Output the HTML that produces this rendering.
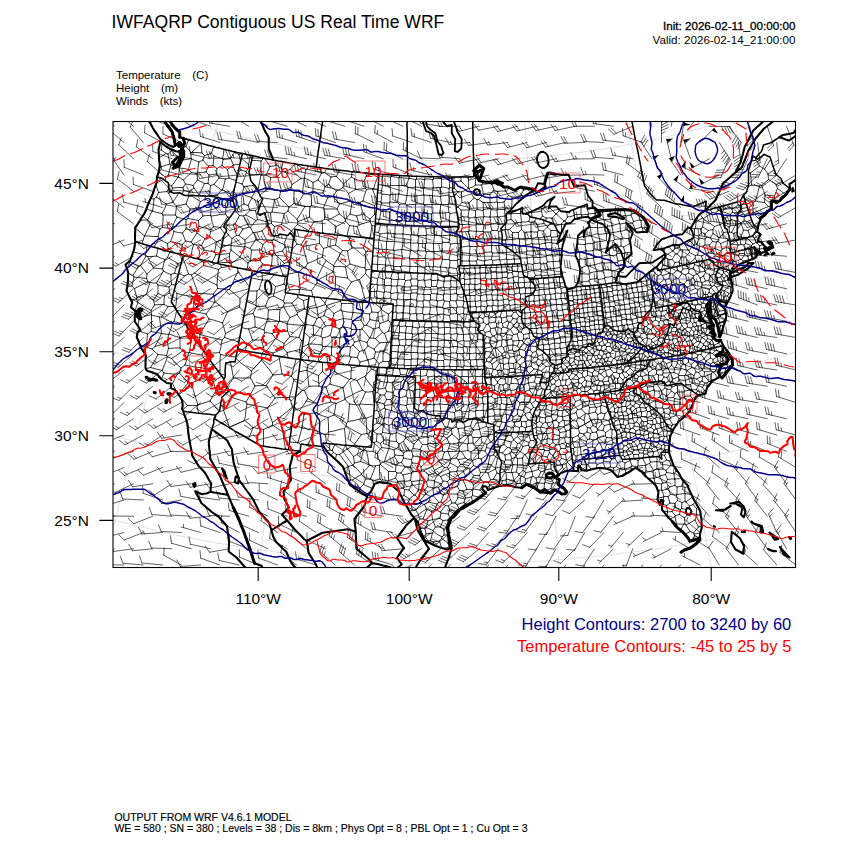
<!DOCTYPE html>
<html><head><meta charset="utf-8"><title>WRF</title>
<style>
html,body{margin:0;padding:0;background:#fff;}
body{width:850px;height:850px;position:relative;overflow:hidden;font-family:"Liberation Sans",sans-serif;color:#000;}
.t{position:absolute;white-space:pre;line-height:1;}
#title{left:111.6px;top:13.69px;font-size:17.5px;letter-spacing:0.04px;}
#f1,#f2,#f3{left:116px;font-size:11.5px;word-spacing:0.7px;}
#f1{top:70.07px}#f2{top:82.77px}#f3{top:95.77px}
#init,#valid{right:54.6px;font-size:11.65px;text-align:right;}
#init{top:20.14px;-webkit-text-stroke:0.3px #000;}
#valid{top:33.54px;}
#hc,#tc{right:58.7px;font-size:16.5px;text-align:right;}
#hc{top:615.73px;color:#00008b;}
#tc{top:637.93px;color:#ff0000;}
.lat{font-size:15.5px;right:761px;text-align:right;}
.lon{font-size:15.5px;transform:translateX(-50%);top:590.68px;}
#b1,#b2{left:114.4px;font-size:10.5px;-webkit-text-stroke:0.15px #000;}
#b1{top:812.1px}#b2{top:823.17px}
svg{position:absolute;left:0;top:0;}
</style></head><body>
<div class="t" id="title">IWFAQRP Contiguous US Real Time WRF</div>
<div class="t" id="f1">Temperature   (C)</div>
<div class="t" id="f2">Height   (m)</div>
<div class="t" id="f3">Winds   (kts)</div>
<div class="t" id="init">Init: 2026-02-11_00:00:00</div>
<div class="t" id="valid">Valid: 2026-02-14_21:00:00</div>
<div class="t lat" id="la45" style="top:175.68px">45°N</div>
<div class="t lat" id="la40" style="top:260.35px">40°N</div>
<div class="t lat" id="la35" style="top:344.08px">35°N</div>
<div class="t lat" id="la30" style="top:428.08px">30°N</div>
<div class="t lat" id="la25" style="top:512.68px">25°N</div>
<div class="t lon" id="lo110" style="left:258.2px">110°W</div>
<div class="t lon" id="lo100" style="left:409.2px">100°W</div>
<div class="t lon" id="lo90" style="left:558.8px">90°W</div>
<div class="t lon" id="lo80" style="left:711.2px">80°W</div>
<div class="t" id="hc">Height Contours: 2700 to 3240 by 60</div>
<div class="t" id="tc">Temperature Contours: -45 to 25 by 5</div>
<div class="t" id="b1">OUTPUT FROM WRF V4.6.1 MODEL</div>
<div class="t" id="b2">WE = 580 ; SN = 380 ; Levels = 38 ; Dis = 8km ; Phys Opt = 8 ; PBL Opt = 1 ; Cu Opt = 3</div>
<svg width="850" height="850" viewBox="0 0 850 850">
<defs><clipPath id="fc"><rect x="113" y="121.5" width="682.5" height="446"/></clipPath></defs>
<g clip-path="url(#fc)" fill="none" stroke-linejoin="round" stroke-linecap="round">
<path transform="scale(0.5)" stroke="#d4d4d4" stroke-width="1.4"  d="M-260 1046l58 25 59 24 59 22 60 22 60 19 60 19 61 17 61 16 62 15 62 13 62 11 63 11 62 9 63 8 63 6 63 5 64 3 63 2 63 1 63-1 64-2 63-3 63-5 63-6 63-8 63-9 62-10 62-12 62-13 62-15 61-16 61-17 61-18 60-20 59-21 60-23 58-24 58-25 58-26M-193 894l55 24 56 22 55 21 57 20 56 19 57 17 58 17 57 14 58 14 59 13 58 11 59 9 59 9 59 7 60 6 59 5 60 3 59 2 60 1 60-1 59-2 60-3 59-5 60-6 59-7 59-8 59-10 59-11 58-13 58-13 58-15 57-17 57-17 57-19 56-20 56-21 55-22 55-24 54-25M-126 745l51 22 52 21 53 20 52 19 54 17 53 17 54 15 54 14 55 13 55 12 55 10 55 9 56 8 55 7 56 6 56 4 56 3 56 2 56 0 56 0 56-2 56-3 56-4 56-6 56-7 55-8 55-9 55-10 55-12 55-13 54-14 54-15 54-16 53-18 53-19 52-20 52-21 52-22 51-23M-61 598l48 21 49 19 49 19 50 18 49 16 51 15 50 15 51 13 51 12 52 11 51 10 52 8 52 8 52 6 52 5 53 4 52 3 53 2 52 0 53 0 52-2 53-3 52-4 52-5 52-6 52-8 52-8 52-10 51-11 51-12 51-13 51-14 50-16 50-16 49-18 49-18 49-20 48-21 48-22M4 452l45 19 46 18 45 18 46 16 47 16 47 14 47 13 47 12 48 12 48 10 48 9 49 8 48 7 49 6 48 5 49 4 49 2 49 2 49 0 49 0 49-2 49-2 49-4 49-5 48-6 49-7 48-8 48-9 48-10 48-11 47-13 48-13 46-14 47-16 46-16 46-17 45-19 45-19 45-21M69 305l42 18 42 17 43 16 42 16 44 14 43 13 44 13 44 11 44 10 45 10 44 8 45 8 45 6 45 6 46 4 45 4 45 2 46 2 45 0 46 0 45-2 46-2 45-4 45-4 45-6 45-6 45-8 45-8 44-10 45-10 44-11 43-13 44-13 43-14 43-15 42-17 43-17 41-18 42-19M135 157l38 17 39 16 39 15 40 14 40 13 40 12 40 11 41 11 40 9 41 9 42 8 41 7 41 6 42 5 42 4 42 3 41 3 42 1 42 0 42 0 42-1 42-3 42-3 41-4 42-5 41-6 42-7 41-8 41-8 41-10 40-10 41-12 40-12 40-13 39-14 39-15 39-16 39-17 38-17M202 7l35 15 35 14 36 14 36 13 37 12 36 11 37 10 37 10 37 9 38 8 38 7 37 6 38 6 38 4 38 4 38 3 39 2 38 1 38 1 39-1 38-1 38-2 38-3 38-4 38-4 38-6 38-6 38-7 37-8 37-9 37-10 37-10 37-11 36-12 36-13 36-14 36-14 35-15 35-16M-138 1170l464-1221M171 1268l327-1265M488 1332l187-1293M811 1360l43-1305M1135 1353l-101-1302M1456 1310l-243-1283M1770 1233l-382-1249M2074 1121l-517-1199"/>
<path transform="scale(0.5)" stroke="#000" stroke-width="1.56"  d="M260 524l-6 13M264 572l-9 1M266 551l-9-4M260 522l0 2M278 532l-9-4-9-4M267 599l-6-1M264 572l5 5M268 554l-2 9-2 9M267 599l-3 4M266 551l2 3M278 532l-6 9-6 10M291 510l-8-2-8-2-8-2M273 598l-6 1M293 557l-8-1-9-1-8-1M269 577l2 9 3 9M296 563l-13 7-14 7M276 605l-3 8-3 8M270 631l8 6-2 14M271 457l9 7 9 8M273 598l3 7M274 595l-1 3M274 595l9-3 10-3M302 621l-9-5-8-5-9-6M281 531l-3 1M279 662l8 3 8 3M293 694l-7-2-6-3M295 440l-7 0-7 1M281 531l6 8 7 9M292 512l-5 9-6 10M303 629l-11 3-11 4M289 472l-5 15M291 696l-6 3M289 472l9 0 9 1 9 0M301 448l-6 12-6 12M291 708l0-12M291 510l1 2M294 491l-1 10-2 9M293 694l-2 2M291 736l2 1M292 512l3 1M293 694l11 4M295 668l-1 13-1 13M293 737l0 1M301 735l-8 2M293 589l7 5 7 6M300 565l-4 12-3 12M293 418l6 2 5 2M293 557l3 6M294 548l-1 9M307 536l-13 12M302 663l-7 5M301 448l-6-8M304 422l-4 9-5 9M295 513l6 12 6 11M313 512l-9 1-9 0M296 563l4 2M313 566l-7 0-6-1M320 458l-10-5-9-5M301 735l11 3 12 3M316 709l-7 13-8 13M308 398l-6-1M302 621l1 8M309 610l-7 11M323 667l-10-2-11-2M303 630l0 11 0 11-1 11M303 629l0 1M319 634l-8-2-8-2M304 422l1 0M304 698l6 6 6 5M310 693l-6 5M305 422l9 3 10 2M308 398l-1 12-2 12M307 536l9 1 9 1M307 600l2 10M316 587l-9 13M318 478l-5 8-5 8M313 394l-5 4M309 610l9-1 10 0M323 667l-6 13-7 13M335 685l-12 4-13 4M312 370l5 15M315 365l-3 4M313 394l7 5 6 5 7 4M317 385l-4 9M316 570l-3-4M327 542l-7 12-7 12M330 519l-9-3-8-4M316 497l-3 15M314 358l1 7M315 365l12-6M338 574l-11-2-11-2M316 570l0 9 0 8M316 473l2 5M320 458l-2 8-2 7M316 587l7 3 6 2M333 711l-8-1-9-1M334 383l-9 1-8 1M318 344l-1 0M323 300l-5-1M318 343l0 1M331 354l-7-5-6-5M335 487l-8-4-9-5M332 307l-14 9M318 340l3-6M323 634l-4 0M319 634l2 16 2 17M320 333l1 1M325 455l-5 3M321 334l9-3 10-3M323 300l9 7M324 287l-1 13M337 669l-7-1-7-1M323 634l11 6 11 5M336 613l-6 10-7 11M328 746l-5 12M324 427l2 3M333 408l-4 10-5 9M324 741l4 5M335 714l-5 13-6 14M325 455l9 1 9 1M326 430l0 12-1 13M325 538l2 4M330 519l-3 10-2 9M351 430l-8 0-9 0-8 0M342 549l-8-3-7-4M328 609l8 4M329 592l-1 8 0 9M328 746l9 1 9 1 9 0M339 586l-10 6M335 515l-5 4M331 354l0 7M337 350l-6 4M336 308l-4-1M336 497l-4 4M346 405l-6 1-7 2M333 711l2 3M337 697l-4 14M334 383l3 3M337 377l-3 6M335 515l11 6 10 6M339 505l-4 10M335 685l2 12M337 669l-2 16M343 717l-8-3M335 487l1 10M341 483l-6 4M336 308l2 10 2 10M343 302l-7 6M347 613l-11 0M336 497l7 4 6 4M356 354l-9-2-10-2M342 330l-3 10-2 10M338 668l-1 1M337 386l5 9 4 9M342 384l-5 2M360 696l-11 0-12 1M338 369l5 3M339 586l-1-12M343 569l-5 5M360 675l-11-3-11-4M345 645l-3 12-4 11M339 504l0 1M339 505l3 0M345 592l-6-6M340 328l2 2M341 383l2 1M341 483l8 2 8 2 8 2M348 463l-3 10-4 10M342 549l0 10 1 10M349 546l-7 3M350 332l-8-2M345 767l-3 1M343 457l5 6M354 434l-6 12-5 11M343 372l2 4M356 354l-6 9-7 9M343 569l8 1M343 717l9 10 10 9M365 702l-11 8-11 7M343 302l9 8 8 8M344 300l-1 2M345 376l-2 8M345 300l-1 0M366 375l-11 0-10 1M348 643l-3 2M352 781l-7-14M355 748l-5 9-5 10M346 405l7 7M346 404l0 1M358 386l-6 9-6 9M347 613l6 9M348 612l-1 1M348 643l11 3 12 3M353 622l-2 10-3 11M365 466l-8-1-9-2M349 546l7 3M356 527l-4 10-3 9M349 580l5 7M354 587l-1 14-2 15M351 430l3 4M353 412l-1 9-1 9M369 552l-8 9-9 9M353 412l10-2 9-2M354 622l-1 0M390 594l-12-2-12-2-12-3M372 439l-9-2-9-3M354 507l7-1M354 621l9 1 8 2 9 2M359 746l-4 2M362 525l-6 2M357 333l-1 0M357 354l-1 0M357 333l2 3M357 354l5 3 5 3M359 336l-1 9-1 9M377 765l-10 12-10 11M358 547l11 5M377 339l-9-2-9-1M359 746l9 10 9 9M362 736l-3 10M360 696l5 6M360 675l0 10 0 11M360 509l4 11M375 672l-7 1-8 2M361 506l5 4M365 489l-2 8-2 9M370 730l-8 6M362 796l7 8 6 7M364 320l9-1 9-2M367 380l-2 8M371 482l-6 7M377 706l-6-2-6-2M365 296l1 0M365 466l6 16M372 458l-7 8M366 296l-1 1M372 293l-6 3M375 811l-9 8M377 548l-5-15-6-16M370 512l-4 5M366 375l1 5M371 368l-5 7M367 360l4 8M383 345l-8 7-8 8M378 384l-6-2-5-2M369 552l8-4M370 730l10 2 10 2 10 1 10 2M377 706l-3 12-4 12M371 368l7 1 8 2M382 484l-11-2M372 293l5 6 5 6M377 280l-5 13M372 408l8 10M377 393l-5 15M393 462l-10-2-11-2M372 439l0 10 0 9M376 437l-4 2M374 654l1 9 0 9M394 811l-9 0-10 0M375 672l8 4M377 393l-1-2M376 437l10 2 11 2M380 418l-2 9-2 10M378 384l-1 6M384 392l-7 1M382 766l-5-1M377 339l6 6M383 318l-3 10-3 11M383 550l-6-2M379 705l-2 1M388 376l-10 8M404 710l-12-2-13-3M383 676l-2 15-2 14M380 418l8-1 9-2M380 626l0 11 0 12 0 11M385 622l-5 4M380 661l10 4 10 3M382 317l1 1M382 305l0 12M387 489l-3 12-2 13M383 305l-1 0M382 484l5 5M394 466l-6 9-6 9M382 766l5 15 4 14 5 15M414 754l-11 4-10 4-11 4M398 324l-8-3-7-3M383 550l4 12 5 13 4 12M389 546l-6 4M383 305l11 0 10 1M402 287l-9 9-10 9M394 347l-11-2M388 675l-5 1M384 392l9 6 8 5M385 391l-1 1M412 628l-9-2-9-2-9-2M390 594l-2 14-3 14M386 371l2 5M395 360l-9 11M387 489l8 1 8 1M388 376l5 7 5 7M389 546l9 5 9 5 9 5 9 5 9 4M407 531l-9 7-9 8M396 587l-6 7M393 462l1 4M398 453l-5 9M394 347l1 13M395 346l-1 1M410 477l-8-5-8-6M397 826l-3-15M396 810l-2 1M398 324l-2 11-1 11M412 344l-9 1-8 1M395 360l7 3 7 4M396 810l12-4 12-4M427 588l-11 0-10-1-10 0M408 500l-6 9-6 9M398 390l-1 1M397 519l10 6M397 415l5 8 4 9M401 403l-4 12M397 441l1 12M406 432l-9 9M406 320l-8 4M410 392l-6-1-6-1M409 367l-5 11-6 12M400 669l-1 9-1 9M422 459l-8-2-8-2-8-2M400 668l0 1M418 638l-6 10-6 10-6 10M444 680l-11-3-11-2-11-3-11-3M410 398l-9 5M404 306l-1-10-1-9M403 491l5 9M410 477l-7 14M404 306l5 5M404 710l9 15M407 702l-3 8M406 320l5 6 6 6M409 311l-3 9M421 431l-7 0-8 1M407 525l0 6M408 521l-1 4M437 539l-10-3-10-3-10-2M429 504l-11-2-10-2M423 306l-7 3-7 2M416 367l-7 0M410 737l4 17M413 725l-3 12M419 473l-9 4M410 398l7 4 7 4M411 393l-1 5M412 344l6 6M417 332l-5 12M439 705l-9 1-9 0-9 1M412 628l6 10M430 603l-9 13-9 12M413 725l7-3M427 764l-7-5-6-5M416 367l5 4M418 350l-1 8-1 9M426 331l-9 1M418 638l9 2 9 3 9 3M433 348l-8 1-7 1M421 371l-1 10-1 10M419 391l8 0 7 0M419 473l7 5 7 6M422 459l-3 14M420 722l1 0M421 722l-1 0M420 802l9 10 9 11M432 781l-6 10-6 11M421 431l1 1M424 406l-2 13-1 12M428 369l-7 2M422 432l2 11 3 10M451 428l-10 1-10 2-9 1M427 453l-5 6M423 306l5 6M427 294l-4 12M427 405l-3 1M432 509l-4 8-4 7M426 331l8 6M428 312l-1 10-1 9M427 453l7 1 6 1M427 588l3 15M435 577l-8 11M427 764l5 17M443 752l-8 6-8 6M428 294l-1 0M427 405l8 2 8 2 7 2M432 395l-5 10M445 317l-9-2-8-3M428 369l8 6 7 5M438 356l-10 13M429 504l3 5M433 484l-2 10-2 10M455 624l-8-7-9-7-8-7M439 510l-7-1M453 785l-10-2-11-2M433 348l5 8M434 337l-1 11M441 481l-8 3M434 570l1 7M437 539l-2 16-1 15M444 331l-10 6M434 391l4 5M443 380l-9 11M459 579l-12-1-12-1M460 525l-12 0-11-1M443 535l-6 4M451 358l-6-1-7-1M441 709l-2-4M444 680l-2 13-3 12M459 507l-10 1-9 1M441 709l-1 13 0 12 0 12M440 455l9 12M455 434l-7 11-8 10M471 714l-10-1-10-2-10-2M441 481l4 3M447 472l-6 9M443 535l-2-6M441 748l9 2M442 812l2-1M457 533l-7 1-7 1M445 380l-2 0M462 491l-9 0-9 0M449 675l-5 5M444 331l6 4 5 4M446 319l-2 12M444 811l5 15 5 14 5 15 15-7 15-7M464 795l-10 8-10 8M445 317l1 2M448 299l-1 9-2 9M445 380l8 4 8 4M451 358l-3 11-3 11M445 646l3 10 3 11M445 646l5-11 5-11M461 317l-7 1-8 1M457 470l-10 8M449 675l9 3 8 2 8 3M451 667l-2 8M450 411l2 4M454 400l-4 11M484 649l-11 6-11 6-11 6M451 428l4 6M452 415l-1 13M451 447l1 1M458 356l-7 2M452 415l8-1 8-2M452 448l2 3M459 437l-7 11M454 451l-2 7M452 464l5 6M452 772l3 1M456 783l-3 2M467 450l-6 0-7 1M455 339l3 17M465 331l-10 8M455 773l5 11 4 11M467 756l-6 8-6 9M459 435l-4-1M479 614l-12 5-12 5M457 470l7 7M458 356l7 3 7 2M462 397l-3 3M459 507l0 9 1 9M462 500l-3 7M459 579l7 6 7 6 7 6M476 543l-6 12-5 12-6 12M460 525l2 2M461 725l3 15 3 16M461 317l6 13M469 305l-8 12M461 388l1 9M468 379l-7 9M489 494l-9-1-9-1-9-1M462 491l0 9M464 477l-2 14M462 397l4 1M480 514l-9-7-9-7M462 527l2 6M480 514l-9 7-9 6M473 471l-9 6M492 804l-9-3-10-3-9-3M465 331l5 10 5 9M467 330l-2 1M472 395l-6 3M467 756l11 0 11 0 12 0M479 329l-6 0-6 1M467 450l3 11 3 10M470 448l-3 2M475 391l-7-7M468 304l1 0 0 1M473 424l-4-1M478 309l-9-4M470 448l8 5 8 5M479 431l-4 8-5 9M472 360l0 1M472 364l6 2 6 2M472 717l10 9 11 8 10 8M472 395l3 10 2 9M475 391l-3 4M473 424l6 7M477 414l-4 10M485 701l-12 13M473 471l5 0M474 683l3 2M478 680l-4 3M484 388l-9 3M475 536l0 1M475 537l1 6M477 537l-2 0M476 697l2 2M476 543l7 10 8 10 7 10M482 340l-5 4M488 408l-11 6M478 471l6 5 6 4M486 458l-8 13M478 309l3 14M484 307l-6 2M479 334l3 6M487 432l-8-1M479 614l9 9M480 597l0 9-1 8M480 674l7 7 6 8M489 494l-4 10-5 10M480 514l8 6 8 6M496 583l-8 7-8 7M482 340l10 3M497 329l-7-6-7-7M497 658l-7-1-6-2M484 368l4 6M493 345l-4 12-5 11M484 388l1 0M488 374l-4 14M485 388l9 4 9 3M485 388l2 10 1 10M498 454l-12 4M487 432l6 11 5 11M491 430l-4 2M488 623l0 2M489 622l-1 1M506 371l-9 1-9 2M488 408l8 3M488 632l9-3 9-2M490 493l-1 1M489 841l9 7 8 7M494 808l-2 11-1 11-2 11M490 480l0 13M506 465l-8 8-8 7M490 493l10 4M495 536l-4 2M491 430l7 3 7 4 7 4M500 421l-9 9M493 689l-2 12M492 343l1 2M497 336l-5 7M492 804l2 4M510 772l-6 11-6 11-6 10M499 350l-6-5M505 680l-12 9M512 611l-9-4-9-4M494 808l10 2 11 2 10 2 10 2M495 536l5 3 6 2M496 526l-1 10M496 411l4 10M504 396l-4 7-4 8M501 522l-5 4M497 329l0 7M501 311l-2 9-2 9M497 658l4 11 4 11M510 654l-13 4M506 855l-4 11-5 11M497 336l3-1M498 582l8 0 8 0M498 454l3 1M500 349l11 0 11 0M500 497l3 3M512 478l-6 10-6 9M511 421l-11 0M501 455l5 10M512 441l-6 7-5 7M501 756l9 16M503 742l-2 14M503 500l-1 11-1 11M520 521l-10 0-9 1M523 500l-10 0-10 0M503 556l10 2 11 2M523 720l-10 11-10 11M503 395l1 1M512 378l-4 9-5 8M504 321l9 0 9 1M504 396l6 4 6 4M505 680l9 0 9 0M506 627l3 6M513 613l-7 14M506 465l1 0M506 371l6 7M507 368l-1 3M527 859l-10-2-11-2M507 465l5 13M524 462l-8 2-9 1M535 639l-9-2-8-2-9-2M509 633l1 10 0 11M532 771l-11 0-11 1M510 654l9 3 9 3M511 421l2 9 2 9M517 416l-6 5M512 478l7 6 7 5M512 611l1 2M514 582l-1 15-1 14M514 379l-2-1M515 439l-3 2M531 612l-9 1-9 0M525 528l-6 7-5 8M519 578l-5 4M532 443l-8-2-9-2M522 350l-3 15-3 15M516 404l1 12M524 397l-8 7M517 416l1 0M517 428l8-1M519 578l9 9 10 9M524 560l-3 9-2 9M520 521l5 7M525 503l-3 9-2 9M532 380l-12 10M522 349l0 1M522 322l0 13 0 14M527 317l-5 5M527 351l-5-1M523 680l3 11 3 11M530 665l-4 7-3 8M523 500l2 3M526 489l-3 11M549 400l-8-2-9-1-9-2M523 404l6 10 5 10M529 702l-6 5M523 720l8 10 8 10 7 10M524 708l-1 12M525 560l-1 0M524 462l5 10 5 10M533 452l-9 10M524 546l1 14M525 560l6 0 7 1M545 510l-10-4-10-3M525 528l8 2 9 2M534 482l-8 7M527 351l2 14 3 15M532 350l-5 1M527 859l0 16 0 16M545 850l-9 5-9 4M528 660l2 5M535 639l-4 11-3 10M529 317l6 8 5 8M533 702l-4 0M544 667l-7-1-7-1M539 545l-9 1M534 424l-4 2M531 612l6 8M538 596l-4 8-3 8M540 376l-8 4M550 796l-9-13-9-12M546 750l-7 11-7 10M541 355l-9-5M540 333l-4 9-4 8M532 443l1 9M534 441l-2 2M537 454l-4-2M546 706l-6-2-7-2M551 677l-9 13-9 12M534 424l7 2M544 481l-10 1M536 637l-1 2M535 816l5 15 5 14M550 796l-7 10-8 10M536 637l11 3 11 3M537 620l-1 9 0 8M560 619l-12 0-11 1M543 447l-6 1M538 561l6 6 7 6M548 550l-10 11M547 592l-9 4M539 545l1 2M542 532l-3 13M540 376l7 2 7 2 7 3M541 355l-1 10 0 11M553 330l-6 2-7 1M555 353l-7 1-7 1M541 426l1 10 1 11M544 424l-3 2M543 531l-1 1M543 531l8 1 9 1M545 510l-1 10-1 11M543 447l6 6M544 481l3 13 2 13M547 479l-3 2M544 667l7 10M547 665l-3 2M569 427l-9-1-8-1-8-1M544 424l3-12 2-12M545 850l10 7 11 7M545 845l0 5M549 507l-4 3M585 814l-13 11-13 10-14 10M549 453l-2 9-1 9M546 706l1 5M567 697l-11 5-10 4M564 748l-9 1-9 1M547 479l10 5 11 5M549 472l-2 7M547 592l10 5 10 5M551 573l-2 9-2 10M558 643l-5 11-6 11M547 665l9-1 9-1 10-1M549 507l10 10 10 10M565 502l-8 2-8 3M559 395l-10 5M563 449l-7 2-7 2M553 330l-3-9M578 795l-9 0-9 0-10 1M568 568l-8 3-9 2M568 687l-8-5-9-5M563 337l-5-3-5-4M555 353l4 14 4 14M565 342l-10 11M558 714l2 11 2 11 2 12M559 642l-1 1M559 395l9 9 10 10M561 383l-2 12M559 642l8 3 7 2M560 619l-1 12 0 11M567 612l-7 7M560 533l6 17M569 527l-9 6M563 381l-2 2M563 337l2 5M566 324l-3 13M563 381l10-3 9-3M563 449l10 6 10 7M569 427l-3 11-3 11M564 748l10 2 9 3M565 502l6 10 6 10M570 494l-5 8M571 343l-6-1M566 550l-1 2M566 864l1 11 2 11 2 12M580 858l-14 6M575 550l-9 0M567 612l6 12 7 11M569 606l-2 6M567 602l2 4M572 586l-3 8-2 8M567 697l7 8M568 687l-1 10M568 489l2 5M574 471l-3 9-3 9M572 572l-4-4M570 553l-2 15M580 673l-12 14M576 422l-7 5M576 524l-7 3M584 606l-8 0-7 0M584 495l-7-1-7 0M571 343l7 13 6 13M580 339l-9 4M574 647l0 1M580 635l-6 12M574 585l5-5M607 651l-11-1-11-1-11-1M574 648l1 14M574 565l5 15M574 705l2 10M599 699l-12 3-13 3M575 662l5 11M576 524l3 4M577 522l-1 2M576 422l9 8 9 9M578 414l-2 8M580 519l-3 3M597 544l-10 2-10 2M588 407l-10 7M578 795l4 9 3 10M579 794l-1 1M579 580l10-1 10 0M579 794l11 0M588 759l-3 12-3 11-3 12M582 468l-3-1M582 859l-2-1M584 845l-4 13M580 884l8 1 8 0M602 357l-7-6-8-6-7-6M590 328l-10 11M583 462l-3 4M580 673l9 1 9 1M580 635l7-3 7-3M582 515l9 7 8 6 9 7M582 375l6 7M584 369l-2 6M595 449l-12 13M583 462l5 6M583 753l5 6M592 719l-3 11-3 11-3 12M584 606l6 10 5 9M596 595l-12 11M584 852l10 1 10 2M602 357l-9 6-9 6M584 499l10-11M585 814l2 3M589 480l-2 0M588 407l7 1M588 382l0 12 0 13M592 819l-4 4M595 759l-7 0M605 384l-8-1-9-1M594 488l-5-8M589 480l1-9 0-9M589 814l3 5M605 781l-13 12M612 339l-10-5-10-6M599 821l-7-2M594 439l2 4M610 413l-8 13-8 13M602 490l-8-2M594 629l7 10 8 10M595 625l-1 4M595 773l10 8M595 408l7 3 8 2M608 386l-6 11-7 11M595 449l8 4 7 4 7 4M596 443l-1 6M595 590l1 5M609 618l-14 7M607 601l-11-6M619 434l-12 5-11 4M596 885l5 4M604 856l-4 14-4 15M597 544l1 11 1 12 1 11M608 535l-11 9M598 675l5 6M607 651l-5 12-4 12M599 579l-1 10M614 740l-8 2-8 2M600 578l-1 1M599 699l4 2M599 699l1 8 1 9M603 681l-2 9-2 9M599 821l9 8M616 797l-8 12-9 12M623 581l-11-1-12-2M602 490l4 3M618 463l-8 14-8 13M609 356l-7 1M606 681l-3 0M603 720l7 5 6 5M604 855l0 1M604 855l2-13 2-13M604 702l6 6 7 6M626 860l-11-2-11-2M616 689l-11 5M605 781l4 0M605 384l3 2M609 356l-2 14-2 14M606 493l3 11 3 12 3 11M639 487l-11 2-11 2-11 2M607 601l1 9 1 8M617 598l-10 3M609 649l-2 2M611 534l-3 1M608 829l13-2 13-2M622 390l-7-2-7-2M609 618l5 2M609 649l1 0M609 665l11 10M609 781l7 16M618 773l-9 8M626 365l-8-5-9-4M612 339l-2 9-1 8M613 649l-4 12M620 413l-10 0M611 534l7 9 7 8 8 8M615 527l-4 7M611 649l1 0M612 644l0 5M614 338l-2 1M612 649l1 0M613 649l6 1 7 1M615 628l-1 1M614 740l0 1M616 730l-2 10M614 338l10 3 9 2 10 3M617 332l-3 6M637 751l-12-5-11-5M614 741l2 16 2 16M615 628l9 5 10 4M619 617l-4 11M615 527l10-4 10-5 10-4M616 689l6 9 7 8M617 688l-1 1M619 617l-3-5M635 809l-9-6-10-6M626 723l-10 7M626 860l-4 15-5 14M644 690l-9-1-9-1-9 0M620 675l-3 13M617 714l1 7M629 706l-12 8M617 461l1 1M628 443l-5 9-6 9M618 773l10-1 10 0M620 593l-2 2M628 443l-9-9M620 413l-1 11 0 10M633 615l-7 1-7 1M623 411l-3 2M627 670l-7 5M622 390l1 10 0 11M626 386l-4 4M623 411l8 2 8 2 8 1M623 581l3 12M634 566l-5 7-6 8M626 365l0 10 0 11M636 360l-10 5M646 386l-10 0-10 0M629 860l-3 0M626 651l1 10 0 9M628 650l-2 1M642 673l-7-2-8-1M628 594l2 10 3 11M628 650l8 4 9 3M634 637l-6 13M644 442l-8 1-8 0M629 706l10 2M629 860l11 5 11 5M636 828l-2 10-3 11-2 11M633 615l1 0M633 559l1 2M652 521l-7 12-6 13-6 13M634 615l1 10 2 10M651 609l-9 3-8 3M637 635l-3 2M634 825l2 3M636 811l-2 14M634 561l0 5M666 544l-11 6-10 5-11 6M634 566l11 5 10 5 11 5M635 809l1 2M645 774l-3 12-4 12-3 11M636 360l7 6 7 7M643 346l-7 14M636 828l10 4 10 3M662 804l-13 3-13 4M639 708l-3 15M637 751l0 10 1 11M645 743l-8 8M637 635l3 0M638 772l7 2M645 725l-7-1M639 466l0 11 0 10M641 706l-2 2M647 497l-8-10M640 635l6 8 5 9M648 631l-8 4M640 336l4 10M650 606l-10-11M641 706l6 4 7 3M646 693l-5 13M642 673l3 3M645 657l-3 16M644 346l-1 0M649 345l-5 1M644 442l1 12 0 12M649 438l-5 4M644 690l2 3M645 676l-1 14M651 652l-6 5M645 774l7 0M645 676l8-2 7-3M645 466l2 0M645 514l7 7M647 497l-1 8-1 9M645 725l0 9 0 9M646 725l-1 0M645 743l8 7 8 7M646 386l9 10M650 373l-4 13M663 694l-8-1-9 0M647 416l1 2M655 396l-4 10-4 10M671 490l-12 3-12 4M648 631l8 4 9 4M654 613l-3 9-3 9M674 418l-8 0-9 0-9 0M648 418l1 10 0 10M648 887l11 10M649 345l7 5 6 4M653 338l-4 7M649 438l7 2M657 369l-7 4M650 606l1 3M654 597l-4 9M651 609l2 2M651 870l2 16M651 870l6-6M651 652l7-1 6-1M667 531l-8-5-7-5M652 774l5 15 5 15M660 768l-8 6M653 611l1 2M681 603l-10 2-9 3-9 3M654 713l1 12M663 710l-9 3M660 900l-6 2M654 613l7 7 7 7M666 393l-11 3M666 581l-5 8-6 7M656 440l8 7 8 6M656 440l12-6 11-6M656 835l1 15 0 14M668 830l-12 5M657 369l8 7 8 6M662 354l-5 15M657 864l11-2 10-3 11-2M659 888l0 9M659 897l1 3M660 768l9 3 8 2 9 3M661 757l-1 11M660 900l4 1M660 671l4 4M665 652l-2 10-3 9M669 743l-8 14M673 353l-5 0-6 1M667 905l-5 5M662 804l10 3M663 694l0 16M664 694l-1 0M663 710l7 5 6 5M664 675l8 0 8 1M664 675l0 9 0 10M678 693l-7 1-7 0M664 901l3 4M670 889l-6 12M664 650l1 2M665 643l-1 7M665 639l0 4M668 627l-3 12M687 637l-11 3-11 3M670 729l-5-2M678 657l-6-2-7-3M666 544l5 9M668 533l-2 11M670 580l-4 1M666 393l7 8 6 7M673 382l-7 11M676 721l-10 5M667 531l1 2M685 501l-9 15-9 15M673 909l-6-4M691 534l-8-1-7 0-8 0M682 620l-7 3-7 4M668 830l13 8 12 9M672 807l-2 12-2 11M672 453l-1 8-2 8M699 759l-10-5-10-5-10-6M670 729l-1 14M671 728l-1 1M670 580l9 4 9 3M671 553l0 14-1 13M685 501l-7-6-7-5M675 471l-2 9-2 10M673 909l-2 9M695 556l-8-1-8-1-8-1M690 799l-9 4-9 4M691 442l-9 6-10 5M686 375l-6 4-7 3M679 909l-6 0M673 353l7 7 7 8M678 341l-5 12M679 428l-5-10M679 408l-5 10M676 721l1 1M676 720l0 1M682 712l-6 8M689 729l-12-7M677 722l0 6M678 657l2 9 1 8M686 654l-8 3M678 693l2 2M680 676l-1 9-1 8M679 909l9 12 9 12M694 898l-8 6-7 5M679 428l6 5 6 5M679 408l11-3 11-3M680 695l1 8 1 9M695 693l-8 1-7 1M680 600l1 3M681 674l-1 2M681 603l2 4M689 674l-8 0M682 712l9 0 8 0M682 620l2 2M683 607l-1 13M706 607l-11 0-12 0M706 625l-11-1-11-2M684 622l3 15M695 502l-10-1M685 600l3-13M686 654l8 1 8 2M687 637l0 8-1 9M686 776l2 10 2 11M699 759l-6 8-7 9M686 375l6 6 5 6M687 368l-1 7M703 354l-8 7-8 7M687 637l8 1 8 1M688 587l1 0M697 933l-9 5M689 857l1 11 1 11 1 11M692 852l-3 5M689 674l3 10 3 9M701 671l-12 3M689 587l10 4 9 3 9 4 9 4M703 564l-7 11-7 12M690 799l9 9M690 797l0 2M725 780l-12 5-11 6-12 6M691 891l3 7M691 442l8 9M691 438l0 4M700 428l-9 10M691 534l2 11 2 11M700 528l-9 6M692 852l10 6 11 6 10 5M693 847l-1 5M696 843l-3 4M695 898l-1 0M699 451l-3 11-2 10M695 556l8 8M695 898l12 15M705 892l-10 6M695 502l2 13 3 13M704 496l-9 6M695 693l6 1M696 958l4 3M699 808l-1 12-1 11-1 12M696 843l12-2 12-3 11-2M697 933l2 14 2 13M697 387l4 15M711 379l-7 4-7 4M702 714l-5 15M706 930l-9 3M697 473l4 12 3 11M700 961l-2 2M699 451l7 1 8 1M702 757l-3 2M699 712l3 2M701 694l-1 9-1 9M718 810l-10-1-9-1M730 536l-10-2-10-3-10-3M700 731l3 5M701 960l-1 1M700 428l7 2 6 2M704 405l-2 12-2 11M706 690l-5 4M701 671l8 13M703 659l-2 12M701 402l3 3M701 960l4 0M702 757l12 4M703 736l-1 10 0 11M702 714l12 1M702 657l1 2M705 642l-3 15M719 559l-8 2-8 3M721 732l-9 2-9 2M703 639l2 3M706 625l-3 14M703 354l6 4M704 344l-1 10M720 659l-8 0-9 0M704 496l8 0 8 0 7 0M720 405l-8 0-8 0M705 642l8-1 9-1M726 901l-11-5-10-4M705 960l8 8 7 8M723 949l-9 5-9 6M706 607l0 9 0 9M724 627l-9-1-9-1M706 930l9 9 8 9M709 926l-3 4M710 603l-4 4M706 690l7 7 6 6M709 684l-3 6M723 869l-8 11-8 11M707 913l2 13M726 901l-9 6-10 6M728 363l-10-2-9-3M709 358l1 10 1 11M720 681l-11 3M709 926l12-3M725 606l-7-1-8-2M711 379l10-1 10-1M713 432l3 9 2 9M713 432l7-2 7-2M714 453l4 11 4 10M718 450l-4 3M714 761l5 9 6 10M729 753l-8 4-7 4M714 715l6 9M719 703l-5 12M719 730l-2 1M740 443l-11 3-11 4M718 810l6 13 7 13M720 808l-2 2M719 981l-1 1M729 700l-10 3M719 730l2 1M720 724l-1 6M719 981l10 8M720 976l-1 5M719 559l4 13 3 13 4 13M731 547l-12 12M748 810l-9-1-10 0-9-1M731 784l-5 12-6 12M720 681l7 2 7 2M720 659l0 11 0 11M727 969l-7 7M720 405l3 12 4 11M726 402l-6 3M724 658l-4 1M735 720l-7 2-8 2M721 923l9 3 8 4M727 901l-3 11-3 11M722 640l6 11M724 627l-2 13M723 948l0 1M739 931l-8 9-8 8M723 949l8 9M734 867l-11 2M725 626l-1 1M724 658l8 9 7 9M728 651l-4 7M725 626l7 1 7 1M725 606l0 10 0 10M728 604l-3 2M725 780l6 4M726 402l7 3 8 3 8 3M733 379l-4 11-3 12M726 893l2 7M727 901l-1 0M726 602l0 1M730 598l-4 4M727 428l6 5 7 5M728 900l-1 1M727 496l5 7M733 476l-3 10-3 10M727 969l9 4 9 4M731 958l-4 11M728 363l3 14M733 351l-5 12M729 900l-1 0M733 650l-5 1M729 753l9 13 10 12M743 738l-7 8-7 7M729 700l3 10 3 10M736 692l-7 8M729 900l4 2M733 894l-4 6M730 598l8-4M730 536l2 4M732 503l-1 11 0 11-1 11M733 351l-3-5M741 958l-10 0M731 547l10 11M732 540l-1 7M731 836l1 1M743 981l-12 9M731 377l2 2M731 784l7 0 7-1M745 504l-6-1-7 0M743 538l-11 2M732 837l1 15 1 15M747 831l-8 3-7 3M750 348l-9 1-8 2M745 378l-6 0-6 1M733 650l7 4 7 4M740 639l-7 11M733 902l13 1M733 902l3 14 2 14M734 867l1 1M734 685l2 7M739 676l-5 9M735 720l1 0M735 868l6 6M745 860l-10 8M743 889l-7 4M736 720l3 13M748 716l-12 4M748 698l-12-6M738 930l1 1M739 628l1 11M744 624l-5 4M740 596l-1 9M739 605l3 10 2 9M739 931l12 1M739 595l1 1M742 583l-3 12M739 676l1 0M740 443l4 8M740 438l0 5M740 676l11 1M747 658l-3 9-4 9M744 451l-2 13-2 12M757 642l-9-1-8-2M749 429l-9 9M740 581l2 2M754 596l-7 0-7 0M740 734l3 4M742 569l-1 1M741 874l2 13M741 874l3-1M741 958l5 4M751 932l-5 13-5 13M742 564l0 5M754 569l-6 0-6 0M742 583l11 0M743 554l-1 0M743 554l6 2 6 1M744 542l-1 12M743 542l1 0M752 742l-9-4M750 452l-6-1M749 885l-5-1M756 625l-12-1M755 529l-11-1M745 542l-1 0M745 542l6 1 6 0M745 541l0 1M747 863l-2 1M745 378l4 11 5 11M747 378l-2 0M745 783l2 9 2 8M748 781l-3 2M746 512l9 0M746 854l1 9M754 846l-8 5M746 903l8 4M749 885l-1 9-2 9M746 962l1 11M760 958l-14 4M755 378l-8 0M756 352l-5 13-4 13M757 497l-10-1M747 836l6 1M758 655l-11 3M747 863l7 5M764 849l-8 7-9 7M748 698l3 6M759 686l-11 12M748 781l2 0M748 778l0 3M750 770l-2 8M748 480l10 0M748 716l10 11M751 704l-3 12M754 821l-6 1M749 606l7 6 7 5M751 429l-2 0M749 411l0 9 0 9M753 883l-4 2M753 408l-4 3M749 464l8 1M749 803l5 1M752 742l-1 14-1 14M750 770l1 0M760 449l-9 1M755 785l-4 1M766 703l-8 1-7 0M751 677l8 9M765 665l-7 6-7 6M756 777l-5-3M759 930l-8 2M752 437l6 2M754 741l-2 1M755 759l-3 1M753 883l8 4M754 868l-1 15M753 837l1 9M760 833l-7 4M753 419l7 0M753 583l1 13M754 582l-1 1M754 597l-1 9M754 596l0 1M754 821l3 2M754 804l0 9 0 8M754 907l3 10 4 10M763 895l-9 12M767 596l-7 1-6 0M762 868l-8 0M762 404l-8-1M754 569l1 1M755 557l-1 12M756 749l-2 0M755 804l-1 0M754 582l7 1 7 2M755 570l-1 12M754 846l10 3M755 512l1 2M758 498l-3 14M755 529l0 13M757 555l-2 2M755 804l7 2 6 2M761 790l-6 14M771 530l-8-1-8 0M756 514l-1 15M769 570l-7 0-7 0M755 785l6 5M757 778l-2 7M755 348l1 4M755 759l5 3M757 751l-2 8M756 386l6 0M756 625l0 9 1 8M763 619l-7 6M757 353l-1-1M756 751l1 0M770 514l-7 0-7 0M756 749l0 1M758 748l-2 1M756 777l1 1M760 762l-4 15M771 776l-7 1-7 1M764 370l-7-1M757 497l1 1M758 480l-1 9 0 8M757 543l2 2M757 542l0 1M757 555l6 2 6 2M759 545l-2 10M757 823l3 10M769 816l-12 7M757 642l3 5M758 439l-1 8M757 465l3 3M761 450l-4 15M758 727l-1 7M759 438l-1 1M771 749l-7-1-6 0M758 748l0-13M758 655l7 10M760 647l-2 8M760 468l-2 12M773 483l-7-1-8-2M773 499l-8 0-7-1M758 352l7 1M766 723l-8 4M770 544l-11 1M759 686l7-1 8 0M759 930l0 14 1 14M761 929l-2 1M759 438l10 1 10 2M762 423l-3 15M760 468l7-1 8-1M760 833l8 5M776 641l-8 3-8 3M760 958l7 6M774 765l-7-1-7-2M760 419l2 4M763 406l-3 13M760 448l0 1M761 450l-1-1M761 887l2 8M768 880l-7 7M761 929l8 7 8 7M761 927l0 2M769 790l-8 0M774 452l-7-1-6-1M769 923l-8 4M762 868l6 12M765 865l-3 3M764 388l-2-2M762 386l3-15M762 404l1 2M764 388l-2 16M779 424l-8-1-9 0M763 619l7 5 7 4M763 617l0 2M766 611l-3 6M763 895l7 1 8 1M763 406l8 0 8 0M780 390l-8-1-8-1M764 370l1 1M765 353l-1 8 0 9M767 848l-3 1M765 352l0 1M765 665l4 2M765 352l8 1 8 1M766 349l-1 3M765 371l8 0 7 1M779 867l-7-1-7-1M767 848l-1 8-1 9M766 607l0 4M766 703l0 10 0 10M767 703l-1 0M780 608l-7 2-7 1M766 965l1-1M777 723l-11 0M768 847l-1 1M767 964l8 0M767 596l1 1M768 585l-1 11M780 710l-6-4-7-3M774 685l-3 9-4 9M769 583l-1 2M768 597l0 10M781 596l-6 1-7 0M768 838l0 9M769 836l-1 2M768 847l10 4M768 808l1 3M773 799l-5 9M768 880l10 0M769 570l1 1M769 559l0 11M769 811l0 5M784 809l-7 1-8 1M769 583l12 2M770 571l-1 12M769 667l3 8 3 9M777 662l-8 5M769 790l4 9M773 783l-4 7M771 818l-1 9-1 9M777 835l-8 1M778 897l-5 13-4 13M769 923l2 0M772 556l-3 3M769 816l2 2M771 530l-1 13M782 571l-6 0-6 0M770 543l0 1M770 544l7 0 7 0M770 544l2 12M770 514l2 2M773 499l-3 15M772 516l-1 14M771 923l11 3 10 4M789 913l-9 5-9 5M771 749l0 2M772 748l-1 1M771 776l2 7M774 765l-3 11M787 532l-8-1-8-1M771 818l11 3M788 516l-8 0-8 0M772 748l7 1 6 1M773 736l-1 12M781 557l-9-1M772 736l1 0M776 736l-3 0M773 783l13 2M773 483l0 16M774 483l-1 0M773 499l7 1 7 0M781 799l-8 0M774 452l1 14M776 450l-2 2M775 684l-1 1M774 483l8 0 7 0M776 466l-1 8-1 9M775 764l-1 1M775 684l7 1M775 466l1 0M775 752l0 12M775 964l2 3M777 961l-2 3M775 764l10 2M790 467l-7 0-7-1M776 449l0 1M776 450l7 0 8 0M776 641l6 4M777 628l-1 13M777 835l11 4M782 821l-5 14M777 943l0 9 0 9M791 956l-7 3-7 2M784 623l-7 5M777 723l2 12M780 720l-3 3M791 943l-7 0-7 0M777 662l6 1M782 645l-2 8-3 9M779 441l-1 7M778 851l1 16M778 851l6-3M778 880l1 2M781 868l-3 12M778 897l10 3M779 882l-1 15M779 424l0 8 0 9M781 421l-2 3M779 406l2 15M780 404l-1 2M794 441l-8 0-7 0M793 883l-14-1M779 867l2 1M780 372l1 8 1 9M781 371l-1 1M795 405l-7 0-8-1M780 390l0 14M781 730l-1 0M782 389l-2 1M781 371l0-8 0-9M798 371l-9 0-8 0M783 598l-2 10M781 585l1 2M783 572l-2 13M783 717l-2 0M781 354l2-1M781 730l1 6M783 728l-2 2M781 799l4 7M788 791l-7 8M792 866l-11 2M781 421l7 1 7 1M781 557l2 1M785 545l-4 12M781 596l2 2M782 587l-1 9M781 704l2 0M797 388l-8 1-7 0M784 645l-2 0M782 571l1 1M783 558l-1 13M784 691l-2 0M782 587l7-1 6-1M783 821l-1 0M783 558l6 1 7 0M793 600l-10-2M783 704l0 13M783 703l0 1M783 572l11 0M783 679l1 1M783 728l12 2M783 717l0 11M792 971l-9-2M783 350l0 3M783 353l7 1 8 1M794 825l-11-4M784 809l-1 12M783 717l12-1M786 665l-3 0M796 704l-6-1-7 0M784 691l-1 12M784 680l0 11M785 678l-1 2M785 545l-1-1M784 651l2 1M797 691l-6 0-7 0M785 806l-1 3M784 623l1 1M785 620l-1 3M784 848l10 9M788 839l-4 9M796 546l-11-1M791 639l-6 0M785 750l1 1M787 737l-2 13M785 766l5 12M788 764l-3 2M786 665l-1 13M797 678l-12 0M785 806l13 1M792 624l-6 1M787 664l-1 1M786 751l0 1M799 751l-13 0M786 785l2 6M790 778l-4 7M787 640l-1 12M788 533l-2 11M786 611l6 1M786 652l1 12M798 651l-12 1M787 532l1 1M788 516l-1 16M787 664l11 2M787 500l1 1M789 483l-1 9-1 8M788 791l10 4M788 501l0 14M803 499l-7 1-8 1M795 834l-7 5M788 900l2 10M796 895l-8 5M788 515l0 1M792 753l-4 11M802 764l-7 0-7 0M801 533l-6 0-7 0M788 515l8 1 8 1M790 468l-1 15M797 926l-8-13M790 910l-1 3M806 485l-8-1-9-1M790 467l0 1M791 450l-1 9 0 8M790 778l10 1M806 468l-8 0-8 0M790 910l8 1 8 0M791 639l0 1M792 638l-1 1M805 452l-7-1-7-1M791 943l3 3M792 930l-1 13M791 956l5 7M794 946l-3 10M792 624l2 2M792 612l0 12M792 866l0 9 1 8M793 865l-1 1M794 611l-2 1M796 978l-4-7M796 963l-4 8M792 638l7 1 7 2M794 626l-2 12M797 926l-5 4M793 883l5 5M793 600l1 11M795 598l-2 2M793 865l9 4 8 4M794 857l-1 8M794 572l1 13M795 571l-1 1M806 625l-6 1-6 0M794 441l1 8M794 611l6 0 7 1M794 825l1 2M800 809l-6 16M796 856l-2 1M794 441l9 0 8 1M796 424l-1 8-1 9M802 946l-8 0M795 585l1 1M795 730l0 6M795 423l1 1M795 423l4-14M795 716l1 2M796 704l-1 12M795 598l6 1 6 1M796 586l-1 12M795 730l7 0 6 0M796 718l-1 12M795 827l0 7M816 822l-11 3-10 2M796 978l-1 2M795 405l4 4M797 388l-1 9-1 8M808 573l-6-1-7-1M796 559l-1 12M799 738l-4-1M795 834l2 2M813 426l-9-1-8-1M796 895l11 11M798 888l-2 7M797 558l-1 1M808 586l-12 0M796 545l0 1M796 546l0 1M796 547l1 11M806 545l-10 2M797 836l0 10-1 10M811 852l-8 2-7 2M807 977l-11 1M796 704l7 1 6 1M797 691l-1 13M808 718l-12 0M796 963l13-1M797 558l6 1 6 0M797 678l1 2M798 666l-1 12M799 690l-2 1M798 388l-1 0M809 841l-12-5M803 925l-6 1M799 653l-1-2M799 641l-1 10M798 355l0 16M799 354l-1 1M814 391l-8-1-8-2M798 371l0 8 0 9M799 665l-1 1M812 371l-7 0-7 0M798 680l1 10M811 678l-6 1-7 1M798 795l1 1M800 779l-1 8-1 8M798 807l2 2M799 796l-1 11M807 883l-9 5M799 354l9 2 10 1M799 351l0 3M799 690l10 2M799 738l2 11M799 737l0 1M799 753l0-2M801 749l-2 2M799 409l6-1 6-1M799 665l12 1M799 653l0 12M811 652l-12 1M812 792l-13 4M801 778l-1 1M800 809l12 2M801 749l11 1M801 778l7 1 6 2M802 764l-1 14M801 533l3 12M803 532l-2 1M802 946l4 4M810 934l-8 12M807 759l-5 5M803 532l8 0 9 1M804 517l-1 15M803 925l7 9M807 916l-4 9M808 991l-5 2M803 499l1 9 1 8M804 499l-1 0M804 499l8 1 9 2M806 485l-2 14M805 516l-1 1M819 516l-7 0-7 0M805 452l2 2M806 451l-1 1M806 753l1 6M821 485l-8 1-7-1M806 468l0 9 0 8M806 911l1 5M807 906l-1 5M806 950l3 12M806 950l8-2 9-2M807 454l-1 14M806 625l0 1M807 612l-1 13M822 470l-8-1-8-1M806 641l0-1M806 626l7 0 6 1M806 626l0 14M806 640l12 1M807 600l0 12M820 612l-7 0-6 0M807 759l7 4M807 883l10 17M811 876l-4 7M807 977l2 2M809 963l-2 14M807 600l0-1M823 919l-8-1-8-2M822 452l-8 1-7 1M807 599l7 0 7 0M808 586l-1 13M817 900l-10 6M809 574l-1 12M808 991l11 7M809 979l-1 12M808 718l1 1M809 706l-1 12M821 588l-6-1-7-1M808 573l1 1M811 561l-3 12M808 730l1 1M809 719l-1 11M809 731l0 6M809 962l0 1M809 979l9 1M809 574l6 0 6 0M822 719l-13 0M809 692l1 13M811 690l-2 2M810 705l-1 1M809 559l2 2M809 559l1-14M822 731l-13 0M809 841l1 1M816 822l-3 10-4 9M821 961l-12 2M810 705l12 0M810 842l1 10M824 839l-7 1-7 2M810 873l1 2M815 859l-5 14M820 935l-10-1M811 1008l6-4M821 560l-10 1M811 678l1 1M811 666l0 12M811 852l4 5M811 875l0 1M834 871l-12 2-11 2M811 876l8 6 9 6M811 407l3 3M814 391l-3 16M811 442l0 8M811 652l2 1M812 642l-1 10M811 666l12 1M813 653l-2 13M812 442l-1 0M811 690l12 2M812 679l-1 11M812 442l8 1 8 0M813 426l-1 16M812 750l1 1M816 738l-4 12M812 792l3 4M814 781l-2 11M824 679l-12 0M812 811l4 11M814 809l-2 2M812 371l4 4M818 357l-6 14M825 653l-6 0-6 0M813 751l0 2M813 751l6 1 7 2M814 425l-1 1M821 546l-8 0M814 425l7 1 7 0M814 410l0 15M814 391l8 1 8 0M816 375l-1 8-1 8M831 409l-9 0-8 1M816 779l-2 2M814 763l2 4M822 754l-8 9M815 796l-1 13M814 809l13-1M815 859l9 5 10 6M815 857l0 2M829 853l-7 2-7 2M826 796l-11 0M831 374l-8 1-7 0M816 822l11 3M816 779l10 3M816 767l0 12M830 765l-7 1-7 1M817 900l6 1M817 1004l5 4M819 998l-2 6M818 352l0 4M818 356l0 1M831 359l-6-1-7-2M819 640l-1 1M818 980l10 10M824 968l-6 12M828 990l-9 8M820 533l-1 12M819 516l0 1M821 502l-2 14M836 517l-8 0-9 0M819 517l1 8 0 8M819 627l1 1M820 613l-1 14M819 640l7 1 6 1M820 628l-1 12M820 935l5 8M824 926l-4 9M825 1020l-5 3M835 533l-8 0-7 0M820 612l0 1M821 599l-1 13M832 627l-12 1M832 614l-12-1M822 501l-1 1M821 588l0 11M823 586l-2 2M821 485l0 1M822 470l-1 15M821 546l2 12M821 560l2 12M823 558l-2 2M821 574l2 12M823 572l-2 2M821 451l1 1M836 486l-7 0-8 0M821 486l1 15M821 599l12 1M821 961l2 2M823 946l-2 15M822 452l1 1M822 501l6 1 7 0M823 692l-1 13M822 719l0 12M823 718l-1 1M822 731l0 7M835 705l-7 0-6 0M822 705l1 13M822 1008l3 12M843 1006l-11 1-10 1M823 469l-1 1M822 731l11 0M823 586l11 0M823 453l0 8 0 8M838 452l-8 1-7 0M823 469l6 1 6 0M834 558l-11 0M824 679l-1 13M823 718l12 0M823 901l3 11M826 897l-3 4M823 919l1 7M826 912l-3 7M825 943l-2 3M823 692l6 0 7 1M835 572l-12 0M823 963l1 5M839 961l-8 1-8 1M823 667l2 1M825 654l-2 13M825 668l-1 11M824 679l6 1 7 1M824 968l13 12M824 839l5 14M829 833l-5 6M830 762l-6-8M824 926l14 1M840 944l-8-1-7 0M825 653l0 1M826 642l-1 11M836 668l-11 0M825 1020l6 0M825 654l11 2M826 796l1 12M828 794l-2 2M828 751l-2 3M826 782l2 12M830 780l-4 2M826 912l7 1 7 1M837 1031l-11 2M826 897l7 1 7 1M828 888l-2 9M827 738l1 13M827 825l3 2M828 808l-1 8 0 9M827 808l1 0M829 808l-1 0M837 879l-9 9M828 794l1 0M828 426l2 15M831 423l-3 3M828 443l0 8M830 441l-2 2M828 751l13 1M828 990l2 0M829 833l11 12M830 827l-1 6M829 853l4 2M830 392l2 16M830 807l8 3M835 826l-5 1M831 374l0 9-1 9M847 390l-8 1-9 1M839 795l-9 0M830 441l7 1 7 0M830 779l9 0M830 990l10 11M837 980l-7 10M841 764l-10 1M831 1020l6 9M843 1007l-12 13M831 359l0 15M833 358l-2 1M847 376l-8-1-8-1M831 409l0 14M832 408l-1 1M846 426l-7-1-8-2M832 642l2-2M832 627l1 1M832 614l0 13M832 408l8 0 7 0M833 613l-1 1M833 613l6 1 7 1M834 602l-1 11M833 358l8 0 8 1M833 353l0 5M833 600l1 2M835 588l-2 12M833 628l1 12M845 627l-12 1M833 731l1 7M835 730l-2 1M833 855l1 15M838 852l-5 3M834 870l0 1M834 871l4 4M834 586l1 2M836 574l-2 12M834 640l12 1M834 558l2 3M836 546l-2 12M846 602l-12 0M835 826l10 14M841 822l-6 4M835 533l0 13M835 502l2 15M836 501l-1 1M836 517l-1 16M835 572l1 2M836 561l-1 11M835 718l0 12M836 718l-1 0M835 730l13 1M835 705l1 1M836 693l-1 12M835 470l2 1M838 453l-1 8-2 9M835 533l8 1 7 0M847 589l-6-1-6 0M851 502l-8 0-7-1M837 487l-1 14M836 718l6 0 7 1M836 706l0 12M837 517l-1 0M836 656l0 12M839 654l-3 2M840 1038l-4 6M836 574l7 0 6 1M837 681l-1 12M849 706l-6 0-7 0M836 486l1 1M837 471l-1 15M849 694l-13-1M848 560l-12 1M836 668l1 0M837 517l6 0 7 0M837 668l1 12M850 666l-7 1-6 1M838 810l-1 12M837 1031l3 7M837 1029l0 2M838 680l-1 1M853 1018l-8 5-8 6M837 471l7 0 8 0M851 487l-7 0-7 0M837 643l2 11M839 961l-1 9-1 10M837 879l8 10M838 875l-1 4M849 980l-12 0M838 453l0-1M843 873l-5 2M838 927l4 7M841 915l-3 12M841 807l-3 3M850 454l-6 0-6-1M838 680l11 0M838 852l11 5M840 845l-2 7M839 654l9 0M839 1053l3 4M839 795l1 0M840 779l-1 16M839 779l1 0M842 766l-3 13M840 960l-1 1M845 840l-5 5M854 782l-7-1-7-2M840 914l1 1M842 901l-2 13M840 944l0 8 0 8M843 942l-3 2M853 964l-13-4M840 795l1 12M853 793l-13 2M846 1038l-6 0M840 899l2 2M845 889l-5 10M840 1001l3 5M840 1001l12-13M841 752l0 1M841 739l0 13M842 1057l-1 2M841 753l0 11M853 751l-12 2M841 764l1 2M852 827l-11-5M841 915l12 1M841 547l8 0M841 807l11 2M842 901l7 2 7 1M850 1056l-8 1M842 766l7 0 6 1M842 934l1 8M856 921l-14 13M843 942l5 0M843 1006l0 1M843 1007l6 2M843 873l12 1M849 857l-6 16M844 442l1 1M846 426l-2 16M855 837l-10 3M845 443l1 9M863 441l-9 1-9 1M850 1072l-5-1M845 627l3 2M846 615l-1 12M854 889l-9 0M846 641l0 1M847 614l-1 1M847 426l-1 0M846 602l1 12M848 600l-2 2M846 641l7 0 7 1M848 629l-2 12M846 1038l10 4M854 1019l-4 9-4 10M847 376l0 14M848 375l-1 1M847 426l8 1 8 1M849 409l-1 8-1 9M847 614l7 0 7 1M852 821l-5 1M847 408l2 1M848 390l0 9-1 9M847 390l1 0M847 589l1 0M849 575l-2 14M848 732l-1 6M848 589l0 11M861 589l-7 0-6 0M848 731l0 1M849 719l-1 12M848 942l9 8M865 932l-9 5-8 5M848 375l9 1 9 0M849 359l-1 16M859 628l-11 1M865 391l-9 0-8-1M848 560l1 1M849 548l-1 12M848 600l11 2M848 654l1 1M851 643l-3 11M860 732l-12 0M849 548l0-1M863 655l-7 0-7 0M849 655l1 11M849 694l0 12M864 409l-8 0-7 0M849 719l0-1M849 980l3 8M855 973l-6 7M849 718l13 2M850 706l-1 12M850 358l-1 1M861 547l-12 1M849 680l1 1M851 667l-2 13M849 694l7 0 6-1M850 681l-1 13M849 706l1 0M849 1009l4 9M857 1004l-8 5M849 561l2 13M862 559l-7 1-6 1M851 574l-2 1M854 856l-5 1M850 666l1 1M862 706l-12 0M862 682l-12-1M850 1056l2 12M852 1055l-2 1M850 1072l6 10M852 1068l-2 4M850 517l1 0M853 503l-3 14M850 534l0 12M850 358l0-5M865 359l-7-1-8 0M850 454l2 3M851 453l-1 1M852 533l-2 1M867 518l-8 0-8-1M851 517l1 16M851 487l0 15M853 486l-2 1M851 574l10 1M851 502l2 1M851 667l12 0M852 533l7 0 7 1M853 828l-1-1M852 471l1 15M853 470l-1 1M852 1055l7 3 7 3M856 1042l-4 13M852 809l0 12M853 809l-1 0M852 821l2 2M852 1068l13-2M852 457l1 13M869 455l-8 1-9 1M852 988l9 5M867 487l-7-1-7 0M853 964l2 9M856 960l-3 4M853 470l8 0 8 1M867 503l-7 0-7 0M853 793l2 2M854 782l-1 11M868 810l-8-1-7 0M855 795l-2 14M853 828l2 9M854 828l-1 0M853 916l3 4M856 904l-3 12M853 751l3 3M855 739l-2 12M853 1018l1 1M854 889l5 13M856 887l-2 2M856 780l-2 2M854 823l0 4M854 823l13-1M854 1019l9 4M856 1082l-2 1M854 856l1 9 0 9M857 854l-3 2M855 973l11 3M855 795l10 1M855 767l1 13M856 766l-1 1M855 837l2 2M855 874l1 1M867 782l-11-2M856 887l8 0 8 0M856 875l0 12M861 1081l-5 1M856 754l0 12M869 752l-13 2M856 920l0 1M871 912l-7 4-8 4M856 921l9 11M865 1039l-9 3M856 766l13 0M859 902l-3 2M856 960l13 1M857 950l-1 10M867 872l-11 3M857 1004l8 2 9 2M861 993l-4 11M871 946l-14 4M857 839l0 15M871 836l-14 3M857 854l12 5M859 902l11 0M859 602l2 13M859 602l2-2M859 628l1 1M861 615l-2 13M860 642l0 1M860 732l1 2M862 720l-2 12M860 629l0 13M874 642l-7 0-7 0M860 629l7 0 7 1M861 575l2 12M861 575l2-2M861 734l0 5M873 614l-6 0-6 1M863 549l-2-2M861 589l0 11M863 587l-2 2M861 600l6 0 6 1M874 734l-13 0M866 991l-5 2M867 1084l-6-3M865 1066l-4 15M862 559l1 2M863 549l-1 10M862 720l12 1M863 707l-1 13M862 682l0 11M863 681l-1 1M862 706l1 1M862 693l0 13M875 694l-6-1-7 0M874 588l-11-1M863 643l1 11M863 667l0 14M875 548l-6 1-6 0M874 707l-11 0M863 1023l2 16M870 1019l-7 4M864 443l-1 9M863 428l0 13M865 426l-2 2M863 441l1 2M863 561l0 12M876 560l-6 1-7 0M863 655l0 12M864 654l-1 1M863 667l6 0 7 0M875 681l-12 0M863 573l10 0M864 654l12 0M864 409l9 0 8 0M864 409l0 8 1 9M865 392l-1 8 0 9M864 443l9 0 9 1M865 391l0 1M866 376l-1 15M865 932l4 9M865 1039l6 15M865 1039l7-1 8-1M867 1063l-2 3M880 426l-8 0-7 0M878 922l-13 10M865 359l1 8 1 9M867 358l-2 1M865 392l8 0 8 1M865 796l3 13M869 792l-4 4M866 991l12 14M867 989l-1 2M866 534l0 13M867 376l-1 0M866 534l1-1M866 976l1 13M868 976l-2 0M866 1061l1 2M871 1054l-5 7M867 1084l-1 5M867 354l0 4M867 358l7-1 8 0M867 1063l8 6 9 5M867 376l7-1 7 0M868 810l-1 12M879 1082l-12 2M867 487l0 16M867 518l0 15M868 517l-1 1M867 533l7 1 7 0M882 987l-7 1-8 1M867 503l1 0M867 872l5 15M869 869l-2 3M867 487l9 0 8 0M869 471l-2 16M867 782l2 10M870 779l-3 3M882 823l-7-1-8 0M867 822l1 8M868 503l0 14M883 502l-7 1-8 0M868 739l0 1M868 809l0 1M869 963l-1 13M877 975l-9 1M868 517l8 1 9 0M868 740l1 12M868 740l8-1M868 809l12-1M869 752l0 1M869 859l0 10M871 857l-2 2M869 961l0 2M875 950l-6 11M869 471l0-16M870 454l-1 1M869 766l0 1M869 766l0-13M885 873l-8-2-8-2M883 471l-7 0-7 0M869 963l14 5M869 453l1 1M869 753l7 0 6 0M869 767l1 12M882 766l-13 1M869 792l12 2M869 941l2 5M885 932l-8 4-8 5M884 454l-7 0-7 0M870 779l6 0 7 1M870 1019l11 5M874 1008l-4 11M870 902l1 10M871 902l-1 0M871 836l4 4M872 832l-1 4M872 887l-1 15M885 902l-7 0-7 0M871 946l4 4M871 857l9 1 9 0M875 840l-2 9-2 8M871 912l7 9M881 1054l-10 0M872 887l7-2M873 573l3 3M873 573l3-13M873 601l2 1M874 588l-1 13M873 614l2 15M874 614l-1 0M874 630l0 12M875 629l-1 1M874 734l0 5M875 733l-1 1M874 614l11 1M875 602l-1 12M875 588l-1 0M874 707l2 2M875 694l-1 13M874 721l1 12M878 1005l-4 3M874 721l7 0 6 0M876 709l-2 12M874 642l1 1M875 548l1 12M887 600l-6 1-6 1M887 628l-6 1-6 0M888 733l-7 0-6 0M877 950l-2 0M875 588l12 2M876 576l-1 12M878 841l-3-1M875 681l1 1M876 668l-1 13M875 643l11-1M876 693l-1 1M876 667l0 1M877 656l-1 11M876 654l1 2M876 644l0 10M888 669l-12-1M876 693l11 2M876 682l0 11M887 574l-11 2M889 681l-7 0-6 1M887 708l-11 1M876 560l12 3M877 656l12-1M877 950l4 3M889 935l-12 15M877 975l5 12M882 971l-5 4M878 1005l4-1M878 921l0 1M884 918l-6 3M878 922l7 10M884 843l-6-2M881 837l-3 4M879 1082l4 13M883 1077l-4 5M879 885l6 4M885 873l-6 12M880 1037l6 4M882 1026l-2 11M882 795l-2 13M881 409l0 9-1 8M880 426l1 9 2 8M880 426l9 0 9-1M880 808l8 1 8 0M880 808l2 15M882 823l-1 11M881 953l5 9M899 946l-9 3-9 4M881 375l0 9 1 8M883 374l-2 1M881 393l2 16M882 392l-1 1M881 1024l1 2M891 1011l-10 13M881 534l1 9 0 8M881 794l1 1M883 780l-2 14M881 1054l7 6M886 1041l-5 13M883 409l-2 0M882 444l-1 8M881 534l9 1 8 1M885 519l-4 15M883 443l-1 1M896 795l-7 0-7 0M883 779l-1-13M882 1004l9 7M887 990l-5 14M882 1026l7 1 8 1M882 354l0 3M882 357l1 1M882 392l8-1 8-1M882 766l7 0 7 0M882 753l0 13M882 823l13-1M887 837l-5 0M882 971l7 5 7 5M883 968l-1 3M884 752l-2 1M882 987l5 3M896 409l-6 0-7 0M898 442l-7 0-8 1M886 962l-3 6M883 374l8 1 7 2M883 358l0 16M883 779l0 1M883 740l1 12M886 740l-3 0M883 1077l9 6 8 7M884 1074l-1 3M898 357l-8 1-7 0M885 455l-1 8-1 8M883 471l9 0 8-1M883 471l2 14M896 780l-13-1M883 502l1 8 1 8M884 502l-1 0M897 549l-7 2-7 1M884 453l0 1M884 454l1 1M884 918l8 1 9 1M889 904l-5 14M884 752l11 1M888 1070l-4 4M884 487l0 15M885 485l-1 2M884 502l8 0 7 0M891 856l-7-13M892 837l-8 6M900 455l-8 0-7 0M885 518l0 1M898 519l-6 0-7 0M885 889l0 13M898 886l-13 3M885 902l4 2M887 872l-2 1M898 485l-6 0-7 0M885 615l3 2M889 602l-4 13M885 932l4 3M886 642l1 1M888 629l-2 13M896 1040l-10 1M886 962l9 1M887 590l0 10M888 588l-1 2M887 708l2 11M887 707l0 1M895 987l-8 3M887 721l1 12M889 719l-2 2M887 574l2 1M888 563l-1 11M887 600l2 2M887 628l1 1M888 617l-1 11M887 695l0 12M888 694l-1 1M887 707l7 0 7 0M887 872l7 5M889 858l-2 14M888 562l0 1M888 733l0 6M888 669l1 12M889 668l-1 1M888 733l11-1M888 1060l0 10M896 1054l-8 6M888 617l12-2M888 562l6 0 7 0M889 554l-1 8M899 631l-11-2M888 644l1 11M888 694l12 1M889 681l-1 13M888 1070l10 0M888 588l7 0 6 1M889 575l-1 13M899 1094l-11 3M900 576l-11-1M889 655l0 13M889 655l11 0M889 719l12 1M899 603l-10-1M891 856l-2 2M895 903l-6 1M900 667l-11 1M901 681l-12 0M895 935l-6 0M891 1011l6 1M895 855l-4 1M894 877l4 9M904 868l-10 9M895 822l0 1M897 811l-2 11M895 823l0 14M895 935l5 9M900 926l-5 9M895 987l2 1M896 981l-1 6M895 855l8 3M900 838l-3 9-2 8M895 753l1 13M895 753l1 0M909 825l-7-1-7-1M895 903l1 0M900 888l-5 15M895 963l4 13M899 959l-4 4M896 809l1 2M896 795l0 14M897 767l-1 13M910 780l-7 0-7 0M896 780l1 14M896 903l6 15M919 902l-12 1-11 0M896 753l0-13M896 753l13-1M899 976l-3 5M896 766l1 1M897 794l-1 1M896 409l2 16M897 408l-1 1M896 1040l2 6M899 1036l-3 4M897 794l12 1M897 1028l2 8M899 1020l-2 8M909 765l-12 2M897 811l11-1M915 988l-9 0-9 0M897 988l3 9 4 9M897 408l7 1 8 1M900 393l-3 15M900 552l-3-3M898 536l-1 13M897 1012l2 8M904 1006l-7 6M898 354l0 3M904 358l-6-1M898 357l1 10 0 9M898 390l2 3M898 377l0 13M898 425l2 2M898 485l3 3M900 470l-2 15M898 536l1-1M898 886l2 2M899 376l-1 1M898 442l1 1M900 427l-2 15M898 519l2 2M901 504l-3 15M899 535l7 1 7 1M900 521l-1 14M899 732l1 1M901 720l-2 12M899 443l0 10M899 603l1 12M901 601l-2 2M899 959l0-13M900 944l-1 2M899 1036l3 0M899 502l2 2M901 488l-2 14M899 631l2 10M901 628l-2 3M899 1094l2 3M900 1090l-1 4M899 376l6-1M916 444l-8 0-9-1M918 963l-9-2-10-2M899 976l8-1 8-2M899 1020l14 3M900 455l0 15M900 667l2 2M901 656l-1 11M913 733l-7 0-6 0M900 733l0 6M908 393l-8 0M913 616l-6-1-7 0M900 615l1 13M901 641l-1 2M913 425l-6 1-7 1M900 455l0-2M915 454l-8 0-7 1M915 521l-8 0-7 0M900 926l8 4 8 5M901 920l-1 6M900 944l13-1M900 576l1 13M902 574l-2 2M900 695l2 11M901 694l-1 1M916 886l-8 1-8 1M900 470l7 1 7 1M900 644l0 11M900 655l1 1M902 1088l-2 2M901 504l7 0 6 0M901 589l0 12M901 707l0 12M902 706l-1 1M901 719l0 1M901 562l1 12M902 561l-1 1M913 587l-6 1-6 1M901 601l11 1M902 918l-1 2M915 487l-7 0-7 1M901 681l0 13M901 628l12-1M915 641l-7 0-7 0M913 656l-12 0M901 681l12 0M902 669l-1 12M901 694l7-1 7 0M901 719l12 2M914 667l-12 2M915 551l-7 0-6 1M902 574l11 1M913 706l-11 0M902 553l0 8M902 561l11 1M913 916l-11 2M909 838l-7 0M903 858l1 10M912 854l-9 4M904 868l7 6 7 6M910 1006l-6 0M908 363l-3-1M909 377l-3 0M908 363l1 0M908 354l0 9M908 810l4 12M911 807l-3 3M910 390l-2 0M909 363l0 14M922 362l-7 1-6 0M909 752l0 13M910 751l-1 1M909 795l2 12M909 838l0 3M910 836l-1 2M909 377l7 7M910 780l-1 15M924 793l-7 1-8 1M914 844l-5-3M909 765l3 3M909 825l1 11M912 822l-3 3M910 390l-1 4M910 1006l4 3M916 995l-6 11M910 740l0 11M913 740l-3 0M916 384l-6 6M910 751l12 3M910 836l13 1M910 780l13 2M912 768l-2 12M911 807l12 0M922 766l-10 2M922 821l-10 1M912 854l4 3M914 844l-2 10M923 463l-11 1M912 410l3 4M912 602l3 12M914 600l-2 2M913 733l0 6M915 414l-2 2M913 575l0 12M914 574l-1 1M913 656l1 11M914 655l-1 1M913 681l2 2M915 668l-2 13M913 587l2 2M913 537l3 12M916 533l-3 4M913 616l0 11M915 614l-2 2M913 627l2 2M913 916l3 3M919 902l-6 14M913 943l4 9 3 9M914 942l-1 1M913 562l1 12M915 560l-2 2M913 706l2 1M915 694l-2 12M913 721l1 12M914 720l-1 1M914 733l-1 0M914 667l1 1M914 600l7 1 6 1M915 589l-1 11M917 841l-3 3M914 472l1 15M916 470l-2 2M914 644l0 11M914 655l11 1M914 720l6 0 7 0M915 707l-1 13M914 733l12 1M914 942l12 0M916 935l-2 7M914 504l2 15M917 502l-3 2M914 574l10 0M914 1009l5 10M928 1005l-14 4M915 453l0 1M915 454l0 1M915 487l1 0M926 614l-11 0M915 629l0 12M915 641l0 2M915 521l1 12M916 519l-1 2M915 551l1 9M916 549l-1 2M927 588l-6 1-6 0M915 641l6 1 6 1 1-15M927 669l-6 0-6-1M915 683l0 10M915 683l12-2M915 693l0 1M926 707l-11 0M915 973l4 8M918 963l-3 10M915 988l1 7M919 981l-4 7M927 627l-6 1-6 1M926 695l-11-1M916 414l-1 0M915 455l1 4M917 455l-2 0M916 384l7 0M916 487l1 15M920 487l-4 0M916 444l0 9M916 857l2 10 2 11M929 856l-13 1M916 414l6 6M924 405l-8 9M916 436l6-1M920 549l-4 0M921 929l-5 6M930 998l-14-3M917 444l-1 0M916 519l5 0M916 533l1 0M916 919l5 10M931 916l-7 2-8 1M916 886l2 8 1 8M918 884l-2 2M917 502l4 0M921 842l-4-1M918 884l8 2 9 2M918 880l0 4M920 961l-2 2M924 449l-6 0M928 537l-10-1M920 878l-2 2M919 981l7 1M928 557l-9 1M923 903l-4-1M920 878l11-8M926 960l-6 1M921 929l4 0M921 480l2 0M921 493l2 0M924 505l-3 0M924 522l-3 0M921 547l6-1M922 435l2 14M924 433l-2 2M922 420l8 0 8 0M922 420l2 13M922 766l2 1M922 754l0 12M922 362l7 7 8 8M922 354l0 8M922 569l7 0M924 753l-2 1M922 821l2 3M925 809l-3 12M923 384l0 11 1 10M937 377l-7 4-7 3M923 493l0 1M923 480l0 13M923 782l1 11M923 903l8 13M936 901l-13 2M924 767l-1 15M923 782l7-1 7-2M923 807l2 2M925 794l-2 13M923 494l1 11M939 492l-8 1-8 1M923 463l1 1M925 449l-2 14M926 478l-3 2M923 837l0 6M924 836l-1 1M938 406l-7 0-7-1M936 434l-6 0-6-1M925 506l-1 8 0 8M924 522l0 9M924 753l6 0 7 0M924 740l0 13M938 522l-7 0-7 0M924 464l2 14M937 463l-6 0-7 1M936 767l-12 0M924 793l1 1M924 449l1 0M924 505l1 1M924 824l0 12M938 823l-7 0-7 1M924 836l13 1M937 794l-12 0M925 809l12 1M937 448l-6 1-6 0M925 929l7 7M936 919l-11 10M925 506l7 0 7 1M925 656l2 13M925 656l2-2M926 614l2 2M928 603l-2 11M926 960l4 9 4 10M929 959l-3 1M926 942l5 10M932 936l-6 6M926 478l6 0 6 1M928 580l-2 0M926 695l2 11M928 693l-2 2M926 707l1 13M928 706l-2 1M926 734l1 5M928 732l-2 2M926 982l5 14M934 979l-8 3M927 582l0 6M927 644l0 10M927 681l1 1M927 669l0 12M927 720l1 1M927 588l2 0M927 588l0 14M927 845l3 9M927 654l12 1M927 546l2 2M928 537l-1 9M927 602l1 1M928 628l-1-1M928 616l-1 11M938 668l-11 1M928 706l10 1M928 557l1 2M929 548l-1 9M940 682l-12 0M928 682l0 11M928 537l11 0M928 532l0 5M928 616l8 0M928 721l0 11M939 719l-11 2M939 580l-11 0M928 580l1 6M929 569l-1 11M940 694l-12-1M933 603l-5 0M941 630l-6-1-7-1M928 732l13 1M928 1005l2 2M930 998l-2 7M929 568l0 1M929 959l12 3M931 952l-2 7M939 547l-10 1M930 1007l-1 5M929 559l0 9M940 558l-11 1M929 856l2 14M930 854l-1 2M929 568l9 1M931 996l-1 2M936 1009l-6-2M941 852l-11 2M939 591l-8 0M931 870l5 1M940 943l-9 9M931 916l5 3M931 996l12-2M932 936l8 2M934 979l11 0M934 643l6-1M940 603l-6 0M935 888l1 13M937 887l-2 1M936 767l1 12M937 766l-1 1M936 871l1 16M942 870l-6 1M942 918l-6 1M936 613l5 1M936 740l1 13M936 901l6 3M936 434l2 2M938 420l-2 14M937 377l1 0M937 354l0 11 0 12M937 779l2 3M937 794l1 15M937 793l0 1M937 448l1 1M938 436l-1 12M937 753l0 1M937 810l2 11M938 809l-1 1M937 766l7 1 7 1M937 754l0 12M937 837l2 1M938 823l-1 14M937 463l3 14M938 462l-1 1M950 752l-13 2M937 793l7 2 7 1M939 782l-2 11M937 887l9-1M938 809l12-2M938 420l1-1M938 479l1 13M940 477l-2 2M939 821l-1 2M938 406l1 13M948 396l-10 10M951 434l-6 1-7 1M952 450l-7 0-7-1M938 449l0 13M938 623l2 0M938 462l7 0 8 1M938 569l1 11M938 569l2-1M938 668l1 0M939 655l-1 13M938 707l1 0M940 694l-2 13M938 377l5 10 5 9M951 370l-6 4-7 3M938 522l1 0M940 508l-2 14M939 419l6 1 6 1M939 492l1 1M939 507l1 1M940 493l-1 14M939 522l1 9M953 522l-7 0-7 0M939 547l1 11M940 546l-1 1M944 628l-5-3M939 707l0 12M952 706l-7 1-6 0M940 654l-1 1M939 537l1 9M940 536l-1 1M939 580l0 11M939 591l1 0M939 668l3 12M952 667l-6 1-7 0M951 823l-12-2M939 838l0 1M939 838l13-3M950 579l-11 1M939 719l2 1M951 780l-12 2M951 477l-11 0M953 507l-7 1-6 0M940 591l0 12M950 591l-10 0M940 644l0 10M940 682l0 12M942 680l-2 2M940 493l7 0 7 0M940 536l0-5M950 547l-10-1M940 623l1 1M941 614l-1 9M940 558l0 10M950 557l-10 1M941 614l-1-11M940 654l11 1M940 938l0 5M947 931l-7 7M940 568l10 1M940 603l10-1M940 694l12 0M940 943l8 8M949 536l-9 0M940 642l1 1M941 641l-1 1M941 962l6 8M948 951l-7 11M951 613l-10 1M941 630l0 11M948 641l-7 0M941 720l0 13M941 720l11-1M941 733l1 0M952 623l-11 1M941 852l6 8M945 839l-4 13M942 733l-1 6M954 732l-12 1M942 680l10 1M942 918l3 3M942 904l0 14M942 870l4 5M947 860l-5 10M953 896l-11 8M943 994l2 10M945 991l-2 3M944 838l1 1M944 628l0 6M946 626l-2 2M944 634l3 2M955 839l-10 0M945 921l2 10M957 916l-12 5M945 979l0 12M946 978l-1 1M945 991l14 4M946 886l2 3M946 875l0 11M946 625l0 1M946 626l6 0 6-1M946 875l7 0 7 0M946 978l14 2M947 970l-1 8M947 931l10 4M947 636l10 0M947 636l0 3M962 960l-8 5-7 5M959 859l-12 1M948 396l6 3M948 348l2 0M959 951l-11 0M948 889l5 7M960 875l-12 14M949 536l1 0M950 531l-1 5M950 602l0-11M952 589l-2 2M950 807l2 2M951 796l-1 11M950 557l11 1M950 557l0 12M950 547l0 10M950 569l0 1M950 536l1 11M950 536l10 0M950 579l1 1M950 570l0 9M950 602l1 1M950 752l1 1M951 740l-1 12M950 349l1 10 0 11M951 547l-1 0M950 570l11-3M951 370l6 0 6 0M951 477l3 2M953 463l-2 14M960 546l-9 1M952 794l-1 2M951 823l1 12M952 821l-1 2M951 739l0 1M951 580l1 9M961 579l-10 1M951 603l0 10M961 601l-10 2M951 740l3-1M951 768l0 12M952 767l-1 1M951 421l0 13M954 419l-3 2M951 434l1 1M951 613l2 1M965 753l-7 0-7 0M951 753l1 14M951 655l1 12M952 655l-1 0M951 780l1 0M952 589l9 3M952 645l0 10M952 655l6-1M965 781l-7 0-6-1M952 780l0 14M952 435l1 13M967 434l-7 0-8 1M952 694l0 12M952 450l1 12M953 448l-1 2M952 706l1 1M952 767l7 0 6-1M952 809l0 12M952 809l7-1 7-1M966 821l-7 0-7 0M952 623l1 1M953 614l-1 9M952 681l0 13M955 679l-3 2M952 667l2 1M952 694l7 0 7 0M952 719l1 0M953 707l-1 12M952 794l13 2M952 835l1 1M961 613l-8 1M953 719l1 13M966 719l-7 0-6 0M953 462l0 1M966 707l-7 0-6 0M953 896l0 1M954 531l-1-9M955 519l-2 3M953 462l7 1 6 0M953 448l6 0 6 0M953 507l1 1M954 493l-1 14M953 836l0 1M965 836l-12 0M953 897l4 3M964 885l-11 12M954 479l1 13M966 476l-6 1-6 2M954 668l1 11M961 666l-7 2M954 399l0 10 0 10M957 399l-3 0M954 419l6 1 6 1M954 508l1 11M968 507l-7 0-7 1M954 732l1 1M955 492l-1 1M955 733l-1 6M955 492l5 1 6 0M955 679l10 1M967 732l-12 1M955 839l2 10 2 9M956 838l-1 1M955 519l7 2 7 1M956 659l1-1M956 838l1 0M957 636l-1 12M958 634l-1 2M957 648l10-3M957 658l0-2M957 916l5 2M957 900l0 8 0 8M957 658l4 3M970 902l-13-2M957 399l9 6M967 389l-10 10M957 935l4 10M965 928l-8 7M958 625l0 9M968 626l-9-2-1 1M966 637l-8-3M963 873l-4-14M959 858l0 1M959 951l3 9M961 945l-2 6M959 858l7-3 7-2M960 535l0-4M961 661l-1 4M960 536l0 10M960 535l0 1M960 546l1 12M962 874l-2 1M960 980l4 5M968 964l-8 16M971 535l-11 0M971 546l-11 0M961 558l0 9M961 592l0 9M962 591l-1 1M966 661l-5 0M961 558l10-2M961 567l1 1M962 568l-1 11M972 580l-11-1M961 579l1 12M961 601l1 1M961 613l2 11M962 612l-1 1M961 945l10-1M962 918l3 10M975 909l-13 9M972 569l-10-1M972 589l-10 2M968 964l-6-4M962 602l0 10M973 602l-11 0M962 612l11 2M962 874l2 11M963 873l-1 1M963 370l2 9 2 10M965 368l-2 2M975 872l-12 1M964 885l10 4M964 363l1 5M964 985l2 4M968 982l-4 3M965 739l0 14M965 796l1 11M966 794l-1 2M979 367l-7 1-7 0M965 781l1 13M966 779l-1 2M965 753l0 13M965 766l1 1M965 928l12 0M965 753l4 0M965 448l3 2M967 434l-2 14M965 680l1 1M965 680l1-10M965 836l2 7M967 834l-2 2M966 421l2 12M967 419l-1 2M966 681l0 13M967 680l-1 1M966 476l3 2M967 464l-1 12M968 694l-2 0M966 694l0 12M966 707l0 12M966 706l0 1M966 719l2 2M975 793l-9 1M966 637l1 8M970 633l-4 4M966 661l4 4M973 649l-7 12M966 767l0 12M971 767l-5 0M966 807l1 1M980 405l-7 0-7 0M966 405l1 14M966 463l1 1M968 450l-2 13M966 493l4 12M968 492l-2 1M966 706l2 0M966 779l7 1M966 821l1 0M967 808l-1 13M980 389l-7 0-6 0M975 835l-8-1M967 821l0 13M981 464l-7 0-7 0M967 821l8 1M967 732l0 6M968 731l-1 1M975 808l-8 0M967 419l7-1 6-1M968 433l-1 1M967 645l6 4M968 731l1 0M968 721l0 10M968 433l6 1 6 0M968 450l6 0 7-1M969 478l-1 14M983 491l-7 0-8 1M968 626l2 7M969 625l-1 1M970 670l-2 1M973 623l-5 1M969 690l-1 1M968 507l2 14M970 505l-2 2M968 700l1 0M977 965l-9-1M972 703l-3 9M969 714l4 4M982 478l-6 0-7 0M969 522l0 8M969 624l0 1M969 625l7-1M973 722l-4 5M969 730l5 6M970 521l-1 1M969 690l1 7M971 686l-2 4M969 700l3 3M970 697l-1 3M969 744l1 0M970 750l1 4M971 748l-1 2M970 902l5 7M973 895l-3 7M970 505l6-1 7 0M983 519l-6 1-7 1M970 665l0 5M970 665l10-3M970 744l1 4M974 736l-4 8M970 633l7 1M970 670l3 3M984 693l-7 2-7 2M974 756l-4 3M971 686l-3-3 5-10M979 686l-8 0M971 762l4 7M971 546l1 1M971 535l0 11M971 944l5 2M977 928l-6 16M972 535l-1 0M971 556l2 2M972 547l-1 9M983 748l-12 0M981 536l-9-1M972 531l0 4M972 703l10 1M972 569l1 1M973 558l-1 11M972 547l10-1M972 846l1 7M972 580l0 9M973 578l-1 2M972 589l1 1M973 673l9 2M973 718l0 4M978 714l-5 4M973 570l0 8M983 568l-10 2M973 722l8 3M975 769l-2 4M974 623l-1 0M973 614l0 9M973 853l3 2M973 895l8 2 7 1M974 889l-1 6M982 558l-9 0M973 602l2 10M974 601l-1 1M976 648l-3 1M973 578l11 1M973 590l1 11M983 589l-10 1M973 614l2-2M974 601l11-1M974 755l0 1M983 756l-9 0M974 736l12 2M989 780l-7 1-8 0M981 884l-7 5M978 973l-4 3M975 909l5 3M975 612l9 0M975 769l7 0M975 872l6 12M977 870l-2 2M976 792l0 2M976 794l0 1M976 805l11 4M976 812l2 7M976 821l2-2M976 833l0-1M976 834l0-1M976 946l5 14M991 938l-8 4-7 4M976 648l6 9M978 646l-2 2M976 833l12-1M976 794l7-1M976 855l1 15M987 853l-11 2M977 870l11-2M977 928l14 8M980 912l-2 8-1 8M977 965l2 5M981 960l-4 5M977 634l1 2M980 624l-3 10M978 636l0 10M991 644l-7 1-6 1M978 819l8-1M992 635l-7 0-7 1M978 714l8 3M982 706l-4 8M978 973l2 5M979 970l-1 3M990 975l-11-5M979 365l0 2M984 369l-5-2M979 686l5 7M981 681l-2 5M980 389l0 16M988 380l-8 9M980 434l2 14M982 419l-2 15M995 433l-8 1-7 0M987 910l-7 2M980 417l2 2M980 405l0 12M980 662l5 10M982 657l-2 5M980 405l7 0 7-1M989 626l-8-2M981 449l3 12M982 448l-1 1M981 536l2 9M982 535l-1 1M986 623l-5 0M981 725l3 3M986 717l-5 8M981 884l2 0M981 464l2 14M984 461l-3 3M981 681l13 3M982 675l-1 6M981 960l6-2M994 420l-6 0-6-1M982 769l7 3M983 756l-1 13M982 448l7-1 7-2M982 535l11 0M983 530l-1 5M982 558l1 10M983 557l-1 1M982 657l8-1M985 672l-3 3M982 478l2 13M983 478l-1 0M982 704l0 2M988 696l-6 8M982 546l1 11M983 545l-1 1M982 706l10 9M998 476l-8 1-7 1M983 504l2 2M983 491l0 13M983 519l2 2M985 506l-2 13M983 748l1 3M987 739l-4 9M983 756l3-2 9 10M983 884l5 4M988 876l-5 8M984 751l-1 3M983 557l11 0M984 568l-1 0M984 491l-1 0M983 545l9-1M983 589l1 1M985 580l-2 9M983 793l7 5M989 780l-6 13M984 369l4 11M987 366l-3 3M998 491l-7 0-7 0M984 568l0 11M993 568l-9 0M984 693l4 3M984 579l1 1M984 751l7 3M984 461l11 0M984 612l2 11M986 611l-2 1M984 590l11 0M984 590l1 10M984 728l2 10M994 721l-10 7M985 506l6 0 7 0M995 579l-10 1M985 600l1 1M988 672l-3 0M991 842l-6 6M985 521l1 9M999 519l-7 1-7 1M986 611l10 1M986 601l0 10M994 600l-8 1M992 715l-6 2M986 738l1 1M986 818l1 1M987 809l-1 9M987 958l11 6M994 946l-7 12M987 739l3 0M987 819l3 11M1000 818l-13 1M987 910l8 6M990 904l-3 6M990 806l-3 3M990 696l-2 0M988 672l7 10M994 668l-6 4M988 850l11 4M988 861l4 2M988 888l0 10M988 888l0-1M988 623l8-1M988 832l3 10M990 830l-2 2M988 898l2 6M988 380l7 3M988 870l3 3M989 772l0 8M995 766l-6 6M991 873l-2 2M989 626l2 1M989 623l0 3M999 785l-10-5M989 888l7 2M998 893l-9 1M990 806l10 3M990 798l0 8M990 830l10 0M993 903l-3 1M1000 794l-10 4M990 656l4 12M993 654l-3 2M990 739l5 2M999 726l-9 13M990 696l2 9 2 10M991 696l-1 0M991 842l12 1M991 627l1 7M998 623l-7 4M991 644l2 3M992 635l-1 9M991 696l2 0M994 684l-3 12M995 916l-2 10-2 10M991 936l0 2M991 936l10-2M991 938l3 8M991 873l1 0M992 544l1 2M993 535l-1 9M992 863l0 2M992 873l4 5M992 873l5-7M992 634l0 1M992 715l2 0M999 860l-7 3M992 634l8 0M994 535l-1-5M993 647l0 7M1003 645l-10 2M993 654l10 3M993 696l11 12M1003 692l-10 4M994 535l-1 0M993 546l1 11M1004 545l-11 1M993 568l1 0M994 557l-1 11M994 404l1 1M995 383l-1 11 0 10M994 568l1 11M1005 567l-11 1M1001 668l-7 0M995 682l-1 2M994 715l0 6M1000 948l-6-2M1003 534l-9 1M994 557l10-1M994 420l1 13M995 419l-1 1M994 600l2 1M995 590l-1 10M1004 711l-10 4M994 721l5 5M998 906l-3 0M995 405l0 14M1008 404l-7 1-6 0M995 461l2 2M998 448l-3 13M995 579l10-1M995 579l1 11M1004 680l-9 2M1011 382l-8 0-8 1M995 433l1 1M996 590l-1 0M995 741l2 12M1005 741l-10 0M995 766l4 3M995 764l0 2M995 916l4 1M995 419l7 0 7 0M1001 757l-6 7M1005 591l-9-1M996 612l0 10M996 434l0 11M1010 432l-7 1-7 1M996 445l2 3M996 601l0 11M1006 600l-10 1M1008 620l-6 1-6 1M996 612l11-1M997 753l-1 1M1010 880l-14-2M996 878l0 12M996 890l2 3M997 463l1 13M1002 462l-5 1M997 753l9-1M997 866l8 3 7 2M998 476l0 15M998 906l0 8M999 905l-1 1M998 476l6 0M1003 967l-5 5M998 491l0 15M1006 491l-8 0M998 506l1 13M998 893l1 1M998 964l0 2M999 964l-1 0M998 448l6 0 6 0M1013 505l-8 0-7 1M999 785l1 9M1001 783l-2 2M999 854l0 6M1004 844l-5 10M999 894l0 11M1008 889l-9 5M1006 727l-7-1M1006 770l-7-1M999 769l2 14M999 905l6 1M999 519l1 1M999 860l2 0M1000 520l1 9M1013 518l-6 1-7 1M1000 634l3 2M1004 622l-4 12M1000 794l2 1M1000 819l0-1M1000 809l0 9M1000 830l2 1M1000 819l0 11M1000 754l1 3M1003 807l-3 2M1012 819l-12 0M1009 943l-9 3M1000 959l5 2M1001 860l2 5M1013 858l-12 2M1010 758l-9-1M1001 783l7-2M1001 668l4 11M1002 667l-1 1M1009 923l-7-3M1002 935l7 7M1002 457l4 3M1002 831l1 12M1012 828l-10 3M1002 795l1 12M1012 795l-10 0M1003 657l-1 10M1002 667l10-1M1003 636l0 9M1003 636l10-2M1003 807l9 2M1003 843l1 1M1003 463l3-3M1003 692l4 3M1004 680l-1 12M1009 925l-6 3M1003 534l1 11M1003 645l2 2M1006 654l-3 3M1003 530l0 4M1003 534l11 0M1003 967l6 3M1005 961l-2 6M1004 545l1 10M1004 711l2 3M1004 708l0 3M1014 543l-10 2M1004 556l1 11M1005 555l-1 1M1011 480l-7 0M1005 679l-1 1M1009 704l-5 4M1004 844l8 1M1005 591l2 8M1007 588l-2 3M1012 680l-7-1M1012 960l-7 1M1005 578l2 10M1005 741l3 7M1007 738l-2 3M1005 567l1 0M1006 567l-1 11M1005 578l6 0 7 0M1005 555l9 0M1005 647l1 7M1015 642l-10 5M1005 906l5 4M1015 895l-10 11M1006 727l1 2M1006 714l0 13M1006 752l0 1M1008 748l-2 4M1006 460l4 0M1006 600l2 10M1007 599l-1 1M1006 770l2 11M1012 767l-6 3M1016 567l-10 0M1014 656l-8-2M1018 717l-12-3M1007 588l10 0M1016 598l-9 1M1007 738l11 1M1007 729l0 9M1007 695l2 9M1015 691l-8 4M1007 611l1 9M1008 610l-1 1M1017 726l-10 3M1008 404l2 14M1017 391l-9 13M1018 609l-10 1M1008 781l2 0M1008 620l1 1M1016 749l-8-1M1008 889l7 6M1010 881l-2 8M1009 704l6 0M1009 923l0 2M1011 920l-2 3M1009 925l3 9M1009 374l2 8M1009 419l1 13M1010 418l-1 1M1013 492l-4 0M1009 622l0-1M1009 621l11 0M1009 942l0 1M1012 934l-3 8M1009 943l3 2M1012 432l-2 0M1010 432l0 16M1010 758l2 9M1012 755l-2 3M1010 781l2 14M1020 779l-10 2M1010 880l0 1M1012 872l-2 8M1010 881l13 3M1023 416l-6 1-7 1M1010 910l1 10M1020 907l-10 3M1010 460l2 9 1 9M1011 459l-1 1M1011 382l1 1M1011 448l0 11M1011 459l8 0M1011 480l2 12M1013 478l-2 2M1011 920l11 0M1012 622l2 10M1012 680l0 1M1014 669l-2 11M1012 795l2 1M1012 865l0 6M1012 934l7-2 7-2M1012 960l1 10M1013 958l-1 2M1012 383l5 8M1012 383l7-8M1012 767l7 3M1012 819l0 1M1012 809l0 10M1012 828l1 1M1012 820l0 8M1012 845l2 7M1013 845l-1 0M1012 494l1 11M1012 871l0 1M1022 870l-10 2M1012 666l2 3M1017 658l-5 8M1012 681l3 10M1023 678l-11 3M1012 755l0-2M1012 945l1 13M1022 945l-10 0M1023 755l-11 0M1012 809l1 0M1012 820l11 0M1022 428l-9 0M1013 809l11 0M1014 796l-1 13M1013 829l0 16M1013 845l12-4M1025 479l-6 0-6-1M1013 492l1 1M1013 505l0 13M1013 634l2 8M1014 632l-1 2M1013 858l3 7M1014 852l-1 6M1013 505l7-1 7 0M1024 831l-11-2M1022 439l-9 2M1013 518l1 1M1013 958l8 2 7 1M1014 493l0 2M1014 852l6 2 7 1M1025 491l-5 1-6 1M1014 543l2 3M1014 534l0 9M1014 632l9 0M1014 669l11 2M1014 519l0 9M1028 518l-7 1-7 0M1015 533l-1 1M1014 555l2 2M1016 546l-2 9M1017 658l-3-2M1018 644l-4 12M1019 795l-5 1M1015 642l3 2M1015 533l0-4M1026 690l-11 1M1015 691l3 10M1015 895l5 1M1015 704l5 10M1018 701l-3 3M1024 534l-9-1M1016 567l2 11M1016 566l0 1M1016 598l2 3M1018 589l-2 9M1024 545l-8 1M1016 557l0 9M1026 555l-10 2M1016 749l2 4M1019 745l-3 4M1016 566l11 0M1017 391l7 3M1021 659l-4-1M1017 726l10 1M1017 726l2 11M1018 717l-1 9M1017 588l1 1M1018 578l-1 10M1020 714l-2 3M1018 609l2 2M1018 601l0 8M1018 644l3 0M1018 739l1 6M1019 737l-1 2M1025 700l-7 1M1027 577l-9 1M1018 589l10 1M1029 599l-11 2M1019 745l12 0M1019 795l5 14M1023 792l-4 3M1019 971l9-8M1019 459l6 6M1031 446l-6 7-6 6M1028 737l-9 0M1019 770l1 9M1022 767l-3 3M1028 713l-8 1M1020 621l1 0M1020 611l0 10M1030 609l-10 2M1020 896l3 3M1023 884l-3 12M1020 779l2 2M1020 907l4 10M1023 903l-3 4M1021 644l6 6M1026 637l-5 7M1021 659l6 10M1027 653l-6 6M1022 428l0 11M1022 427l0 1M1022 870l5 9M1024 865l-2 5M1022 781l1 11M1032 779l-10 2M1022 425l0 2M1022 427l9 0 10 0M1022 920l4 9M1024 917l-2 3M1022 439l9 7M1022 767l7 0 8 1M1023 755l-1 12M1022 945l2 0M1026 930l-4 15M1027 880l-4 4M1023 903l10 8M1023 899l0 4M1023 416l1 1M1024 394l0 11-1 11M1023 621l4 4M1023 632l3 5M1027 625l-4 7M1023 792l9 3M1023 678l3 4M1025 671l-2 7M1024 755l-1 0M1023 820l1 11M1027 817l-4 3M1032 897l-9 2M1024 534l1 9M1025 533l-1 1M1032 915l-8 2M1024 945l2 8 2 8M1033 944l-9 1M1024 831l2 3M1024 755l9 2M1024 753l0 2M1035 394l-5 0-6 0M1024 545l3 9M1025 543l-1 2M1024 809l3 8M1034 801l-10 8M1025 479l1 11M1025 465l0 14M1025 479l6-1 6-1M1028 703l-3-3M1026 690l-1 10M1025 528l0 5M1025 841l3 3M1026 834l-1 7M1037 465l-6 0-6 0M1025 533l10-1M1027 669l-2 2M1025 491l1 12M1026 490l-1 1M1035 543l-10 0M1027 855l-1 9M1026 929l0 1M1034 638l-8-1M1026 682l0 8M1038 681l-12 1M1035 829l-9 5M1039 492l-6-1-7-1M1026 690l9 2M1026 929l9 1M1026 555l2 10M1027 554l-1 1M1027 577l3 11M1027 566l0 11M1038 576l-11 1M1027 669l7-1M1027 817l8 2M1036 553l-9 1M1027 650l0 3M1034 644l-7 6M1028 565l-1 1M1027 625l5-1M1027 653l7 3M1030 852l-3 3M1027 727l1 10M1033 724l-6 3M1027 879l0 1M1035 873l-8 6M1027 880l8 7M1028 505l0 13M1028 703l0 10M1038 700l-10 3M1028 713l5 11M1039 710l-11 3M1028 961l0 2M1028 590l2 9M1030 588l-2 2M1028 961l10-11M1028 565l8 0M1028 737l2 3M1028 844l2 8M1041 841l-13 3M1029 518l-1 0M1028 963l5 4M1029 505l10-1M1029 518l0 10M1040 518l-11 0M1029 599l1 10M1030 599l-1 0M1036 866l-7-1M1040 598l-10 1M1030 852l9 3M1030 588l9-2M1041 610l-11-1M1030 609l0 11M1030 740l1 5M1040 733l-10 7M1031 446l5-1 6 0M1031 745l1 1M1032 746l-1 6M1033 967l-2 7M1042 745l-10 1M1032 624l6 9M1034 621l-2 3M1032 897l8 6M1035 887l-3 10M1032 915l3 2M1033 911l-1 4M1032 779l6 10M1036 773l-4 6M1032 795l2 6M1038 789l-6 6M1040 903l-7 8M1040 967l-7 0M1033 724l7 6M1044 714l-11 10M1033 757l2 3M1036 752l-3 5M1033 944l5 4M1035 930l-2 14M1034 656l4 8M1038 651l-4 5M1034 668l4 13M1038 664l-4 4M1034 644l4 3M1034 638l0 6M1038 633l-4 5M1034 801l6 4M1035 917l0 13M1045 916l-10 1M1035 829l7 5M1035 819l0 10M1039 886l-4 1M1035 532l0-4M1035 760l2 8M1035 760l11-5M1035 873l8 9M1037 868l-2 5M1035 930l11 0M1035 394l2 9M1042 390l-7 4M1035 532l1 0M1035 543l2 1M1036 532l-1 11M1035 692l4 5M1039 681l-4 11M1036 819l-1 0M1043 532l-7 0M1036 553l2 2M1037 544l-1 9M1036 819l10 2M1040 805l-4 14M1036 864l0 2M1036 866l1 2M1036 565l0 1M1038 555l-2 10M1036 566l2 10M1049 565l-6 0-7 1M1036 620l5-1M1046 787l-10-14M1038 769l-2 4M1037 768l1 1M1037 544l8-1M1037 477l0-12M1037 465l6-6M1039 478l-2-1M1037 868l8-1M1038 647l0 4M1045 646l-7 1M1038 664l4 0M1038 576l1 1M1041 633l-3 0M1038 651l8 6M1038 700l1 10M1040 698l-2 2M1038 769l6 0M1046 787l-8 2M1039 855l-1 9M1038 948l0 2M1046 941l-8 7M1048 555l-10 0M1038 681l1 0M1038 950l4 2M1043 852l-4 3M1044 714l-5-4M1039 577l0 9M1049 574l-10 3M1039 586l2 2M1045 681l-6 0M1039 478l0 14M1050 477l-11 1M1039 492l0 12M1052 490l-6 1-7 1M1039 504l7 0 7 0M1039 504l2 12M1039 697l1 1M1048 687l-9 10M1039 886l7 7M1043 882l-4 4M1040 418l1 1M1040 698l9 3M1040 967l3 1M1042 952l-2 15M1040 730l0 3M1040 730l10-7M1040 375l7 5M1041 516l-1 1M1040 733l1 0M1048 805l-8 0M1040 598l2 11M1041 598l-1 0M1040 903l1 0M1041 427l1 8 1 9M1041 424l0 3M1041 633l2 3M1044 631l-3 2M1041 733l12 4M1041 733l1 12M1041 419l0 5M1042 417l-1 2M1041 588l0 10M1050 587l-9 1M1041 598l10 0M1041 610l0 9M1042 609l-1 1M1041 619l1 2M1054 516l-7 0-6 0M1041 424l3 0M1041 841l2 2M1042 834l-1 7M1041 903l8 6M1046 893l-5 10M1042 664l5 5M1046 657l-4 7M1048 954l-6-2M1045 746l-3-1M1050 829l-8 5M1051 609l-9 0M1042 445l1 14M1043 444l-1 1M1042 390l5 5M1047 380l-5 10M1042 621l1 5M1045 620l-3 1M1043 852l8 4M1043 843l0 9M1046 880l-3 2M1043 444l8 0 7-1M1052 843l-9 0M1043 529l10 1M1043 459l7 6M1043 637l7 0M1043 968l2 6M1043 968l7-3M1049 626l-5 0M1048 715l-4-1M1044 769l2 1M1046 755l-2 14M1045 746l1 5M1053 741l-8 5M1045 867l2 3M1045 864l0 3M1045 916l1 14M1049 909l-4 7M1045 646l3 10M1046 646l-1 0M1045 681l3 6M1047 678l-2 3M1053 540l-7 2M1046 752l0 2M1046 930l1 1M1046 754l0 1M1046 770l4 13M1057 766l-11 4M1046 880l12 5M1047 870l-1 10M1057 890l-11 3M1048 656l-2 1M1047 787l-1 0M1046 821l5 6M1050 812l-4 9M1056 758l-10-4M1046 941l6 4M1047 931l-1 10M1047 669l0 9M1058 667l-11 2M1050 647l-3 0M1056 930l-9 1M1056 869l-9 1M1047 380l0-5M1055 379l-8 1M1047 678l12-1M1047 787l3 5M1050 783l-3 4M1048 555l1 10M1048 656l7-1M1048 805l1 1M1050 792l-2 13M1048 552l0 3M1048 555l5-1M1048 715l3 7M1051 711l-3 4M1048 687l6 3M1048 954l3 4M1052 945l-4 9M1049 618l0 8M1049 806l1 6M1060 804l-11 2M1049 565l0 9M1060 564l-11 1M1049 626l1 0M1049 701l2 2M1054 690l-5 11M1049 909l1 0M1049 574l2 2M1050 909l8 12M1056 905l-6 4M1050 829l6 11M1051 827l-1 2M1050 465l0 12M1050 626l0 11M1061 625l-11 1M1050 647l1 1M1050 637l0 10M1050 783l9-3M1061 793l-11-1M1050 965l4 2M1051 958l-1 7M1062 464l-6 0-6 1M1063 477l-6 0-7 0M1050 477l2 13M1050 637l10-1M1050 812l12 7M1050 587l1 7M1051 587l-1 0M1050 723l4 12M1051 722l-1 1M1060 824l-9 3M1051 587l10 0M1051 576l0 11M1051 648l0 4M1062 646l-11 2M1051 722l11 0M1051 856l0 7M1053 854l-2 2M1060 575l-9 1M1051 603l7-1M1051 711l11 1M1051 703l0 8M1058 615l-7 0M1060 700l-9 3M1051 608l0 1M1051 609l1 1M1063 954l-12 4M1052 490l2 12M1064 487l-6 2-6 1M1052 945l12-2M1052 843l1 11M1056 840l-4 3M1053 610l-1 0M1052 610l1 3M1053 737l0 4M1054 735l-1 2M1053 741l6 6M1053 854l10-2M1053 530l0 10M1055 527l-2 3M1053 504l1 12M1054 502l-1 2M1053 540l3 3M1059 689l-5 1M1054 967l6 1M1054 967l0 2M1054 516l1 11M1054 516l6-1 6-1M1054 735l8-3M1059 747l-5 4M1054 502l12 0M1056 543l-1 12M1055 379l7 5M1057 377l-2 2M1055 527l11 2M1055 555l7 0 7-1M1057 756l-2-5M1056 758l1 8M1057 756l-1 2M1056 840l6 1M1056 905l4 3M1057 902l-1 3M1056 930l5 5M1056 928l0 2M1067 541l-11 2M1056 869l2 2M1056 863l0 6M1057 657l5 0M1065 750l-8 6M1057 890l2 4M1058 885l-1 5M1063 903l-6-1M1059 894l-2 8M1057 766l3 11M1069 764l-12 2M1058 615l3 10M1059 613l-1 2M1058 658l1 8M1061 881l-3 4M1058 592l0 10M1058 871l3 10M1066 867l-8 4M1058 602l1 1M1058 443l4 2M1060 433l-2 10M1058 667l1 10M1059 666l-1 1M1059 677l3 4M1059 689l2 3M1062 681l-3 8M1059 894l6 1M1059 603l0 10M1059 603l9-1M1059 780l7 10M1060 777l-1 3M1059 666l5 0M1070 614l-11-1M1059 747l3 3M1068 738l-9 9M1059 915l7 4M1060 559l6 0M1060 560l0 4M1060 575l1 1M1061 564l-1 11M1060 968l3 2M1063 954l-3 14M1060 824l5 8M1062 819l-2 5M1060 564l1 0M1071 776l-11 1M1060 636l2 10M1061 636l-1 0M1065 705l-5-5M1061 692l-1 8M1060 804l3 3M1061 793l-1 11M1061 881l6 0M1061 909l4-6M1061 564l3 0M1061 625l0 11M1061 636l10 0M1061 625l8-1M1061 576l1 10M1061 576l9-1M1061 587l1 3M1062 586l-1 1M1061 935l3 8M1061 935l13-8M1072 693l-11-1M1066 790l-5 3M1062 424l1 1M1062 463l6 1 7 0M1062 463l0 1M1062 445l0 9 0 9M1062 464l1 13M1062 657l0 4M1062 681l7-2M1062 722l2 3M1063 714l-1 8M1068 444l-6 1M1066 586l-4 0M1062 841l1 11M1064 839l-2 2M1062 646l0 11M1070 646l-8 0M1062 657l11 0M1062 712l1 2M1065 705l-3 7M1062 732l6 6M1064 725l-2 7M1067 815l-5 4M1063 970l0 3M1067 590l-4 0M1063 852l1 1M1066 953l-3 1M1073 966l-10 4M1063 425l1 9M1083 422l-10 2-10 1M1063 477l1 0M1075 715l-12-1M1063 807l4 8M1071 801l-8 6M1064 477l0 10M1075 474l-6 2-5 1M1064 943l2 10M1077 939l-13 4M1064 725l8-1M1064 844l8 4M1064 902l1 1M1064 487l1 1M1065 903l8 2M1078 488l-7 0-6 0M1065 488l1 14M1072 855l-7 3M1073 666l-8 1M1072 703l-7 2M1065 832l0 1M1066 832l-1 0M1071 832l-6 2M1065 895l2 1M1069 893l-4 2M1067 924l-2 3M1066 502l1 0M1066 514l1 1M1067 502l-1 12M1066 558l0 1M1066 790l5 0M1066 953l6 3M1066 559l1 8M1076 558l-10 1M1066 919l1 5M1074 909l-8 10M1066 529l2 11M1068 527l-2 2M1067 502l5 0 6-1M1067 815l5 1M1067 881l5 6M1070 878l-3 3M1069 591l-2-1M1068 584l-1 6M1074 871l-7 0M1067 515l1 12M1067 515l7 0 6 0M1067 541l4 10M1068 540l-1 1M1067 924l3 1M1080 526l-6 1-6 0M1068 602l0 1M1069 591l-1 11M1068 444l6 5M1073 437l-5 7M1068 603l3 10M1079 601l-11 2M1068 738l8 1M1081 538l-6 1-7 1M1076 739l-8 11M1069 554l0 3M1071 551l-2 3M1078 591l-9 0M1069 825l2 7M1069 624l2 1M1070 614l-1 10M1069 679l5 10M1072 675l-3 4M1073 768l-4-4M1071 754l-2 10M1069 750l2 4M1070 570l6 0M1070 581l8-1M1080 819l-10 2M1070 925l5 1M1082 913l-12 12M1071 613l-1 1M1070 646l3 11M1073 644l-3 2M1082 550l-11 1M1079 612l-8 1M1071 625l2 9M1081 623l-10 2M1071 776l3 5M1073 768l-2 8M1071 832l2 1M1071 636l2 8M1073 634l-2 2M1071 754l12 2M1071 790l0 11M1072 790l-1 0M1071 879l1 1M1071 801l7 5M1071 890l3 1M1072 855l2 16M1074 854l-2 1M1072 674l0 1M1072 724l5 8M1076 718l-4 6M1072 675l6 1M1072 703l4 9M1074 699l-2 4M1072 880l0 1M1072 693l2 6M1074 689l-2 4M1072 790l8 2M1074 781l-2 9M1072 848l2 6M1073 846l-1 2M1072 956l2 9M1077 954l-5 2M1075 876l-3 4M1073 634l9 0M1080 767l-7 1M1073 644l10 0M1073 905l1 4M1076 899l-3 6M1073 657l1 0M1073 833l0 13M1077 832l-4 1M1073 846l6-3M1073 966l3 14M1074 965l-1 1M1073 666l1 1M1074 657l-1 9M1074 667l0 7M1083 777l-9 4M1081 855l-7-1M1074 449l3 12M1088 447l-7 1-7 1M1082 655l-8 2M1074 891l2 8M1082 886l-8 5M1074 965l7 1 8 1M1085 668l-11-1M1083 866l-9 5M1074 871l1 5M1074 909l8 4M1076 688l-2 1M1074 699l7 1M1075 464l0 10M1077 461l-2 3M1075 813l3 1M1075 715l1 3M1076 712l-1 3M1075 474l2 2M1076 739l-1 10M1075 876l7 6M1076 980l-1 0M1076 718l9 4M1076 694l0 1M1076 739l7 3M1077 732l-1 7M1076 712l9-3M1076 570l3 9M1078 568l-2 2M1076 899l12 0M1076 927l2 0M1076 558l2 10M1087 557l-10 0-1 1M1086 689l-10 2M1076 980l1 1M1076 980l12 0M1077 461l10 1M1077 832l3 2M1081 820l-4 12M1084 726l-7 6M1077 939l5 4M1078 927l-1 12M1077 476l1 12M1089 474l-6 1-6 1M1078 806l-1 2M1083 919l-6 7M1077 954l14 2M1082 943l-5 11M1078 591l1 9M1080 927l-2 0M1078 488l1 1M1087 567l-9 1M1078 580l0 11M1089 589l-11 2M1078 501l2 14M1079 500l-1 1M1079 805l-1 1M1078 679l6-1M1079 579l-1 1M1078 814l2 5M1080 810l-2 4M1079 489l0 11M1090 486l-5 1-6 2M1079 601l1 10M1079 600l0 1M1079 612l3 10M1080 611l-1 1M1079 500l11 1M1079 579l9 0M1079 600l11 0M1079 843l7 4M1080 834l-1 9M1090 609l-10 2M1080 805l0 5M1080 810l13 2M1085 432l-5 6M1080 515l0 11M1080 792l3 6M1081 791l-1 1M1080 515l12-2M1080 526l2 2M1080 767l3 10M1083 765l-3 2M1080 819l1 1M1080 834l11 2M1081 415l3 3M1081 538l2 2M1082 528l-1 10M1081 855l2 11M1082 854l-1 1M1081 623l2 10M1082 622l-1 1M1086 778l-5 13M1081 791l8-2M1089 801l-8 1M1089 820l-8 0M1082 550l1 2M1083 540l-1 10M1082 655l1 1M1083 645l-1 10M1082 854l12 3M1086 847l-4 7M1083 913l-1 0M1093 527l-11 1M1088 942l-6 1M1082 886l5 4M1082 882l0 4M1090 621l-8 1M1082 634l1 10M1083 633l-1 1M1084 880l-2 2M1083 540l11 0M1083 633l10-1M1083 644l0 1M1083 913l0 6M1085 912l-2 1M1083 422l2 10M1084 418l-1 4M1083 700l4 0M1083 742l2 3M1092 733l-9 9M1083 552l0 4M1083 645l11-1M1083 656l3 11M1083 656l6 0 7-1M1083 552l7-1 6-1M1083 777l3 1M1083 866l3 1M1083 919l9 6M1084 678l1 1M1085 668l-1 10M1085 753l-1 1M1090 414l-6 4M1086 867l-2 13M1084 880l10-2M1084 726l8 7M1085 722l-1 4M1086 667l-1 1M1085 912l9 2M1089 901l-4 11M1092 436l-7-4M1085 679l1 10M1096 678l-11 1M1085 709l2 11M1088 706l-3 3M1087 720l-2 2M1085 745l0 8M1098 744l-13 1M1085 753l9 4M1086 765l6 3M1091 779l-5-1M1094 667l-8 0M1086 689l1 1M1093 867l-7 0M1091 844l-5 3M1087 440l1 7M1087 700l0 4M1087 699l0 1M1087 704l1 2M1087 556l0 1M1087 690l0 9M1097 688l-10 2M1087 462l2 12M1095 454l-8 8M1087 557l0 10M1096 556l-9 1M1087 567l1 1M1092 720l-5 0M1087 890l1 9M1094 887l-7 3M1087 699l12 0M1087 794l1 3M1088 568l0 11M1088 706l2 1M1088 447l7 6M1088 579l1 10M1088 579l10-1M1088 899l1 2M1088 568l9 0M1088 926l2 14M1089 967l-1 12M1088 942l4 8M1090 940l-2 2M1089 801l4 10M1091 799l-2 2M1090 965l-1 2M1089 474l2 12M1101 472l-6 1-6 1M1091 792l-2 0M1098 901l-9 0M1089 408l1 6M1089 589l2 1M1089 820l3 14M1092 818l-3 2M1102 938l-12 2M1090 501l3 10M1093 497l-3 4M1090 797l1 2M1090 621l3 3M1092 612l-2 9M1090 600l0 9M1090 609l2 3M1090 414l7-1M1090 486l3 11M1091 486l-1 0M1090 600l10 0M1091 590l-1 10M1090 965l14 3M1091 956l-1 9M1100 588l-9 2M1099 796l-8 3M1091 836l0 8M1092 834l-1 2M1103 485l-6 0-6 1M1092 954l-1 2M1091 792l4 4M1101 784l-10 8M1091 844l3 2M1092 513l3 11M1093 511l-1 2M1092 779l8 0M1092 720l10 11M1097 713l-5 7M1100 732l-8 1M1092 818l11 4M1093 812l-1 6M1102 832l-10 2M1098 922l-6 3M1092 436l0 6M1105 436l-6 0-7 0M1092 768l1 7M1096 764l-4 4M1092 612l9 0M1093 624l0 8M1103 621l-10 3M1093 811l0 1M1093 497l10 1M1093 867l1 1M1094 857l-1 10M1102 977l-9 4M1093 632l2 2M1093 811l10-3M1093 511l11-2M1094 757l-1 7M1093 527l3 11M1095 524l-2 3M1094 644l2 11M1099 754l-5 3M1094 914l4 8M1099 906l-5 8M1095 634l-1 10M1094 644l12-1M1097 854l-3 3M1094 868l2 9M1105 865l-11 3M1099 709l-5 1M1094 846l3 8M1105 843l-11 3M1094 887l5 3M1094 878l0 9M1094 540l2 10M1096 538l-2 2M1094 667l2 10M1095 666l-1 1M1096 877l-2 1M1105 632l-10 2M1095 453l0 1M1100 448l-5 5M1095 454l7 7M1106 523l-11 1M1095 666l12 0M1096 655l-1 11M1096 538l11-1M1096 550l1 1M1106 655l-10 0M1096 678l1 10M1096 677l0 1M1096 877l9 2M1096 925l4 1M1096 556l2 10M1097 555l-1 1M1107 676l-11 1M1097 555l0-4M1097 551l6-1 6-1M1097 771l4 2M1097 568l2 9M1098 566l-1 2M1097 854l10 3M1097 413l1 1M1098 413l-1 0M1097 688l1 1M1099 746l-1-2M1100 732l-2 12M1098 901l1 5M1100 899l-2 2M1098 922l3 0M1098 689l2 9M1109 686l-11 3M1100 763l-2-1M1105 791l-7 5M1098 578l2 10M1099 577l-1 1M1098 566l10-1M1099 699l0 10M1100 698l-1 1M1099 746l0 8M1105 745l-6 1M1099 890l1 9M1106 885l-7 5M1099 577l10-1M1099 709l1 1M1101 721l-2 0M1099 754l1 0M1099 796l4 12M1106 911l-7-5M1099 415l7 7 6 6M1100 445l0 3M1100 448l5-1M1100 698l10 0M1100 710l1 10M1111 708l-11 2M1100 779l2 3M1100 779l1-6M1100 899l8-1M1101 589l-1-1M1102 731l-2 1M1100 600l2 11M1102 598l-2 2M1100 763l4 6M1106 757l-6 6M1100 926l2 3M1100 926l1-1M1101 773l3-4M1101 589l1 9M1110 587l-9 2M1101 721l0 4M1101 922l1 2M1108 916l-7 6M1101 472l2 3M1102 461l-1 11M1101 612l2 9M1102 611l-1 1M1101 720l0 1M1105 754l-4-2M1101 720l11 0M1101 784l4 7M1102 782l-1 2M1102 956l5 10M1102 977l3 3M1104 968l-2 9M1105 941l-3 5M1102 598l10 1M1102 731l6 7M1104 729l-2 2M1108 782l-6 0M1102 832l4 9M1104 829l-2 3M1102 938l3 3M1102 929l0 9M1114 461l-6 0-6 0M1102 611l11-2M1108 928l-6 1M1103 398l0 3M1103 498l1 2M1104 486l-1 12M1103 621l1 1M1103 808l2 1M1103 485l1 1M1103 475l0 10M1103 475l6-1 6-1M1105 809l-2 13M1103 822l1 7M1114 819l-11 3M1104 509l1 1M1104 500l0 9M1104 622l1 10M1114 619l-10 3M1104 829l11 1M1114 487l-10-1M1104 769l5-1M1107 966l-3 2M1104 500l7-1 7-2M1107 729l-3 0M1105 727l-1 2M1105 510l7 0 7 0M1105 510l2 13M1105 791l4 3M1105 941l7 2M1108 555l-3 0M1105 754l1 3M1112 749l-7 5M1112 807l-7 2M1105 879l0 1M1108 869l-3 10M1105 843l3 13M1106 841l-1 2M1105 865l3 4M1107 857l-2 8M1105 632l1 11M1105 632l9 0M1105 980l1 2M1108 980l-3 0M1105 436l2 11M1112 428l-7 8M1105 796l8 1M1105 880l1 5M1118 878l-13 2M1106 643l0 1M1106 885l6 5M1106 911l2 5M1112 901l-6 10M1106 757l6 5M1106 655l2 11M1107 653l-1 2M1106 644l1 9M1117 642l-11 2M1107 523l-1 0M1106 523l2 14M1112 841l-6 0M1107 523l6 0 6-1M1107 966l5 0M1107 676l2 2M1107 666l0 10M1107 537l3 12M1108 537l-1 0M1107 653l10 1M1113 952l-6 1M1108 666l-1 0M1108 856l-1 1M1121 535l-7 1-6 1M1108 666l9-1M1108 869l10 2M1108 898l4 3M1112 890l-4 8M1108 555l0 10M1108 782l5 2M1113 773l-5 9M1108 856l7-1M1108 916l1 0M1108 565l1 1M1108 933l3 0M1109 794l0 1M1114 791l-5 3M1109 566l0 10M1109 566l10-1M1109 678l0 8M1120 675l-11 3M1109 768l4 5M1112 762l-3 6M1109 916l4 3M1120 908l-11 8M1109 736l1 0M1109 576l1 0M1109 686l11 1M1109 686l1 12M1111 731l-2 0M1117 977l-8 2M1110 549l-1 0M1109 549l1 5M1123 448l-7 2-6 1M1110 549l11-1M1114 737l-4-1M1110 736l0 11M1110 576l1 10M1120 575l-10 1M1110 698l1 10M1120 696l-10 2M1110 747l5-8M1112 599l-2-12M1111 586l-1 1M1119 554l-8 0M1111 933l2 7M1112 932l-1 1M1111 586l11 1M1112 720l-1-12M1111 708l11 0M1118 759l-6 3M1112 890l6-1M1118 903l-6-2M1112 940l1 0M1112 747l0 2M1112 428l1 0M1112 720l0 10M1122 719l-10 1M1112 749l5 4M1112 807l2 2M1113 797l-1 10M1112 841l6 5M1116 832l-4 9M1112 599l1 10M1122 597l-10 2M1113 919l-1 13M1112 932l10-3M1112 966l4 2M1114 957l-2 9M1113 428l7 7 8 7M1119 420l-6 8M1113 609l1 10M1123 609l-10 0M1113 919l6 3M1113 940l3 3M1114 797l-1 0M1113 773l4 0M1113 784l1 6M1119 781l-6 3M1113 795l1 2M1114 461l1 11M1114 460l0 1M1114 791l2 3M1114 790l0 1M1124 795l-10 2M1114 790l13-1M1114 809l10 0M1114 809l0 10M1116 821l-2-2M1114 619l2 2M1114 737l1 1M1116 729l-2 8M1114 632l1 0M1116 621l-2 11M1115 830l1 2M1116 821l-1 9M1115 473l2 6M1115 472l0 1M1115 738l0 1M1123 733l-8 5M1116 487l-1 0M1115 632l2 10M1127 630l-12 2M1115 472l5-1M1115 739l6 4M1115 855l5 10M1117 853l-2 2M1116 968l3 7M1116 967l0 1M1116 621l9-1M1126 821l-10 0M1116 948l1 2M1116 487l2 10M1117 485l-1 2M1116 832l8 1M1116 943l2 6M1125 935l-9 8M1117 977l-1 5M1117 794l-1 0M1117 950l-1 0M1117 642l1 1M1117 654l2 9M1117 773l2 8M1122 771l-5 2M1123 465l-6-1M1118 643l-1 11M1117 654l11-2M1117 753l1 6M1123 746l-6 7M1117 853l11 1M1118 846l-1 7M1119 975l-2 2M1117 665l3 9M1119 663l-2 2M1127 642l-9 1M1118 497l1 13M1126 840l-8 6M1124 497l-6 0M1118 878l0 11M1120 875l-2 3M1118 759l3 2M1118 871l2 4M1120 865l-2 6M1118 889l1 0M1118 903l2 5M1122 897l-4 6M1119 510l1 1M1120 511l-1 11M1122 522l-3 0M1119 522l2 11M1119 781l6 3M1119 975l9 3M1119 554l0 11M1119 565l1 1M1119 663l9-1M1119 554l6 0M1128 482l-9 1M1119 889l3 8M1131 885l-12 4M1119 922l3 7M1123 917l-4 5M1120 511l3-1M1120 575l2 2M1120 566l0 9M1120 675l2 10M1120 674l0 1M1120 687l0 9M1122 685l-2 2M1120 875l9 1M1120 696l1 1M1120 908l1 1M1129 565l-9 1M1130 673l-10 1M1132 863l-12 2M1121 746l0-3M1121 548l1 5M1121 697l2 10M1133 695l-12 2M1121 743l6-3M1131 909l-10 0M1121 909l2 8M1121 537l0 11M1124 547l-3 1M1121 761l1 10M1125 760l-4 1M1123 746l-1 0M1122 897l9 0M1122 577l1 9M1132 574l-10 3M1122 587l0 10M1122 771l3 1M1123 586l-1 1M1122 685l9 0M1122 708l0 11M1123 707l-1 1M1122 719l1 0M1122 597l3 11M1134 597l-12 0M1122 929l3 1M1123 586l9 0M1124 719l-1 0M1123 719l0 4M1123 917l10 3M1123 448l0 16M1128 442l-5 6M1123 707l10 0M1123 726l1 0M1125 746l-2 0M1123 609l2 11M1125 608l-2 1M1123 733l4 7M1124 726l-1 7M1124 726l1 0M1131 719l-7 7M1124 795l2 3M1124 794l0 1M1124 809l4 4M1126 798l-2 11M1124 833l1 1M1126 821l-2 12M1125 608l9-1M1125 620l10-2M1125 620l2 10M1125 726l9 8M1139 726l-7 0-7 0M1125 784l2 4M1127 777l-2 7M1125 834l1 6M1138 830l-13 4M1125 935l5 8M1125 930l0 5M1132 760l-7 0M1127 745l-2 15M1125 772l2 5M1131 770l-6 2M1132 927l-7 3M1126 840l2 1M1128 819l-2 2M1127 789l-1 4M1135 797l-9 1M1127 630l1 11M1138 629l-11 1M1127 788l0 1M1127 642l1 10M1128 641l-1 1M1136 777l-9 0M1127 740l4 5M1134 735l-7 5M1127 788l8-2M1128 641l10 0M1128 819l3 1M1128 813l0 6M1131 812l-3 1M1139 842l-11-1M1128 841l2 10M1128 662l2 2M1129 652l-1 10M1130 442l-2 0M1128 474l1 5M1128 652l1 0M1128 854l4 8M1130 851l-2 3M1138 652l-9 0M1129 876l2 9M1132 874l-3 2M1130 715l1 2M1130 442l4 4M1135 434l-5 8M1130 673l1 1M1130 664l0 9M1130 987l2-3M1140 662l-10 2M1130 851l11-2-2-7M1130 745l8 9M1132 470l-1 0M1131 820l8 9M1140 818l-9 2M1131 812l9 3M1138 804l-7 8M1131 897l5 7M1132 894l-1 3M1131 674l0 11M1131 719l7 5M1131 717l0 2M1131 674l11 0M1131 685l2 10M1140 683l-9 2M1133 715l-2 2M1131 770l4 2M1132 760l-1 10M1131 885l2 2M1131 909l2 11M1136 904l-5 5M1131 573l1 1M1131 982l1 2M1132 863l0 11M1132 862l0 1M1133 984l-1 0M1132 586l2 10M1134 584l-2 2M1139 757l-7 3M1141 894l-9 0M1133 887l-1 7M1140 860l-8 2M1132 874l8 1M1132 927l3 14M1135 925l-3 2M1133 575l1 9M1133 715l0-1M1133 695l2 0M1133 707l0-12M1133 887l8-1M1133 424l2 10M1137 713l-4 2M1133 744l2 0M1133 920l2 3M1133 707l1 0M1134 584l1 0M1134 707l0 3M1134 597l1 9M1134 596l0 1M1134 607l1 11M1135 606l-1 1M1134 735l3 4M1134 734l0 1M1134 793l1 4M1134 596l2 0M1140 730l-6 4M1134 579l2 4M1135 706l2 1M1135 744l1 0M1137 741l-2 3M1135 797l3 7M1135 606l2 0M1136 702l-1 0M1135 772l1 5M1144 765l-9 7M1135 786l3 6M1136 785l-1 1M1140 794l-5 3M1135 925l10 10M1135 923l0 2M1135 618l1 1M1135 434l7-1 6-2M1137 592l-2-8M1136 583l-1 1M1144 918l-9 5M1145 582l-9 1M1136 904l5 0M1137 592l-1 0M1136 619l2 10M1138 618l-2 1M1138 692l-2 1M1136 777l1 1M1136 785l8 1M1137 778l-1 7M1137 601l1 0M1137 713l3 3M1137 707l0 6M1142 704l-5 3M1145 775l-8 3M1137 592l1 9M1145 591l-8 1M1137 690l1 2M1137 740l2 0M1138 641l0-12M1138 601l0 9M1146 601l-8 0M1138 629l1 0M1138 692l1 8M1146 691l-8 1M1138 724l1 2M1138 724l2-8M1140 805l-2-1M1138 830l2 9-1 3M1139 829l-1 1M1138 641l2 9M1141 641l-3 0M1138 610l2 1M1138 652l2 10M1140 650l-2 2M1138 754l1 3M1144 746l-6 8M1140 828l-1 1M1139 726l1 2M1139 739l0 1M1139 740l4 2M1139 757l2 2M1139 619l1 1M1140 611l-1 8M1140 650l2 0M1140 611l6-1M1140 730l2 1M1140 728l0 2M1148 620l-8 0M1140 620l0 8 1 2M1140 662l2 12M1143 662l-3 0M1142 700l-2 0M1148 723l-8 5M1140 860l1 1M1141 855l-1 5M1140 875l1 1M1141 873l-1 2M1142 793l-2 1M1140 716l9 0M1141 630l0 7M1141 637l1 2M1141 904l2 1M1142 899l-1 5M1141 805l6 5M1147 810l-6 3M1141 886l0 1M1146 683l-5 0M1148 810l-7 13M1152 825l-11 4M1141 834l4 7M1149 629l-8 1M1141 858l3-2M1141 873l4 3M1142 639l-1 6M1141 759l3 6M1145 758l-4 1M1141 792l1 1M1144 884l-3 1M1142 647l0 1M1142 674l0 6M1142 674l1-1M1142 793l1-1M1142 639l7-1M1142 700l0 4M1142 699l0 1M1142 731l4 7M1152 729l-10 2M1142 648l2 8M1151 646l-9 2M1142 704l7 3M1142 897l5 0M1143 742l-1-4M1144 656l-1 0M1143 674l2 0M1143 742l1 1M1145 664l-2 1M1144 656l1 8M1144 746l8 4M1144 743l0 3M1144 765l2 3M1144 856l13 1M1145 841l-4 5 3 10M1153 654l-9 2M1144 576l1 6M1144 786l2 3M1148 781l-4 5M1148 909l-4 2M1151 738l-7 5M1144 884l5 11M1145 883l-1 1M1145 664l0 10M1145 758l12 1M1152 750l-7 8M1146 789l-1 3M1145 883l13 2M1145 876l0 7M1145 664l8 0M1145 674l1 9M1145 775l3 6M1146 770l-1 5M1145 582l0 9M1145 591l1 1M1145 674l9 0M1145 792l6 11M1156 871l-11 5M1145 582l8 0M1145 841l8 1M1145 935l1 6M1146 934l-1 1M1146 601l2 8M1147 599l-1 2M1146 941l0 1M1146 592l1 7M1154 591l-8 1M1147 692l-1-1M1146 683l0 8M1146 768l0 2M1157 764l-11 4M1146 925l2 1M1146 941l0 1M1146 610l3 8M1148 609l-2 1M1155 683l-9 0M1146 770l9 4M1151 791l-5-2M1147 599l8 1M1155 733l-8 5M1147 810l1 0M1147 897l1 12M1149 895l-2 2M1149 933l-2 1M1147 419l2 10M1147 692l1 5M1156 691l-9 1M1155 608l-7 1M1148 723l4 6M1149 718l-1 5M1151 803l-3 7M1148 926l1 7M1152 919l-4 7M1148 810l7 9M1148 431l2 7M1149 429l-1 2M1148 781l5 0M1148 909l4 3M1148 620l2 7M1149 618l-1 2M1149 629l1 7M1150 627l-1 2M1149 716l0 2M1150 713l-1 3M1160 894l-11 1M1149 707l1 6M1152 705l-3 2M1149 429l7 0 6 0M1149 718l9 4M1156 617l-7 1M1149 638l2 8M1150 636l-1 2M1149 933l6 3M1150 627l8 0M1150 713l8 0M1150 636l9 0M1152 646l-1 0M1154 740l-3-2M1161 799l-10 4M1158 505l-6 1M1152 699l0 6M1158 704l-6 1M1152 729l3 3M1152 825l4 11M1155 819l-3 6M1152 912l0 7M1162 909l-10 3M1152 646l1 8M1160 644l-8 2M1153 750l-1 0M1152 919l11 5M1153 664l1 10M1153 655l0 9M1153 664l8 0M1153 654l0 1M1153 582l1 9M1154 574l-1 8M1153 582l9-1M1153 655l7 0M1153 842l5 12M1156 836l-3 6M1153 750l5 7M1156 744l-3 6M1153 781l3 9M1157 777l-4 4M1154 674l2 7M1163 671l-9 3M1156 488l-2 2M1154 491l4 14M1154 740l2 4M1160 737l-6 3M1154 591l1 0M1155 591l1 8M1163 589l-8 2M1163 818l-8 1M1155 600l0 8M1156 599l-1 1M1155 683l1 8M1156 681l-1 2M1155 519l4 0M1155 481l1 7M1155 608l2 1M1155 732l0 1M1156 730l-1 2M1155 733l3 4M1155 774l2 3M1158 766l-3 8M1155 936l1 6M1156 935l-1 1M1156 681l8 0M1156 691l1 1M1167 473l-5 1-6 2M1156 599l8 0M1156 744l8 3M1156 488l7 1 7 0M1157 692l-1 8M1156 836l3 0M1156 871l4 7M1159 866l-3 5M1156 617l3 1M1157 609l-1 8M1158 722l-2 8M1156 730l9-1M1156 790l0 1M1164 783l-8 7M1157 564l6 0M1165 607l-8 2M1165 691l-8 1M1157 777l2 0M1157 759l0 5M1157 759l1-2M1157 764l1 2M1157 857l2 9M1158 854l-1 3M1158 704l3 6M1160 701l-2 3M1161 721l-3 1M1158 757l8-3M1158 885l2 9M1160 878l-2 7M1158 505l1 0M1158 627l2 8M1159 627l-1 0M1158 713l3 8M1158 713l3-3M1163 767l-5-1M1169 849l-11 5M1159 505l1 13M1172 501l-7 2-6 2M1159 618l0 9M1166 617l-7 1M1159 627l9-1M1159 636l1 8M1160 635l-1 1M1159 777l5 6M1165 772l-6 5M1159 836l9 5M1171 827l-12 9M1159 866l8 2M1159 519l0 13 5 3M1160 518l-1 1M1160 699l0 2M1173 883l-13-5M1160 518l6 0 6 1M1160 548l4 0M1168 635l-8 0M1160 791l2 3M1160 894l1 0M1160 644l0 1M1160 701l5 1M1160 655l2 7M1162 653l-2 2M1160 645l2 8M1160 645l10-2M1163 929l-3 4M1162 414l-1 0M1166 721l-5 0M1161 799l4 5M1162 794l-1 5M1161 573l2 7M1161 664l2 7M1162 662l-1 2M1161 710l4 1M1161 934l11 7M1161 894l1 15M1161 894l11-3M1175 789l-7 2-6 3M1162 429l1 1M1162 414l0 15M1162 662l9-1M1174 413l-6 0-6 1M1162 581l1 8M1163 580l-1 1M1162 653l8 0M1162 909l4 10M1176 907l-14 2M1163 924l0 5M1166 919l-3 5M1163 671l2 1M1163 818l8 9M1165 815l-2 3M1163 430l0 5M1163 767l2 5M1170 760l-7 7M1163 929l10 1M1163 580l8-1M1163 430l7-1 6 0M1163 564l1 0M1163 564l2 8M1163 589l1 1M1164 548l0 16M1164 564l7-1 7-1M1164 547l0 1M1164 681l2 9M1165 680l-1 1M1164 590l0 9M1164 737l3 5M1164 547l7 1 7 0M1164 535l0 12M1172 589l-8 1M1164 747l2 7M1167 742l-3 5M1174 531l-10 4M1164 599l1 8M1164 599l9-1M1164 783l6 0M1165 607l1 9M1165 672l0 8M1172 670l-7 2M1165 680l9 0M1165 804l0 11M1179 802l-7 1-7 1M1165 607l10 0M1165 729l0 7M1169 726l-4 3M1165 815l12-4M1165 702l0 9M1165 691l1 3M1166 690l-1 1M1167 701l-2 1M1165 711l1 10M1165 711l2-1M1165 772l4 2M1166 617l2 9M1166 616l0 1M1166 721l3 2M1174 688l-8 2M1166 754l3 1M1166 919l2 0M1175 615l-9 1M1175 741l-8 1M1167 868l8 11M1174 864l-7 4M1167 701l5 6M1171 696l-4 5M1167 710l7 7M1172 707l-5 3M1168 635l1 1M1168 626l0 9M1168 626l7-1M1168 841l2 7M1171 827l-3 14M1169 472l-1 0M1169 726l5 8M1169 723l0 3M1169 755l1 5M1175 751l-6 4M1169 471l0 1M1169 694l2 2M1174 720l-5 3M1169 472l1 1M1169 774l1 9M1172 772l-3 2M1169 636l1 7M1177 633l-8 3M1169 849l6 6M1170 848l-1 1M1170 783l0 6M1171 644l-1 9M1170 489l2 12M1171 488l-1 1M1170 653l1 8M1170 653l9 0M1170 760l3 2M1182 841l-12 7M1170 473l1 15M1183 472l-6 0-7 1M1170 643l1 1M1170 783l4 0M1171 572l0 7M1173 696l-2 0M1171 579l1 0M1171 644l8 0M1171 661l2 1M1171 488l7-1 8 0M1177 828l-6-1M1172 501l0 1M1172 589l1 9M1172 588l0 1M1172 670l2 2M1173 662l-1 8M1172 772l9 1M1173 762l-1 10M1172 891l4 4M1173 883l-1 8M1172 579l0 9M1180 579l-8 0M1172 588l8 1M1173 707l-1 0M1172 519l2 12M1174 517l-2 2M1172 502l2 15M1172 502l7 0 7-1M1173 707l3 4M1177 701l-4 6M1175 879l-2 4M1180 661l-7 1M1183 763l-10-1M1173 598l2 9M1182 596l-9 2M1173 696l4 5M1176 693l-3 3M1176 929l-3 0M1174 864l7 3M1175 855l-1 9M1174 672l1 7M1183 671l-9 1M1174 717l0 3M1174 717l2-6M1174 720l1 1M1174 734l0 2M1174 517l7 0 6-1M1174 680l0 8M1175 679l-1 1M1174 688l2 2 0-1M1181 730l-7 4M1174 531l2 1M1174 783l6 5M1182 777l-8 6M1175 679l8 1M1175 741l0 1M1176 736l-1 5M1180 856l-5-1M1175 607l1 8M1175 607l8-2M1185 746l-10-4M1175 742l0 9M1175 615l1 10M1176 615l-1 0M1175 721l6 9M1182 719l-7 2M1175 751l9 2M1175 418l2 10M1175 625l2 8M1176 625l-1 0M1176 736l-1 0M1175 879l4-1M1180 455l-4 1M1176 615l8 0M1185 623l-9 2M1176 789l3 13M1176 907l1 1M1176 895l0 12M1180 693l-4 0M1176 690l0 3M1185 894l-9 1M1176 929l6 10M1178 926l-2 3M1176 429l1 5M1177 428l-1 1M1176 532l4 14M1176 532l7-1 6-2M1176 711l10-1M1177 736l-1 0M1177 428l7-1 7 0M1177 701l2 1M1177 811l2 4M1179 802l-2 9M1177 828l5 12M1178 827l-1 1M1177 633l2 1M1177 908l1 9M1190 906l-13 2M1178 548l2 11M1180 546l-2 2M1178 562l4 9M1180 559l-2 3M1179 815l-1 12M1178 827l13-3M1178 918l0 8M1191 926l-13 0M1179 443l0 8M1179 644l1 7M1179 643l0 1M1179 572l1 6M1179 634l0 9M1186 633l-7 1M1179 643l9-1M1179 702l7 8M1185 696l-6 6M1179 878l7 2M1181 867l-2 11M1193 440l-7 1-7 1M1179 653l2 7M1180 651l-1 2M1186 802l-7 0M1191 814l-12 1M1180 453l0 2M1194 543l-7 1-7 2M1180 579l1 9M1180 578l0 1M1194 557l-7 1-7 1M1180 578l8 0M1180 661l3 9M1181 660l-1 1M1180 693l5 3M1183 690l-3 3M1180 856l5 9M1186 851l-6 5M1180 455l2 8 1 8M1195 455l-8 0-7 0M1180 589l2 7M1181 588l-1 1M1189 650l-9 1M1190 659l-9 1M1181 588l8-2M1181 773l1 4M1184 766l-3 7M1181 730l5-6M1181 730l5 4M1184 688l-3 0M1185 865l-4 2M1182 841l4 10M1182 840l0 1M1182 777l6 5M1182 596l1 0M1196 838l-7 1-7 1M1182 719l4 5M1186 710l-4 9M1183 472l4 13M1183 471l0 1M1183 596l0 9M1190 595l-7 1M1183 671l1 7M1183 670l0 1M1183 680l1 8M1184 678l-1 2M1183 763l1 2M1184 753l-1 10M1183 471l6-2 7-2M1191 668l-8 2M1183 605l1 0M1184 688l0 2M1184 753l1-1M1184 688l2-1M1184 605l0 10M1184 605l8 0M1184 615l1 8M1184 678l7 0M1184 765l0 1M1193 761l-9 4M1184 766l10 5M1184 615l9-1M1185 865l8-1M1185 894l5 2M1186 880l-1 14M1185 752l2 0M1185 746l0 6M1185 623l1 1M1185 696l4 8M1190 692l-5 4M1189 740l-4 6M1186 487l1 13M1187 485l-1 2M1186 624l0 9M1194 623l-8 1M1186 633l1 0M1186 710l1 1M1189 704l-3 6M1186 802l5 12M1188 801l-2 1M1186 851l6 3M1186 501l2 14M1187 500l-1 1M1186 724l5 0M1186 880l8-2M1187 485l6-1 7-1M1187 633l2 7M1195 631l-8 2M1195 752l-8 0M1187 752l6 9M1187 735l2 5M1188 782l-1 5M1187 516l2 13M1188 515l-1 1M1187 571l1 7M1187 687l1 0M1202 499l-8 1-7 0M1194 711l-7 0M1187 711l5 8M1188 642l1 7M1189 640l-1 2M1191 790l-3 11M1188 801l6 0 7-1M1188 515l8 0 7-1M1188 578l1 8M1197 576l-9 2M1188 687l2 5M1189 686l-1 1M1188 788l3 2M1194 726l-6 8M1194 780l-6 2M1189 640l7 0M1189 650l1 9M1189 649l0 1M1189 683l0 3M1189 686l6-3M1189 529l0 1M1195 700l-6 4M1189 740l8 4M1189 586l1 0M1189 530l5 13M1205 525l-8 2-8 3M1189 649l8 0M1190 586l0 9M1199 585l-9 1M1190 659l1 0M1190 896l3 7M1198 885l-8 11M1190 692l2 1M1190 595l1 0M1190 906l1 10M1193 903l-3 3M1190 917l2 2M1191 659l0 9M1198 658l-7 1M1199 789l-8 1M1191 418l1 7M1191 427l2 13M1192 425l-1 2M1191 595l1 10M1191 595l8-1M1191 668l5 0M1191 668l1 7M1191 724l3 2M1192 719l-1 5M1191 824l4 5M1193 815l-2 9M1191 926l3 3M1192 919l-1 7M1191 814l2 1M1192 719l5-2M1192 919l7-1 7-2M1192 605l1 0M1192 854l3 4M1192 854l4-15M1192 425l7 0 6-1M1192 693l3 7M1199 690l-7 3M1193 605l1 8M1201 603l-8 2M1193 761l4-1M1193 440l2 2M1193 614l1 9M1194 613l-1 1M1193 675l3 2M1201 812l-8 3M1193 864l3 11M1196 860l-3 4M1194 929l-1 7M1193 903l9 1M1194 543l0 14M1194 543l6-1 6-1M1194 613l9 0M1206 925l-12 4M1194 711l3 6M1198 709l-4 2M1194 726l3 5M1199 724l-5 2M1194 771l0 9M1195 770l-1 1M1194 780l6 2M1194 557l3 2M1194 623l1 8M1194 878l4 7M1196 875l-2 3M1194 623l9-2M1195 442l0 13M1207 439l-6 1-6 2M1195 455l0 1M1195 683l3 3M1196 677l-1 6M1195 700l4 1M1195 631l1 0M1195 829l1 9M1202 826l-7 3M1195 858l1 2M1204 847l-9 11M1195 456l1 11M1195 456l7-1 7-1M1197 731l-2 3M1195 752l2 8M1198 747l-3 5M1195 770l7 2M1200 762l-5 8M1196 570l1 5M1196 631l0 9M1205 631l-9 0M1196 838l0 1M1196 860l10 1M1196 875l7-1 8-2M1196 467l1 2M1197 559l-1 11M1201 676l-5 1M1196 640l1 1M1196 839l6 1M1197 717l4 1M1209 557l-6 1-6 1M1197 576l2 9M1197 575l0 1M1197 666l3 2M1197 731l3 2M1197 744l1 3M1200 739l-3 5M1197 760l3 2M1199 575l-2 0M1197 641l0 8M1205 639l-8 2M1197 469l3 14M1197 469l8-1 7-1M1197 649l1 0M1198 658l1 1M1198 649l0 9M1198 649l8 0M1198 885l2 1M1198 686l1 4M1198 686l7-5M1198 709l6 4M1199 701l-1 8M1198 747l3 1M1199 594l1 1M1199 585l0 9M1201 666l-2-7M1199 659l8-2M1199 724l7 4M1201 718l-2 6M1200 782l-1 4M1199 585l2 0M1202 700l-3 1M1199 690l5 2M1199 733l1 6M1199 789l2 11M1201 786l-2 3M1200 668l1 8M1203 666l-3 2M1200 739l9-1M1200 595l1 8M1202 594l-2 1M1203 575l-3 1M1205 762l-5 0M1200 782l7 1M1202 772l-2 10M1200 483l2 16M1213 481l-6 1-7 1M1200 886l6 15M1210 884l-10 2M1201 676l4 1M1204 716l-3 2M1201 603l2 10M1201 603l2 0M1201 733l5-5M1201 800l2 11M1206 585l-5 1M1201 748l8 7M1211 741l-10 7M1201 800l9-2M1201 812l1 14M1203 811l-2 1M1202 499l2 13M1202 840l2 7M1207 838l-5 2M1202 499l7-2 7-2M1202 826l8 1M1208 769l-6 3M1202 700l4 2M1204 692l-2 8M1202 904l3 10M1206 901l-4 3M1203 569l0 6M1203 597l4 0M1213 814l-10-3M1203 613l1 7M1204 612l-1 1M1203 621l2 9M1204 620l-1 1M1203 514l2 11M1204 512l-1 2M1204 576l-1-1M1207 664l-4 2M1209 690l-5 2M1204 847l5 4M1204 713l0 3M1208 708l-4 5M1204 576l2 9M1214 574l-10 2M1204 606l5 1M1204 620l1 0M1204 716l4 2M1204 512l8-1 7-1M1205 762l1 2M1209 755l-4 7M1205 631l1 7M1205 630l0 1M1205 639l2 9M1206 638l-1 1M1209 615l-4 1M1205 677l0 1M1212 669l-7 8M1205 421l0 3M1205 424l2 15M1207 630l-2 0M1205 681l4 9M1205 678l0 3M1205 424l8-1 7-1M1205 525l1 1M1215 681l-10-3M1206 638l2 0M1206 861l5 4M1209 851l-3 10M1206 541l4 14M1207 540l-1 1M1206 702l2 6M1212 699l-6 3M1206 901l3-1M1206 585l2 10M1214 584l-8 1M1206 660l1 4M1211 937l-5-12M1207 922l-1 3M1206 649l1 8M1207 648l-1 1M1206 764l2 5M1206 764l11-2M1206 526l1 14M1206 526l8 0 7-1M1211 624l-5 1M1206 728l4 4M1210 723l-4 5M1206 916l1 6M1207 915l-1 1M1222 540l-8 0-7 0M1207 597l2 9M1207 597l1-2M1207 664l5 4M1207 783l1 2M1207 783l1-3M1209 648l-2 0M1207 838l11 4M1210 827l-3 11M1207 922l13 2M1208 439l-1 0M1208 635l3 0M1208 595l9-1M1208 708l4 0M1209 655l-1 1M1208 718l2 5M1213 715l-5 3M1208 732l1 6M1208 439l2 14M1221 438l-6 1-7 0M1208 769l10 1M1208 769l1 10M1208 780l13 1M1209 779l-1 1M1209 607l1 7M1209 606l0 1M1209 690l1 0M1214 752l-5 3M1218 775l-9 4M1209 454l3 13M1209 454l1-1M1209 557l3 11M1210 555l-1 2M1218 604l-9 2M1213 646l-4 0M1209 655l8 4M1210 652l-1 3M1209 738l2 3M1209 615l2 9M1210 614l-1 1M1209 900l7 2M1213 889l-4 11M1209 851l11-3M1210 614l9 0M1212 790l-2 5M1216 822l-6 5M1210 453l7-1 7 0M1210 723l2 0M1210 690l3 3M1215 684l-5 6M1210 884l3 5M1213 875l-3 9M1210 797l9 1M1224 553l-7 1-7 1M1210 785l2 5M1211 624l1 1M1211 865l0 7M1222 858l-11 7M1211 635l1 1M1212 625l-1 10M1211 872l2 3M1211 741l3 11M1211 741l10-3M1221 934l-10 3M1212 636l1 10M1222 634l-10 2M1212 668l0 1M1216 662l-4 6M1212 669l2 2M1212 625l9-1M1212 467l1 1M1212 699l6 6M1213 693l-1 6M1212 708l1 7M1218 705l-6 3M1212 723l4 8M1215 722l-3 1M1212 790l4 0M1213 568l1 6M1213 468l0 13M1226 465l-6 1-7 2M1213 646l1 0M1213 481l2 2M1213 693l7 0M1213 715l4 0M1213 814l3 8M1214 813l-1 1M1223 876l-10-1M1213 889l11 0M1219 798l-5 10M1214 646l1 5M1223 643l-9 3M1214 809l1 1M1214 574l1 9M1224 572l-10 2M1218 754l-4-2M1214 811l0 2M1214 812l0 1M1214 584l3 10M1215 583l-1 1M1214 671l4 7M1222 669l-8 2M1215 722l8 2M1217 715l-2 7M1217 820l-2-10M1215 810l9-3M1215 483l1 12M1227 481l-6 1-6 1M1215 681l0 3M1218 678l-3 3M1215 684l7 3M1215 583l9 0M1216 495l2 3M1223 726l-7 5M1216 902l5 10M1224 896l-8 6M1216 790l3 8M1222 786l-6 4M1217 822l-1 0M1216 822l4 9M1216 662l5 2M1217 659l-1 3M1217 594l9-1M1217 594l1 10M1221 656l-4 3M1217 731l4 6M1217 762l3 6M1218 754l-1 8M1222 713l-5 2M1217 913l6 6M1217 820l3 3M1227 811l-10 9M1218 604l1 1M1218 678l1 0M1220 753l-2 1M1218 770l0 5M1220 768l-2 2M1218 842l2 6M1221 835l-3 7M1218 775l4 4M1218 498l1 12M1218 498l7-2 6-1M1220 706l-2-1M1219 510l1 1M1220 823l-1 1M1219 678l6 6M1224 674l-5 4M1219 614l2 10M1220 613l-1 1M1219 605l1 8M1228 603l-9 2M1219 798l3 0M1220 823l1 1M1220 422l1 6M1220 421l0 1M1220 706l2 7M1225 700l-5 6M1228 767l-8 1M1220 848l0 1M1220 924l1 10M1223 919l-3 5M1220 420l0 1M1225 420l-5 1M1220 511l1 14M1220 511l6 0 7-1M1220 613l9 0M1220 753l6 8M1224 749l-4 4M1220 849l2 9M1225 847l-5 2M1220 654l1 2M1220 693l3 3M1222 687l-2 6M1221 654l5-1M1221 656l1 0M1221 781l0 2M1221 824l0 9M1229 824l-8 0M1227 936l-6-2M1221 525l1 1M1221 624l1 10M1231 622l-10 2M1221 664l1 5M1226 661l-5 3M1221 737l0 1M1221 737l5-7M1221 738l6 7M1221 438l3 13M1223 435l-2 3M1222 779l-1 2M1221 784l1 2M1222 526l0 14M1235 525l-7 0-6 1M1222 540l2 2M1225 684l-3 3M1222 634l10-1M1222 634l1 9M1230 777l-8 2M1222 798l2 9M1223 797l-1 1M1222 858l2 1M1222 656l4 5M1223 656l-1 0M1222 669l3 2M1222 835l0 1M1222 433l1 2M1222 786l1 1M1222 835l4 0M1222 713l5 4M1223 724l0 2M1227 717l-4 7M1223 726l2 4M1223 435l11 0M1230 917l-7 2M1223 566l1 5M1224 643l-1 0M1223 696l2 4M1231 689l-8 7M1230 788l-7-1M1223 787l0 10M1223 797l11 0M1223 876l1 1M1224 859l0 9-1 8M1224 572l1 9M1224 571l0 1M1224 859l7 1M1224 889l0 7M1226 885l-2 4M1224 452l2 13M1224 451l0 1M1224 583l3 8M1225 581l-1 2M1226 653l-2-10M1233 642l-9 1M1239 447l-7 2-8 2M1224 553l2 2M1224 542l0 11M1224 571l10 0M1224 807l3 2M1227 898l-3-2M1224 542l8-2 7-3M1224 674l5 9M1225 671l-1 3M1224 749l6 7M1227 745l-3 4M1224 877l2 8M1233 873l-9 4M1225 700l1 1M1225 844l3 2M1225 684l4-1M1226 555l-1 11M1225 581l9-1M1229 669l-4 2M1226 593l2 9M1227 591l-1 2M1226 653l0 1M1226 835l5 7M1229 832l-3 3M1226 885l8 2M1226 465l3 14M1241 462l-8 2-7 1M1233 555l-7 0M1226 701l6 2M1233 693l-7 8M1226 761l2 6M1226 761l4-5M1226 654l0 5M1234 652l-8 2M1226 661l2-1M1226 661l3 8M1227 936l-1 8M1227 591l8-1M1227 730l7 5M1227 811l2 7M1227 809l0 2M1233 933l-6 3M1227 717l2 0M1233 745l-6 0M1231 808l-4 1M1228 851l-1 1M1236 898l-9 0M1227 898l1 13M1227 481l4 14M1229 479l-2 2M1228 767l3 1M1228 602l0 1M1237 600l-9 2M1228 603l3 8M1228 846l1 5M1231 842l-3 4M1228 851l7 8M1229 851l-1 0M1229 717l5 4M1230 715l-1 2M1241 849l-12 2M1229 824l2 1M1229 818l0 6M1229 479l7-1 6 0M1229 613l2 9M1231 611l-2 2M1229 669l4 1M1229 683l2 0M1236 814l-7 4M1237 837l-8-5M1231 825l-2 7M1230 777l0 5M1231 776l-1 1M1232 703l-2 12M1230 715l11-4M1234 727l-4 2M1230 788l3 2M1231 782l-1 6M1230 756l6 1M1230 917l5 8M1232 912l-2 5M1238 610l-7 1M1231 683l1 2M1234 674l-3 9M1231 768l0 8M1235 766l-4 2M1231 622l2 11M1231 495l2 1M1239 779l-8-3M1231 825l3 0M1231 842l6-3M1239 621l-8 1M1231 689l2 4M1232 685l-1 4M1231 808l5 6M1234 804l-3 4M1235 860l-4 1M1232 685l3 0M1232 633l1 9M1233 633l-1 0M1238 702l-6 1M1233 510l3 12M1234 507l-1 3M1242 631l-9 2M1233 693l6 5M1233 745l6 3M1234 736l-1 9M1233 496l1 11M1242 492l-9 4M1233 790l1 7M1233 790l8-6M1235 860l-2 4M1233 566l1 5M1233 642l1 10M1233 670l1 4M1235 669l-2 1M1233 642l10-1M1233 870l9-3M1233 871l3 6M1235 878l-2 0M1233 933l7 5M1235 925l-2 8M1234 571l0 9M1234 571l8-1M1234 735l0 1M1236 729l-2 6M1234 825l4 7M1235 824l-1 1M1234 797l1 1M1234 580l2 2M1234 721l0 6M1235 721l-1 0M1234 736l8-2M1234 804l9 4M1235 798l-1 6M1234 652l2 1M1234 674l7 3M1234 507l7 0 8 0M1234 662l1 7M1234 727l2 1M1239 797l-4 1M1235 859l0 1M1235 669l7-2M1235 766l7 1M1236 757l-1 9M1235 859l3 1M1235 886l2 2M1235 878l0 8M1245 923l-10 2M1236 953l-1 0M1235 420l1 8M1235 525l4 12M1236 522l-1 3M1235 685l1 1M1241 677l-6 8M1241 711l-6 10M1235 721l6-1M1235 590l11 0M1235 590l2 10M1236 582l-1 8M1235 824l9 0M1238 815l-3 9M1236 877l-1 1M1236 653l1 8M1244 650l-8 3M1239 753l-3 4M1244 876l-8 1M1236 435l3 12M1236 728l5 0M1236 728l0 1M1236 814l2 1M1240 938l-4 15M1236 582l8-3M1236 686l6 6M1236 686l11-5M1236 522l7-1 6-1M1237 661l-1 1M1237 888l-1 7 2 3M1237 888l7-2M1237 837l0 2M1238 832l-1 5M1237 839l1 1M1238 898l-1 2M1237 600l1 0M1237 661l9 1M1238 702l1 2M1239 698l-1 4M1238 832l8-2M1238 860l4 6M1241 855l-3 5M1238 610l2 1M1238 600l0 10M1243 814l-5 1M1245 898l-7 0M1238 600l9 0M1238 840l3 9M1247 838l-9 2M1239 753l7 7M1239 748l0 5M1239 906l8-3M1244 745l-5 3M1239 447l1 1M1239 537l1 5M1246 537l-7 0M1239 621l3 9M1240 620l-1 1M1242 695l-3 3M1239 779l0 2M1240 778l-1 1M1239 797l3 1M1244 785l-5 12M1241 711l-2-7M1239 704l11-1M1239 781l2 3M1240 448l1 14M1252 446l-6 1-6 1M1240 611l0 9M1249 609l-9 2M1240 620l10-1M1249 938l-9 0M1242 767l-2 11M1240 778l2 0M1241 462l0 1M1241 720l2 8M1245 718l-4 2M1241 784l3 1M1246 911l-5 1M1241 855l8 3M1241 849l0 6M1241 463l4 13M1254 459l-6 2-7 2M1243 677l-2 0M1242 711l-1 0M1246 849l-5 0M1242 631l2 8M1242 630l0 1M1242 734l4 9M1243 728l-1 6M1246 766l-4 1M1242 663l0 4M1242 692l0 3M1250 685l-8 7M1242 695l8 3M1249 798l-7 0M1242 798l1 10M1242 867l2 8M1242 866l0 1M1242 478l0 14M1245 476l-3 2M1251 628l-9 2M1242 667l3 1M1242 711l2 2M1250 703l-8 8M1248 864l-6 2M1242 492l5 2M1242 570l3 9M1243 569l-1 1M1243 641l1 9M1244 639l-1 2M1243 677l4 4M1245 668l-2 9M1243 568l0 1M1243 808l7-8M1243 808l1 5M1243 569l3-1M1243 728l7 6M1243 814l1 10M1244 813l-1 1M1252 945l-9 6M1244 876l1 7M1244 875l0 1M1244 432l7-1M1244 650l2 1M1247 785l-3 0M1244 886l4 6M1245 883l-1 3M1244 579l3 10M1245 579l-1 0M1244 713l1 5M1255 708l-11 5M1244 824l1 1M1252 874l-8 1M1244 639l9 0M1244 745l6 10M1246 744l-2 1M1244 774l3 0M1244 813l7 0M1245 579l8-1M1250 668l-5 0M1245 476l6 1 6 0M1245 718l4 2M1245 898l2 3M1248 892l-3 6M1245 923l5 3M1245 919l0 4M1245 825l1 5M1252 822l-7 3M1254 882l-9 1M1246 651l1 9M1254 649l-8 2M1246 662l0 1M1247 660l-1 2M1248 726l-2 2M1246 743l0 1M1250 734l-4 9M1246 744l6 0M1246 760l0 6M1250 755l-4 5M1246 830l1 2M1246 911l3 2M1247 903l-1 8M1246 590l1 8M1247 589l-1 1M1246 766l2 0M1246 849l5 2M1248 839l-2 10M1247 600l2 9M1247 598l0 2M1247 838l1 1M1247 832l0 6M1247 901l0 2M1247 660l6 0M1247 774l1 5M1253 772l-6 2M1259 785l-12 0M1247 785l3 8M1250 779l-3 6M1256 831l-9 1M1247 494l3 11M1259 487l-6 4-6 3M1247 901l6 1M1247 589l8-2M1247 681l3 4M1252 672l-5 9M1258 598l-11 0M1248 419l3 12M1248 766l0 2M1249 766l-1 0M1248 892l5-1M1248 864l5 2M1249 858l-1 6M1248 726l2 1M1249 720l-1 6M1256 841l-8-2M1249 507l0 13M1250 505l-1 2M1250 720l-1 0M1249 609l1 10M1259 608l-10 1M1249 798l1 2M1250 793l-1 5M1251 856l-2 2M1249 913l1 5M1256 910l-7 3M1249 938l1 0M1250 926l-1 12M1250 685l3 1M1260 921l-10 5M1250 938l2 7M1250 938l12-4M1250 619l1 9M1258 732l-8 2M1250 668l2 2M1252 661l-2 7M1250 698l1 2M1250 698l4-9M1251 703l-1 0M1250 619l10-1M1250 755l3 0M1250 800l3 3M1250 505l11 0M1250 720l7 1M1255 709l-5 11M1250 793l7-1M1251 431l1 1M1251 628l1 1M1251 851l0 5M1257 847l-6 4M1251 856l9 3M1251 726l0 1M1251 813l2 1M1253 803l-2 10M1251 700l0 3M1258 697l-7 3M1251 703l4 5M1252 432l0 14M1262 430l-10 2M1252 446l2 1M1252 744l6 6M1260 736l-8 8M1252 822l4 7M1254 817l-2 5M1252 945l1 1M1252 629l1 10M1261 628l-9 1M1252 670l0 2M1258 668l-6 2M1252 874l4 3M1253 866l-1 8M1252 672l4 4M1253 639l0 1M1253 686l1 3M1255 684l-2 2M1261 725l-8 1M1253 814l1 3M1261 808l-8 6M1259 864l-6 2M1260 802l-7 1M1253 568l0 10M1253 755l2 4M1258 750l-5 5M1253 578l1 0M1253 640l1 9M1253 640l9-2M1259 774l-6-2M1254 760l-1 12M1253 891l4 6M1256 888l-3 3M1253 902l3 8M1256 899l-3 3M1254 882l2 6M1256 877l-2 5M1254 448l0 11M1254 689l3 2M1254 649l1 1M1254 817l6 1M1254 459l4 3M1254 578l1 9M1264 577l-10 1M1256 676l-1 8M1255 684l7-1M1255 727l3 5M1260 758l-5 2M1265 446l-10 1M1255 587l2 2M1255 650l2 8M1265 648l-10 2M1255 708l0 1M1257 658l-2 0M1256 709l-1 0M1256 831l2 7M1256 829l0 2M1256 877l5-1M1263 887l-7 1M1256 910l1 0M1256 841l1 5M1258 838l-2 3M1264 676l-8 0M1256 709l6 5M1258 707l-2 2M1256 778l5 5M1264 826l-8 3M1256 899l9 6M1257 897l-1 2M1257 477l2 10M1258 476l-1 1M1261 691l-4 0M1257 691l1 6M1265 893l-8 4M1257 658l10 0M1257 721l0 2M1257 721l4-4M1257 846l11 1M1257 846l0 1M1257 847l4 11M1257 589l1 8M1265 585l-8 4M1257 792l5 9M1259 789l-2 3M1257 910l3 8M1265 907l-8 3M1258 462l0 14M1262 461l-4 1M1258 476l4-1M1258 598l1 9M1258 597l0 1M1258 697l5 2M1258 750l5 0M1263 699l-5 8M1258 707l11-2M1258 732l1 0M1258 668l6 8M1262 663l-4 5M1265 837l-7 1M1258 597l9-1M1259 608l2 8M1259 607l0 1M1259 732l1 4M1262 730l-3 2M1259 774l1 3M1267 767l-8 7M1269 793l-10-4M1259 785l0 4M1259 487l1 1M1259 607l10-1M1261 783l-2 2M1259 864l1 1M1260 859l-1 5M1260 736l7 7M1260 818l4 6M1265 812l-5 6M1264 932l-4-11M1260 918l0 3M1260 618l2 9M1261 616l-1 2M1261 858l-1 1M1260 802l1 6M1262 801l-2 1M1261 488l-1 0M1260 488l2 8M1270 867l-10-2M1260 865l1 11M1260 758l8 8M1262 755l-2 3M1260 918l10 0M1261 783l5-1M1261 808l4 4M1261 505l1 4M1263 503l-2 2M1261 616l10-1M1261 717l1 3M1262 716l-1 1M1261 876l5 8M1261 691l5 2M1262 683l-1 8M1266 856l-5 2M1271 871l-10 5M1261 628l1 10M1262 627l-1 1M1266 680l-4 3M1262 567l2 9M1262 662l0 1M1262 714l0 2M1262 714l8-7M1262 720l1 5M1262 801l5-1M1262 638l2 1M1262 716l2 1M1262 430l5 13M1264 427l-2 3M1262 627l9-1M1262 663l3 1M1263 725l-1 5M1262 730l9-1M1262 934l1 6M1264 932l-2 2M1267 697l-4 2M1263 750l0 4M1263 755l12 3M1266 748l-3 2M1263 421l1 6M1263 887l2 6M1266 884l-3 3M1264 639l1 9M1274 636l-10 3M1264 824l0 2M1271 817l-7 7M1264 826l1 1M1264 577l1 8M1264 576l0 1M1264 676l1 0M1264 427l11 0M1270 717l-6 1M1264 576l10-1M1275 933l-11-1M1265 676l1 4M1267 673l-2 3M1265 812l2 0M1265 837l4 9M1265 836l0 1M1272 827l-7 0M1265 827l0 9M1265 893l3 8M1265 893l9-1M1265 446l5 12M1267 443l-2 3M1265 648l3 8M1276 645l-11 3M1265 907l2 2M1265 905l0 2M1265 585l2 1M1265 836l11-1M1268 901l-3 4M1266 884l2-1M1266 680l0 1M1266 665l1 8M1266 693l1 4M1269 686l-3 7M1266 748l3 2M1267 743l-1 5M1266 782l1 2M1267 781l-1 1M1266 856l6 6M1268 852l-2 4M1266 681l3 5M1272 679l-6 2M1266 777l1 4M1267 658l0 7M1268 656l-1 2M1267 781l2 0M1267 800l3 3M1269 793l-2 7M1267 917l1 0M1267 673l1 0M1267 909l10 0M1267 909l1 8M1267 586l2 9M1276 584l-9 2M1267 812l4 5M1271 806l-4 6M1280 440l-6 1-7 2M1267 697l3 2M1270 741l-3 2M1267 767l5 8M1268 766l-1 1M1267 596l2 9M1269 595l-2 1M1268 656l7 0M1274 762l-6 4M1268 786l2 6M1268 847l0 5M1269 846l-1 1M1276 899l-8 2M1270 459l-2 0M1280 854l-12-2M1268 917l1 0M1276 663l-8 6M1268 669l3 4M1268 883l6 9M1275 879l-7 4M1269 595l8 0M1269 606l2 9M1269 605l0 1M1269 686l4 1M1270 792l-1 1M1269 605l8-1M1269 846l4-2M1269 705l1 2M1270 699l-1 6M1269 712l1 3M1270 459l0 2M1270 458l0 1M1270 707l2 2M1270 792l5-1M1270 803l1 3M1278 800l-8 3M1270 917l0 1M1270 918l6 3M1271 673l-1 2M1271 699l-1 0M1270 717l2 5M1270 715l0 2M1270 715l8-1M1283 454l-6 2-7 2M1270 741l6 1M1272 730l-2 11M1270 867l1 3M1272 862l-2 5M1271 626l3 10M1272 625l-1 1M1271 699l6 4M1274 697l-3 2M1272 722l-1 2M1271 729l1 1M1271 724l0 5M1271 806l9 4M1277 753l-6-6M1271 817l1 0M1271 673l3 2M1271 871l4 8M1271 870l0 1M1271 615l1 10M1279 613l-8 2M1281 868l-10 2M1272 817l2 8M1279 814l-7 3M1272 625l10-1M1280 720l-8 2M1272 565l1 1M1280 730l-8 0M1272 862l7-3M1277 707l-5 2M1272 827l4 8M1274 825l-2 2M1273 775l0 13M1273 566l1 8M1282 563l-9 3M1273 844l6 5M1277 835l-4 9M1273 687l1 10M1277 686l-4 1M1274 575l2 9M1274 574l0 1M1274 574l10-1M1274 636l2 9M1283 634l-9 2M1280 694l-6 3M1274 825l8-2M1274 892l2 7M1274 675l1 7M1279 674l-5 1M1280 887l-6 5M1274 762l7 5M1275 758l-1 4M1275 933l0 5M1276 932l-1 1M1275 658l1 0M1277 753l-2 5M1275 879l1 0M1275 791l3 7M1276 790l-1 1M1276 879l3 3M1283 870l-7 9M1276 584l1 1M1276 645l1 1M1276 899l0 1M1276 921l0 11M1283 916l-7 5M1276 835l1 0M1276 932l8-1 7 0M1276 658l0 5M1277 657l-1 1M1276 705l1 2M1276 663l7 4M1276 742l1 1M1276 742l6-6M1276 790l1 0M1276 900l3 6M1285 896l-9 4M1277 585l0 9M1285 583l-8 2M1277 595l0 9M1277 594l0 1M1277 657l10 1M1282 647l-5 2 0 8M1280 774l-3 0M1281 835l-4 0M1277 646l0 2M1279 646l-2 0M1281 752l-4 1M1279 708l-2-1M1277 909l1 7M1279 906l-2 3M1277 429l3 11M1277 594l10 0M1277 604l2 1M1278 800l5 7M1278 798l0 2M1278 790l7-5M1278 798l5-2M1278 687l1-1M1278 714l2 6M1278 714l1-6M1279 906l7 0M1279 605l0 8M1289 603l-10 2M1279 613l2 2M1279 686l14 7M1285 681l-6 5M1286 707l-7 1M1279 849l1 5M1279 849l5-7M1279 859l1 1M1280 855l-1 4M1279 882l1 5M1289 878l-10 4M1286 679l-7-5M1283 667l-4 7M1279 814l1 1M1280 810l-1 4M1280 774l3 2M1280 772l0 2M1283 807l-3 3M1291 816l-11-1M1280 815l2 8M1280 887l2 1M1280 694l3 3M1281 689l-1 5M1282 721l-2-1M1280 854l0 1M1280 440l2 1M1280 860l9 3M1280 860l1 8M1280 730l2 6M1281 729l-1 1M1281 855l-1 0M1281 855l13 6M1286 852l-5 3M1281 835l3 7M1283 833l-2 2M1281 729l9 2M1282 723l-1 6M1281 559l1 4M1281 615l1 9M1281 615l8-2M1281 767l2 3M1286 759l-5 8M1281 868l2 2M1281 752l3 1M1282 742l-1 10M1286 644l-4 1M1282 736l5 2M1282 741l0 1M1282 888l3 8M1282 888l10-2M1282 563l11-1M1282 563l2 10M1282 624l1 10M1282 624l9-1M1282 645l0 2M1282 441l1 13M1289 439l-7 2M1282 698l1 0M1282 823l1 1M1282 647l1 0M1282 721l1 0M1286 707l-4 14M1282 742l3 0M1283 634l1 0M1283 698l6 6M1283 698l0-1M1283 721l0 1M1283 776l2 9M1292 771l-9 5M1283 807l2-1M1287 871l-4-1M1283 454l2 2M1288 666l-5 1M1283 721l2 0M1283 833l10 0M1283 824l0 9M1283 647l6 6M1285 645l-2 2M1293 821l-10 3M1284 634l3 8M1290 632l-6 2M1284 753l2 6M1293 750l-9 3M1284 573l1 10M1284 573l9-2M1284 842l3 1M1285 785l6 3M1292 930l-7-14M1285 583l2 11M1295 583l-10 0M1285 681l8 10M1286 679l-1 2M1285 742l8 8M1289 739l-4 3M1285 806l3 2M1287 802l-2 4M1285 896l4 1M1285 456l1 8M1296 454l-5 1-6 1M1285 721l2 0M1290 712l-5 9M1290 945l-5 0M1286 759l9 4M1287 706l-1 1M1291 788l-5 12M1287 843l-1 9M1293 852l-7 0M1288 908l-2 8M1292 640l-6 4M1294 675l-8 4M1286 906l2 2M1289 897l-3 9M1289 863l-2 8M1287 594l2 8M1287 658l1 8M1289 653l-2 5M1287 706l3 6M1289 704l-2 2M1287 871l2 7M1287 871l10-3M1296 591l-9 3M1287 843l7 0M1287 738l0 1M1290 731l-3 7M1288 808l3 8M1288 808l5 0M1288 691l2 10M1288 908l7 0M1288 666l2 1M1289 603l1 9M1289 602l0 1M1290 703l-1 1M1289 878l2 1M1289 602l10-1M1289 896l0 1M1289 653l4 0M1300 794l-11 10M1289 613l2 10M1290 612l-1 1M1289 634l4 2M1289 552l4 9M1294 861l-5 2M1289 896l6 2M1292 886l-3 10M1290 667l3 3M1296 657l-6 10M1296 715l-6-3M1296 728l-6 3M1290 612l10 0M1290 703l6 1M1290 701l0 2M1290 701l3-4M1293 954l-3-9M1292 942l-2 3M1291 721l2 1M1291 788l3 0M1291 879l2 6M1297 876l-6 3M1291 551l8-1M1291 623l1 1M1291 816l1 0M1291 931l1 11M1292 930l-1 1M1292 624l0 4M1299 622l-7 2M1292 640l5 8M1293 636l-1 4M1293 693l-1 1M1292 771l3 3M1292 766l0 5M1299 927l-7 3M1292 806l5 1M1292 816l1 5M1298 811l-6 5M1293 885l-1 1M1292 942l14 2M1293 562l1 8M1293 561l0 1M1296 634l-3 2M1293 653l3 4M1297 648l-4 5M1293 722l3 6M1293 722l0-1M1293 821l2 2M1294 692l-1 1M1293 852l2 5M1295 846l-2 6M1293 885l8 3M1301 559l-8 2M1293 737l4 8M1293 833l1 2M1295 823l-2 10M1293 571l3 9M1294 570l-1 1M1293 670l1 0M1301 659l-8 11M1293 750l4 0M1293 691l1 1M1295 676l-2 15M1294 670l0 5M1294 670l11-3M1294 675l1 1M1294 692l3 0M1295 763l-1 3M1294 570l9-1M1294 627l4 1M1294 843l1 3M1295 841l-1 2M1294 788l6 6M1296 784l-2 4M1299 732l-5 2M1294 835l1 6M1303 832l-9 3M1294 861l4 5M1295 857l-1 4M1295 846l9 4M1295 583l1 8M1296 580l-1 3M1296 715l-1 5M1297 761l-2 2M1295 823l4 0M1303 679l-8-3M1295 898l1 7M1299 896l-4 2M1295 908l3 5M1296 905l-1 3M1295 841l10 0M1295 774l1 10M1307 773l-12 1M1295 857l7-2M1296 657l5 2M1299 713l-3 2M1296 704l3 9M1297 704l-1 0M1296 905l10-2M1296 634l3 1M1298 628l-2 6M1296 784l12-4M1308 956l-12 1M1304 579l-8 1M1296 591l3 9M1306 589l-10 2M1296 728l1 0M1303 648l-6 0M1297 704l10 3M1302 699l-5 5M1297 868l0 8M1298 866l-1 2M1298 913l-1 2M1297 692l3 2M1304 684l-7 8M1297 750l1 1M1297 745l0 5M1297 761l4 2M1298 751l-1 10M1301 876l-4 0M1297 745l8-6M1297 807l2 0M1301 794l-4 13M1301 622l-3 6M1298 810l0 1M1298 811l5 9M1298 866l8 0M1306 912l-8 1M1298 915l3 9M1306 752l-8-1M1299 601l2 9M1299 600l0 1M1301 733l-2-1M1301 720l-2 12M1299 635l6 9M1307 634l-8 1M1299 807l2 5M1311 801l-12 6M1299 823l4 6M1303 820l-4 3M1300 544l-1 3M1299 713l4 1M1299 927l8 14M1301 924l-2 3M1299 600l6-1M1299 896l4 2M1301 888l-2 8M1300 612l2 6M1301 610l-1 2M1300 694l2 2M1311 689l-11 5M1301 720l-1 0M1300 794l1 0M1300 544l7-2M1300 620l1 2M1300 698l2 1M1301 557l2 1M1301 659l1 0M1301 876l1 11M1306 874l-5 2M1301 610l3-1M1301 763l0 2M1301 763l11 0M1301 794l7 1M1302 887l-1 1M1314 923l-13 1M1301 733l4 6M1305 731l-4 2M1301 622l10 2M1301 622l6 12M1302 659l3 8M1306 654l-4 5M1304 698l-2 1M1302 720l2 0M1302 887l1 0M1302 855l6 5M1304 850l-2 5M1303 558l7 7M1310 546l-7 12M1303 566l6 0M1303 898l3 5M1303 898l8-5M1303 714l4 4M1303 714l4-7M1303 832l5 5M1303 829l0 3M1303 820l4-1M1310 826l-7 3M1303 679l1 5M1311 673l-8 6M1303 887l8 6M1308 883l-5 4M1303 574l1 5M1303 648l3 5M1305 644l-2 4M1304 614l6-2M1304 698l0-3M1304 579l0 1M1305 698l-1 0M1306 849l-2 1M1304 573l6 13M1308 567l-4 6M1304 580l1 0M1304 580l1 1M1304 684l3 1M1307 720l-3 0M1304 720l1 11M1305 841l1 8M1308 837l-3 4M1305 644l6-4M1305 667l5 2M1305 698l3 8M1307 697l-2 1M1306 602l-1 1M1312 734l-7-3M1305 739l6-1M1305 599l1 3M1306 903l1 1M1306 594l0 1M1306 849l4 0M1306 866l1 1M1308 860l-2 6M1306 912l1 1M1307 904l-1 8M1309 769l-3-4M1306 944l2 12M1307 941l-1 3M1306 594l1 1M1307 593l-1 1M1306 654l7 10M1306 653l0 1M1306 874l2 2M1307 867l-1 7M1306 602l3 1M1318 651l-12 2M1306 752l6 11M1313 748l-7 4M1309 587l-2 1M1307 707l1-1M1308 780l-1-7M1309 769l-2 4M1315 901l-8 3M1307 913l5 0M1307 914l0-1M1307 720l1 1M1308 719l-1 1M1307 867l9 1M1307 634l4 0M1307 685l4 4M1317 678l-10 7M1307 542l3 4M1309 536l-2 6M1307 817l0 2M1307 819l3 2M1307 941l7-3M1308 706l6 1M1308 795l3 3M1309 782l-1 13M1312 858l-4 2M1308 817l4-2M1308 837l3 0M1318 876l-10 0M1308 876l0 7M1308 956l0 1M1308 780l1 2M1308 883l8 2M1308 957l2 9M1319 953l-11 4M1308 567l6 15M1309 566l-1 1M1308 721l7 7M1312 718l-4 3M1310 966l-2 2M1314 768l-5 1M1310 565l-1 1M1309 587l12 11M1310 586l-1 1M1309 603l5 1M1323 782l-7 0-7 0M1310 536l6 4M1310 565l2-1M1314 582l-4 4M1310 826l3 6M1310 821l0 5M1310 966l13 2M1310 669l1 4M1313 664l-3 5M1310 849l2 9M1314 846l-4 3M1310 612l3 11M1312 690l-2 6M1311 820l-1 1M1316 551l-6-5M1315 708l-5 10M1311 624l1 8M1313 623l-2 1M1311 634l0 6M1312 632l-1 2M1311 673l6 4M1311 689l1 1M1311 893l1 1M1311 798l0 3M1319 794l-8 4M1314 610l-3 3M1311 640l7 4M1311 801l8 3 7 3M1311 801l1 14M1311 837l3 9M1312 835l-1 2M1311 738l2 3M1312 734l-1 4M1315 728l-3 6M1312 815l2 1M1312 564l7 3M1316 551l-4 13M1314 689l-2 1M1312 763l1 0M1312 894l3 6M1317 887l-5 7M1312 632l10 0M1312 835l8 1M1313 832l-1 3M1312 858l2 0M1313 695l2 7M1317 761l-4 2M1318 827l-5 5M1313 623l5-2M1313 664l6-2M1313 748l4 2M1313 741l0 7M1323 739l-10 2M1314 689l4 2M1317 680l-3 9M1314 707l1 1M1315 702l-1 5M1314 858l2 10M1322 855l-8 3M1314 913l0 10M1319 580l-5 2M1314 923l11 2M1314 923l0 15M1314 604l0 6M1314 604l7-6M1314 938l3 1M1319 614l-5-4M1314 768l9 14M1316 766l-2 2M1314 816l1 7M1325 816l-11 0M1314 846l6 2M1318 701l-3 1M1315 708l7 3M1315 900l0 1M1315 900l7-2M1315 901l4 10M1315 728l6-1M1316 538l5 2M1316 996l11-2M1323 980l-7 1M1328 767l-12-1M1317 763l-1 3M1316 868l1 0M1316 885l1 2M1316 885l3-5M1322 549l-6 2M1317 677l0 1M1319 676l-2 1M1317 678l0 2M1324 688l-7-8M1317 541l6 4M1317 750l0 11M1325 750l-8 0M1323 891l-6-4M1317 761l6 1M1317 868l2 6M1325 861l-8 7M1317 939l3 13M1326 938l-9 1M1318 615l0 6M1318 621l4 2M1318 651l4 4M1318 644l0 7M1318 876l1 4M1319 874l-1 2M1321 641l-3 3M1319 911l-1 1M1318 692l4 0M1318 701l4 0M1322 692l-4 9M1319 567l4 6M1328 559l-9 8M1319 880l7 2M1322 909l-3 2M1319 580l8 13M1323 573l-4 7M1319 794l10 9M1324 787l-5 7M1319 662l0 14M1326 676l-7 0M1319 874l9-2M1319 913l4 4M1323 660l-4 2M1319 953l7 13M1320 952l-1 1M1319 1009l1 0M1320 836l1 1M1321 829l0 1-1 6M1320 952l11-3M1320 848l2 7M1322 845l-2 3M1321 598l5-1M1326 609l-5 5M1321 837l1 8M1326 836l-5 1M1321 727l1 1M1326 722l-5 5M1321 641l5 1M1322 632l-1 9M1322 711l1 5M1322 710l0 1M1322 728l12 9M1322 728l1 11M1328 824l-6 5M1322 655l1 5M1329 649l-7 6M1322 701l0 9M1326 698l-4 3M1322 710l6-3M1322 898l5 3M1323 891l-1 7M1325 524l-3 0M1322 549l3 2M1323 545l-1 4M1322 845l7-1M1325 692l-3 0M1326 531l-4 8M1322 623l1 9M1325 622l-3 1M1323 632l-1 0M1322 855l1 1M1325 539l-2 6M1328 754l-5 8M1323 782l1 5M1323 856l2 5M1332 852l-9 4M1328 889l-5 2M1323 909l6 2M1323 980l1 1M1323 968l0 12M1323 660l3 2M1337 649l-7 6-7 5M1323 782l7-6M1326 966l-3 2M1323 632l5 0M1326 719l-3-3M1323 739l3 2M1323 573l5 1M1333 792l-9-5M1327 677l-3 11M1324 981l4 12M1337 977l-13 4M1325 524l1 7M1326 520l-1 4M1325 613l0 9M1325 622l8-1M1325 861l1 1M1325 692l2 2M1327 687l-2 5M1325 750l3 4M1326 746l-1 4M1325 816l2 2M1326 807l-1 9M1325 925l1 13M1333 920l-8 5M1327 1009l-2 0M1325 551l3 8M1325 551l7-2 7-3M1326 722l7 5M1326 719l0 3M1326 741l0 5M1334 737l-8 4M1334 862l-8 0M1326 862l2 10M1326 882l2 2M1329 873l-3 9M1327 901l-1 3M1326 642l3 7M1334 639l-8 3M1326 676l1 1M1330 669l-4 7M1326 520l6-4M1326 597l1 1M1327 593l-1 4M1326 609l2 3M1327 598l-1 11M1327 718l-1 1M1326 746l7 0 7-1M1326 966l6-1M1337 533l-11-2M1326 662l4 7M1337 655l-11 7M1330 705l-4-7M1327 694l-1 4M1329 803l-3 4M1332 941l-6-3M1327 677l2 2M1327 694l7 0M1333 581l-6 12M1327 818l1 6M1327 818l10-2M1327 901l2-1M1335 600l-8-2M1328 716l-1 2M1334 717l-7 1M1327 994l0 8M1328 993l-1 1M1327 539l12 7M1327 1003l0 6M1327 1009l6 2M1328 574l5 7M1333 569l-5 5M1328 824l0 1M1328 993l8 0M1335 1023l-7 0M1328 632l6 7M1335 626l-7 6M1328 754l6 1M1328 889l2 2M1328 884l0 5M1328 559l3 1M1328 764l0 3M1330 840l-2 1M1330 496l-2 8M1328 707l4 7M1330 705l-2 2M1328 767l1 1M1336 880l-8 4M1338 829l-10-4M1328 825l2 15M1328 872l1 1M1329 678l0 1M1329 679l10 0M1329 900l1 0M1330 891l-1 9M1329 911l4 9M1333 905l-4 6M1329 649l8 0M1329 685l7 2M1329 768l1 8M1331 768l-2 0M1329 803l5-2M1329 873l4 0M1330 776l4 2M1337 705l-7 0M1330 840l9-2M1330 900l1 4M1330 900l7-1M1338 891l-8 0M1330 669l3 0M1337 762l-7 5M1331 560l2 9M1338 557l-7 3M1331 509l1 2M1331 949l4 10M1333 945l-2 4M1332 965l7 9M1335 959l-3 6M1335 670l-3 2M1332 852l1 1M1332 848l0 4M1332 941l1 4M1342 930l-10 11M1332 511l0 5M1332 511l7-5 6-4M1332 516l6 3M1332 848l12 3M1333 920l6 2M1333 569l10-1M1333 945l8 1 7 2M1333 1011l2 12M1340 1006l-7 5M1333 873l3 7M1335 863l-2 10M1333 873l8-3M1333 727l2 9M1333 727l11-4M1333 581l6 0M1333 621l2 5M1336 613l-3 8M1333 669l2 1M1333 792l1 0M1334 778l-1 14M1333 853l3 0M1333 853l1 9M1334 717l10 5M1336 714l-2 3M1334 737l1-1M1334 862l1 1M1335 1024l-1 7M1334 755l3 7M1341 746l-7 9M1334 792l1 4M1343 782l-9 10M1334 801l7 9M1335 796l-1 5M1341 779l-7-1M1334 639l2 1M1334 694l4 7M1337 691l-3 3M1337 602l-2 9M1335 670l1 0M1335 863l6-1M1335 959l7-1 7 0M1335 736l1 1M1335 1023l0 1M1335 600l2 2M1340 596l-5 4M1335 626l1 0M1335 796l12-1M1344 1023l-9 1M1336 626l3 11M1337 705l-1 9M1336 611l0 2M1336 613l1 1M1339 666l-3-3M1336 737l4 8M1336 737l7-6M1336 670l3 9M1339 666l-3 4M1336 880l1 1M1336 687l1 4M1340 680l-4 7M1336 993l4 13M1341 989l-5 4M1336 626l3 1M1339 625l-3 1M1336 640l1 8M1339 637l-3 3M1337 649l0 6M1337 655l1 1M1337 648l0 1M1337 602l10 7 7-6M1337 705l7 4M1338 701l-1 4M1337 762l5 2M1337 816l4 5M1341 810l-4 6M1337 533l2 1M1338 519l-1 14M1337 614l3-3 9 4M1337 648l2 0M1338 691l-1 0M1337 881l1 5M1339 880l-2 1M1337 977l4 12M1339 974l-2 3M1337 899l1 1M1338 893l-1 6M1338 494l7 8M1338 617l6 3M1338 829l3 6M1341 821l-3 8M1344 519l-6 0M1339 534l-1 2M1343 563l-5-6M1340 547l-2 10M1345 697l-7 4M1338 691l7 6M1347 687l-9 4M1339 922l3 8M1342 919l-3 3M1350 971l-11 3M1339 534l7 0M1339 838l6 11M1341 835l-2 3M1345 636l-6 1M1341 665l-2 1M1339 679l1 1M1339 546l1 1M1339 581l1 15M1339 581l4-2M1339 652l5 4M1347 593l-7 3M1340 627l7 3M1340 536l1 1M1340 547l5 1M1341 537l-1 10M1340 680l5 0M1340 745l1 1M1342 764l-2 6M1340 1006l9 1M1350 1033l-10 5M1344 709l-3 4M1341 821l10 1M1341 835l11-4M1344 851l-3 6M1341 989l12 1M1341 537l1-1M1341 665l5 6M1342 664l-1 1M1344 714l-3-1M1341 862l2 5M1342 860l-1 2M1348 809l-7 1M1341 746l5 12M1348 745l-7 1M1341 770l3 4M1341 779l2 3M1344 774l-3 5M1342 858l0 2M1342 764l1-1M1346 860l-4 0M1342 918l0 1M1342 930l6 3M1344 656l-2 8M1342 664l10-1M1343 563l0 5M1353 556l-5 4-5 3M1343 568l2 3M1343 649l7-2M1343 782l7 5M1343 731l6 5M1344 723l-1 8M1343 763l9 5M1346 758l-3 5M1343 579l9 7M1345 571l-2 8M1346 622l-2 0M1352 771l-8 3M1344 1023l7 8M1350 1014l-6 9M1344 519l6 6M1351 508l-7 11M1348 655l-4 1M1345 849l-1 2M1346 709l-2 0M1344 722l10 1M1344 722l0 1M1344 714l0 8M1344 620l0 1M1345 620l-1 0M1345 713l-1 1M1345 680l2 7M1346 678l-1 2M1345 502l1 0M1345 621l1 1M1345 571l11-2M1345 849l9-1 4-11M1345 697l2 0M1345 548l8 8M1355 540l-10 8M1345 636l6 8M1347 634l-2 2M1346 502l5 6M1349 498l-3 4M1350 525l-4 9M1346 622l3 0M1346 671l0 7M1350 669l-4 2M1357 754l-11 4M1346 712l0-3M1348 701l-2 8M1346 678l8-1M1346 709l6 2M1347 697l1 4M1349 693l-2 4M1347 630l0 4M1349 622l-2 8M1347 634l10-1M1347 593l7 10M1352 586l-5 7M1347 651l1 4M1347 687l2 2M1347 795l2 2M1350 787l-3 8M1348 655l4 0M1348 809l3 13M1349 797l-1 12M1360 808l-12 1M1357 749l-9-4M1349 736l-1 9M1348 701l7 1M1348 948l1 10M1352 943l-4 5M1349 490l0 8M1349 498l10-4M1349 797l11 2M1349 1007l1 7M1355 1001l-6 6M1349 689l1 2M1356 683l-7 6M1349 693l8 8M1350 691l-1 2M1349 958l1 0M1349 615l2 2M1350 622l-1 0M1351 735l-2 1M1349 934l3 9M1349 1048l3 1M1350 669l4 1M1352 663l-2 6M1350 958l0 13M1350 958l13-1M1350 1014l11 5M1350 691l9 1M1350 1033l3 15M1351 1031l-1 2M1358 524l-8 1M1354 650l-4-3M1354 785l-4 2M1350 971l4 3M1350 622l7 5M1351 620l-1 2M1351 508l3 0M1351 534l3 1M1351 735l11 2M1355 726l-4 9M1351 769l1 2M1351 822l2 2M1351 617l0 3M1351 617l3-3M1351 620l7 0 6-1M1359 1029l-8 2M1352 1049l-1 2M1352 771l3 1M1352 943l3 0M1354 661l-2 2M1352 1049l1-1M1355 585l-3 1M1352 655l2 4M1354 650l-2 5M1352 831l6 6M1353 824l-1 7M1352 640l8 3M1358 761l-6 7M1356 714l-3-3M1359 821l-6 3M1353 1048l7 0 8 0M1353 990l2 11M1354 989l-1 1M1353 611l1 3M1353 556l4 1M1354 535l1 5M1356 533l-2 2M1354 603l3 0M1354 614l8-4M1354 785l7 13M1355 784l-1 1M1354 974l0 15M1354 989l8-1 7-1M1354 661l2 3M1354 659l0 2M1354 677l2 6M1357 675l-3 2M1354 723l1 3M1356 721l-2 2M1364 972l-10 2M1354 608l1 2M1361 645l-7 5M1354 670l3 5M1356 664l-2 6M1354 508l8 7M1361 499l-7 9M1354 659l4-1M1355 702l-1 9M1355 1001l9 4M1355 585l6 7M1356 584l-1 1M1357 701l-2 1M1362 733l-7-7M1355 784l13 0M1355 772l0 12M1355 540l7 4M1365 769l-10 3M1356 721l8 0M1356 714l0 7M1363 667l-7-3M1356 569l0 15M1360 565l-4 4M1361 581l-5 3M1370 713l-9-3-5 4M1356 683l3 9M1364 682l-8 1M1357 557l3 8M1364 547l-7 10M1357 603l2 2M1361 592l-4 11M1360 700l-3 1M1357 749l1 2M1362 737l-5 12M1357 627l0 6M1357 627l5-2M1357 675l2-1M1357 633l1 1M1357 754l1 5M1358 751l-1 3M1358 761l11 10M1358 759l0 2M1358 634l0 2M1359 634l-1 0M1361 641l-3-4M1358 658l7 3M1364 651l-6 7M1358 751l11 0M1371 762l-13-3M1358 837l1 0M1358 524l1 2M1362 515l-4 9M1359 674l5 8M1364 670l-5 4M1359 821l7 1M1360 808l-1 13M1359 1029l10 7M1361 1019l-2 10M1359 526l0 6M1359 837l3 2M1367 831l-8 6M1359 692l1 0M1359 494l2 5M1360 490l-1 4M1359 526l10 3M1359 605l3 0M1359 605l1 1M1361 707l-1 3M1360 799l0 9M1361 798l-1 1M1360 643l1 2M1361 641l-1 2M1360 692l0 8M1364 691l-4 1M1360 700l1 0M1360 565l8 3M1360 808l11 2M1361 645l0 1M1361 700l6 1M1361 700l0 7M1361 1019l2-2M1368 1048l-7 12M1361 581l11 4M1370 571l-9 10M1361 629l2 9M1369 794l-8 4M1361 592l5 0M1363 638l-2 3M1361 707l8-1M1365 500l-4-1M1361 646l11 0M1361 646l3 5M1362 609l0 1M1364 514l-2 1M1362 605l1 1M1372 600l-10 5M1362 610l4 5M1362 733l0 4M1367 728l-5 5M1362 544l2 3M1366 538l-4 6M1362 737l10 3M1363 625l2 1M1363 667l1 3M1365 661l-2 6M1363 638l7-2M1363 1017l9 2M1364 1005l-1 12M1364 547l7 3M1369 658l-5-7M1364 691l6 3M1366 683l-2 8M1364 721l3 7M1371 715l-7 6M1364 972l6 3M1366 961l-2 11M1364 682l2 1M1370 1003l-6 2M1365 500l-1 14M1364 514l7 0M1364 670l6 9M1370 669l-6 1M1365 531l1 7M1368 617l-3 2M1376 500l-11 0M1370 626l-5 0M1365 626l5 10M1365 769l4 13M1365 661l4-3M1376 537l-10 1M1366 592l6 8M1372 585l-6 7M1366 615l0 1M1372 606l-6 9M1370 681l-4 2M1366 605l0 2M1366 822l1 9M1373 817l-7 5M1367 487l4 3M1367 728l4 1M1367 831l3 1M1367 701l2 5M1367 701l3-2M1368 784l1 9M1369 782l-1 2M1368 568l2 3M1374 561l-6 7M1370 1048l-2 0M1369 706l1 2M1369 751l2 10M1371 750l-2 1M1369 1036l1 12M1375 1029l-6 7M1369 794l5 11M1369 793l0 1M1369 529l0 1M1377 525l-8 4M1369 771l0 1M1369 793l12-1M1369 658l1 0M1381 780l-12 2M1372 769l-3 2M1369 987l1 0M1370 975l-1 12M1370 571l4 3M1376 973l-6 2M1370 987l12 2M1370 987l0 16M1370 1003l2 1M1370 699l9 5M1370 694l0 5M1370 1048l2 2M1370 626l3 2M1373 618l-3 8M1370 658l3 4M1375 654l-5 4M1370 617l9-6M1370 636l2 0M1370 681l3 2M1370 679l0 2M1380 1063l-10 6M1370 669l6 4M1373 662l-3 7M1376 673l-6 6M1376 692l-6 2M1370 713l1 2M1372 708l-2 5M1371 750l2 1M1374 741l-3 9M1371 810l2 7M1374 805l-3 5M1371 762l1 7M1371 761l0 1M1371 550l3 11M1377 546l-6 4M1371 715l6 5M1371 729l1 11M1377 724l-6 5M1382 756l-11 5M1371 490l5 10M1371 490l8-7M1371 514l6 11M1379 505l-8 9M1372 646l2 2M1372 636l0 10M1372 769l9 0M1372 636l2-1M1372 585l4-2M1372 600l5 2M1372 740l2 1M1372 1004l7 8M1385 994l-13 10M1372 1050l8 13M1390 1040l-9 5-9 5M1373 662l6 3M1373 683l3 9M1381 681l-8 2M1373 817l2 1M1373 751l9 5M1373 751l9-3M1373 628l1 7M1377 624l-4 4M1373 604l1 2M1374 561l6-1M1374 574l2 9M1384 570l-10 4M1374 741l8 7M1384 735l-10 6M1374 635l7 2M1374 805l10-2M1374 529l2 8M1374 648l1 6M1381 643l-7 5M1375 654l7 2M1375 818l2 7M1382 817l-7 1M1376 537l2 2M1378 672l-2 1M1376 500l2 1M1376 692l4 1M1376 583l1 0M1377 525l3 1M1377 583l4 6M1391 577l-7 3-7 3M1377 720l0 4M1377 720l7-4M1377 724l5 5M1377 546l10 6M1378 539l-1 7M1377 624l5 8M1379 621l-2 3M1378 481l1 2M1379 1012l-1 4M1378 501l1 4M1388 490l-5 5-5 6M1378 672l3 9M1380 670l-2 2M1379 705l-1 1M1387 536l-9 3M1379 621l5 2M1379 665l1 5M1383 659l-4 6M1379 1012l7-3M1379 505l12 6M1379 704l0 1M1380 693l-1 11M1379 483l2 0M1379 611l1 0M1379 705l2 0M1380 560l4 10M1386 556l-6 4M1380 611l2 4M1384 608l-4 3M1386 690l-6 3M1380 670l7 1M1380 1063l7 3M1380 526l1 1M1390 517l-10 9M1382 632l-1 5M1381 780l1 1M1381 681l2 1M1381 705l0 1M1383 704l-2 1M1381 706l3 2M1381 792l4 5M1381 792l1-11M1381 589l1 12M1381 589l6-2 7-1M1381 637l0 6M1387 637l-6 0M1381 643l4 4M1381 483l7 7M1384 478l-3 5M1381 602l1-1M1381 769l2 10M1385 766l-4 3M1382 601l6-2 6-2M1383 779l-1 1M1383 456l-1 1M1382 729l2 6M1389 723l-7 6M1382 756l4 1M1382 1026l11 3M1382 455l1 1M1385 627l-3 5M1382 748l6 3M1382 656l1 3M1386 653l-4 3M1383 456l6 2M1383 659l5 4M1383 682l3 7M1388 676l-5 6M1384 602l-1 0M1383 704l2 1M1389 699l-6 5M1383 779l2 1M1384 735l5 2M1384 716l3 1M1384 708l0 8M1387 570l-3 0M1384 608l7 4M1384 602l0 6M1385 797l-1 6M1384 803l2 5M1387 803l-3 0M1385 601l-1 1M1384 623l1 4M1388 620l-4 3M1387 706l-3 2M1385 647l1 6M1389 645l-4 2M1385 780l0 2M1393 779l-8 1M1385 993l0 1M1385 994l2 3M1394 791l-9 6M1389 1071l-4 10M1385 766l11 6M1386 757l-1 9M1385 618l5 0M1385 627l5 2M1386 690l3 3M1386 689l0 1M1386 653l3 1M1394 683l-8 6M1386 556l5 7M1387 552l-1 4M1386 1009l7 8M1390 1003l-4 6M1387 756l-1 1M1387 536l6 12M1389 529l-2 7M1387 671l1 5M1387 670l0 1M1387 717l2 6M1394 715l-7 2M1387 1066l1 2M1397 1054l-10 12M1389 470l-2 1M1387 552l6-4M1387 570l4 7M1391 563l-4 7M1387 706l0-1M1387 756l6 2M1388 751l-1 5M1387 475l6 14M1387 637l2 8M1392 636l-5 1M1388 663l-1 7M1387 670l8-1M1389 706l-2 0M1392 660l-4 3M1388 676l3 2M1388 1068l1 3M1388 1068l12-2M1388 490l5-1M1392 744l-4 7M1388 526l1 3M1389 699l4 4M1389 693l0 6M1389 737l3 7M1395 730l-6 7M1389 1071l10 5M1389 444l3 0M1389 693l5 1M1389 723l7 3M1389 458l0 12M1391 457l-2 1M1390 618l-1 3M1389 645l3 0M1389 706l7 4M1390 704l-1 2M1389 470l8 2M1389 529l8 3M1389 654l3 6M1393 652l-4 2M1390 1040l7 14M1394 1030l-4 10M1390 517l3 4M1391 511l-1 6M1390 629l2 7M1390 629l2-2M1391 617l-1 1M1395 510l-4 1M1391 563l11 1M1391 457l11 1M1392 444l-1 13M1391 612l0 5M1396 608l-5 4M1391 678l3 5M1395 674l-4 4M1391 577l5 2M1391 622l1 5M1391 617l8 4M1392 636l4 1M1405 436l-7 4-6 4M1392 744l5 1M1392 627l6 0M1394 600l-2 0M1392 645l1 7M1397 640l-5 5M1392 660l4 2M1395 782l-3 5M1393 521l7 2M1393 521l0 3M1393 758l7 6M1403 753l-10 5M1393 788l1 3M1393 779l2 3M1396 772l-3 7M1393 489l1 0M1393 548l2 0M1393 652l3 0M1393 1017l0 12M1396 1014l-3 3M1393 1029l1 1M1394 600l2 8M1396 599l-2 1M1394 694l1 8M1394 586l3 8M1396 579l-2 7M1394 715l3 9M1396 710l-2 5M1394 597l0 2M1397 594l-3 3M1394 791l2 1 1-1M1394 683l4 0M1394 694l8 3M1401 684l-7 10M1394 703l1-1M1394 489l5 4M1398 476l-4 13M1394 1030l7 0M1395 782l11 4M1395 510l8 2M1399 493l-4 17M1395 702l7-4M1395 548l5 8M1400 544l-5 4M1395 669l2 2M1396 662l-1 7M1395 674l3 9M1397 671l-2 3M1395 730l10 9M1396 728l-1 2M1396 652l0 10M1397 771l-1 1M1403 575l-7 4M1396 637l1 3M1398 633l-2 4M1402 651l-6 1M1396 662l7-2M1396 710l6-1M1396 726l0 2M1397 724l-1 2M1396 608l6 1M1396 728l13 2M1397 771l8 4M1400 764l-3 7M1397 532l3 12M1400 530l-3 2M1401 671l-4 0M1397 745l6 8M1404 740l-7 5M1403 1052l-6 2M1397 472l1 4M1403 465l-6 7M1397 640l1 0M1408 718l-11 6M1397 594l6 1M1398 627l0 6M1400 624l-2 3M1398 633l3-1M1398 683l2 1M1398 476l12 2M1399 621l-1 2M1399 642l4 8M1399 493l8-1M1403 615l-4 6M1399 621l4 3M1399 598l5 9M1400 428l5 8M1400 544l10-1M1400 684l1 0M1403 675l-3 9M1404 762l-4 2M1400 530l9 9M1406 524l-6 6M1400 556l2 8M1400 556l7-4M1401 671l2 4M1405 664l-4 7M1401 684l6 4M1401 634l5 3M1402 564l2 2M1402 609l1 6M1404 607l-2 2M1406 637l-4 5M1402 458l1 7M1405 454l-3 4M1402 651l2 5M1403 650l-1 1M1402 697l0 1M1407 690l-5 7M1402 698l7 2M1403 701l-1-3M1402 709l6 8M1404 703l-2 6M1403 650l8-4M1403 660l2 4M1404 656l-1 4M1403 595l1 2M1408 589l-5 6M1403 575l5 14M1403 615l5 1M1403 753l2 1M1403 575l8 2 8 2M1404 570l-1 5M1403 465l7 3M1403 512l3 9M1413 507l-10 5M1403 624l7 7M1409 621l-6 3M1403 675l1 0M1404 566l0 4M1411 562l-7 4M1404 570l9 0 9 1M1404 607l2-1M1404 762l6 4M1405 754l-1 8M1406 523l-2-1M1404 701l0 2M1404 656l9 1M1404 675l9 6M1413 670l-9 5M1404 703l8 1 8 1M1404 740l5 4M1405 739l-1 1M1405 436l2 1M1411 667l-6-3M1409 733l-4 6M1405 775l4 6M1405 775l5-9M1417 461l-12-7M1408 439l-3 15M1408 753l-3 1M1405 789l1-3M1406 636l0 1M1406 786l3-5M1411 531l-5-7M1406 523l0 1M1407 522l-1 1M1406 636l3 7M1410 633l-4 3M1406 606l8 3M1409 598l-3 8M1407 492l3 8 3 7M1410 490l-3 2M1407 688l0 2M1412 682l-5 6M1407 437l1 2M1424 425l-8 6-9 6M1407 552l4 10M1411 545l-4 7M1407 596l2 2M1407 690l4 2M1408 717l0 1M1420 705l-6 6-6 6M1415 589l-7 0M1408 718l4 4M1408 616l1 5M1414 614l-6 2M1408 753l2 0M1409 744l-1 9M1408 439l11 7 10 7M1409 730l0 3M1412 722l-3 8M1409 733l11 5M1409 781l3 0M1412 598l-3 0M1422 742l-13 2M1409 621l4 3M1409 539l1 3M1411 531l-2 8M1410 478l0 12M1413 474l-3 4M1410 543l1 2M1410 542l0 1M1410 753l8 10M1423 747l-7 3-6 3M1410 490l9 0M1410 542l8-6M1410 631l0 2M1413 624l-3 7M1410 766l4 0M1410 468l3 6M1417 461l-7 7M1410 633l4 1M1411 644l0 2M1411 646l2 2M1418 530l-7 1M1411 545l10 6M1417 561l-6 1M1411 692l4 1M1411 692l0 7M1411 667l2 3M1414 658l-3 9M1421 716l-9 6M1412 722l9 6M1412 682l7 3M1413 681l-1 1M1412 598l6 5M1415 595l-3 3M1412 781l1 0M1413 780l-1 1M1413 657l1 1M1413 648l0 9M1415 677l-2 4M1413 507l1 0M1413 474l8 1M1415 623l-2 1M1413 648l7 0M1413 670l1 0M1414 507l5 12M1414 507l9-4M1414 766l0 9M1418 763l-4 3M1414 658l5 0M1414 634l6 11M1418 633l-4 1M1415 670l-1 0M1414 670l1 7M1415 589l2 5M1418 585l-3 4M1415 670l8 3M1420 665l-5 5M1415 677l9 3M1415 693l4 4M1419 688l-4 5M1418 603l-2 4M1416 519l7 5M1417 561l5 10M1421 552l-4 9M1426 459l-9 2M1418 763l2 0M1418 536l11 3M1418 530l0 6M1418 698l2 3M1423 524l-5 6M1418 585l8 4M1419 579l-1 6M1418 603l1 0M1419 490l5 9M1425 483l-6 7M1422 575l-3 4M1419 685l0 3M1424 680l-5 5M1419 658l1 1M1420 656l-1 2M1419 697l9-4M1419 419l2 1M1431 512l-6 3-6 4M1419 688l9 2M1420 645l0 1M1420 701l0 4M1420 648l3 3M1420 646l0 2M1420 659l6 1M1420 659l0 6M1425 696l-5 5M1420 705l0 1M1423 644l-3 1M1420 665l1 1M1420 738l2 4M1421 732l-1 6M1420 763l2 2M1422 760l-2 3M1420 612l7 1M1425 707l-5-1M1420 706l1 10M1421 475l4 8M1426 467l-5 8M1428 618l-7 3M1421 728l0 4M1426 725l-5 3M1421 732l11-1M1421 420l3 5M1421 419l0 1M1421 716l5 3M1421 552l11 13M1421 551l0 1M1421 593l1 6M1427 548l-6 3M1422 629l0 2M1423 651l-1 1M1422 742l3 2M1422 575l10 12M1424 573l-2 2M1422 631l4 1M1422 571l2 2M1422 603l6 6M1422 760l6 0M1423 747l-1 13M1423 503l8 9M1424 499l-1 4M1427 651l-4 0M1423 602l4-3M1423 673l3 5M1426 668l-3 5M1423 524l2 0M1425 744l-2 3M1428 571l-4 2M1424 425l8 1M1430 497l-6 2M1424 680l4 10M1426 678l-2 2M1427 744l-2 0M1425 483l8 1M1425 524l4 14M1426 524l-1 0M1425 707l8 7M1433 700l-8 7M1426 459l0 8M1429 453l-3 6M1426 523l0 1M1426 632l1 2M1431 624l-5 8M1426 678l3-1M1426 524l1-1M1426 719l0 6M1433 714l-7 5M1426 467l12 8M1426 725l3 1M1427 548l4 2M1429 539l-2 9M1427 613l1 5M1428 609l-1 4M1427 634l1 2M1427 634l9-3M1427 744l9 12M1431 742l-4 2M1428 589l3 2M1430 608l-2 1M1428 690l0 1M1428 618l2 1M1438 523l-10 3M1433 574l-5-3M1432 565l-4 6M1428 693l1 1M1428 691l0 2M1428 602l3-1M1437 686l-9 5M1428 695l1-1M1429 538l0 1M1429 726l3 5M1429 726l7-4M1429 694l0 1M1440 449l-11 4M1437 536l-8 2M1430 497l12 5M1433 484l-3 13M1430 670l0 1M1430 619l1 2M1432 617l-2 2M1431 591l1 3M1433 590l-2 1M1431 601l4 9M1433 598l-2 3M1431 512l8 2M1431 624l5 7M1431 621l0 3M1437 636l-6 3M1431 742l13 4M1434 735l-3 7M1431 621l3 0M1431 695l2 5M1432 731l2 4M1434 545l-2 5M1432 565l3-2M1432 426l4 11 4 12M1432 426l4-5M1432 553l3 3M1432 595l1 3M1434 612l-2 2M1436 483l-3 1M1433 574l5 10M1444 570l-11 4M1434 598l-1 0M1433 700l8 4M1433 714l2 0M1434 592l2 1M1440 731l-6 4M1434 543l0 1M1434 544l0 1M1434 544l5-5M1434 545l10 5M1434 681l3 4M1438 524l-4 8M1434 612l5 10M1435 610l-1 2M1438 646l-4 1M1435 556l0 6M1441 554l-6 2M1435 714l1 8M1437 712l-2 2M1435 562l10 2M1435 610l5 0M1439 622l-3 4M1436 722l4 3M1436 421l6 1M1437 414l-1 7M1436 483l5 4M1438 475l-2 8M1436 593l0 5M1441 589l-5 4M1436 631l4 2M1436 655l2 1M1437 712l8 5M1441 704l-4 8M1437 537l2 2M1437 685l1 0M1439 681l-2 4M1440 646l-3-10M1440 633l-3 3M1437 686l5 5M1438 685l-1 1M1442 683l-4 2M1438 523l0 1M1439 514l-1 9M1446 469l-8 6M1441 526l-3-2M1438 656l0 4M1438 656l3-5M1441 662l-3-2M1438 647l3 4M1439 584l3 1M1439 535l0 4M1439 539l7 2M1450 621l-11 1M1440 670l-1 1M1442 511l-3 3M1444 601l-4-1M1441 671l-1-1M1441 662l-1 8M1444 746l-4 7M1440 633l1 0M1440 449l3 8 4 8M1447 446l-7 3M1440 610l10 11M1440 610l1-1M1440 725l0 6M1446 721l-6 4M1440 731l12 5M1441 554l5 9M1443 552l-2 2M1441 633l9 6M1442 630l-1 3M1442 691l-1 1M1441 487l3 11M1441 487l7-3 8-3M1441 526l5 9M1460 525l-9 1-10 0M1441 651l6 0M1444 703l-3 1M1441 589l7 5M1442 585l-1 4M1444 662l-3 0M1442 691l1 0M1445 581l-3 4M1442 502l0 9M1444 498l-2 4M1442 511l2 1M1443 691l0 1M1446 689l-3 2M1443 692l1 11M1443 552l5 4M1444 550l-1 2M1443 576l2 5M1444 512l8 5 8 5M1461 505l-9 3-8 4M1447 545l-3 5M1444 662l0 1M1444 661l0 1M1445 423l-1 1M1444 601l0 2M1447 599l-3 2M1444 703l7 2M1444 746l6-1M1444 498l9-3M1445 717l1 4M1452 710l-7 7M1445 564l0 6M1446 563l-1 1M1445 581l3 1M1445 423l8 3 8 3M1448 418l-3 5M1446 535l-1 1M1458 573l-13-3M1446 541l1 3M1447 538l-1 3M1446 563l2-1M1446 721l7 3M1446 469l10 11M1447 465l-1 4M1456 532l-10 3M1449 646l-3-2M1447 436l3 0M1447 465l8-1M1453 602l-6-3M1448 594l-1 5M1450 639l-3 4M1447 412l1 6M1447 545l6 7M1447 544l0 1M1453 543l-6 1M1451 592l-3 2M1451 622l-3 6M1448 582l3 10M1449 581l-1 1M1460 415l-6 1-6 2M1448 556l0 6M1453 552l-5 4M1448 562l2 0M1449 581l9 6M1458 573l-9 8M1449 449l9 5M1449 449l4-7M1450 436l3 6M1460 430l-5 3-5 3M1450 745l0 3M1450 744l0 1M1450 562l8 11M1457 560l-7 2M1450 744l3 1M1452 736l-2 8M1450 639l1 1M1451 638l-1 1M1451 628l1 2M1451 592l4 0M1453 607l-2 1M1451 705l1 5M1454 703l-3 2M1455 733l-3 3M1452 710l4 5M1453 602l0 5M1453 543l6 5M1455 540l-2 3M1453 552l2 0M1458 599l-5 3M1453 442l8-1M1453 724l2 9M1457 718l-4 6M1453 495l8 3M1456 481l-3 14M1455 733l7 0M1455 592l4 6M1458 587l-3 5M1455 552l2 5M1459 548l-4 4M1456 480l4 5M1456 480l0 1M1457 540l-1-8M1461 526l-5 6M1459 478l-3 2M1456 715l1 3M1461 713l-5 2M1456 409l4 6M1459 464l-3 2M1457 718l7 2M1457 559l0 1M1457 560l3 1M1458 573l1 0M1461 585l-3 2M1458 454l1 10M1460 452l-2 2M1459 464l4 1M1459 548l1 0M1459 573l2 1M1461 566l-2 7M1461 441l-1 11M1460 452l11-2M1460 561l1 5M1462 559l-2 2M1460 522l0 3M1460 522l3-5M1460 415l4 2M1460 430l2 9M1461 429l-1 1M1460 525l1 1M1465 424l-4 5M1461 526l4 3M1465 574l-4 0M1461 574l0 11M1461 585l2 2M1461 486l1 3M1462 489l-1 5M1473 501l-12-4M1461 441l1-2M1461 546l1 0M1461 566l3 0M1469 477l-7 6M1462 733l0 1M1465 729l-3 4M1464 488l-2 1M1462 439l10 3M1463 465l4 2M1471 450l-8 15M1464 417l0 1M1464 407l0 10M1464 537l3 1M1464 519l4 3M1464 418l1 6M1477 410l-6 4-7 4M1464 488l12 2M1473 482l-9 6M1465 424l4 2M1468 523l-3 3M1467 545l-1 0M1467 545l1 6M1467 544l0 1M1474 544l-7 0M1467 467l2 10M1467 467l7-3M1467 505l2 4M1468 522l0 1M1469 509l-1 13M1468 523l3 0M1468 551l0 1M1469 551l-1 0M1469 477l4 3M1477 512l-8-3M1469 426l6 12M1476 425l-7 1M1472 450l-1 0M1471 523l5 8M1471 523l10-4M1472 442l0 8M1475 440l-3 2M1472 450l2 2M1472 480l1 2M1473 482l3 8M1473 501l1 2M1476 490l-3 11M1474 404l3 6M1474 544l5 3M1477 540l-3 4M1482 447l-7 12M1482 422l-7 9M1475 433l6-3 6-2M1475 440l7 6M1475 448l7-2M1476 473l6 1M1476 503l3 4M1476 490l6-1M1477 410l3 1M1477 512l4 7M1479 507l-2 5M1479 507l10 0M1480 411l1 9M1481 410l-1 1M1480 479l2 10M1481 519l2 0M1481 403l1-3M1481 421l1 1M1481 420l0 1M1482 409l1 1M1482 474l0 1M1482 474l5-14M1482 489l6 1M1487 428l-5-6M1482 446l0 1M1488 442l-6 4M1482 447l5 13M1482 475l9 0M1482 475l1 2M1483 410l0 6M1487 408l-4 2M1483 417l6-1 6-1M1483 519l3 3M1489 509l-6 10M1485 395l3-2M1488 535l-2 1M1486 522l1 3M1497 520l-11 2M1487 428l2 2M1493 409l-6-1M1490 401l-3 7M1487 460l9 1M1488 390l0 2M1488 541l0-6M1488 490l1 8M1491 487l-3 3M1488 442l7 1M1489 430l-1 12M1489 507l0 2M1490 499l-1 8M1489 396l1 2M1489 498l0 1M1503 492l-7 3-7 3M1489 509l7 3M1498 426l-9 4M1490 399l0-1M1490 398l8 3 7 4M1491 476l2 0M1491 487l12 4M1493 476l-2 11M1491 533l7-1M1493 475l0 1M1494 476l-1 0M1494 476l12 12M1496 475l-2 1M1495 443l2 2M1503 439l-8 4M1496 461l4 12M1506 455l-10 6M1496 512l1 8M1503 509l-7 3M1503 370l-6 3M1497 445l9 10M1504 444l-7 1M1498 520l-1 0M1497 497l2 1M1498 346l3 0M1498 532l1 2M1502 526l-4 6M1502 428l-3-1M1499 498l1 1M1499 498l1-1M1500 430l2-2M1501 346l1 12 1 12M1519 332l-9 7-9 7M1501 499l3 0M1506 426l-4 2M1505 507l-3-1M1503 491l0 1M1503 491l3-3M1503 495l0-3M1503 370l8 1 8 1M1504 321l8 0M1505 507l-1 5M1509 516l-5-4M1504 499l2 7M1506 497l-2 2M1509 476l-5-3M1505 405l1 11 0 10M1511 402l-6 3M1506 506l-1 1M1506 495l0 2M1537 413l-10 4-11 5-10 4M1506 426l7 7 7 7M1506 455l3 1M1506 497l2 1M1506 488l6-3M1506 506l3 0M1518 444l-5 3-5 3M1508 498l4 5M1508 498l3-1M1509 456l2 2M1510 453l-1 3M1509 476l3 9M1519 469l-10 7M1509 506l1 10M1511 506l-2 0M1510 516l4-6-3-4M1511 316l1 5M1529 405l-9-1-9-2M1519 372l-4 15-4 15M1519 497l-8-1M1511 458l0 7M1515 457l-4 1M1512 504l-1 2M1512 321l3 3M1512 485l2 1M1514 464l5 5M1514 486l5 6M1518 483l-4 3M1515 324l4 8M1515 324l7-7 6-8M1517 503l2-2M1519 492l0 5M1519 492l7-3M1519 469l2 0M1519 332l10 6M1519 372l4-1M1519 498l0-1M1519 501l5 4M1519 498l0 3M1535 496l-8 1-8 1M1523 371l4 10 3 9M1537 359l-7 6-7 6M1529 338l7 10M1541 319l-6 10-6 9M1529 405l8 8M1530 390l-1 15M1530 390l10 1 9 1M1535 496l-2 5M1536 496l2 2M1536 348l1 11M1548 340l-6 4-6 4M1537 413l5 2M1537 359l8 5 7 5M1544 491l-1 0M1549 392l1 9M1555 377l-6 15M1552 369l3 8M1552 369l7-3 6-2M1555 377l8 6 8 6"/>
<path transform="scale(0.25)" stroke="#000" stroke-width="6"  d="M733 553l10 3 10 3 11 3 10 3 10 3 10 3 11 2 10 3 10 3 10 3 11 2 10 3 10 3 11 2 10 3 10 2 10 3 11 2 10 3 10 2 11 3 10 2 11 2 10 2 10 3 10 2 10 2 11 2 10 2 10 3 11 2 10 2 10 2 11 2 10 2 10 2 10 2 10 1 10 2 10 2 10 2 10 2 10 1 10 2 11 2 10 1 10 2 10 1 10 2 10 1 10 2 10 1 11 2 10 1 11 2 10 1 11 2 10 1 11 1 10 2 10 1 11 1 10 1 11 1 10 2 11 1 11 1 10 1 11 1 10 1 11 1 10 1 11 1 10 1 11 1 10 0 11 1 10 1 10 1 11 0 10 1 11 1 10 0 10 1 11 1 10 0 11 1 10 0 10 1 11 0 10 0 10 1 11 0 10 0 10 1 11 0 10 0 11 0 10 1 10 0 11 0 10 0 10 0 11 0 10 0 9 0 10 0 10 0 10 0 10 0 10 0 9-1 10 0M1895 707l0-12 0-12 7 1 7 2 3 12 2 13 3 12 9 2 10 2 9 2 9 0 8 1 9 1 10-1 9-1 8 6 9 7 8 6 8 0 9 0 9 4 9 5 9 4 7-4 8-5 8-4 9 2 9 1 10 2 9 2 10 2 10 3M628 708l8 2 8 2 8 3 5 5 6 5 6 3 5 4 0 16 3 17 9 4 9 4 12-1 12-1 10 6 10 5 10 0 9 0 10-1 9 1 9 1 9 1 11 0 10 0 11 1 7-1 7-1 10 3 10 2 10 3 10 2 11 2 10 3 10 2 10 2 10 3M970 614l-4 15-3 15-4 15-3 15-3 14-4 15-3 15-3 15-4 15-3 14-3 15 0 8-1 10 0 10M932 805l4 10 3 13 2 12-10 14-10 14-12 14-6 8-6 9-1 10 9 8 1 7-5 8-4 8-4 14-3 14-3 15-3 14-4 14-3 15-3 14-3 14M541 966l11 4 11 3 12 4 11 3 11 3 11 4 12 3 11 3 11 3 12 4 11 3 12 3 11 3 11 3 12 3 11 3 11 3 12 3 11 3 12 3 11 3 12 2 11 3 11 3 12 3 11 2 12 3 11 3 12 2 11 3 12 2 12 3 11 2 12 3 11 2 12 3 12 2 11 2 12 3 12 2 11 2 12 2 12 2 11 3 12 2 12 2 11 2 12 2 12 2 11 2 12 2 12 1 11 2M733 1021l-4 16-4 15-4 16-4 15-4 16-4 15-4 15-4 16-4 15-4 16-4 15-4 16 9 14 9 14 9 15 9 14 9 14 10 14 9 15 9 14 10 14 9 14 10 14 9 14 10 14 10 14 10 14 9 15 10 14 10 14 11 14 10 13 10 14 10 14M896 1517l5-10 0-11-1-11 1-11 1-11 1-11 10-2 9-3 9 0 9 1 3-13 2-13 3-12 2-13M1010 1083l-3 16-3 16-3 15-3 16-3 16-3 15-3 16-3 16-3 15-3 16-3 16-3 16-3 15-3 16-3 16-3 15-3 16-3 16-3 16-3 15 13 3 12 2 13 2 12 3 13 2 12 2 13 2 13 2 12 2 13 2 12 2 13 2 13 2 12 2 13 2 13 2 12 2 13 2 13 1 12 2M1150 1107l-2 16-3 16-2 16-2 16 11 1 12 2 12 2 12 2 12 1 12 2 12 2 12 1M1175 951l-3 15-2 16-2 16-3 15-2 16-3 16-2 15-3 16-2 16-3 15M1175 951l2-11 1-12 2-11 11 2 12 2 11 1 11 2 11 2 12 1 11 2 11 1 11 2 12 1 11 2 11 1 11 1 12 2 11 1 11 1 12 1 11 2 11 1 12 1 11 1 11 1 12 1 11 1 11 1 12 1 11 1 11 1M1236 1184l12 2 12 2 12 1 12 2 12 1 12 1 12 2 12 1 12 1 12 2 12 1 12 1 12 1 12 2 12 1 12 1 12 1 12 1 12 1 12 1 12 1 12 1 12 0 12 1 12 1 13 1 12 1 12 0M1236 1184l-2 16-2 16-2 16-2 16-2 16-3 16-2 15-2 16-2 16-2 16-2 16-2 16-2 15-2 16-3 16-2 16M1202 1438l13 2 12 1 12 2 12 1 13 2 12 1 12 2 13 1 12 1 12 2 12 1 13 1 12 2 12 1 13 1 12 1 12 1 13 1 12 1 12 1 13 1 12 1 12 1 13 1 12 1 12 1 12 0 13 1 12 1 13 0 12 1 13 1 12 0 13 1 13 0 12 1 13 0 13 1 12 0 13 0 12 1 13 0 13 0 12 0 13 1 13 0 12 0 13 0 13 0 12 0 13 0 13 0 12 0 13 0 12-1 13 0 13 0 12 0 13-1M1202 1438l-2 16-2 15-2 16-2 16-2 15-2 16-2 16-2 15-3 16-2 16-2 15-2 16-2 16-2 15-2 16-2 16-2 15-2 16-2 16-3 16-2 15-2 16-2 16M1010 623l-2 13-3 13-3 13-3 13-3 13 3 12 2 12 3 12 7 9 8 8 6 9 6 10 5 13 6 13 9 10-5 11-4 11-3 9-3 9-3 9-3 9 5 4 5 3 10-5 9-5 2 10 3 10 4 12 5 13-3 6 8 10 4 13 4 12 6 7 11-1 11-1 5-6 10 2 11 2 11 2 8-10 7 4 9 15M1516 696l-1 16-1 15-1 15-1 15-2 15-1 16-1 15-1 15-1 15-2 15-1 15-1 16-1 15-1 15-1 15-2 15-1 15-1 16-1 16-2 16-1 16-1 16-1 16-2 16-1 16-1 16-1 16-2 16-1 16-1 16-1 16-1 16-2 16M1501 894l11 1 11 0 11 1 12 1 11 1 11 0 11 1 11 1 11 0 12 1 11 0 11 1 11 0 11 1 11 0 12 1 11 0 11 0 11 1 11 0 11 0 12 0 11 1 11 0 11 0 11 0 12 0 11 0 11 0 11 0M1486 1082l11 1 12 1 11 1 11 0 12 1 11 1 11 0 12 1 11 1 11 0 11 1 12 0 11 1 11 0 12 1 11 0 11 1 12 0 11 0 11 1 11 0 12 0 11 0M1746 1094l9 5 10 4 9 5 12-3 12-2 9 3 9 4 8 5 7 6 9 7M1573 1216l-1 16-1 16-1 16-1 16M1569 1280l-1 16-1 16 0 16-1 16-1 16-1 16-1 16-1 16-1 16 0 16-1 16-1 16M1569 1280l12 1 13 0 12 1 12 1 12 0 12 1 13 0 12 0 12 1 12 0 13 1 12 0 12 0 12 0 12 1 13 0 12 0 12 0 12 0 13 0 12 0 12 0 12 0 13 0 12 0 12-1 12 0M1510 1469l-1 16-1 16 13 0 12 1 13 1 13 1 13 0 13 1 13 1 13 0 12 1 13 0 13 1 13 0 0 16-1 15-1 16 0 15-1 16 0 15-1 16 0 16M1508 1501l-2 0-1 15-1 16-2 16-1 16-1 16-1 16-1 16-1 16-1 16-1 16-2 16-1 16-1 16-1 16-1 17-1 16-1 16-2 16-12-1-13-1-13-1-13-1-13-1-13-1-13-1-13-1-13-1-13-2-13-1-13-1-13-1-12-2-13-1 0 6 3 9M1658 1633l8 6 7 6 10-2 9-1 8 8 13 7 9 2 9 2 14 2 13-1 8 17 8-4 8-3 12 3 12 3 2 10 14-8 8 0 8 1 13 9 11-5 10-6 10-2 9-2 9-1 10-1 9 7 10 6 11 3 11 3M1951 1692l13 4 11 1 0 12 1 11 0 12 0 13 1 13 0 13 1 14 0 13 8 5 3 10 3 9 7 13 8 13-3 13-2 13-2 13 0 16 0 16-3 13-3 13M1976 1732l13-1 13 0 13-1 12 0 13 0 13-1 13 0 13-1 13-1 13 0 13-1 13-1M1939 1509l2 14 3 14 2 14 2 14 3 14 0 15 0 14 0 14 0 14 0 14 0 14 0 14 0 14M1938 1477l0 16 1 16M1939 1509l13 0 12 0 13-1 13 0 13-1 12 0 13-1 13 0 13-1 13-1 12 0 13-1 13-1 13-1 12-1 13 0 13-1 13-1-2 13-4 10-4 9 12 0 12-1 11-1M1807 708l2 16 3 17-1 11-1 11 5 15 4 14 4 13 1 14 1 13 1 13 3 13 2 14 3 13 1 10 1 11M1836 906l-2 9-10 13 7 11 10 8 0 15 1 14 0 15 0 14 0 14 0 15 0 14 0 15M1842 1063l-7 0 1 9 1 10 5 13-4 16 1 8 1 9M1840 1128l4 9 3 9 6 16 6 16 5 14 4 15 2 11 2 11 2 10 2 10M1876 1249l6 9 5 9 6 10 6 9M1899 1286l10 8 11 8-10 16 10 13 8 5 7 6 0 15 1 15 0 15 0 15 1 15 0 15 0 15 1 15 0 15M1842 1063l12 0 11 0 12-1 11 0 12 0 12 0 11 0 12-1 11 0 12 0 11-1 12 0 12-1 11 0 12-1 11 0 12-1 12-1 11 0 12-1 11-1M1876 1249l12 0 11 0 12 0 11-1 12 0 11-1 12 0 12-1 11 0 12-1 11 0 12-1 11-1 12 0 11-1 12-1 11 0 7 6 9 7M2033 850l-8 5 0 12 1 11 0 12-7 8-8 8-8 8 3 14 3 15 0 12-1 11 0 12 12 8 12 7 9 6 10 6 12 11 12 10 8 12 2 16M2085 1054l3 13 2 13 2 11 2 11 8 4 9 4 6 6M2117 1116l11 12 11 13 1 9 1 10-8 10-8 10-11 4-12 4 0 13-1 13 8 9-10 10-11 10 0 11M2088 1254l-1 13-1 12 4 9 4 10 11 9 10 8 11 9 4 11 5 11 10 3 11 2M2156 1351l0 13-3 13-3 13 12 9 12 8 11 11 11 10 1 10 1 9 9 6 10 5 1 5M2218 1463l-1 10-1 11-10 11M2206 1495l-6 13-3 10-3 10M2194 1528l1 9-8 14-8 13-1 10 0 10-10 10M2168 1594l-6 10-6 10-8 14-8 13-5 13-4 13-2 13-2 13 2 16 2 16M2131 1725l2 13 3 13 6 9 6 9-6 10-6 11-8 13-7 13-2 12-2 11-4 17M2113 1856l14-1 13-1 13-1 13-1 13-1 13-1 13-1 13-1-1 10-1 10 5 9 5 10 8 13M2117 1116l11-1 11-1 11 0 11-1 11-1 12-1 11-1 11 0 11-1 11-1 11-1 11-1M2168 1594l12-1 12-1 13-1 12-1 12-1 12-1 12-1 13-1 12-1 12-1 12-2 13-1 12-1 12-1 13-1 12-2 12-1 13-1 12-2 12-1 11-2 12-1 11-2 11-1 11-2 11-2 13-2 12-2 13-1 13-3 12-2M2278 1585l3 6 0 15 0 14 0 15 0 15 0 14 0 15 0 15 1 15 0 15 0 15 0 15 0 15 0 15 2 15 2 14 2 14 2 14 2 14 2 14 2 15M2413 1571l5 15 4 14 4 15 5 14 4 15 5 15 4 14 5 15 4 14 7 15 7 14 0 15-1 14 3 13 2 13 3 11 2 12 3 12M2479 1821l-13 1-13 2-13 2-13 1-13 2-13 1-13 2-13 1-13 2-13 1-13 1 5 11 5 11 0 12-1 12M2479 1821l5 8 5 9 13-1 14-1 13-1 13-1 14-1 13-1 13-2 14-1 13-1 14-1 13-2 11 12-1-13-2-14 6-2 13 1 13 0M2692 1720l-8-4-8-4-10-15-10-14-4-9-4-10-14-13-15-14-9-7-9-6-11-7-10-6-11-14-10-14-11-6-15-6 5-10 5-10M2543 1551l8-3 9-4 10-6 10-5 12-2 11-1 11-1 12-2 11-1 11-2 2 7 7-4 4 8 5 8 11-2 12-2 11-2 12-2 11-2 14 10 14 10 15 9 14 10 14 9M2480 1561l6-10 6-9 7-11 8-11 10-6 9-6 10-5 9-13 7-3 7-3 9-4 10-3 9-4 5-14 4-10 4-10M2600 1439l13-2 12-2 12-2 13-1 12-2 12-2 13-2 12-3 13-2 12-2 12-2 12-2 12-3 13-3 12-2 12-3 12-2 12-3 12-3 12-3 12-2 12-3 12-3 12-3M2600 1439l-13 2-12 2-13 2-13 2-12 2-13 2-13 2-12 2M2499 1455l-12 1-12 2-12 1-12 1-12 2-11 1-12 2-12 1-12 1-12 1-12 2-11 1-12 1-12 1-12 0-12 1-11 1-12 1-12 1 1 11-11 2-12 1-11 1-12 1-11 1-12 1M2218 1463l9-3 9-3 9-2 3-11 2-11 9-3 9-3 1-12 0-10M2269 1405l1-9 1-10 7-12 6-12 1-15 2-14-2-14-1-15-2-15-1-15-2-15-1-15-2-15-1-14-2-15-2-15-1-15-2-15M2269 1405l10-5 11-6 13 3 13 4 7-7 7-6 7 0 8 1 11-16 14 8 5-9 5-9 7-16 7-15 12 0 7-14 6-14M2419 1304l-2-15-2-15-2-15-2-15-2-15-1-15-2-15-2-15-2-15-2-15-2-15M2302 1147l10-1 11 0 11-1 10-1 11-1 11-1 11-1 10-1 11-1 11-1 10-2 11-1 10-2 11-1 11-2M2419 1304l8-1 8-1 9 9 8 8 13 4 14 3 10 0 10-1 6-5 7-5 9 8 7 4 8 4M2536 1331l6-5 7-6 2-16 8-14 12 1 4-11 3-11 3-9 8-8 9-9 8-8 1-12 2-12 1-10 1-11 1-16M2612 1174l-2-14-3-14-3-14-2-14-3-15-2-14M2612 1174l3 14 2 15 3 14 3 15 10-2 10-2 10-2 10-2 10-2 12-2 12-3 12-2 12-2 11-3 12-2 12-3 12-2 12-3 12-3 11-2 12-3 12-3 12-2 11-3M2673 1222l2 11 2 11 2 11 8-10 8-11 7-7 7-7 9-1 8-1 10-7 9 1 8 2 5 8 5 8M2763 1230l-3 12-9-3-10-4-9-4-6 15-6 15-5 15-8-4-5 15-5 16-9-4-9-4 0 10-6 15-5 15-5 12-6 11 2 11-8 6-9 5-9 5-8 5-9 5-8-6-7 6-7 6-8-9-8-9-3-1M2536 1331l2 16 6 9 7 9 6 10 9 3 9 4M2575 1382l-8 10-8 10-7 8-8 8-11 12-11 12-12 6-11 7M2763 1230l14 11 13 4 12 4 2 12-4 11-4 11 8 1 8 2 11 2 11 3 7 1 8 2M2869 1296l11-5 11-4 11-5M2850 1184l4 13 4 13 4 12 4 13 4 13 3 13 11-2 11-3 10-2M2850 1184l6-9 11-1M2867 1174l6-5 6-4 7-11 6-12-8-4-9-5-10-14-1-10-1-10 7-17 7-13M2877 1069l-10-5-10-6-3-12-9-4-8-5-12 3-11 3-11 2-12 3-11 2-11 3-12 3-11 2-11 3-12 2-11 2-12 3-11 2-11 2-12 3-11 2-12 2-11 3-2-9-1-8M2877 1069l11 4 11 3 10 3 11 3M2931 1079l-5-5 10-10-4-5-4-15-3-16-3-16M2922 1012l0-15-1-16 0-15-3-12-3-13-4-12-3-13-8-3-3-14-3-14-3-14-3-15-4-14-4-15M2820 843l10-3 10-2 10-3 10-3 10-2 10-3 10-3 10-3 10-2 10-3 10-3 11-3 10-3 10-3M2921 966l9-2 9-2 10-2 9-3 10-2 11-3 11-2 10-3 11-3 8-12 10-5M2958 957l-5-7-4-8 0-14 0-13 1-15 0-15 0-15-1-15 8-9 8-9-2-16-1-8-1-9M2922 1012l11-2 10-3 11-3 12-3 11-2 12-3 11-3 10-3 9-3 2 8 13 13 7 8M3000 993l3 14 3 15 4 15M3031 914l-9-8-8-7-5-13-5-13-4-12-5-14-4-13-4-13-5-13-4-14-4-13M2961 804l6-11 7-12 5-5 5-5 5-14 5-15 0-12 0-12 0-12 0-13 0-12 5-14 4-15 5-14 4-14 11 7 8 6 9-7 8-6 8-7 12 6 12 5 5 14 4 14 5 14 5 14 4 13 11 9 10 8 4 9 3 9 9 7 10 8 10 9M2242 938l-12-15-7-14-7-13-11-4-11-4-11-4-7-3-7-3-9-2-10-2-9-2-9-2-10-2-7-7-7-6M1295 1787l-13-2-13-1-13-2-13-1-13-2-13-1-13-2-2 14-2 15-11-2-12-1-11-2-12-1-12-2-12-1-13-2-12-2-12-2-12-1-13-2-12-2-12-2-13-7-13-7-12-7-13-7-13-8-12-7-13-7-13-7-12-8-13-7-12-8-12-7-13-7-12-8-12-7 7-14-13-1-13-2-13-1-13-1-13-2-13-1-13-2-13-2-13-1-13-2M863 1660l8-8 7-7 3-16 2-16 3-13 2-12 13-11 13-11-6-10-5-11-8-18 1-10M847 1717l4-12 4-12 0-10 1-9 6-6 1-8M2920 1082l2 13 5-8 4-8M1264 668l3-16 2-16 2-16 2-16 3-16 2-16 2-16 3-17 2-16 2-16 3-16 2-17 3-16 2-16 2-16 3-17M1631 704l-1-17 0-16 0-16 0-17 0-16-1-16 0-17 0-16 0-16 0-17 0-16-1-17 0-16 0-17 0-16 0-17M1895 683l0-16-1-16 0-16 0-15-1-16 0-16 0-16-1-15 0-16 0-16-1-16 0-16 0-16-1-16 0-16M2820 843l2-13 1-12 2-13-9 4-9 4-9 3-10 4-9 4-9 3-12-2-12-3-13-2-12-3-9-1-9 0-12-4-11-4-11-3-11-4-11 0-10-1-11 0-11-11-11-11-9-11-8-11-8-11-4-16-3-16-3-15-3-16-3-16-3-16-3-15-3-16-3-16-4-16-3-16-3-15-3-16-3-16-3-16-3-16-3-16-3-16-3-16M3023 631l7-8 7-8 8-8 5-13 4-14 10-3 10-3 9-3 8-5 8-5 8-5 5-4 5-3"/>
<path transform="scale(0.25)" stroke="#000" stroke-width="7.4"  d="M2186 1909l8 2 9 1 13-8-6-10-14-2-11 7 1 10M2743 2046l4-14 11 1 8 12-6 13-11 0-6-12M2033 850l9-9 8-9 8-9 8-9 11-9 10-9 11-9 10-9 10-6 11-6 10-6 7-14 6-13 9 1 8 1 9 2 3-14 5-15 5-15 9-1 11 2 11 2 11 1 11 2 10 0 10 0 10 0 7 15 8 15 7 15 11-1 11 0 11-1 11-1 4 14 4 14 4 13 9 12 10 12-1 13 0 13-10 1-10 2-1-9-1-9-8 3-8 3-8 3-10 4-11 5-11 4-10 4-6 6-12-2-11-1-11-2-8-9-8-9-8 0-8 0-8 0-8 8 4-14 4-14 8-9 8-10-10 6-9 5-10 6-8 9-8 9-9 5-8 5-10 4-9 5-10 5-9 4-10 5-9 0-10-1 0-11 1-11-9 3-9 4-8 3-9 3-9 3-8 3-5-1M2155 765l9-7 10-7 9-7-1 7-8 6-9 5-8 6-2-3M2365 879l-13-12-9 1-9 1-9 1-9 2-10 3-9 2-7 7-7 8-10 1-10 1-7 15-7 14-7 15-4 12-5 13-5 12 8-7 9-8 8-7 9-15 8-16-6 17-6 17-3 12-4 11-2 12-2 11 0 12 0 11-2 15-1 15-2 15 3 12 3 12 2 12 4 12 4 12 3 13 7 12 7 2 9-3 9-3 9-4 6-11 6-12 3-14 2-15 2-14-3-14-3-14-6-16-7-15 1-16 3-15 3-15 1-16 2-17 7-7 8-8 7-7 1 14 0 14 3-15 3-14 9-7 9-8-8-15 7-5 7-6M2366 878l13 8 10 3 11 4 11 3 10 11 11 10 4 11 4 11-2 14-3 14-4 15-4 14-4 14 10-10 10-10 10-7 9-7 10 14 11 14 4 12 4 12 5 13 0 11 1 11-7 9-7 9-10 12-3 10-4 10-4 17M2366 875l10-4 10-4 11-4 4-3-6-9-6-9-13-11-6 1M2498 1040l10-8 10-8 9-8-2-14-1-14-2-14-2-14 6-15 5-15-8-12-8-13-9-13 14 13 14 12 13 13 10-1 10-1 10 0 10-1 3-11 4-10-6-11-6-11-6-11-10-8-11-7-10-8-11-8-9-1-9-1-10-1-9-1-9 1-9 0-9 0-9 0-11 1-11 0-12 1-11 0-9 1-9 0-9 0M2432 859l11-3 10-2 10-2 12 6 11 7 12 6-4 6-11-3-11-4-11-3-9-1-9 0-10-1-1-6M2498 1040l1 11 0 12-9 14-8 6-7 6 0 16 10 1 9 1 10 0 10-11 10-11 9-8 8-8 8-8 8-8 11-1 10 0 11-1 10 0 11-1 10-7 11-7 11-7 10-7 9-5M2462 1130l12 3 13 2 12 2 12-2 12-2 12-2 12-2 10-7 10-8 10-8 10-9 10-8 9-7 8-7 8-5 7-5 7-9 8-8 7-9 8-8 3-13-7-11-7-11M2648 996l10-3 9-4 10-3 9-4 10-3 10 1 10 1 9-4 9-5 10-5 9-5 10-4 6-4 6-4-3-13-3-12-7-12-10-3-8 9-7 9-7 9-10 1-9 1-9 2-9 1-11 3-11 4-11 4-12 3-9 10-10 10-7 12-8 12 12-1 11-2 11-1M2194 637l-3-14-8-10-10-6-10 1-8 7-6 12-1 15 4 13 7 11 10 6 10-1 9-7 6-12 0-15M1895 683l7-8 8-7 8-7 8 6 9 7-6 16-6 17-6 16-11-16-6-12-5-12M1768 476l6 14 7 7 7 8 10-3 9-2 0 11 0 11 0 11 7 12 7 12-1 16 0 15-1 16 6 2 5 2 8-7 7-7 1-12 0-13 1-12-8-14-9-15-4-14-5-14-5-12-6-12M1690 476l2 10 2 10 6 16 4 12 10 4 10 4 6 6 6 6 3 12 4 12 3 12 3 13 3 12 3 13 6 1 5 1 8-7-5-14-4-14-7-10-8-9-4-16-5-17-9-7-10-7-7-7-7-8-3-14-4-14M1085 1144l-4-11-5-8-6-3-5 3-4 7-1 11 1 13 4 10 5 8 6 3 6-3 3-7 1-11-1-12M2003 734l-1-2-4-3-6-3-7-2-6 0-4 1-2 1 1 3 4 3 6 2 7 2 6 1 4-1 2-2M1920 768l-1-5-4-4-5-2-6 0-5 3-3 4-2 5 2 5 4 4 5 2 6 0 5-2 3-5 1-5M2880 827l5 16 5 15 3 13 2 12 2 13 2 13-3-13-2-12-3-13-3-12-4-16-4-16"/>
<path transform="scale(0.25)" stroke="#000" stroke-width="8.4"  d="M588 259l1 14 0 14 1 14-2 14-1 13-2 13-1 14 6 9 5 9 6 9 6 7 6 7 7 7 6 8 7 7 8 8 7 7 7 8 6 9 6 8 6 9 4 10 4 10 7 10 8 11 7 7 8 7 8 7 0 10 0 10 7 2 7 2M544 369l1 16 2 17 1 17 8 7 8 7 8 8 6 8 5 9 6 9 6 11 5 11 5 11 7 13 7 12 8 10 7 11 7 10 8 6 8 6 9 6 8 6 10 4 10 4 7-7-2-11-1-10-5-17-5-17-7-9-6-8-7-9-6-9-6-15-5-16-7-11-7-12-7-11-9-7-9-6-9-6-8-7-9-8-8-8-8-8-8-8-9 0-9 1M733 553l3 10 3 9-5 10-5 11 5 11 1 11 0 10-5 10-5 10-4 9-4 9-10 4-10 4-5 2 8-9 9-10 6-10 6-10 2-13-5-15-8 0-7-1-7-3-7-3-8-4-7-3-7-4-9-7-9-7-8-7-3 16-4 15 1 13 1 12 0 13 2 14 1 14-2 9-1 10-4 12-4 13M726 578l-8-9-9 8 8 9 9-8M724 618l-2-17 5-9 1 17-4 9M628 708l-1 11-1 12-5 14-5 14-4 14-5 12-6 12-5 12-6 14-5 14-6 14-6 10-7 10-6 11-6 9-6 10-7 9 0 15-1 14 0 14 1 13M541 966l-2 16-3 17-5 14-5 14-5 14-9 9-10 9 6 16 5 17-1 13 0 13-1 13-2 16-3 16 8 16 7 16 8 15-3 9-2 10 10 9 10 10 7-5 7-8 10 3-12 13 4 12 3 12-5 0-6-7-5-6 2-12-6 1-4 15 0 10 0 10 7 10 8 11 7 12-11 10-1 10-2 10 7 15 6 16 7 16 8 12 8 12 0 13-1 14 0 13 0 13 6 10 10 3 10 3 9 4 10 3 10 11 9 10 11 8 10 7 8 1 8 1 1 10 0 9 8 3 7 3 9 10 10 15 10 16 2 12 1 11-3 12 5 10M608 1516l5-1 12 3 4 4-5 1-12-3-4-4M593 1517l3-3 8 2 1 4-3 3-7-2-2-4M583 1508l2-1 4 1 1 2-2 2-4-1-1-3M670 1574l3-2 10 2 2 4-4 2-9-2-2-4M662 1604l4-7 4 1 0 8-4 7-4-1 0-8M615 1569l2-1 5 1 1 2-2 2-5-1-1-3M733 1645l5 16 6 16 5 16 2 15 1 14 2 15 2 14 3 14 2 14 3 14 3 15 2 15 9 14 8 14 9 14 12 12 12 13 9 15 8 15 9 14-2 17-1 16-16 7-9 1-9 2-14-6-13-6 8 16 9 16 8 16 11 9 10 9 10 8 10 9 13 9 14 9 11 13 12 13 11 13 2 15 2 16 2 15 2 15 0 14-1 13 0 13 11 9 11 8 11 9 12 14 12 14 13 14 13 14 12 14 6 12 5 12 5 13M778 1948l-6-11 9-5 1 10-4 6M847 1717l-3 13-3 12-3 13-3 12 1 17 2 17 2 17 1 17 10 18 10 18 11 19 10 18 7 18 8 18 8 18 7 18 7 17 7 16 7 17 7 14 7 15 7 16 7 16 6 16 7 16 5 15 6 16 5 15 6 16 5 15 6 18 5 17 6 18 14 5 14 5 6 13 5 13 5 13-12 13-12 12-12 12M847 1717l10 7 10 7 10 7 10 7 11 8 11 9 9 18 10 18 1 14 2 13 2 14 2 13 5 17 6 18 6 17 5 18 12 15 11 16 11 15 12 16 11 16 7 15 8 16 7 15 10 12 10 11 11 11 10 12 4 14 4 13 4 14 4 14 6 11 6 10 13 13 13 13 14 13 6 14 6 14 7 14 12 15 13 14 13 15 13 15 9 12 9 12 10 12 13 17 13 17 13 17M943 1906l13 6-2 11-2 11-13-6 2-11 2-11M888 1873l10 12 4 14 5 14-9-12-5-14-5-14M1764 2437l1-17 2-16 1-17 1-16 2-17 1-17 0-16 1-17 1-16 6-17 6-16 6-16 5-15 5-16 5-15M1807 2193l-2-14-3-14-3-14-3-14-2-16-1-17 6-16 6-16 11-13 12-13 14-10 14-10 12-5 11-6 11-6 12-7 11-8 11-8 10-8 9-8-14-13 3-13 14 3 6 13 11-4 10-4 10-3 11-4M1799 2189l-3-15-2-16-2-16-2-15-3-16 5-16 4-17M1994 1945l12-2 12-2 12-2 11 4 12 3 11 3 12 1 11 1 9-7 10-7 10 5 11 5 11 4 12 9 12 9 13 2 13 1 14 1 8-7 8-7 8 4 9 4 12 9 14-1 6-7-13-16-11-7-10-7 2-10 2-10-9-4-9-4 8-5 7-5M2234 1900l12-9 11-4 11-4 14 0 14 1M2296 1884l8 0 9 1 0-11 0-12 6 0 3 9 4 10 10 1 9 1M2345 1883l9-2 10-3 9-2 14-3 14-2 14 2 15 3 9 3 8 4 12 13 11 12 11-3 10-2 11-7 11-6 11-7 9-6 9-6 12 8 13 8 7 8 7 9 12 10 12 11 10 9 9 9 5 13 5 12-2 15-2 15 5 11 4 11 3-10 3-11 9 5-6 18 0 17 9 10 8 11 9 11 9 8 8 9 8 10 8 10 10 9 11 8 13 14 13 15 5 11 11-3 12-3 8-4 9-3 1-10 1-10 3-11 3-11-1-16 0-17-3-16-2-16-8-15-8-15-7-12-6-12-7-14-6-13-6-13 0-7-12-13-11-12-7-12-6-12-8-12-8-12-8-11-5-16-6-15-3-10-3-10M2800 2159l-8 8-7 8-11 8-11 8-11 4-12 4-8 5-8 5M2676 1809l0-16 0-16 3-17 2-16 6-12 5-12M2692 1720l10-16 7-9 6-10 11-8 11-9 11-12 12-12 4-11 5-11 5-12 4-12 8-9 8-8M2794 1581l10-2 9-2 9-2 3-12 3-12 11-14 10-13 11-6 10-6 11-5 7 5 11-13 10-13 11-13 10-13-1-12 0-12-8-11-7-12-7-11-7-10-7-10M2880 1505l-3-8-3-8 5-12 6-11-9-3-9-3 12-1 13-2 12-2 9-15-5-10-5-11-12 1-11 1-8 1-8 0 9-6 10-5 9-6 1-10 1-10M2893 1382l-5-10-5-11-8 1-9 0-14-13 9-9-3-9-4-9 0-10 1-10-6-8-4-9-4-9-5-10-5-11-1-9-1-10-3-14 7-9 7-9 3-7 3 2-3 14-3 14 1 10 1 9 1 10 1 10 9 6 9 6 3 9 4 9 3 14 3 14 2 11 1 11 2 3 6-14 4-16 4-16 4-10 4-11 2-10 1-10 0-8-3-10-3-10-14-11-5-9-5-9-5-8-6-8 3-15M2867 1174l0 9 0 8 9 8 10 7 8 2 8 1 1 14 6-12 7-12 6-12 4-12 5-13-2-15-1-14-2-8-2-9-12 1 8-8 0-7 0-10 0-10M2922 1109l11-4 11-3 10-4 10-7 10-6 9-6 10-6 7-7 7-7 7-7-10 0-10 0-6 8-7 7-9 4-9 4-9 3-8 4-8 4-8 4-7 5-1 14M2931 1079l10-7 9-8 6-5 7-5 8-2 8-3 9-3 11-6 11-3M3010 1037l7-4 8-4 3-10-3-9-3-9 11 3 8 12M3041 1016l9-6 11-4-2-12 6 8 9-4 8-5 9-4-3-8-2-9-7-4-7 0 10 8 4 6-6 4-6 5-10-1-10-10-9-12-13-3 3-14 8-13-14-11M3058 1021l8-3 8-2-6-5-10 10M3087 1018l11-4-5-3-6 7M3029 927l2-13M3031 914l3-17 5-11 5-12 7-7 8-7 8-9 9-8 9-8 2-16 2-16 10 0 10 0 9 1 8-7 7-7 7-7 7-9 7-9 6-9M3160 756l-1-10-1-10 9-5 8-6 8-5 9-6 7-7 7-8 8-7 7-8 7-7 5-7 5-7 7-6 7-6M3169 766l2-14 4 12-6 2M2762 913l7-11 7-12 6-11 7-10 7-10 8-6 8-5 8-5 9-9 9-9 8-9 9-8 8-9 7-16 8-17 7-16 7-16 8-7 9-8 8-7 8-7 8-8 9-7 6-13 7-14 7-13 4-16 5-15 4-16 4-16 7-13 7-13 6-13 7-13 7-13 8-7 8-8 9-7 8-8 8-7M2942 690l8-7 9-7 9-7 6-17 7-16 6-16 6-17 8-12 7-13 7-12 8-13 8-9 8-10 8-9 8-10 9-7 9-7 9-7 9-7 8-7 9-7M3195 524l-5 9-6 9-9 7-10 7-9 6-13-4-13-5-13-4 7-5 8-4 11-2 11-2 10-2 11-3 7-11 6-12 6-11M3252 651l-10-8-10-9-9-10-8-11-9-10-10-7-9-7-1-16-1-15-1-16M1093 640l-6-15-6-15-6-16 0-14 0-15 0-15-6-11-7-11-6-12-5-13-6-12-5-13-6-13-6-12-6-11-6-11-5-12-6-11-9-9-8-9-8-8-9-9M1295 1787l8 11 8 12 10 9 10 9 10 9 11 10 10 10 10 10 5 13 4 12 5 12 4 12 5 12 5 12 10 7 11 7 11 8 11 8 12 7 12 7 15-14 6-12 5-11 6-12 10-3 10-4 14 3 14 2 14 2 11 11 12 10 12 10 7 15 7 14 7 14 9 16 9 15 9 16 14 17 14 16 4 14 4 13 4 13 7 16 8 17 11 6 11 5 12 6 11 5 14 5 14 4 15 5 10-3 10-2M842 1967l14 3 14 2 14 3 14 2 14 3M1200 1805l-15 9-15 9-3 14-4 15-4 15 1 13 1 13 1 13 2 14-8 12-7 12-7 12-8 12 2 13 1 14 9 17 9 18-13 15-14 14 10 11 11 12M1088 2120l15-10 15-9 15-10 16-9 10 12 10 12 10 12 13 13 12 12 12 13 11 8 3 15 2 16 2 16 10 16 11 17 10 16 6 16 7 16 6 16 3 16 3 16 2 16M1227 2164l16-9 16-8 15-8 16-8 15-2 15-2 15-2 14-2 14-2 14-2 14-2 11 3 10 3 11 3M1470 1982l-5 15-4 15-5 15-10 12-9 12-10 13-9 12 1 17 2 16 2 17 0 13 1 14 1 14 0 14 1 14 13 11 12 10 13 11 13 11 11 14 15 3 15 3 14 4 15 3 12 4 12 4 12 3M1488 2252l-16 15-16 16-11 12-11 13-11 12-12 8-13 7-13 7-13 8M1655 2073l-15 14-15 14-9 13-9 12-10 13-9 13 9 13 9 14 10 13-10 13-9 13-9 13 9 13 10 14-12 9-12 9 5 14 5 13 6 14-5 15-4 15-5 16M1660 2079l4 14 3 15 4 14 9 15 9 16 10 15 8 14 9 13-10 13-10 13-10 13-9 13-8 13-8 13-7 15-6 15-7 15-2 16-3 15-2 15M2864 2041l13-1 13-1 13-1 10-7 10-7-10 6-11 7-10 7-14-2-14-1M2921 2014l12-2 11-3 12-2 9 9 10 10 3 9 4 9-3 13-4 12-11-11 3-14 3-14-14-8-14-9-10 1-11 0M2927 2127l17 13 16 13 8 16 8 15-1 15-2 16-15-9-16-8-9-15-9-15 1-14 1-13 1-14M2967 2128l14-5-2 6-12-1M3006 2086l8 8 17 5 16 5 3 12 3 13-12 0 2-11 2-10-17-8-17-8-5-6M3078 2130l13 9 13 9 8 8-12 3-11-14-11-15M3072 2196l10 4 10 5 13 0-13-2-13-2-7-5M3120 2188l8 10 9 10 10 11 11 11-11-6-11-6-8-15-8-15M2856 2104l4 3M3156 2148l8 5-2 4-6-9"/>
<path transform="scale(0.25)" stroke="#000" stroke-width="12"  d="M733 553l3 10 3 9-5 10-5 11 5 11 1 11 0 10-5 10-5 10-4 9-4 9-10 4-10 4-5 2 8-9 9-10 6-10 6-10 2-13-5-15M726 578l-8-9-9 8 8 9 9-8 1 11 0 10-2 9-1 10M696 657l-6-8 13-13 9-8M701 581l-2-11-1-10-5-17-5-17-7-9-6-8-7-9-6-9-6-15-5-16-7-11-7-12-7-11-9-7-9-6-9-6-8-7M601 382l6 7 6 7 7 7 6 8 7 7 8 8 7 7 7 8 6 9 6 8 6 9 4 10 4 10 7 10 8 11 7 7 8 7 8 7 0 10 0 10M3041 872l9-6 9-6 5-7 5-7 8-5 8-6 0-12 0-12 4-8 9 4 8 4 6-4 6-3 5-7 5-7 6-4 6-3 5-7 5-7 5-7 5-6M2883 1361l-8 1-9 0-14-13 9-9-9-4-9-5 11-9-11-7-10-8 11-2 11-3-6-8-4-9-4-9-5-10-5-11-1-9-1-10-3-14 7-9 7-9 3-7-2 15-1 15 1 10 1 9 1 10 1 10 9 6 9 6 3 9 4 9 3 14 3 14 2 11 1 11M2817 1285l-9-8-9 5 2-10 3-11M2880 1505l-3-8-3-8 5-12 6-11-9-3-9-3 12-1 13-2 12-2 9-15-5-10-5-11-12 1-11 1-8 1-8 0 9-6 10-5 9-6M2888 1512l11-13 10-13 11-13 10-13-1-12 0-12-8-11-7-12-7-11M2087 1951l9-7 10-7 10 5 11 5 11 4 12 9 12 9 8-5 8-6 12 8 12 7 8-7 8-7 8 4 9 4 12 9 14-1 6-7-13-16-11-7-10-7 2-10 2-10-9-4-9-4 8-5 7-5M2186 1909l8 2 9 1 13-8-6-10-14-2-11 7 1 10M1793 2104l6-16 6-16 11-13 12-13 14-10 14-10 12-5 11-6 11-6 12-7 11-8 11-8 10-8 9-8M1813 2069l13-15 13-15 12-6 11-7 11-7 12-6 11-7 11-7M1895 683l7-8 8-7 8-7 8 6 9 7-6 16-6 17-6 16-11-16-6-12-5-12 9 2 10 2 8-6M1917 723l9 2 10 2 9 2 9 0 8 1 9 1 10-1 9-1 8 6 9 7 8 6 8 0 9 0 9 4 9 5 9 4 7-4 8-5 8-4 9 2 9 1 10 2 9 2 10 2 10 3M1971 731l8-4 9-5 11 6 11 5-10 2-9 2M2178 737l3-14 5-15 5-15 9-1 11 3 11 2M2587 927l3-11 4-10-6-11-6-11-6-11-10-8-11-7-10-8-11-8-9-1-9-1-10-1-9-1-9 1-9 0-9 0-9 0-11 1-11 0-12 1-11 0-9 1-9 0-9 0M2366 875l10-4 10-4 11-4 4-3-6-9-6-9-13-11M2691 2088l8 10 8 10 10 9 11 8 13 14 13 15 5 11 11-3 12-3 8-4 9-3M2800 2159l-8 8-7 8-11 8-11 8-11 4-12 4-8 5-8 5M3059 994l6 8 9-4 8-5 9-4-3-8-2-9-7-4-7 0 10 8 4 6M3028 1019l-3-9-3-9 11 3 8 12M544 1248l7-5 7-8 10 3-12 13 4 12 3 12-5 0-6-7-5-6M933 2030l7 14 7 15 7 16 7 16 6 16 7 16 5 15 6 16 5 15 6 16 5 15 6 18 5 17 6 18"/>
<path transform="scale(0.25)" stroke="#000" stroke-width="2.48"  d="M458 505l-56-59m0 0l11-28M534 505l-62-52m0 0l8-29M611 505l-61-53m0 0l8-29M688 505l-77-26m0 0l-3-30M765 505l-65-49m0 0l6-29M842 505l-77-28m0 0l-2-30M918 505l-80-13m0 0l-8-29m19 31l-4-15M995 505l-70-42m0 0l4-30M1072 505l-70-42m0 0l3-30M1149 505l-78-23m0 0l-5-30m15 33l-2-15M1226 505l-74-35m0 0l0-30m10 35l0-15M1302 505l-75-30m0 0l-2-30m12 34l-1-30M1379 505l-78-24m0 0l-3-30m14 33l-4-30M1456 505l-77-25m0 0l-4-30m14 33l-3-30M1533 505l-73-37m0 0l1-30m9 35l1-29M1610 505l-74-36m0 0l1-30m9 35l1-15M1686 505l-73-36m0 0l1-30m9 35l1-15M1763 505l-80-12m0 0l-9-29m20 31l-5-14M1840 505l-82 1m0 0l-12-27m24 27l-7-14M1917 505l-80 20m0 0l-18-24m29 21l-9-12M1994 505l-80 16m0 0l-18-24M2070 505l-79 21m0 0l-19-24m30 21l-19-23M2147 505l-79 19m0 0l-19-23m30 21l-19-24M2224 505l-80 17m0 0l-18-24m29 22l-18-24M2301 505l-80 17m0 0l-18-25m29 22l-9-12M2378 505l-82 0m0 0l-13-27m24 27l-12-27M2454 505l-80-11m0 0l-9-28m20 30l-9-29M2531 505l-75 32m0 0l-22-21m32 16l-22-20M2608 505l-25-77m0 0l22-21m-18 31l11-10M2685 505l13-80m0 0l29-8m-31 19l29-8m-31 19l29-8m-31 19l29-8M2762 505l48-65M2838 505l82 1m0 0l12 27m-23-27l12 27m-23-27l12 27m-24-27l7 14M2915 505l50 65m0 0l-14 27m7-36l-14 27m7-36l-14 27m7-35l-14 26M2992 505l28 77m0 0l-21 21m17-31l-21 21m17-32l-21 21m17-31l-10 10M3069 505l26 78m0 0l-22 20m18-31l-22 21M3146 505l30 76m0 0l-20 22m16-32l-21 22M496 570l-62-53m0 0l8-29M573 570l-52-62m0 0l12-27M650 570l-72-39m0 0l2-30M726 570l-74-34m0 0l0-30M803 570l-79-21m0 0l-5-30M880 570l-78-24m0 0l-4-29m15 33l-2-15M957 570l-81-12m0 0l-8-29m19 30l-8-29M1034 570l-80-17m0 0l-7-29m18 32l-7-29M1110 570l-81-4m0 0l-11-28m22 29l-11-28M1187 570l-78-22m0 0l-5-30m16 33l-5-30m15 33l-2-15M1264 570l-78-25m0 0l-3-29m14 33l-4-30m15 33l-4-29M1341 570l-77-26m0 0l-3-30m13 33l-3-30m14 34l-2-15M1418 570l-81-14m0 0l-7-30m18 32l-7-30M1494 570l-73-36m0 0l1-30m9 35l1-30M1571 570l-72-39m0 0l2-29m8 35l1-15M1648 570l-77-26m0 0l-3-30M1725 570l-77-26m0 0l-4-30m14 34l-2-15M1802 570l-80-17m0 0l-7-29m18 32l-4-15M1878 570l-81 8m0 0l-15-26m26 25l-7-13M1955 570l-81 12m0 0l-16-25m27 23l-8-12M2032 570l-81 10m0 0l-16-26m27 25l-8-13M2109 570l-79 20m0 0l-19-24m29 21l-9-12M2186 570l-79 21m0 0l-19-23m29 20l-9-12M2262 570l-79 18m0 0l-19-24m30 22l-19-24M2339 570l-81 3m0 0l-14-27m25 27l-14-27M2416 570l-81-4m0 0l-12-28m23 29l-12-28M2493 570l-81-9m0 0l-10-28m21 29l-10-28M2570 570l-77-27m0 0l-3-30m13 34l-1-15M2646 570l0-81m0 0l27-13m-27 24l27-13m-27 24l27-13m-27 24l27-12m-27 24l14-7M2723 570l13-80M2800 570l57-58M2877 570l44 69m0 0l-17 26m11-35l-17 25m11-35l-17 26m11-35l-17 25m11-35l-9 13M2954 570l10 81m0 0l-26 16m24-27l-25 16m24-27l-25 16m24-27l-26 16M3030 570l11 81m0 0l-26 16m24-27l-25 16m24-27l-26 16M3107 570l8 82m0 0l-26 15m25-27l-13 8M3184 570l26 78m0 0l-22 20M458 635l-69-44m0 0l5-30M534 635l-59-56m0 0l10-28M611 635l-66-48m0 0l6-29M688 635l-76-29m0 0l-2-30M765 635l-81-14m0 0l-7-29m18 31l-3-14M842 635l-80-19m0 0l-5-30m16 32l-3-14M918 635l-81-3m0 0l-12-28m23 29l-11-28M995 635l-81-5m0 0l-11-28m22 29l-11-28m22 29l-5-14M1072 635l-81-4m0 0l-12-28m23 29l-11-28m22 28l-6-14M1149 635l-81-8m0 0l-10-28m21 29l-10-28m21 29l-5-14M1226 635l-80-19m0 0l-5-30m16 32l-5-29m16 32l-6-29m17 32l-3-15M1302 635l-79-19m0 0l-6-29m17 32l-6-29m17 32l-3-15M1379 635l-80-14m0 0l-8-29m19 31l-8-29m19 31l-8-29M1456 635l-80-18m0 0l-6-29m17 32l-6-30m17 32l-6-29M1533 635l-77-28m0 0l-2-30m13 34l-3-30M1610 635l-74-36m0 0l1-30m9 35l1-30M1686 635l-73-36m0 0l1-30m9 35l1-15M1763 635l-81-3m0 0l-12-28M1840 635l-81-6m0 0l-11-28m22 29l-6-14M1917 635l-80 18m0 0l-18-24m29 21l-9-12M1994 635l-80 18m0 0l-18-24m29 22l-18-24M2070 635l-78 24m0 0l-20-22m31 19l-20-22M2147 635l-79 21m0 0l-19-23m30 20l-9-11M2224 635l-80 17m0 0l-18-23m29 21l-18-24M2301 635l-81 12m0 0l-16-26m27 24l-8-13M2378 635l-82 1m0 0l-13-27m24 27l-6-13M2454 635l-81-6m0 0l-10-28m21 29l-10-28M2531 635l-80-14m0 0l-8-29m19 31l-4-15M2608 635l-45-68m0 0l15-25m-9 35l16-26m-10 35l16-26M2685 635l-19-79m4 17l12-10M2762 635l-28-76m6 16l21-21M2838 635l-72 38M2915 635l-32 76m0 0l-30 1m35-12l-30 1m34-11l-30 1m34-11l-30 1M2992 635l-34 75m0 0l-30 0m35-10l-30 0m35-11l-30 1m34-11l-30 1M3069 635l-36 74m0 0l-30-1m35-9l-30-1m35-9l-15-1M3146 635l-44 69m0 0l-30-4m36-5l-15-2M496 700l-47-67m7 10l7-13M573 700l-76-31m0 0l-1-30M650 700l-61-54m0 0l9-29M726 700l-79-20m0 0l-5-29M803 700l-81-8m0 0l-10-29m21 30l-5-14M880 700l-81 14m0 0l-16-25m28 23l-17-25M957 700l-82 7m0 0l-14-26m26 25l-8-13M1034 700l-82 6m0 0l-14-26m25 26l-14-27m26 26l-8-13M1110 700l-81-2m0 0l-12-27m23 28l-12-28m23 28l-12-28M1187 700l-79-17m0 0l-7-30m18 32l-7-29m17 31l-6-29M1264 700l-80-16m0 0l-7-29m18 31l-7-29m18 32l-4-15M1341 700l-80-17m0 0l-7-29m18 32l-7-29m18 31l-7-29M1418 700l-81-13m0 0l-8-29m19 30l-8-29m19 31l-4-14M1494 700l-79-17m0 0l-7-29m18 31l-7-29m18 32l-7-30M1571 700l-78-24m0 0l-4-30m15 33l-4-29m15 33l-2-15M1648 700l-75-32m0 0l-1-30m11 35l0-15M1725 700l-79-19m0 0l-6-29m16 32l-3-15M1802 700l-82 8m0 0l-15-26m26 25l-7-13M1878 700l-80 15m0 0l-17-24m28 22l-9-12M1955 700l-79 20m0 0l-19-24m30 21l-10-12M2032 700l-78 26m0 0l-20-22m31 18l-10-11M2109 700l-79 23m0 0l-19-22m30 19l-20-22M2186 700l-80 20m0 0l-18-23m29 20l-9-11M2262 700l-80 13m0 0l-17-25m28 23l-9-13M2339 700l-81 1m0 0l-13-27m24 27l-7-13M2416 700l-82-2m0 0l-11-28m23 28l-6-14M2493 700l-79-20m0 0l-6-30m17 33l-6-30M2570 700l-65-49m0 0l6-30m3 37l6-30M2646 700l-35-73M2723 700l-46-67m10 14l8-13M2800 700l-74-34m15 8l0-30M2877 700l-73 38M2954 700l-56 60m0 0l-29-9m36 1l-28-10m36 2l-28-10m36 1l-29-9M3030 700l-56 59m0 0l-28-9m36 1l-29-9m36 1l-28-10m36 2l-14-5M3107 700l-64 51m0 0l-27-14m36 7l-27-14m36 7l-14-7M3184 700l-70 43m0 0l-25-16m35 10l-25-16m35 10l-25-16M458 765l-78-25m0 0l-3-30M534 765l-64-49m0 0l6-30M611 765l-77-27m0 0l-2-30M688 765l-57-58m0 0l11-28M765 765l-82-4m0 0l-11-28M842 765l-82 6m0 0l-14-26m25 25l-7-13M918 765l-79 20m0 0l-19-24m30 21l-19-23M995 765l-79 20m0 0l-19-24m30 21l-19-23m30 20l-10-11M1072 765l-81 5m0 0l-15-26m26 26l-15-27m26 26l-7-13M1149 765l-81-8m0 0l-10-28m21 29l-10-28M1226 765l-82-4m0 0l-11-28m22 28l-11-28m22 29l-5-14M1302 765l-79-18m0 0l-7-29m18 32l-7-29M1379 765l-79-18m0 0l-7-29m18 32l-7-30m17 32l-3-14M1456 765l-79-21m0 0l-5-29m16 32l-5-29m16 32l-3-15M1533 765l-80-19m0 0l-6-29m17 32l-6-29m17 32l-6-30M1610 765l-78-24m0 0l-4-30m14 33l-3-30m14 34l-2-15M1686 765l-78-24m0 0l-4-29m15 33l-4-30m15 33l-2-15M1763 765l-80-13m0 0l-8-29m19 31l-8-29M1840 765l-81 10m0 0l-16-25m27 24l-16-26M1917 765l-78 26m0 0l-20-21m31 18l-10-11M1994 765l-81 14m0 0l-17-24m28 23l-8-13M2070 765l-79 20m0 0l-19-23m30 21l-9-12M2147 765l-78 25m0 0l-20-22m31 19l-20-22m31 18l-10-11M2224 765l-79 21m0 0l-19-23m30 20l-19-23m30 20l-10-11M2301 765l-81 9m0 0l-16-25m27 24l-8-13M2378 765l-80-16m0 0l-8-29m19 32l-4-15M2454 765l-76-28m0 0l-2-30m13 33l-2-14M2531 765l-72-38m0 0l2-30m8 35l2-30M2608 765l-56-59m0 0l12-28m-4 36l11-28m-3 36l11-28m-4 36l12-28M2685 765l-56-60M2762 765l-67-47M2838 765l-80-11M2915 765l-75 32m0 0l-22-21m32 16l-22-20m32 16l-22-20m33 16l-22-21m32 16l-11-10M2992 765l-72 39m0 0l-24-18m34 12l-24-18m34 13l-24-18m34 13l-24-18M3069 765l-68 46m0 0l-26-16m35 9l-25-15m35 9l-26-15m35 9l-13-8M3146 765l-70 43m0 0l-25-17m34 11l-24-17m34 11l-25-16M496 830l-64-50m0 0l7-29M573 830l-79-22m0 0l-4-30M650 830l-78-24m10 3l-2-15M726 830l-80-14m0 0l-8-28M803 830l-78 23m0 0l-20-23m30 20l-9-12M880 830l-79 20m0 0l-19-23m30 21l-19-24M957 830l-79 22m0 0l-19-23m30 20l-10-12M1034 830l-80 17m0 0l-18-23m29 21l-18-24m29 22l-9-12M1110 830l-81-5m0 0l-11-28m22 29l-11-28M1187 830l-81-7m0 0l-10-28m21 29l-10-28M1264 830l-81-10m0 0l-9-28m20 30l-9-29m20 30l-4-14M1341 830l-80-19m0 0l-6-29m17 32l-6-29M1418 830l-79-23m0 0l-4-30m15 33l-4-30M1494 830l-80-13m0 0l-8-29m19 31l-8-29m19 31l-4-15M1571 830l-79-19m0 0l-6-30m17 32l-6-29M1648 830l-76-31m0 0l-1-30m12 35l-2-30M1725 830l-77-27m0 0l-3-30m14 33l-3-30m13 34l-2-30M1802 830l-79-22m0 0l-5-29m16 32l-5-29m16 32l-3-14M1878 830l-79-18m0 0l-6-30m17 32l-6-29m17 32l-3-15M1955 830l-81 4m0 0l-14-27m25 26l-14-27m25 27l-7-14M2032 830l-81 5m0 0l-15-27m26 26l-14-26m25 26l-7-14M2109 830l-80 19m0 0l-18-23m29 21l-18-24m29 21l-18-24M2186 830l-80 20m0 0l-18-24m29 21l-19-23m30 21l-19-24M2262 830l-79 19m0 0l-19-24m30 21l-19-23M2339 830l-81-11m0 0l-8-29m20 30l-9-29M2416 830l-75-32m0 0l-1-30m11 35l-1-30m12 34l-1-15M2493 830l-77-27m0 0l-3-29m13 33l-3-30m14 34l-2-15M2570 830l-68-46m0 0l5-29m5 36l4-30m5 36l5-30M2646 830l-59-56m0 0l10-28m-2 36l10-29m-1 37l9-29m-1 36l4-14M2723 830l-62-52m0 0l8-29m0 36l8-29m1 36l8-29m1 36l7-29m1 37l4-15M2800 830l-77-26M2877 830l-82-6m0 0l-10-28m22 29l-11-28m22 29l-11-28m22 29l-11-28m22 29l-5-14M2954 830l-81 11m0 0l-16-25m27 24l-16-25m27 23l-16-25m27 24l-16-25m27 23l-8-12M3030 830l-78 23m0 0l-20-23m31 20l-20-23m30 20l-19-23M3107 830l-74 33m0 0l-23-19m33 15l-23-20m33 15l-11-10M3184 830l-71 41m0 0l-24-18m34 12l-25-17M458 895l-80-16m11 2l-4-15M534 895l-65-49m0 0l6-29M611 895l-65-49m0 0l6-29M688 895l-80 16m0 0l-18-24M765 895l-80 15m0 0l-18-24m29 22l-9-12M842 895l-75 35m0 0l-22-20m33 15l-12-10M918 895l-75 32m0 0l-22-20m32 16l-22-21m33 16l-11-10M995 895l-77 28m0 0l-21-22m32 18l-21-21M1072 895l-82 4m0 0l-13-27m25 27l-14-27M1149 895l-81-13m0 0l-7-29m18 30l-7-29M1226 895l-82-7m0 0l-10-28m21 29l-10-28M1302 895l-81-9m0 0l-9-28m20 30l-9-29M1379 895l-77-26m0 0l-4-29m14 33l-1-15M1456 895l-78-22m0 0l-5-30m15 33l-4-30M1533 895l-80-17m0 0l-7-29m18 32l-7-30M1610 895l-76-30m0 0l-2-30m12 34l-1-30M1686 895l-76-28m0 0l-3-29m13 33l-2-30M1763 895l-74-33m0 0l-1-30m11 35l-1-30m11 34l0-30M1840 895l-77-25m0 0l-4-30m14 33l-3-30m14 34l-4-30M1917 895l-80-15m0 0l-7-29m18 31l-7-29m18 31l-4-15M1994 895l-82 4m0 0l-14-27m25 26l-13-27m24 27l-13-27M2070 895l-81 2m0 0l-13-27m24 27l-13-27m24 27l-13-27m24 26l-6-13M2147 895l-81 10m0 0l-16-25m27 24l-16-26M2224 895l-80 14m0 0l-17-25m28 23l-17-25M2301 895l-82 5m0 0l-14-27m25 26l-14-26M2378 895l-79-21m0 0l-5-30m16 33l-5-30M2454 895l-75-31m0 0l-1-30m11 34l-1-30m12 35l-1-15M2531 895l-70-40m0 0l2-30m7 35l3-30m7 36l3-30M2608 895l-62-52m0 0l8-29m0 36l8-29m1 36l8-29M2685 895l-67-47m0 0l6-30m4 36l5-29m4 36l5-30m4 36l5-29M2762 895l-74-35m0 0l1-30m9 35l1-30m9 35l1-30m9 34l1-30m9 35l1-15M2838 895l-79-19m0 0l-6-29m17 32l-6-30m17 32l-6-29m17 32l-3-15M2915 895l-81-11m0 0l-8-29m19 31l-8-29m20 30l-9-28m20 30l-5-15M2992 895l-82 1m0 0l-12-28m24 27l-13-27m24 27l-13-27m24 27l-6-13M3069 895l-81 15m0 0l-17-25m29 23l-18-25m29 23l-9-12M3146 895l-79 22m0 0l-20-22m31 19l-20-22m31 19l-10-11M496 960l-76 31m11-4l-11-11M573 960l-78 24m0 0l-20-23M650 960l-75 34m0 0l-22-19M726 960l-67 47m0 0l-26-16m35 9l-25-15M803 960l-71 40m0 0l-24-17m34 12l-25-18m35 12l-13-8M880 960l-73 37m0 0l-23-18m33 13l-23-18M957 960l-75 33m0 0l-23-20m33 15l-22-20m32 16l-11-10M1034 960l-80 20m0 0l-18-24m29 21l-19-23M1110 960l-81-2m0 0l-12-28m23 28l-12-27m23 28l-6-14M1187 960l-81-10m0 0l-9-28m20 30l-9-29m20 30l-4-14M1264 960l-80-15m0 0l-7-30m18 32l-7-29M1341 960l-79-20m0 0l-6-29m17 32l-3-15M1418 960l-76-30m0 0l-2-30m12 34l0-15M1494 960l-77-26m0 0l-3-30m14 34l-2-15M1571 960l-78-23m0 0l-5-29M1648 960l-81-12m0 0l-8-29m19 31l-4-15M1725 960l-79-22m0 0l-4-30m15 33l-2-15M1802 960l-77-28m0 0l-3-30m13 34l-2-30m13 34l-1-15M1878 960l-79-20m0 0l-5-29m16 32l-6-29m17 32l-6-30M1955 960l-81-3m0 0l-12-28m23 28l-12-27m23 28l-6-14M2032 960l-81-5m0 0l-11-28m22 29l-11-28m22 28l-11-28m22 29l-5-14M2109 960l-81-12m0 0l-8-29m19 31l-8-29m19 30l-4-14M2186 960l-82-6m0 0l-10-28m21 29l-10-29m22 30l-6-15M2262 960l-81 0m0 0l-13-28m24 28l-12-28M2339 960l-80-12m0 0l-9-29m20 30l-9-28m20 30l-4-14M2416 960l-78-24m0 0l-4-30m15 33l-4-29m15 33l-2-15M2493 960l-73-36m0 0l0-30m10 35l0-30m10 35l0-15M2570 960l-69-43m0 0l4-30m5 36l4-30m6 36l3-30m6 36l2-15M2646 960l-68-44m0 0l4-30m6 36l4-30m5 36l4-30m5 36l5-30M2723 960l-67-46m0 0l5-30m4 36l6-29m4 36l5-30m4 36l5-30M2800 960l-71-40m0 0l2-30m8 36l2-30m7 35l3-30m7 36l1-15M2877 960l-80-18m0 0l-6-30m17 32l-6-29m17 32l-3-15M2954 960l-81-10m0 0l-10-28m21 30l-10-29m21 30l-9-28M3030 960l-81-1m0 0l-12-27m23 27l-12-27m23 28l-12-28m23 28l-6-14M3107 960l-81 9m0 0l-15-25m26 24l-15-26m26 25l-7-13M3184 960l-80 14m0 0l-17-25m28 23l-17-25M458 1025l-60 56m0 0l-28-11M534 1025l-71 40m0 0l-24-18m34 12l-12-9M611 1025l-66 49m0 0l-26-15m35 8l-26-15M688 1025l-70 42m0 0l-25-17m34 11l-24-16M765 1025l-65 49m0 0l-27-14m36 8l-27-14m36 7l-14-7M842 1025l-70 43m0 0l-25-17m34 11l-25-17M918 1025l-72 38m0 0l-24-18m34 13l-24-19M995 1025l-77 28m0 0l-21-21m32 17l-11-10M1072 1025l-79 19m0 0l-19-24m29 21l-18-23M1149 1025l-82-7m0 0l-10-28m22 29l-6-14M1226 1025l-80-19m0 0l-5-29m16 32l-6-30M1302 1025l-76-29m0 0l-2-30m13 34l-1-15M1379 1025l-69-43m0 0l4-30m6 36l3-30M1456 1025l-62-52m0 0l8-29m0 36l4-15M1533 1025l-59-57m0 0l10-28M1610 1025l-80-19m0 0l-5-30M1686 1025l-70-41m0 0l3-30M1763 1025l-73-36m0 0l1-30m9 35l1-15M1840 1025l-79-19m0 0l-6-30m17 32l-3-14M1917 1025l-81-7m0 0l-10-29m21 30l-10-29M1994 1025l-82 0m0 0l-12-28m23 28l-6-14M2070 1025l-80-15m0 0l-7-29m18 31l-7-29m18 31l-3-14M2147 1025l-80-15m0 0l-7-29m18 31l-7-29m18 31l-7-29M2224 1025l-81-8m0 0l-10-29m21 30l-10-29m21 30l-5-14M2301 1025l-81-9m0 0l-10-28m21 30l-10-29m21 30l-5-14M2378 1025l-79-22m0 0l-5-29m16 32l-5-29M2454 1025l-75-31m0 0l-1-30m11 34l-1-30m12 35l-2-30M2531 1025l-77-25m0 0l-4-30m14 33l-3-29m14 33l-4-30M2608 1025l-69-43m0 0l4-30m6 36l3-30m6 36l2-15M2685 1025l-70-42m0 0l3-30m7 36l3-30m6 36l3-30m7 35l1-14M2762 1025l-70-42m0 0l3-30m7 36l3-30m6 36l2-15M2838 1025l-71-39m0 0l2-30m8 35l2-30m8 36l2-30m7 35l3-30M2915 1025l-80-13m0 0l-8-29m19 31l-8-29m19 31l-8-29m19 31l-8-29M2992 1025l-81-11m0 0l-8-29m19 30l-8-28m19 30l-8-29m19 31l-8-29M3069 1025l-81-10m0 0l-9-29m20 30l-9-28m20 30l-9-29M3146 1025l-82-7m0 0l-10-28m21 29l-10-28m22 29l-6-14M496 1090l-62 53m0 0l-28-13m36 6l-13-6M573 1090l-61 55m0 0l-27-12m35 4l-27-11m36 4l-14-6M650 1090l-66 49m0 0l-26-14m35 7l-26-14M726 1090l-63 52m0 0l-27-14m36 7l-27-14m35 7l-13-7M803 1090l-66 48m0 0l-26-14m35 8l-26-15M880 1090l-70 43m0 0l-25-17m35 11l-25-16M957 1090l-74 36m0 0l-23-19m33 14l-23-19M1034 1090l-70 42m0 0l-25-16m34 11l-12-9M1110 1090l-79 18m0 0l-19-24M1187 1090l-75-31m0 0l-1-30m11 34l0-15M1264 1090l-76-29m0 0l-2-30m12 34l-1-15M1341 1090l-72-39m0 0l2-30m8 35l1-15M1418 1090l-65-50m0 0l7-29m2 36l4-15M1494 1090l-36-72m0 0l18-24m-13 34l9-12M1571 1090l-24-77m3 10l11-10M1648 1090l-81-12m11 2l-4-14M1725 1090l-70-42m9 6l2-15M1802 1090l-81-11m0 0l-9-29M1878 1090l-81 5m0 0l-14-26M1955 1090l-81 11m0 0l-16-25m27 23l-8-12M2032 1090l-81-6m0 0l-11-28m22 29l-5-14M2109 1090l-81-10m0 0l-9-28m20 30l-9-29m20 30l-5-14M2186 1090l-81-14m0 0l-7-29m18 31l-7-29m18 31l-4-14M2262 1090l-80-12m0 0l-9-29m20 31l-8-29m19 30l-4-14M2339 1090l-78-22m0 0l-5-30m16 33l-5-30m15 33l-4-30M2416 1090l-75-32m0 0l-1-30m11 34l0-30m11 35l-1-15M2493 1090l-81-14m0 0l-7-29m18 31l-7-29m18 31l-3-14M2570 1090l-66-48m0 0l6-30m3 36l6-29m3 36l3-15M2646 1090l-64-49m0 0l6-30m3 36l6-29m3 36l6-29M2723 1090l-74-34m0 0l0-30m10 35l0-30m11 34l0-30m10 35l0-15M2800 1090l-74-33m0 0l-1-30m11 34l-1-30m11 35l0-30m10 35l0-30M2877 1090l-78-25m0 0l-3-30m14 33l-4-29m15 33l-4-30m14 33l-3-29m14 33l-2-15M2954 1090l-80-20m0 0l-5-29m16 32l-5-29m16 32l-5-30m16 33l-3-15M3030 1090l-80-15m0 0l-7-30m18 32l-7-29m18 31l-3-15M3107 1090l-79-18m0 0l-7-29m18 32l-7-30m18 32l-7-29m17 32l-3-15M3184 1090l-80-15m0 0l-7-29m18 31l-7-29m18 31l-7-29M458 1155l-66 49m0 0l-26-14m35 7l-26-14m35 8l-13-8M534 1155l-60 56m0 0l-27-12m36 4l-28-11m36 3l-14-5M611 1155l-63 52m0 0l-27-13m35 6l-26-14m35 7l-27-14m36 7l-14-7M688 1155l-64 51m0 0l-27-14m36 7l-27-14m36 7l-27-13M765 1155l-67 48m0 0l-26-15m36 8l-27-14M842 1155l-70 44m0 0l-25-17m35 11l-25-17M918 1155l-59 56m0 0l-28-11M995 1155l-79 22m0 0l-19-23M1072 1155l-60 55m0 0l-28-11M1149 1155l-77 27m0 0l-21-21M1226 1155l-79-21m0 0l-5-30M1302 1155l-75-31m0 0l-1-30M1379 1155l-73-36m0 0l1-30m9 35l1-15M1456 1155l-48-66m0 0l15-26m-8 35l14-26m-8 35l8-13M1533 1155l-4-81m0 0l27-14m-26 25l13-7M1610 1155m-6 0a6 6 0 1 0 12 0a6 6 0 1 0 -12 0M1686 1155l-81 9m11-1l-7-13M1763 1155l-81 5m11-1l-7-13M1840 1155l-81 8m11-1l-8-13M1917 1155l-74 36m0 0l-23-19M1994 1155l-80 19m0 0l-18-24m29 21l-9-12M2070 1155l-81 8m0 0l-15-26m26 25l-7-13M2147 1155l-81-5m0 0l-11-28m22 29l-5-14M2224 1155l-81-6m0 0l-11-28m22 29l-11-28M2301 1155l-81-13m0 0l-8-29m19 31l-7-29m18 30l-3-14M2378 1155l-78-25m0 0l-4-30m15 34l-4-30m14 33l-3-30M2454 1155l-75-30m0 0l-2-30m12 34l-2-30M2531 1155l-72-37m0 0l1-30m9 35l1-30m9 35l0-15M2608 1155l-70-42m0 0l4-30m6 36l3-30m7 35l3-29M2685 1155l-76-29m0 0l-2-30m12 34l-2-30m13 34l-2-30M2762 1155l-77-27m0 0l-3-30m13 34l-3-30m14 34l-3-30M2838 1155l-79-19m0 0l-6-29m17 32l-6-29m17 32l-6-30m17 32l-6-29M2915 1155l-75-30m0 0l-2-30m12 34l-2-30m12 34l-1-30m12 34l-2-30m12 35l-1-15M2992 1155l-78-23m0 0l-5-30m16 33l-5-29m15 32l-4-29m15 33l-4-30M3069 1155l-80-17m0 0l-7-29m18 31l-7-29m18 32l-7-29m18 31l-3-14M3146 1155l-80-18m0 0l-6-30m17 32l-6-29m17 32l-6-30m17 32l-6-29M496 1220l-58 57m0 0l-28-10m36 3l-28-11M573 1220l-59 57m0 0l-28-11m36 3l-28-11m36 3l-28-10m36 3l-14-6M650 1220l-70 43m0 0l-25-17m34 11l-25-17m35 11l-25-16M726 1220l-66 48m0 0l-26-15m35 8l-26-14M803 1220l-65 50m0 0l-26-14m35 7l-13-7M880 1220l-78 24m0 0l-20-22m31 19l-10-11M957 1220l-72 39m10-5l-12-9M1034 1220l-64 51m9-7l-14-6M1110 1220l-79 20m11-3l-9-12M1187 1220l-80 13m11-2l-9-12M1264 1220l-79 23m11-4l-10-11M1341 1220l-72 40m0 0l-24-18M1418 1220l-66-48m0 0l6-29M1494 1220l-27-77m0 0l22-21m-18 32l21-21m-17 32l21-21M1571 1220l-73-35m0 0l0-30M1648 1220m-6 0a6 6 0 1 0 12 0a6 6 0 1 0 -12 0M1725 1220l79 20m-11-3l3 15M1802 1220l55 61m-8-9l-6 14M1878 1220l-23 79m3-11l-15 2M1955 1220l-51 64m0 0l-29-7M2032 1220l-66 48m0 0l-26-15M2109 1220l-79 21m0 0l-19-23M2186 1220l-82 1m0 0l-13-27m24 27l-13-27M2262 1220l-81-5m0 0l-11-28m22 29l-11-28m22 29l-5-14M2339 1220l-78-22m0 0l-5-29m15 32l-4-29M2416 1220l-77-26m0 0l-3-30m13 33l-3-29M2493 1220l-77-28m0 0l-2-30m13 34l-2-30m12 34l-2-30M2570 1220l-75-33m0 0l0-30m10 35l0-30m11 34l-1-30M2646 1220l-77-25m0 0l-4-29m14 33l-3-30m14 33l-4-29M2723 1220l-79-20m0 0l-6-29m17 32l-6-29m17 32l-6-30m17 33l-3-15M2800 1220l-81-10m0 0l-9-29m20 30l-9-29m20 31l-4-15M2877 1220l-75-32m0 0l-1-30m11 34l-1-30m11 35l0-30m11 34l-1-15M2954 1220l-78-25m0 0l-4-29m15 33l-4-30m14 33l-3-30m14 34l-2-15M3030 1220l-76-29m0 0l-2-30m13 34l-2-30m12 34l-2-30m13 34l-3-30m13 34l-1-15M3107 1220l-80-16m0 0l-7-29m18 32l-7-30m18 32l-7-29m18 31l-3-15M3184 1220l-80-13m0 0l-9-29m20 31l-9-29m20 31l-8-29m19 31l-8-29M458 1285l-62 54m0 0l-28-13m36 5l-27-12M534 1285l-57 59m0 0l-28-11m36 3l-28-11m36 3l-14-5M611 1285l-64 50m0 0l-27-13m36 7l-27-14m35 7l-13-7M688 1285l-76 29m0 0l-22-21m32 17l-21-21M765 1285l-71 42m0 0l-24-17m34 11l-12-9M842 1285l-77 28m0 0l-21-21m31 17l-10-10M918 1285l-62 53m0 0l-27-12M995 1285l-77 26m10-3l-10-11M1072 1285l-65 50m9-7l-13-7M1149 1285l-82 2m11-1l-6-13M1226 1285l-62 54m9-7l-14-6M1302 1285l-51 64m7-9l-14-4M1379 1285l-38 72m5-10l-15 0M1456 1285l-21-78m0 0l23-20M1533 1285l-15-80m0 0l24-17m-22 28l24-17M1610 1285l9-81m0 0l29-9M1686 1285l76-30m-10 4l11 10M1763 1285l80 16m0 0l8 29M1840 1285l57 59m0 0l-11 28M1917 1285l-7 82m0 0l-28 10M1994 1285l-6 82m0 0l-28 11M2070 1285l-55 61m0 0l-28-9m36 0l-14-4M2147 1285l-73 37m0 0l-23-19m33 14l-12-10M2224 1285l-80 18m0 0l-18-24m29 22l-9-12M2301 1285l-81-13m0 0l-8-29m19 31l-8-29M2378 1285l-79-23m0 0l-4-29m15 33l-4-30M2454 1285l-76-28m0 0l-3-30m13 34l-2-30M2531 1285l-76-29m0 0l-2-30m12 34l-2-30m13 34l-2-30M2608 1285l-77-26m0 0l-3-30m13 34l-3-30m14 33l-3-30M2685 1285l-79-23m0 0l-4-29m15 33l-4-30m15 33l-2-15M2762 1285l-81-15m0 0l-7-29m18 31l-7-29m18 31l-7-29m18 31l-3-14M2838 1285l-79-19m0 0l-6-30m17 32l-6-29m17 32l-6-29M2915 1285l-76-29m0 0l-2-30m12 34l-2-30m13 34l-2-30m12 34l-1-15M2992 1285l-79-19m0 0l-6-30m17 32l-6-29m17 32l-6-29m16 32l-2-15M3069 1285l-80-18m0 0l-6-30m17 32l-6-29m17 32l-6-30m17 32l-6-29M3146 1285l-80-15m0 0l-8-29m19 31l-8-29m19 31l-8-29m18 31l-3-14M496 1350l-62 54m0 0l-27-13m36 5l-28-12M573 1350l-57 59m0 0l-28-10m36 2l-28-10M650 1350l-70 43m0 0l-25-17m34 11l-12-8M726 1350l-73 36m0 0l-23-19m33 14l-12-10M803 1350l-81 3m0 0l-14-27M880 1350l-68 46m0 0l-25-15M957 1350l-77 28m0 0l-21-21M1034 1350l-66 49m0 0l-26-14M1110 1350l-68 45m0 0l-25-16M1187 1350l-67 46m0 0l-26-15m35 9l-13-8M1264 1350l-53 63m0 0l-28-8M1341 1350l-58 58m0 0l-28-10M1418 1350l-69 44m9-6l-12-8M1494 1350l14-80m0 0l29-8M1571 1350l32-75m0 0l30 0m-34 11l15-1M1648 1350l72-38m0 0l24 18m-34-13l12 9M1725 1350l80 13m0 0l9 29m-20-31l5 15M1802 1350l69 44m0 0l-4 30M1878 1350l49 66m0 0l-15 27m8-36l-7 13M1955 1350l23 79m0 0l-23 20m20-31l-12 10M2032 1350l-10 81m0 0l-29 9m30-20l-14 5M2109 1350l-48 66m0 0l-30-5m36-4l-14-3M2186 1350l-75 33m0 0l-23-19m33 15l-11-10M2262 1350l-80 12m0 0l-17-25m28 24l-9-13M2339 1350l-79-18m0 0l-7-29m18 32l-7-30M2416 1350l-80-17m0 0l-6-29m17 32l-7-30M2493 1350l-78-25m0 0l-3-30m14 33l-3-30M2570 1350l-79-23m0 0l-4-29m15 33l-4-30m15 33l-2-15M2646 1350l-77-25m0 0l-4-29m14 33l-3-30M2723 1350l-80-14m0 0l-8-29m19 31l-8-29m19 31l-4-15M2800 1350l-81-10m0 0l-9-28m20 30l-9-29m20 30l-9-28m20 30l-4-15M2877 1350l-80-18m0 0l-6-29m17 32l-6-29m17 31l-6-29M2954 1350l-79-22m0 0l-4-30m15 33l-5-30m16 33l-5-30m16 33l-5-30M3030 1350l-79-18m0 0l-6-29m17 32l-7-30m18 32l-7-29m18 32l-4-15M3107 1350l-80-12m0 0l-9-29m20 31l-9-29m20 30l-9-29m20 31l-4-14M3184 1350l-80-14m0 0l-8-29m19 31l-8-29m19 31l-8-29M458 1415l-65 50m0 0l-27-13m36 7l-27-14M534 1415l-61 54m0 0l-28-12m36 5l-27-13M611 1415l-65 49m0 0l-27-14m36 8l-27-14M688 1415l-71 41m0 0l-24-17m34 11l-12-8M765 1415l-68 46m0 0l-26-16m35 10l-13-8M842 1415l-73 37m0 0l-24-19M918 1415l-65 49m0 0l-26-14M995 1415l-63 52m0 0l-27-13M1072 1415l-57 59m0 0l-28-10M1149 1415l-70 43m0 0l-25-17M1226 1415l-58 58m0 0l-28-10M1302 1415l-54 61m0 0l-29-9m36 1l-14-5M1379 1415l-49 66m0 0l-29-6m36-3l-15-3M1456 1415l-28-76m4 10l11-10M1533 1415l36-73m0 0l30 1m-35 9l30 1M1610 1415l54-61m0 0l28 9m-36 0l29 8M1686 1415l80-19m0 0l18 24m-29-21l19 23M1763 1415l78 26m0 0l4 29m-15-33l4 30M1840 1415l58 58m0 0l-10 28m2-36l-10 28M1917 1415l32 75m0 0l-20 23m15-33l-20 22M1994 1415l14 81m0 0l-25 17m23-28l-25 17m23-28l-13 8M2070 1415l-11 81m0 0l-29 9m30-20l-14 4M2147 1415l-46 68m0 0l-29-5m36-4l-15-3M2224 1415l-64 51m0 0l-27-14M2301 1415l-81 10m0 0l-16-25m27 24l-8-13M2378 1415l-81-9m0 0l-10-29m21 30l-10-28M2454 1415l-79-20m0 0l-5-30m16 33l-5-30M2531 1415l-78-23m0 0l-4-29m15 32l-5-29m15 33l-2-15M2608 1415l-75-33m0 0l0-30m11 35l-1-30m11 34l0-15M2685 1415l-81-10m0 0l-9-28m20 29l-9-28M2762 1415l-81-13m0 0l-8-29m19 31l-8-29m19 31l-8-29m19 30l-4-14M2838 1415l-78-23m0 0l-4-29m15 33l-5-30M2915 1415l-79-19m0 0l-6-29m17 32l-6-29m17 32l-6-30M2992 1415l-78-23m0 0l-5-30m16 33l-5-29m15 32l-4-29m15 33l-2-15M3069 1415l-80-16m0 0l-7-29m18 31l-7-29m18 32l-4-15M3146 1415l-80-17m0 0l-7-29m18 32l-7-29m18 31l-7-29m18 31l-7-29M496 1480l-64 51m0 0l-27-14m35 7l-26-14M573 1480l-63 52m0 0l-27-13m35 6l-13-7M650 1480l-64 52m0 0l-27-13m36 6l-13-7M726 1480l-68 45m0 0l-25-15m35 9l-13-8M803 1480l-65 50m0 0l-26-14m35 7l-13-7M880 1480l-66 48m0 0l-26-14m35 8l-13-7M957 1480l-53 62m0 0l-29-8M1034 1480l-68 45m0 0l-26-15M1110 1480l-57 59m0 0l-28-10M1187 1480l-58 57m0 0l-28-11M1264 1480l-61 55m0 0l-27-12m36 4l-14-6M1341 1480l-63 53m0 0l-27-13M1418 1480l-80 19m11-2l-9-12M1494 1480l26-77m0 0l30-4M1571 1480l36-73m0 0l30 1m-35 9l30 1m-35 9l15 1M1648 1480l63-51m0 0l27 13m-35-6l27 13m-36-6l13 7M1725 1480l79 18m0 0l7 29m-17-31l6 29m-17-32l6 29M1802 1480l65 50m0 0l-7 29m-2-36l-7 29m-2-36l-7 30M1878 1480l37 73m0 0l-18 24m13-34l-18 24m13-34l-18 24M1955 1480l15 81m0 0l-25 17m23-28l-25 17m23-28l-25 17M2032 1480l0 82m0 0l-28 13m28-24l-28 12M2109 1480l-15 81m0 0l-29 7m31-18l-29 7M2186 1480l-33 75m0 0l-30 1m34-11l-30 0M2262 1480l-67 46m0 0l-26-15m35 9l-13-8M2339 1480l-81 11m0 0l-16-26m27 24l-8-12M2416 1480l-81-10m0 0l-9-29m20 30l-9-29M2493 1480l-80-17m0 0l-7-29m18 32l-7-30m18 32l-3-15M2570 1480l-78-23m0 0l-5-30m15 33l-4-30m15 33l-4-30M2646 1480l-79-19m0 0l-6-29m17 32l-6-30m17 32l-6-29M2723 1480l-81-8m0 0l-10-28m21 29l-10-28m21 30l-10-29M2800 1480l-77-26m0 0l-3-30m13 33l-3-29M2877 1480l-81-7m0 0l-11-28m22 29l-11-28m22 29l-5-14M2954 1480l-73-37m0 0l1-30m9 35l1-30m9 35l1-30M3030 1480l-79-18m0 0l-6-30m17 32l-6-29m17 32l-3-15M3107 1480l-80-12m0 0l-9-29m20 31l-9-29m20 30l-9-28M3184 1480l-79-19m0 0l-6-29m17 32l-6-30m16 32l-2-14M458 1545l-64 51m0 0l-27-13m35 6l-26-13M534 1545l-58 57m0 0l-28-11m36 3l-14-5M611 1545l-64 51m0 0l-27-14m36 7l-14-7M688 1545l-64 51m0 0l-27-13M765 1545l-69 45m0 0l-25-16M842 1545l-68 46m0 0l-26-16m35 10l-13-8M918 1545l-69 43m0 0l-25-16M995 1545l-69 44m0 0l-25-16M1072 1545l-71 40m0 0l-25-18M1149 1545l-68 46m0 0l-26-16M1226 1545l-59 57m0 0l-28-11M1302 1545l-49 65m0 0l-30-6M1379 1545l-72 38m0 0l-24-18M1456 1545l16-80m0 0l30-7M1533 1545l19-79m0 0l29-6m-32 17l30-6m-32 17l14-3M1610 1545l35-73m0 0l30 0m-35 10l30 0m-35 10l30 0M1686 1545l70-43m0 0l25 17m-35-11l25 16m-34-10l25 16M1763 1545l57 59m0 0l-11 28m3-36l-11 28m3-36l-11 28M1840 1545l15 81m0 0l-24 17m22-28l-24 17m22-28l-24 17M1917 1545l-6 82m0 0l-28 10m29-21l-28 10m29-22l-29 11M1994 1545l-7 82m0 0l-28 10m29-21l-28 10m29-22l-28 11M2070 1545l-17 80m0 0l-29 7m31-18l-29 7m32-18l-15 4M2147 1545l-36 73m0 0l-30-1m35-9l-30-1M2224 1545l-48 67m0 0l-29-6m36-4l-15-2M2301 1545l-74 35m0 0l-23-20m33 15l-12-10M2378 1545l-81 11m0 0l-16-26m27 24l-16-25M2454 1545l-81-4m0 0l-11-28m22 28l-11-27M2531 1545l-80-15m0 0l-7-30m18 32l-7-29m18 31l-3-15M2608 1545l-78-25m0 0l-3-30m14 34l-4-30M2685 1545l-81-10m0 0l-9-28m20 30l-9-29m20 30l-9-29M2762 1545l-81-15m0 0l-7-29m18 31l-7-29M2838 1545l-79-17m0 0l-7-29m18 32l-7-30m18 32l-4-15M2915 1545l-79-19m0 0l-6-29m17 32l-6-29M2992 1545l-80-14m0 0l-8-29m19 31l-8-29m19 31l-8-29M3069 1545l-81-13m0 0l-8-29m19 31l-8-29m19 31l-8-29M3146 1545l-80-17m0 0l-6-30m17 32l-7-29M496 1610l-58 58m0 0l-28-11m36 3l-14-6M573 1610l-64 52m0 0l-27-13m36 6l-13-7M650 1610l-70 42m0 0l-25-17m34 12l-12-9M726 1610l-71 39m0 0l-25-18m34 13l-12-9M803 1610l-62 53m0 0l-28-13M880 1610l-71 40m0 0l-25-18M957 1610l-74 36m0 0l-23-19M1034 1610l-74 36m0 0l-23-20M1110 1610l-72 38m0 0l-24-18M1187 1610l-50 65m0 0l-29-7M1264 1610l-77 27m0 0l-21-21M1341 1610l-67 47m0 0l-26-15M1418 1610l-18-79m0 0l24-18M1494 1610l0-81m0 0l28-13m-28 24l28-13M1571 1610l-2-81m0 0l27-14m-27 25l27-13m-26 24l26-13M1648 1610l-16-80m0 0l24-17m-22 28l24-17m-22 28l24-17M1725 1610l-60 56m0 0l-28-12m36 4l-28-11m36 3l-14-5M1802 1610l-35 74m0 0l-30 0m35-10l-30 0m34-10l-30 0m35-10l-30 0M1878 1610l-28 77m0 0l-30 2m34-13l-30 3m34-13l-30 2m34-13l-15 2M1955 1610l-23 79m0 0l-30 4m33-15l-29 4m32-15l-14 2M2032 1610l-30 76m0 0l-30 2m34-12l-30 2m34-13l-30 2M2109 1610l-30 76m0 0l-30 2m34-12l-30 2m34-13l-15 1M2186 1610l-41 71m0 0l-30-2m36-7l-30-3m35-7l-15-1M2262 1610l-59 56m0 0l-28-11m36 4l-28-12M2339 1610l-72 38m0 0l-24-19m34 13l-12-9M2416 1610l-81 13m0 0l-16-25m27 23l-16-25M2493 1610l-82-1m0 0l-12-27m23 27l-12-27M2570 1610l-81-9m0 0l-10-29m21 30l-10-28m21 29l-5-14M2646 1610l-79-18m0 0l-7-29m18 32l-7-29m18 31l-7-29M2723 1610l-80-16m0 0l-7-29m18 32l-7-29m18 31l-3-15M2800 1610l-79-21m0 0l-5-30m16 33l-5-30M2877 1610l-78-24m0 0l-4-29m15 33l-5-30m15 33l-4-30M2954 1610l-80-19m0 0l-6-29m17 32l-6-30m17 32l-3-14M3030 1610l-80-13m0 0l-8-28m19 30l-8-29m19 31l-4-14M3107 1610l-80-14m0 0l-8-29m19 31l-8-29M3184 1610l-78-24m0 0l-4-30m15 33l-4-29M458 1675l-68 46m0 0l-26-15m35 9l-13-8M534 1675l-68 44m0 0l-26-16m35 10l-13-8M611 1675l-69 44m0 0l-25-16m35 10l-13-8M688 1675l-72 39m0 0l-24-18m34 13l-12-9M765 1675l-75 33m0 0l-22-19M842 1675l-70 44m0 0l-25-17M918 1675l-72 39m0 0l-24-18M995 1675l-75 32m0 0l-22-21M1072 1675l-70 42m0 0l-25-17M1149 1675l-74 36m0 0l-23-19M1226 1675l-74 36m0 0l-23-19M1302 1675l-69 44m0 0l-25-16M1379 1675l-74-34m10 5l0-15M1456 1675l-39-71m0 0l17-24m-12 34l9-12M1533 1675l-31-75m0 0l21-22m-16 32l20-22m-16 32l10-10M1610 1675l-47-67m0 0l16-26m-9 35l15-25m-9 35l15-26m-9 35l8-13M1686 1675l-81-6m0 0l-10-28m21 29l-10-28m21 29l-10-28M1763 1675l-54 61m0 0l-29-9m36 1l-29-9m37 0l-29-8M1840 1675l-52 64m0 0l-29-8m36-1l-29-8m37-1l-30-7m37-1l-29-8M1917 1675l-44 69m0 0l-30-4m36-5l-30-4m36-6l-30-4m36-5l-15-2M1994 1675l-39 72m0 0l-30-2m35-8l-30-2m35-8l-30-2m36-7l-15-1M2070 1675l-42 70m0 0l-30-3m36-6l-30-4m36-6l-30-3M2147 1675l-38 73m0 0l-30-2m35-8l-30-2m35-8l-29-2M2224 1675l-52 63m0 0l-29-7m36-1l-29-8M2301 1675l-67 47m0 0l-26-15m35 9l-13-8M2378 1675l-72 40m0 0l-24-18m34 13l-12-9M2454 1675l-79 21m0 0l-19-24m30 21l-9-12M2531 1675l-81-2m0 0l-12-28m23 28l-6-13M2608 1675l-80-17m0 0l-6-29m17 32l-3-15M2685 1675l-80-18m0 0l-6-30m17 32l-6-29m17 32l-3-15M2762 1675l-79-22m0 0l-4-30m15 33l-5-30m16 33l-3-15M2838 1675l-76-27m0 0l-3-30m13 33l-3-29m14 33l-2-15M2915 1675l-78-22m0 0l-5-30m16 33l-5-30m15 33l-2-15M2992 1675l-80-17m0 0l-6-29m17 32l-7-30m18 32l-3-15M3069 1675l-80-18m0 0l-6-29m17 32l-6-30M3146 1675l-80-19m0 0l-6-29m17 32l-6-29m17 32l-3-15M496 1740l-76 30m0 0l-22-21m32 17l-10-11M573 1740l-72 39m0 0l-24-18m34 13l-12-9M650 1740l-68 47m0 0l-25-15m35 8l-13-7M726 1740l-80 13m0 0l-17-25m28 23l-9-12M803 1740l-71 40m0 0l-24-18M880 1740l-78 24m0 0l-20-22M957 1740l-81 15m0 0l-17-25M1034 1740l-82 9m0 0l-15-25M1110 1740l-79 20m0 0l-19-24M1187 1740l-79 20m0 0l-19-24M1264 1740l-75 32m0 0l-22-20M1341 1740l-81-7m11 1l-5-14M1418 1740l-57-58m0 0l11-28m-3 36l5-14M1494 1740l-55-60m0 0l11-27m-3 36l11-28m-4 36l6-14M1571 1740l-59-55m0 0l9-29m-1 36l9-28m-1 36l9-29m-1 37l5-15M1648 1740l-77-28m0 0l-2-30m13 34l-3-30m13 34l-2-30M1725 1740l-78 26m0 0l-20-22m31 19l-21-22m32 18l-21-22M1802 1740l-64 51m0 0l-27-13m36 6l-27-13m35 6l-27-13m36 6l-13-6M1878 1740l-53 62m0 0l-28-8m36 0l-29-8m36-1l-29-8m36 0l-14-4M1955 1740l-37 73m0 0l-30-1m35-9l-30-1m35-9l-30-1m35-9l-30-1M2032 1740l-42 70m0 0l-30-3m36-6l-30-3m36-7l-30-3m35-6l-15-2M2109 1740l-41 71m0 0l-30-3m36-7l-30-2m35-7l-30-3M2186 1740l-41 71m0 0l-30-2m35-8l-29-2m35-7l-15-2M2262 1740l-58 58m0 0l-28-11m36 3l-14-5M2339 1740l-67 47m0 0l-26-15m36 9l-13-8M2416 1740l-72 38m0 0l-24-18M2493 1740l-75 34m0 0l-22-20m33 15l-12-10M2570 1740l-80-16m0 0l-7-29m18 31l-4-14M2646 1740l-78-23m0 0l-4-30m15 33l-2-15M2723 1740l-77-26m0 0l-3-30m14 34l-4-30M2800 1740l-77-27m0 0l-3-30m14 34l-3-30M2877 1740l-76-29m0 0l-3-30m13 34l-1-15M2954 1740l-77-28m0 0l-3-30m14 34l-3-30M3030 1740l-78-22m0 0l-5-30m16 33l-5-30M3107 1740l-78-23m0 0l-4-29m15 32l-5-29M3184 1740l-79-21m0 0l-5-29m16 32l-5-29m16 32l-3-15M458 1805l-76 30m0 0l-22-20M534 1805l-77 27m0 0l-21-22M611 1805l-75 32m0 0l-22-20m32 16l-11-10M688 1805l-79 22m0 0l-19-23M765 1805l-82 1m0 0l-13-27M842 1805l-65 50m0 0l-27-14M918 1805l-79 17m0 0l-18-24M995 1805l-80 17m0 0l-18-25M1072 1805l-81 12m0 0l-16-26M1149 1805l-77 28m0 0l-21-22M1226 1805l-81 12m11-1l-8-13M1302 1805l-78-23m11 3l-2-15M1379 1805l-68-44m0 0l4-29M1456 1805l-64-50m0 0l7-29m2 36l7-29M1533 1805l-61-54m0 0l9-29m0 36l9-29m-1 37l4-15M1610 1805l-76-31m0 0l-1-30m12 34l-2-30m12 35l-1-15M1686 1805l-81-2m0 0l-12-28m23 28l-12-27m23 28l-12-28m23 28l-6-14M1763 1805l-74 34m0 0l-23-19m33 14l-23-19m33 15l-22-20m32 15l-22-19M1840 1805l-62 53m0 0l-28-13m36 6l-27-13m36 6l-14-7M1917 1805l-49 66m0 0l-29-6m36-3l-29-6m36-3l-30-6m36-3l-14-3M1994 1805l-37 73m0 0l-30 0m35-10l-30 0m35-10l-15 0M2070 1805l-35 74m0 0l-30-1m34-9l-30-1m35-9l-30-1M2147 1805l-45 68m0 0l-30-5m36-4l-30-5m36-5l-15-2M2224 1805l-44 69m0 0l-30-4m36-5l-30-4m36-6l-15-2M2301 1805l-57 59m0 0l-28-10M2378 1805l-69 44m0 0l-26-16M2454 1805l-77 27m0 0l-21-21M2531 1805l-81 10m0 0l-16-26M2608 1805l-81-7m0 0l-11-28M2685 1805l-79-21m0 0l-5-30m16 33l-3-15M2762 1805l-79-21m0 0l-5-29m16 32l-3-15M2838 1805l-70-40m0 0l2-30m7 35l2-15M2915 1805l-67-46m0 0l5-29m4 36l2-15M2992 1805l-74-34m0 0l0-30m10 34l0-15M3069 1805l-76-29m0 0l-2-30m12 34l-1-15M3146 1805l-76-31m0 0l-1-30m12 34l-2-30M496 1870l-76 31m0 0l-22-21m33 17l-11-11M573 1870l-75 32m0 0l-23-20m33 16l-11-10M650 1870l-76 31m0 0l-22-20M726 1870l-79 20m0 0l-19-23M803 1870l-79 19m0 0l-19-24M880 1870l-82-1m0 0l-12-27M957 1870l-80-17m0 0l-7-29M1034 1870l-81-14m0 0l-7-29M1110 1870l-78 24m0 0l-20-23M1187 1870l-80 16m0 0l-18-24M1264 1870l-75-31m0 0l-2-30M1341 1870l-71-40m0 0l2-30M1418 1870l-48-66m0 0l14-26M1494 1870l-64-50m0 0l7-29m2 36l3-15M1571 1870l-71-40m0 0l3-30m7 36l2-30M1648 1870l-80-13m0 0l-9-29m20 31l-8-29m19 31l-4-15M1725 1870l-79 20m0 0l-19-23m29 20l-18-23m29 21l-19-24m30 21l-19-23M1802 1870l-72 39m0 0l-24-18m33 12l-24-18m34 13l-24-18m34 13l-12-9M1878 1870l-67 46m0 0l-26-15m35 9l-26-15m36 9l-13-8M1955 1870l-51 64m0 0l-29-8m36-1l-29-7m36-2l-29-7M2032 1870l-43 70m0 0l-29-3m35-7l-30-3m36-6l-30-3M2109 1870l-47 67m0 0l-30-5m36-4l-29-6M2186 1870l-36 74m0 0l-30-1m35-9l-15-1M2262 1870l-58 57m0 0l-28-10M2339 1870l-60 56m0 0l-28-12M2416 1870l-67 46m0 0l-26-15M2493 1870l-77 28m0 0l-21-22M2570 1870l-82 9m0 0l-15-26M2646 1870l-77 26m11-3l-11-11M2723 1870l-80-14m0 0l-8-29M2800 1870l-74-33m0 0l-1-30M2877 1870l-61-55m0 0l9-28M2954 1870l-75-33m0 0l-1-30M3030 1870l-69-42m0 0l3-30M3107 1870l-70-42m0 0l3-30M3184 1870l-70-42m0 0l4-30m6 36l3-30M458 1935l-74 35m0 0l-23-19M534 1935l-74 35m0 0l-23-19M611 1935l-81 12m0 0l-16-25M688 1935l-69 44m0 0l-25-17M765 1935l-81 11m0 0l-16-25M842 1935l-81 14m0 0l-17-25M918 1935l-79 18m0 0l-19-23M995 1935l-81-7m0 0l-10-29M1072 1935l-81-5m0 0l-11-28M1149 1935l-78-25m0 0l-4-29m15 33l-2-15M1226 1935l-76-30m0 0l-1-30M1302 1935l-64-49m0 0l6-30m3 36l3-14M1379 1935l-68-45m0 0l5-29M1456 1935l-69-43m0 0l4-30m5 36l2-15M1533 1935l-77-28m0 0l-2-30m13 34l-1-15M1610 1935l-80-16m0 0l-7-29m18 31l-4-14M1686 1935l-80 16m0 0l-17-24m28 22l-17-25m28 23l-17-25M1763 1935l-68 45m0 0l-26-16m35 9l-25-16m34 10l-25-16M1840 1935l-69 44m0 0l-25-16m34 10l-25-16m35 10l-25-16M1917 1935l-62 54m0 0l-27-13m35 5l-27-12m36 5l-27-12M1994 1935l-54 62m0 0l-29-9m36 0l-29-8m36 0l-14-5M2070 1935l-49 65m0 0l-30-6m36-3l-14-3M2147 1935l-55 60m0 0l-29-9m36 1l-14-5M2224 1935l-51 64m0 0l-29-7M2301 1935l-46 68m0 0l-30-5M2378 1935l-59 57m0 0l-28-11M2454 1935l-64 50m8-7l-13-7M2531 1935l-74 33m0 0l-23-19M2608 1935l-82 2m12 0l-7-14M2685 1935l-74-34m10 4l0-15M2762 1935l-68-45m0 0l4-30M2838 1935l-61-53m0 0l9-29M2915 1935l-67-45m0 0l4-30M2992 1935l-53-62m0 0l12-27m-5 36l6-14M3069 1935l-62-53m0 0l8-29m1 36l4-14M3146 1935l-48-66m0 0l15-26m-8 35l7-13M496 2000l-78 24m0 0l-20-22M573 2000l-82-4m0 0l-11-28M650 2000l-77-27m0 0l-3-29M726 2000l-80 14m0 0l-17-25M803 2000l-80-15m0 0l-7-29M880 2000l-81-11m0 0l-8-29M957 2000l-81-8m0 0l-10-28M1034 2000l-81-12m0 0l-9-28M1110 2000l-73-35m0 0l0-30M1187 2000l-66-47m0 0l6-30M1264 2000l-73-36m0 0l1-30m9 35l1-15M1341 2000l-76-31m0 0l-1-30m12 34l-1-15M1418 2000l-72-39m0 0l2-29m8 35l2-30M1494 2000l-73-35m0 0l0-30m10 35l0-30M1571 2000l-80-16m0 0l-7-29m18 31l-3-15M1648 2000l-82 0m0 0l-12-28m24 28l-7-14M1725 2000l-70 43m0 0l-25-17m35 11l-25-17M1802 2000l-67 47m0 0l-26-15m35 9l-26-15m35 8l-26-15m35 9l-13-8M1878 2000l-62 53m0 0l-27-13m35 6l-27-13m36 5l-27-12M1955 2000l-58 58m0 0l-28-11m36 3l-28-10m36 2l-14-5M2032 2000l-51 64m0 0l-29-7m36-2l-29-7M2109 2000l-35 74m0 0l-30 0m35-10l-15 0M2186 2000l-53 63m0 0l-29-8M2262 2000l-52 63m0 0l-29-8M2339 2000l-61 54m0 0l-28-12M2416 2000l-42 70m0 0l-30-3M2493 2000l-61 55m9-7l-14-6M2570 2000l-82 6m11-1l-7-13M2646 2000l-81-8m11 1l-5-14M2723 2000l-64-50m9 7l3-14M2800 2000l-70-42m0 0l4-30M2877 2000l-50-64m0 0l14-27M2954 2000l-55-60m0 0l12-28m-5 36l6-14M3030 2000l-48-66m0 0l15-26M3107 2000l-54-61m0 0l13-27M3184 2000l-48-66m0 0l15-26m-8 35l7-13M458 2065l-82-5m0 0l-11-28M534 2065l-81-1m0 0l-13-27M611 2065l-76 30m0 0l-22-21M688 2065l-81-7m0 0l-10-29M765 2065l-82-5m0 0l-10-28M842 2065l-82 8m0 0l-15-26M918 2065l-81-3m0 0l-12-28M995 2065l-78-23m0 0l-4-30M1072 2065l-73-36m0 0l1-30M1149 2065l-76-29m0 0l-3-30M1226 2065l-80-18m0 0l-6-29M1302 2065l-73-36m0 0l1-30m9 35l1-30M1379 2065l-71-40m0 0l2-29m8 35l2-30M1456 2065l-68-45m0 0l5-30m5 36l4-30M1533 2065l-80-17m0 0l-7-29m18 31l-7-29M1610 2065l-81-11m0 0l-9-29m20 30l-9-28M1686 2065l-76 29m0 0l-21-21m32 17l-22-20m32 16l-11-10M1763 2065l-65 50m0 0l-26-14m35 7l-26-14m35 7l-26-14M1840 2065l-65 50m0 0l-27-14m36 7l-27-14m36 7l-13-7M1917 2065l-60 56m0 0l-28-11m36 3l-28-11M1994 2065l-57 59m0 0l-28-10m36 2l-29-10M2070 2065l-45 68m0 0l-30-4m36-5l-15-2M2147 2065l-49 65m0 0l-30-6m37-3l-15-3M2224 2065l-38 73m0 0l-30-2M2301 2065l-30 77m0 0l-30 2M2378 2065l-48 66m0 0l-30-5M2454 2065l-50 64m0 0l-29-6M2531 2065l-75 33m11-4l-12-10M2608 2065l-82-1m12 0l-6-14M2685 2065l-82-4m11 1l-5-14M2762 2065l-71-40m10 5l1-15M2838 2065l-54-61m0 0l12-27M2915 2065l-64-50m0 0l7-30M2992 2065l-48-66m0 0l15-26m-8 35l7-13M3069 2065l-50-64m0 0l13-27m-7 36l7-13M3146 2065l-51-63m0 0l13-27m-6 35l6-13M496 2130l-79 20m0 0l-19-23M573 2130l-76 30m0 0l-22-21M650 2130l-82 6m0 0l-14-26m25 26l-7-13M726 2130l-81-4m0 0l-11-27M803 2130l-78-22m10 3l-2-14M880 2130l-77-26m0 0l-3-30M957 2130l-72-39m0 0l2-30M1034 2130l-75-33m0 0l0-30M1110 2130l-66-47m0 0l5-29M1187 2130l-73-35m0 0l0-30M1264 2130l-67-46m0 0l5-30M1341 2130l-71-41m0 0l3-30m7 36l3-30M1418 2130l-64-51m0 0l7-29m2 36l7-29m2 36l3-14M1494 2130l-70-40m0 0l2-30m7 35l3-30m7 36l1-15M1571 2130l-80-13m0 0l-8-29m19 31l-8-29M1648 2130l-79 22m0 0l-19-23m30 20l-19-23m30 20l-10-11M1725 2130l-65 50m0 0l-27-14m36 7l-27-14m36 7l-27-14M1802 2130l-63 53m0 0l-27-12m36 5l-27-12m36 5l-28-13M1878 2130l-60 55m0 0l-28-12m36 4l-28-12m36 5l-27-12M1955 2130l-54 61m0 0l-29-9m36 1l-29-9M2032 2130l-58 58m0 0l-28-11m36 3l-14-5M2109 2130l-54 62m0 0l-29-9m36 0l-14-4M2186 2130l-43 70m0 0l-30-4M2262 2130l-47 67m0 0l-30-6M2339 2130l-41 71m0 0l-30-3M2416 2130l-57 59m0 0l-28-10M2493 2130l-52 63m7-8l-14-4M2570 2130l-59 57m8-8l-14-5M2646 2130l-73 36m10-5l-12-10M2723 2130l-81-5m11 0l-5-14M2800 2130l-62-53m9 7l4-14M2877 2130l-62-53m0 0l8-28M2954 2130l-51-64m0 0l14-27m-7 36l7-13M3030 2130l-46-67m0 0l15-26m-9 35l8-13M3107 2130l-33-74m0 0l20-23m-15 33l10-11M3184 2130l-45-68m0 0l16-25m-10 35l8-13M458 2195l-71 42m0 0l-24-17M534 2195l-81 11m0 0l-16-26M611 2195l-81 8m0 0l-15-26M688 2195l-82-3m0 0l-11-28M765 2195l-79-22m0 0l-4-30M842 2195l-80-18m0 0l-6-29M918 2195l-80 14m0 0l-17-25M995 2195l-76-29m0 0l-2-30M1072 2195l-74-34m0 0l0-30M1149 2195l-70-41m0 0l3-30M1226 2195l-62-53m0 0l8-29M1302 2195l-74-34m0 0l0-30M1379 2195l-62-52m0 0l8-29m0 36l8-29m1 36l4-14M1456 2195l-67-46m0 0l5-30m4 36l5-29m4 36l6-30M1533 2195l-72-38m0 0l2-30m8 35l1-30m9 35l0-15M1610 2195l-82 8m0 0l-15-26m27 25l-16-26M1686 2195l-71 40m0 0l-24-18m34 12l-25-18m34 13l-12-9M1763 2195l-60 55m0 0l-28-12m36 5l-28-12m36 4l-27-12M1840 2195l-59 57m0 0l-28-11m36 3l-28-11m36 3l-28-10m36 3l-14-6M1917 2195l-63 52m0 0l-27-13m35 6l-27-13m36 6l-27-13M1994 2195l-50 65m0 0l-29-6m36-3l-15-3M2070 2195l-59 56m0 0l-28-11m36 4l-14-6M2147 2195l-44 69m0 0l-30-4m36-5l-15-2M2224 2195l-39 72m0 0l-30-2M2301 2195l-58 58m0 0l-28-10M2378 2195l-45 69m0 0l-30-5M2454 2195l-58 58m8-8l-14-5M2531 2195l-29 77m4-11l-15 1M2608 2195l-75 32m10-4l-11-10M2685 2195l-73 38m10-5l-12-10M2762 2195l-71-40m10 5l1-15M2838 2195l-69-43m10 6l1-15M2915 2195l-65-49m0 0l7-29M2992 2195l-51-63m0 0l13-27m-6 36l6-14M3069 2195l-48-66m0 0l14-26M3146 2195l-40-71m0 0l18-24m-12 34l9-12M496 2260l-82-1m0 0l-12-27M573 2260l-81-7m0 0l-11-28M650 2260l-82-8m0 0l-10-28M726 2260l-71-39m0 0l2-30M803 2260l-81 6m0 0l-15-26M880 2260l-77-27m0 0l-3-30M957 2260l-80-18m0 0l-6-29M1034 2260l-76-31m0 0l-1-30M1110 2260l-76-28m0 0l-2-30M1187 2260l-64-50m0 0l7-29M1264 2260l-78-24m0 0l-4-29m15 33l-2-15M1341 2260l-61-54m0 0l9-29m-1 36l9-28m0 36l4-15M1418 2260l-61-54m0 0l9-29m-1 36l9-29m0 37l9-29M1494 2260l-68-44m0 0l4-29m5 35l4-29m6 35l4-29M1571 2260l-78-24m0 0l-4-29m15 33l-4-30m15 33l-5-30M1648 2260l-75 32m0 0l-22-20m32 16l-22-20m33 16l-23-20M1725 2260l-63 53m0 0l-27-13m36 6l-27-13m35 5l-27-12m36 5l-14-6M1802 2260l-61 55m0 0l-28-12m36 4l-28-12m36 5l-27-12m36 4l-28-12M1878 2260l-59 57m0 0l-28-11m36 3l-28-11m36 3l-27-11M1955 2260l-60 56m0 0l-28-12m36 4l-27-11m36 3l-28-11M2032 2260l-52 63m0 0l-29-7m36-1l-29-8M2109 2260l-61 55m0 0l-28-12m36 4l-27-12M2186 2260l-48 66m0 0l-30-5m36-4l-15-3M2262 2260l-35 74m0 0l-30-1m35-9l-15 0M2339 2260l-30 76m0 0l-30 2M2416 2260l-55 61m0 0l-29-9M2493 2260l-12 81m0 0l-28 9M2570 2260l-36 74m5-10l-15 0M2646 2260l-51 64m7-9l-15-4M2723 2260l-64 51m9-7l-13-7M2800 2260l-72-37m10 5l0-15M2877 2260l-42-70m0 0l17-25M2954 2260l-49-65m0 0l15-27M3030 2260l-61-54m0 0l9-28m0 36l4-15M3107 2260l-53-61m0 0l12-28M3184 2260l-64-50m0 0l7-29"/>
<path transform="scale(0.25)" stroke="none" fill="#000" d="M2810 440L2829 459L2802 451ZM2736 490L2762 499L2734 504ZM2857 512L2873 535L2848 522ZM2666 556L2693 554L2669 570ZM2734 559L2761 554L2739 572ZM2766 673L2758 647L2779 667ZM2611 627L2637 619L2617 639ZM2677 633L2702 622L2685 645ZM2726 666L2741 644L2739 672ZM2804 738L2796 712L2817 731ZM2629 705L2653 691L2639 716ZM2695 718L2715 699L2707 726ZM2758 754L2766 728L2771 756ZM2723 804L2736 780L2736 808Z"/>
<path transform="scale(0.25)" stroke="#00008b" stroke-width="5.8"  d="M2780 604l1-6 1-9 1-7 3-5 3-4 5-4 5-5 7-4 7-4 5-2 4-1 6 1 7 2 8 4 7 4 5 2 4 3 3 4 3 7 3 8 2 7 0 5 0 4-1 5-2 6-3 6-3 7-4 6-4 6-5 5-6 5-6 3-7 2-6-1-5-2-6-2-6-2-5-2-5-3-5-6-4-7-3-8-2-7-1-6-1-5M2744 472l-3 5-3 7-4 6-3 7-3 6-2 7-2 6-2 6-2 6-3 6-4 6-3 6-1 6-1 6-1 7 0 6 0 7 0 7 0 8 0 8 0 8-1 7-1 6 0 6 1 7 3 6 2 7 3 5 3 4 3 6 3 7 3 7 3 7 4 6 4 5 4 5 4 6 4 5 5 4 4 4 5 4 6 4 6 5 7 5 7 4 7 3 7 3 7 2 6 2 5 1 5 2 6 1 5 0 6 0 8 0 9-1 8-1 6 0 6 0 6-1 6-2 7-4 6-3 6-2 5-3 6-3 6-3 6-4 7-4 6-4 5-5 5-5 4-5 3-5 4-5 6-4 7-4 5-4 3-6 1-7 1-7 4-6 5-6 3-6 2-5 1-5 1-6 2-7 1-7 2-8 2-7 3-6 1-7 1-5-1-5-1-6-2-8-2-9-2-8-3-6-2-6-3-6-2-5-1-6-2-7-2-6-3-7-2-7-3-7-2-6-2-5M2604 472l-1 5-1 7-1 7 0 7 1 6 0 8-1 8-1 9 0 7 1 5 1 4 1 4 2 8 2 8 1 8-1 8-1 7-1 7 1 5 3 6 2 5 2 6 1 6 2 7 2 7 3 8 3 8 1 6 2 6 2 6 4 5 5 5 5 5 2 6 2 7 2 6 3 6 2 5 3 5 4 7 5 6 4 7 4 5 4 5 4 4 5 6 6 5 5 5 5 5 4 5 5 5 5 6 5 5 5 5 5 4 5 3 6 2 5 3 6 3 5 4 6 3 5 4 6 4 7 4 7 3 6 3 6 0 6 0 6 1 8 2 8 4 8 4 4 2 4 2 5 1 7-1 8-2 7 0 7 1 6 2 6 2 8 1 9 0 8 1 5 0 6 1 5 0 6 0 7-1 7 0 7 1 7 2 7 1 8-1 7-3 6-2 6 0 5-1 6 0 6-2 8-2 6-2 6 1 6 1 6-1 8-3 8-5 8-4 8-1 6 0 6-1 4-3 3-5 4-4 7-3 8-1 7-3 7-3 6-4 6-4 5-2 6-2 6-3 7-5 7-6 7-6 5-4 4-4 3-2M1036 472l2 6 4 8 4 7 4 4 5 1 5 3 5 5 6 7 6 4 7 1 8-2 7-1 5 0 5-1 6 0 7 1 8 1 7 1 7 0 6 0 6 1 5 3 6 5 5 4 7 0 7-1 6 0 7 3 6 5 6 3 8 2 8 1 7 2 6 3 6 4 6 3 5 2 5 1 6 2 8 3 8 4 8 3 6 2 6 0 5 1 7 2 7 2 6 1 6 2 5 1 6 2 6 2 6 3 7 2 9 1 9 1 8 1 6 2 5 2 6 2 5 1 6 1 6 0 5 0 5 0 6 0 8-1 9-1 9 0 6 2 4 4 6 3 7 0 7-2 7 0 7 0 7 1 6 2 8 1 7 1 7 2 7 0 5 0 6 0 7 3 7 2 7 3 7 1 7 0 6 1 7 0 6-1 6 1 6 4 5 4 6 4 7 2 7 2 6 1 5 3 5 4 5 4 7 2 7 3 7 3 5 3 6 4 6 4 6 4 6 5 6 3 6 4 6 4 6 4 6 2 6 2 5 3 6 3 5 5 5 3 5 4 6 3 6 4 7 2 7 2 6 3 4 4 4 5 4 5 6 3 8 3 7 3 5 4 5 4 5 3 7 2 8 1 8 1 5 3 6 3 5 3 6 2 7 1 7 2 5 2 6 3 6 2 7 1 8 1 7 0 7-1 7-1 6-1 7 1 7 3 7 1 7 1 6 1 6 1 6 0 6 1 6 0 7-2 7-2 7-1 6 0 7 0 7 0 7-3 8-3 7-2 5-2 4 0 5-1 7-2 6-2 7-3 7-4 7-4 7-4 6-2 5-1 6-2 7-3 8-4 7-2 6-1 6-1 6-1 6-4 5-6 6-4 5-3 6-2 6-2 7-2 7-2 6-1 6 0 7 1 6 0 5-2 6-3 6-1 10 1 10 3 9 2 7 1 5 0 5 1 8 1 7 1 7 2 6 2 4 1 5 2 6 3 6 4 6 3 5 4 5 3 6 4 6 4 6 4 6 4 6 3 6 3 6 3 5 6 5 6 5 6 5 3 6 3 6 3 7 4 6 3 7 3 6 1 6 0 6 1 5 3 6 4 5 4 4 4 4 4 5 4 5 3 5 3 6 4 6 5 7 6 5 5 5 4 4 4 5 4 5 4 5 5 6 5 5 5 5 4 5 5 5 4 6 4 5 5 6 4 6 4 6 4 5 3 4 3 5 4 6 4 6 5 6 3 6 3 5 1 5 3 4 4 3 6 5 6 7 5 8 4 8 4 7 3 5 2 6 3 6 2 5 2 5 2 6 4 7 4 6 4 6 4 6 4 5 3 6 4 6 3 6 3 6 2 6 1 5 2 6 3 6 2 6 3 8 1 9 1 8 2 6 2 6 2 6 2 7 2 6 1 6 1 6 1 5 1 6 1 8 0 9 0 8 1 6 1 5 1 5 2 7 1 7 0 7 2 7 1 8 2 7 2 5 2 3 3 5 3 8 1 9 0 8 0 7 0 6 1 6 1 6 2 6 2 6 2 7 2 8 2 7 1 6 1 6 0 6 2 6 2 6 4 7 3 7 2 7 1 5 1M440 1132l5-3 8-5 6-4 4-4 4-2 4-4 5-4 7-5 6-5 4-5 3-5 4-5 5-5 5-4 5-4 4-4 4-4 4-4 6-5 7-5 6-5 4-5 4-4 5-5 6-5 8-6 6-4 5-4 3-3 4-4 3-4 4-6 4-5 4-5 4-5 5-4 5-5 6-5 6-5 7-3 7-3 6-4 5-5 5-5 5-5 4-3 4-2 4-3 6-5 6-5 6-5 6-5 5-5 5-5 4-4 5-5 5-4 5-4 5-4 5-3 5-4 4-4 5-4 7-5 7-5 7-4 5-2 3-2 5-2 5-2 6-3 6-3 7-3 7-4 7-3 6-1 6-1 7-1 6-3 7-3 6-3 7-4 6-4 5-3 6 0 6 1 6 0 7-2 8-2 7-3 7-2 6-2 7-3 6-2 6-1 6-2 7-2 6-2 7-2 6-1 6-1 6-1 6-1 6-2 7-2 7-1 7-2 7-2 7-2 8-3 6-2 5 0 4 0 5 1 8 2 9 2 8 2 7 1 6 0 6 1 5 1 6 2 5 0 8-2 8-2 7-2 6 1 5 1 6 0 7 0 7 0 7 1 7 4 6 5 6 4 6 0 6-1 7-1 7-2 7-3 6-1 7 1 6 4 6 4 5 3 5 3 6 2 8 0 9 0 8-1 4 1 4 0 5 1 9 2 10 2 8 2 6 1 5 1 5 1 5 1 6 1 6 1 7 3 8 4 7 3 5 2 4 0 6 1 6 3 8 2 7 3 7 3 8 2 7 3 7 2 7 2 7 1 7 1 6 0 6 1 6 2 5 3 5 1 7 1 8-1 7 0 5-1 5-2 5 0 8 3 9 5 8 3 6 2 5 1 6 2 5 2 5 3 6 3 8 3 9 3 7 3 7 1 5 0 6 1 5 3 5 3 6 3 8 1 9 0 8 1 6 2 5 3 6 2 5 0 6 0 6 1 6 4 6 6 6 5 5 3 5 2 5 3 4 4 5 5 5 4 9 2 9 1 9 1 6 2 5 2 6 3 6 2 6 3 7 3 6 3 6 2 6 3 7 3 6 3 7 3 5 1 5 1 6 1 7 0 7 0 7 1 6 2 5 2 6 1 7 0 8-1 7 0 8 0 8 0 7 0 7 1 6 1 6 2 8 1 7 1 7 1 6 1 5 0 6 0 6 1 8 0 7 0 7 2 6 1 7 1 6 1 5 0 7 1 7 0 9 1 8 1 8 1 7 1 6 1 6 1 5 2 6 1 5 1 6 0 7 1 6 1 7 2 7 1 6 2 6 2 7 1 8-1 9-2 8 0 6 1 6 1 6 2 6 2 7 3 6 1 7 0 8-1 7-1 6-2 6-1 6 0 7 1 7 2 7 2 6 2 6 1 7 2 6 3 8 3 7 3 6 1 7 1 6 1 6 2 5 2 5 2 6 2 7 1 7 2 7 3 7 4 6 4 4 4 3 5 5 3 8-1 10-2 9-1 5 2 4 5 5 3 6-1 8-2 6-1 6 5 5 6 6 6 7 2 7 2 6 2 7 4 5 4 5 4 3 4 2 4 3 4 5 4 7 3 7 4 5 5 6 6 5 4 6 3 7 2 6 2 6 3 5 4 6 4 6 1 7 1 6 2 6 4 6 5 6 3 7 2 7-1 6 1 6 0 5 1 5 2 6 5 7 5 6 4 7 1 7-1 7 0 6 1 6 2 7 2 7 1 7 0 6 1 7 1 5 1 7 0 8-2 9-2 8-1 4 4 4 5 4 5 4 4 5 2 5 3 6 3 7 4 7 2 7 3 6 1 6 2 7 2 7 3 6 2 5 1 4 1 6 2 8 2 8 2 8 2 7 4 6 4 6 3 6 2 7 0 7 1 6 2 5 2 6 2 6 1 6 0 7 1 7 1 8 2 8 2 8 2 7 2 6 2 5 2 5 1 5 1 8 0 8 0 7 0 6 1 4 1 6 2 7 2 7 2 8 2 7 2 7 0 5 1M1692 1468l-5 1-7 2-7 3-7 4-7 3-6 5-4 4-3 4-3 5-6 5-6 6-6 6-3 5-3 5-2 6-2 6-2 7-2 6-5 5-6 5-4 5-1 7 2 8 0 7 0 7-1 7-1 6-2 7-1 7 0 7 3 7 4 7 3 6 2 6 2 5 2 5 3 6 5 6 5 6 5 6 6 7 5 5 6 2 6 1 6 1 6 2 6 4 6 2 6 1 7 1 6-1 7-1 7-2 7-2 7-1 8 0 6-1 5-3 4-4 4-4 6-4 6-3 5-4 6-5 5-7 4-7 3-6 2-6 3-6 4-6 5-6 5-6 4-7 4-7 3-6 4-4 3-3 3-5 2-6 2-7 2-8 2-7 3-7 0-7-3-6-4-6-4-5-1-7-1-6-1-6-4-5-6-4-6-4-5-3-7-2-6-2-9-2-8-3-8-3-5-4-4-4-4-4-5-4-6-4-5-2-6-1-6 1-6 0-7-1-8 0-6-1M440 1488l4-2 5-4 5-5 5-5 4-7 5-6 5-6 7-5 5-5 3-3 3-2 3-3 6-4 8-4 7-4 6-4 6-3 5-4 5-4 5-4 5-5 5-3 5-3 6-3 6-4 7-5 6-4 5-2 4-3 4-4 3-6 2-7 4-7 5-5 7-4 6-4 4-5 3-5 4-4 5-6 6-5 6-5 5-4 5-3 5-3 7-2 7 0 7-1 7 1 8 2 7 1 5 0 4 0 5-2 4-3 4-5 4-6 4-6 3-7 3-6 4-4 5-3 6-3 6-3 8-4 6-4 4-5 2-5 4-5 6-3 7-3 7-3 6-3 5-3 6-3 6-4 6-5 6-4 4-4 4-3 4-3 6-3 5-4 6-4 7-5 7-5 6-5 5-3 5-3 5-3 7-4 7-3 6-4 4-3 2-3 4-3 7-3 9-3 8-3 6-2 5-1 6-2 6-3 8-2 6-3 6-3 4-3 5-3 6-3 6-4 6-3 6-3 7-3 7-1 7 0 6 2 7 0 7-3 7-4 7-3 5-2 5-1 5-1 6-2 7-2 8-2 8 0 8 0 8 1 6 3 5 5 5 4 5 3 4 3 4 3 6 2 7 1 6 2 6 2 5 2 6 3 7 2 9 2 7 3 5 1 3 2 5 2 6 3 7 4 6 4 7 4 6 4 7 4 6 3 6 4 6 3 5 4 6 4 5 2 6 2 6 1 7 1 7 1 7 1 6 3 4 5 2 7 4 6 4 6 6 6 5 5 6 1 7 0 6 0 7 2 7 2 4 4 0 7-1 9-1 7 0 4 1 2 3 2 6 2 7 1 6 2 3 1 1 0 0 3-2 5-3 7-5 6-5 4-6 3-6 4-7 5-6 5-4 5 2 4 5 4 4 5 3 6 2 7 1 7-2 6-3 5-5 5-7 4-8 3-8 1-6-3-4-6-4-2-2 3-1 6 1 6 5 4 8 4 4 5-3 4-6 5-6 5-3 4-2 5-3 4-5 6-4 6-4 5-2 5-1 5-1 5-1 7-1 8-2 7-5 6-6 4-5 5-4 6-4 6-2 6-1 6 0 5-1 6-4 6-6 6-5 6-4 7-3 6-3 6-3 6-3 5-3 6-1 6 0 8-1 7-2 7-2 7-3 6-1 4-2 4-2 4-3 7-4 8-3 7-5 5-4 6-2 5 2 6 3 6 4 6 4 7 4 6 4 5 3 5 1 5 1 6 0 7-1 8 0 8 0 6 0 6 1 6 2 7 1 7 1 8 1 7 0 7 1 7 2 5 1 6 2 6 3 6 2 5 2 6 4 5 4 5 3 6 1 7 0 8 2 7 5 6 5 5 5 5 3 5 2 5 4 5 5 5 7 4 7 3 6 4 6 4 5 4 4 5 4 5 3 4 5 5 6 4 5 4 4 4 3 4 5 4 7 4 8 3 7 3 6 4 5 4 5 4 6 4 6 4 6 4 6 3 5 2 5 3 5 2 6 3 5 3 4 6 4 6 5 5 6 3 7 1 7-1 7-2 6-4 7-3 7-2 7-2 7-1 7 0 7 2 6 2 5 3 6 4 5 4 6 2 7 1 7 1 7 0 7-1 7 0 6 1 5 1 5 0 7-2 6-3 7-4 7-3 7-3 7-3 4-4 4-3 5-3 6-4 8-3 6-4 7-3 6-3 5-4 5-4 5-4 5-3 6-3 5-2 6-2 5-5 6-5 5-4 6-3 5-2 6-3 5-4 5-5 5-4 7-3 8-2 7-2 6-3 4-4 5-4 4-4 4-4 5-4 6-5 8-6 7-5 4-4 3-3 4-4 6-3 7-4 6-4 4-5 3-5 3-6 3-8 4-7 3-8 2-5 2-6 3-5 4-6 4-6 4-5 4-6 3-5 4-5 4-6 5-6 4-5 2-6 2-6 2-6 3-4 4-3 3-5 3-7 3-9 3-8 3-5 4-5 3-4 3-6 2-5 3-7 4-6 5-7 3-7 2-6 1-7 1-7 2-6 2-7 3-6 3-5 3-4 3-5 1-7 1-8 1-7 0-7 1-7 1-7 3-6 3-6 4-5 2-6 1-6 2-7 1-7 0-7 1-8 2-8 3-7 1-8-1-6-1-5-1-6 1-7 1-6 2-7 2-7 2-6 1-6 2-6 1-6 2-5 4-5 5-5 5-5 4-5 5-4 5-5 6-2 6-2 6-3 6-3 7-3 6-3 6-4 6-3 6-3 5-3 5-2 5-2 7-1 8 0 8-1 7-3 6-3 6-2 7-1 6 0 6 1 5 0 6 0 6 0 7 2 8 2 7 2 6 2 6 2 6 2 7 2 8 3 8 2 6 2 6 1 5 2 6 3 6 2 6 2 7 1 7 1 7 1 6 2 5 3 5 2 7 1 8 0 7 1 7 2 7 2 7 2 5 2 6 2 5 2 5 2 5 3 6 2 7 2 7 2 7 2 8 3 8 3 8 2 5 1 5 0 5 1 7 3 7 4 7 3 6 1 5 1 6 1 5 3 6 3 6 3 6 2 6 3 6 2 6 3 5 3 7 2 7 3 9 2 7 2 6 1 6 0 6-1 6 0 7 0 7-1 6-1 7-1 7 0 6-1 7 0 6 0 5 2 6 3 6 3 7 2 7 2 7 3 8 1 8 2 7 2 5 2 5 2 5 2 7 3 8 3 7 2 7 0 6-1 7 1 5 2 6 4 6 2 6 0 7-1 7-1 7-1 6 0 7 0 7 3 7 3 6 3 5 2 5 1 5 2 4 3 5 5 6 2 8 0 8-2 8 0 6 4 5 5 6 3 7 1 8-1 8 0 6 1 7 2 6 1 6 2 6 2 6 1 8 0 7-1 8-1 5 0 5-1 6 1 5 2 7 2 7 2 8 1 9 1 8 1 7 1 5 1 6 2 6 2 7 3 4 2M440 1980l5-1 7-1 7-2 7-3 7-2 6-3 6-3 4-4 6-2 7-1 8 0 7 0 7 0 7-1 7 0 7 0 6 0 7 0 7 0 8 0 6 1 5 3 5 4 5 4 6 4 7 4 6 3 5 4 3 3 5 4 6 4 6 6 7 5 6 4 6 3 6 2 7 0 7-1 6-2 6-1 5-2 6 0 7 1 7 2 7 2 6 1 6 2 5 2 5 3 5 4 6 3 6 3 7 3 6 4 6 3 5 3 5 4 6 4 6 5 6 5 6 4 7 3 6 4 5 3 5 4 5 4 5 3 6 2 5 4 6 5 6 5 6 5 6 4 6 3 6 3 4 4 5 4 4 4 6 4 5 5 6 4 6 5 5 3 6 4 6 4 5 4 5 4 6 4 5 4 5 5 4 5 4 5 5 4 5 4 6 3 6 4 5 3 5 2 6 2 7 1 8-1 7 0 6 2 5 2 6 3 8 1 8 2 8 1 7 2 7 1 7 1 8 0 8-2 7 0 6 2 4 3 6 2 5 0 6-1 6-1 8 2 7 4 8 1 8 0 8-3 6-1 6 1 4 2 6 2 7 0 7 1 7 1 8 1 7 2 7 1 7 0 6-2 7 1 5 3 5 5 4 5 4 5 3 5 3 5 5 6 5 6 4 4M1848 2288l3-5 5-6 5-6 5-4 7-3 6-3 5-4 6-4 6-4 5-4 5-3 5-4 6-4 5-4 6-4 6-4 6-4 6-5 6-3 5-4 5-4 5-4 4-4 5-4 5-3 5-3 5-4 4-5 5-7 5-6 6-3 5-3 5-4 3-3 3-4 4-5 6-6 8-7 8-6 5-2 5-1 4-2 6-3 5-4 6-3 6-3 6-2 6-3 5-6 5-6 4-6 4-5 2-5 4-5 5-5 5-5 6-4 6-5 6-5 6-5 5-3 4-3 4-4 5-4 4-5 4-5 4-3 5-3 5-4 5-6 5-7 5-6 5-5 6-4 4-5 3-5 1-5 3-6 5-6 6-6 5-6 3-6 2-6 3-6 2-7 3-7 3-7 2-5 2-5 3-4 4-4 6-4 5-5 4-7 3-7 4-6 6-4 6-3 7-3 6-4 6-4 6-4 4-3 3-3 4-2 7-3 7-2 7-2 7-1 7-1 6-1 7-2 7-2 6-2 7-1 7-2 7-1 6-2 7-2 5-3 5-4 4-4 5-4 6-3 7-2 6-2 5-4 5-5 6-3 7-1 8 1 8 0 7-2 6-4 7-2 7-1 7 1 7 1 6 2 5 2 6 2 6 1 6 1 6 1 7 1 8 2 7 1 6 0 5-1 6-1 7 1 8 2 7 2 7 1 6 2 7 2 6 4 6 5 6 4 5 2 5 2 6 2 7 1 8 0 7 1 6 2 6 3 5 3 6 1 6 1 7 2 8 2 9 2 8 2 6 1 5 2 5 1 5 2 6 1 6 2 7 2 7 3 7 2 6 2 6 3 6 2 4 3 4 4 5 3 7 5 8 4 8 4 6 2 6 1 7 1 6 2 7 2 7 1 6 1 6 0 6 0 5 2 5 2 7 1 8 0 9 0 8 1 5 3 5 4 4 3 7 2 8 2 7 1 5 1 5 1 5 1 8 2 9 2 8 1 7 0 6 0 6 0 7 0 7 1 7 0 5 1 6 1 6 2 7 2 9 2 8 2 6 0 5 0 6 1 7 3 7 3 5 3M716 520l11-3 15-4 14-5 12-5 11-5 9-6 5-7 2-8 1-5M1376 1308l4 6 5 9 3 9-2 7-4 6-2 7 4 9 7 9 5 6M1452 1200l8 3 10 4 6 5-2 7-6 8-4 5M1812 1508l7 15 10 20 7 21-1 21-4 20-3 15"/>
<path transform="scale(0.25)" stroke="#f00" stroke-width="4.6" stroke-dasharray="52 24" d="M452 644l7-2 9-3 9-4 7-4 6-4 8-4 8-3 10-3 9-3 9-3 8-3 7-3 6-3 6-3 6-3 9-4 9-4 9-4 8-3 7-4 7-4 8-4 9-4 8-4 7-2 7-2 7-3 9-3 10-4 7-3M772 516l7-2 10-2 10-2 11-4 10-3 8-3M452 804l6-3 8-3 8-5 7-4 7-4 8-4 8-3 8-2 8-3 7-2 7-3 6-2 8-4 7-3 8-4 7-4 8-3 7-4 7-3 8-3 7-3 7-4 7-4 8-3 7-3 7-3 7-3 7-3 7-3 8-3 8-3 9-2 9-2 7-2 8-2 7-3 9-2 9-4 8-2 7-3 6-2 6-3 8-1 8-2 9-1 8 0 9 0 8 0 8 0 8-1 8-1 8-1 8-1 9 0 8 1 8 2 8 1 8-1 8-3 8-1 7 1 7 1 8 1 8 0 9-1 9 0 10 1 9 2 9 2 7 1 5-1 7 1 8 2 10 3 9 3 8 2 8 2 6 1M1168 688l6-2 8-2 9-3 9-3 10-4 9-3 7-1 6 1 8 1 9 1 10 2 9 1 9 0 8 0 8-1 8-3 7-4 7-5 7-5 6-6 7-5 8-3 8-3 8-3 7-5 8-6 7-2 7 2 7 6 7 5 8 5 8 5 6 4M1540 692l6 0 8 1 8 0 9 1 9 0 8 1 9 1 8 1 7-1 8-4 7-6 7-5 8-3 8-2 8-1 7-1 8-1 8-1 8-1 9-1 9-2 8-1 7-1 8-1 8-2 8-1 9-2 8-1 10-2 8-1 8 0 7 1 8 0 8-2 9-2 8-3 7-4 7-4 7-4 7-4 7-3 7-3 7-2 8-2 8-1 8-1 7-1 8-1 8-2 9-1 8-1 8 0 7 1 8 0 9 0 10 0 9 0 8-1 8 0 8 0 8 1 8 2 8 1 8 1 7 2 7 3 6 5 6 6 5 7 5 6 5 7 4 6 5 7 4 8 4 8 2 8 1 9 1 9 1 7 1 6 2 6 4 8 6 7 6 7 7 5 8 4 7 3 7 1 8 1 7-1 9-1 10-3 6-2M2320 728l7 2 9 2 9 3 7 3 6 3 6 3 7 4 7 5 8 4 7 3 7 2 8 3 7 4 7 4 7 4 7 4 7 3 7 4 8 2 8 3 8 2 8 3 8 3 7 3 5 5 5 6 5 6 5 6 6 6 6 6 7 4 7 4 7 4 6 5 5 6 6 5 8 4 9 4 8 4 6 4 6 4 6 5 8 3 8 4 8 4 6 4 6 5 6 5 7 4 8 4 5 3M1236 900l4 5 5 8 6 7 5 6 6 5 6 4 8 3 8 2 8 2 9 1 9 0 9 1 7 2 6 3 7 4 8 3 8 4 9 3 9 0 9-1 8-1 7 1 7 0 7 2 8 3 8 3 8 4 8 3 8 4 7 4 7 5 6 4 7 5 7 4 8 4 8 3 8 1 7 1 8 0 8-1 8-1 8-1 7-1 7 0 6 3 4 7 3 9 5 7 7 2 8-1 9 0 8 1 8 1 9 1 7 1 8 0 8 1 8 0 8 2 9 0 8 1 9-1 8 0 8-1 7 0 8-1 9-1 10-1 9-2 6-3 6-5 6-4 6-4 8-4 7-4 8-6 7-6 5-4M1228 964l-5 5-6 8-6 8-4 8-3 8-2 8-2 10-1 10-3 7-7 4-10 3-7 1M2720 588l2-6 2-10 3-9 2-8 3-9 3-8 3-5 4-5 5-5 6-6 7-7 7-5 7-3 8-3 8-2 7-2 8-2 8-1 8 0 8 1 8 1 8 3 8 3 7 4 8 3 8 3 8 4 6 6 6 5 5 6 6 6 6 5 5 6 4 7 3 7 3 8 3 8 2 9 1 8 0 8 0 7-1 8 0 8 0 8-1 8-3 9-5 8-5 8-4 7-4 7-6 5-7 4-8 3-7 3-8 3-7 3-7 2-8 3-8 2-8 0-8 0-9-2-8-2-8-2-7-3-7-4-8-4-7-5-7-6-6-5-6-6-6-5-5-7-5-7-4-7-5-7-4-8-3-5M2504 492l3 6 4 8 4 9 5 8 4 8 5 8 3 7 4 6 3 6 4 8 5 8 4 8 4 6 4 7 4 6 4 7 4 8 4 7 6 8 6 8 4 5M2704 652l4 5 6 8 5 8 3 8 3 7 4 7 5 8 5 6 5 7 4 6 5 5 5 5 6 6 8 6 7 5 8 3 8 3 8 3 7 5 8 4 7 3 8 0 8-2 8-2 8 0 8 0 8-1 7-2 7-4 7-4 10-2 9-3 7-2M2944 492l40 24M2984 532l0 7 1 9 1 9 1 8 1 7 1 7 1 8 1 9 1 8 0 9 0 9 0 6M2808 988l6 2 9 2 8 3 9 3 8 4 7 4 6 4 5 5 6 5 7 5 8 6 7 5 7 5 6 4 6 5 7 4 7 5 6 5 7 5 7 4 7 4 7 4 7 3 8 4 9 4 9 5 6 3M3096 868l3 5 5 8 5 8 5 9 7 9 5 9 5 7 4 7 4 7 4 9 4 8 4 9 4 9 3 9 2 7M3016 1116l2 6 3 10 3 9 3 8 2 8 3 7 4 6 5 5 5 6 6 6 5 5 6 6 4 7 5 7 5 7 5 6 6 5 6 6 7 5 7 5 7 5 7 6 6 4 6 6 7 5 6 5 6 6 6 6 5 6 4 5M2920 1420l5 4 8 6 7 5 6 6 6 5 7 3 8 1 9-1 9-2 7 0 7-1 8 0 9 0 10 0 9 1 7 1 6 2 7 1 9 0 9 0 8 0 9 0 7 0 8 1 8 1 7 2 8 2 8 2 9 3 8 2 9 2 8 1 6 1"/>
<path transform="scale(0.25)" stroke="#f00" stroke-width="8.2"  d="M452 1492l5-2 8-2 6-2 2-2 1-1 2-2 6-5 8-6 7-4 7-1 7 1 5 1 4-2 4-3 3-3 5-2 5-3 5-3 4-3 4-5 4-4 4-3 4-4 4-4 6-4 5-4 4-5 0-6-2-6 0-6 2-4 3-4 4-5 3-4 2-5 3-5 3-6 3-5 2-3M1836 1560l3-2 5-2 5-3 6-2 6-2 6-1 3 1 2 3 2 3 2 4 3 6 4 2 5-2 5-4 6-3 4-2 3-1 3 1 3 2 3 3 3 3 5 5 5 5 5 2 5-3 5-5 5-4 6 0 6 2 6 1 5 3 6 2 6 3 4 1 4 2 5 1 5 0 7-1 5 0 3 1 3 2 4 2 6-1 6-2 7-1 7 0 7 0 5-1 2-2 1-4 3-3 8 0 10 0 9 1 6 2 4 3 4 2 4 2 4 1 4 2 4 3 3 3 6 2 7 0 9 0 7 1 4 3 2 6 3 4 6 1 6 0 6 1 7 0 6 0 6 2 4 2 3 3 4 3 5 2 5 2 5 1 4-2 3-2 3-3 4-3 5-2 5-4 6-5 6-5 6-5 3-2 2-1 3-2 5-2 5-3 6-1 6 0 7 0 7 1 7 1 7 2 6 0 3 0 3-1 3 0 5 3 5 4 6 3 6 2 6 2 7 1 6 1 6 0 5-1 4-1 3-1 4-2 5-2 7-2 6 0 5 1 6 3 5 3 4 2 5 2 5 2 6 2 6 3 5 0 4-3 3-4 3-6 6-5 6-6 5-6 1-4-1-4 1-4 2-5 5-6 4-4 5-1 5 1 5 1 8-2 8-3 6-2 3-2 2-1 2-2 2-2 2-2 5-2 8-2 10-2 8-3 6-2 3-2 2-2M2552 1548l3 3 4 4 5 4 4 2 4 2 5 3 6 3 7 4 5 4 4 5 2 5 3 4 4 1 6 1 5 1 7 3 6 3 6 4 5 2 4 2 3 2 3 2 2 3 4 1 7 1 10 0 8 2 3 4 1 7 2 5 3 4 3 3 4 1 6 0 6-2 5-3 4-2 2-2 4-3 4-4 6-4 5-5 5-7 4-6 4-5 5-1 5 0 3 1M2744 1660l4 2 6 2 5 3 3 5 2 5 4 3 5 2 7 0 6 2 4 4 3 5 3 4 4 3 4 2 4 2 5 3 5 3 5 3 6 3 7 2 5 0 4-3 2-5 3-4 6-3 6-3 6-1 6 0 5 1 5 2 6 1 5 2 6 2 5 3 5 2 4 3 3 2 3 2 3 2 5 3 5 3 5 1 3-1 3-4 4-3 6-2 7-1 6-2 5-2 4-3 4-4 4-5 4-6 2-3-1 2-2 6-1 6 1 6 2 6 1 7-1 8-2 8-2 6 0 3 0 1 0 2-3 5-3 6-1 5 3 3 6 1 4 2 3 3 2 5 4 3 7 2 8 1 7 2 5 4 5 4 4 3 4 2 4 0 5 0 7 0 9 1 7 0 3 2 2 3 3 1 6-1 7-2 6-1 5 1 5 3 4 1 3-4 2-5 3-6 3-4 5-4 4-4 5-3 6-2 4-3 1-4-1-6 2-5 4-6 7-7 5-2 3 2 1 7 1 6 0 4 0 5 1 5 1 6 1 6 1 6 2 4 3 2 2 4 0 4-1 6-1 5 2 8 3 7 2 6M888 1596l3 3 3 5 2 5 1 6-1 6 0 5 1 4 1 3 2 1 3-2 3-5 3-4 3-6 3-7 3-5 2-5 2-5 3-4 2-4 2-3 4-4 5-4 6-3 6-3 5 0 5 1 5 1 5 2 6 3 6 1 5-1 6-2 5 0 4 5 3 7 3 5 3 2 3 0 2 3 2 6 2 9 2 8 2 4 1 3 2 4 0 5 0 6 1 5 2 4 4 3 3 4 0 6-2 6-1 6-2 5-1 5 0 6 2 7 3 8 3 7 2 4 1 4 0 4-3 5-6 7-4 5 0 5 0 5 1 4-1 5-1 4 1 5 5 7 6 6 6 6 3 5 1 3 2 4 0 4 1 4 0 5 3 5 3 5 3 5 1 4 2 4 2 3 4 5 4 6 4 5 4 3 4 3 4 2 5 2 5 2 6 0 5 0 5-2 5-2 4-3 2-3 3 1 3 6 2 9 3 8 1 4 0 2 2 2 5 4 6 4 5 5 0 6-2 6-2 6-1 6-1 5 0 5 0 5 1 6-1 4-5 1-7-2-6 0-5 3-4 3-3 5-2 6 0 7 0 5 4 3 5 2 5 2 4 2 3 4 3 3 0 4 0 5 1 5 3 5 4 6 2 6-1 8-3 7-1 6 5 1 7-2 6-1 4 1 2 3 2 3 1 4 0 5 2 3 6 0 7-2 6-2 3-4 1-4 0-4-1-4-2-5-2-5-3-7-3-9-3-7-1-4 0-2 0-4-1-4-1-5-1-6-1-6-1-6 1-6 4-5 5-4 6-4 4-1 4-1 3-1 3-2 3-2 3-4 7-4 7-5 6-4 5-5 4-3 4-2 5 1 5 3 6 3 5 1 6 1 5 2 4 4 3 4 4 5 5 2 5 2 4 2 5 2 4 2 3 4 2 5 1 6 1 6 3 3 3 3 4 3 4 4 5 4 4 5 1 4 0 4 1 6 3 6 4 7 4 6 6 3 7 3 5 1 3-2 2-3 3-2 5 3 7 5 6 2 7-4 7-7 5-6 1-2 0-1 1-2 5-3 7-4 6-4 6-3 5-2 4-1 5 2 5 3 4 2 4-3 4-5 3-5 0-4-2-4 0-2 6 0 9 1 7 1 3 2 1 2 2 1 4 1 6 1 4 0 4-2 2-3 2-5 2-6 2-8 3-7 4-4 4-4 3-3 1-4 0-4 2-2 6-1 7 0 7 0 6-2 6-2 4 1 4 7 3 9 2 8 1 3 1 2-1 3-1 6-3 7-2 7 0 3-1 2 1 2 2 5 3 5 5 5 6 2 9 2 7 0 7 0 6-1 5-1 5-1 4-2 3-2 2-2 1-3 3-3 4-3 5-4 5-4 2-5 2-5 2-6 2-4 3-5 2-5 2-4 0-3 2-5 2-8 3-9 2-7 1-4 0-2-2-3-3-4-4-5-3-5-2-4-2-4-2-5-4-4-5-5-2-5 0-5 2-6 2-6 2-7 3-8 2-6 1-6 1-4 1-2 1 0 2 3 2 2 4 2 5 1 5 1 5 2 6 1 4-1 1-5 1-8 1-6 4-2 4 0 5-1 5-6 5-6 5-6 3-2 3 0 3-2 4-5 4-5 2-5 0-4-3-2-3-4-3-4-5-5-3-3-3-2-2-1-1-1 1-1 3-2 3-4 4-7 3-9 3-8 2-3 2-1-2-1-3-1-5 1-7 0-8 1-6 1-5 2-3 2-2 1M1684 1596l2-3 4-4 4-4 4-4 5-4 5-4 5-4 5-4 5-3 6-3 6-2 5 0 4 4 4 7 4 5 7 0 7-2 7-2 5-2 5-2 4-1 5 0 5 0 5-1 6-1 5-3 5-1 7 0 6 1 5 1M1112 1672l2 3 2 4 2 5 2 5 2 5 3 4 4 1 5-1 6-1 5-3 5-3 5-2 4 2 5 3 4 4 5 5 4 5 4 3 3-1 3-5 3-5 2-4 3-5 1-5 0-5-1-4 0-6 3-6 5-7 4-5 4-2 4 0 5 1 7 1 7 3 6 4 2 5 0 6 0 6 1 5 1 5 1 5 0 5 1 5 2 4 2 3 4 4 2 4-1 5-2 7-1 6-2 5-1 5 0 5-1 4 0 2 0 5 2 7 2 8 0 7 0 3-2 2-3 2-5 2-7 3-5 3-4 4-3 5-3 4-4 2-4 1-5 1-5 4-6 4-5 3-4 0-2-2-3-3-5-2-5-3-4-5-2-6-1-9-2-6-5-5-5-3-4-3-1-4 0-4-1-4-3-6-4-7-3-6-1-7 1-6 0-5-2-4-2-2-3-4-1-6-2-6-1-6-2-6-3-4-2-5-3-6-2-5-2-4M904 1416l4-3 6-4 5-4 4-4 5-4 4-4 3-4 4-3 4-3 4-1 5 0 4-1 4-4 4-4 4-3 6 0 5 1 6 3 5 1 5 3 5 3 5 5 4 6 5 4 6 1 7-2 5-1 4-2 2-1 4 0 5 4 7 5 6 5 5 3 4 2 4 2 4 3 4 3 3 4 0 4-1 5-1 4 0 3 0 3-2 1-4-2-6-3-6-3-4-1-5 0-4-1-5 0-4-1-5-1-6-3-7-3-6-2-6-1-6 0-4-1-1-2 1-3-1-2-7-3-10-2-9-1-5-1-5 0-4-1-5-2-5-1-5 0-6 3-7 6-5 4-4 4-2 3-2 2M1104 1400l24-12M1236 1392l3 4 3 7 3 6 0 5-1 5 2 4 5 2 7 0 7 1 6 1 6 0 5 0 6-4 5-4 5-3 6 1 7 2 5 4 2 6 1 6 1 5M736 1245l3-1 3 0 3-1 2-2 2-2 3-2 2 0 3 0 3-1 3 0 3-1 3 0 3 2 2 2 2 1 1-2 0-4 1-2 2 0 3 1 3 2 3 1 3 0 3 1M747 1241l1 2 0 4 1 3-2 2-2 2-2 2-2 3-1 3-1 2-1 3-1 3-1 3-3 1-3 1-2 2-1 3-1 3 1 2 2 1 4 0 3 0 3 1 3 1 2 2M739 1235l3 1 3 1 3 0 1-3 0-3 0-3 0-3 0-3 1-3 2-1 3-1 3-2 2-1 3-2 1-2 1-3 0-3 0-3 1-3 1-3 2-2 2-1 3-1 3-1 3-1 2-2 2-2 3-1 3 0 3 1 2 2 1 3 1 3M748 1256l2 1 3 1 3 2 0 3-1 3 0 3 2 1 3 1 3 0 3-1 3-1 2-2 1-3 1-3 0-2-2-1-4 1-3 1-3 0-3 0-3 0-3-2-2-2-2-1M748 1286l2 2 2 2 2 3-1 3-1 3 0 2 2 1 3 1 3 1 2 3 1 2 1 3 0 3-1 4 0 2 2 0 3-2 3 0 3 0 3 1 3 0 3-1 3 0 3 0 2 1 2 3 2 2 3 1 4 0 2 1M759 1287l1 2 2 3 1 3 2 2 2 3 2 2 0 3 0 3 0 3 2 2 3 2 1 3-1 2-1 3-3 2-2 2-3 0-3 2-2 1-3 2-2 1-3 1-3-1-3-1-1-2 0-4 1-3M780 1280l-1 2-1 4-1 2 2 3 3 2 2 2-1 2-3 3-1 2 1 2 3 2 2 2 2 3 0 3 0 3-3 1-3 0-2 1 0 3 2 3 2 2 2 3 2 2 2 1 3-1 2-3 2-2 3-2 3-1 2-1 1 3 1 3 1 3M787 1289l-2-3-2-3 0-2 1-2 4-1 3 0 3 0 3 1 3 0 2-1 2-3 2-2 3-1 3-1 3-1M773 1314l1-2 2-3 1-3 2-2 1-3 1-3 2-3 0-3 0-2-2-2-3-1-3-1-3 1-3 1-3 0-1-2-1-3-1-3-2-3-1-3-2-2-2 2-3 2-2 2-2-2-3-3-1-2M782 1345l-2-1-3-2-3 0-1 3-1 3-1 3-3 0-4-1-1-1 1 0 4 0 3-1 2-2 2-3 1-3 0-2-1-3 0-3 1-3 2-3 1-2M774 1334l2-2 1-3 2-3 1-3 2-2 2-2 2-1 3 1 3 0 3-1 3-2 2-1 3-1 4 0 2 0M767 1333l-2 1-3 1-4 1-2-1-3-1-3-2-2-2-2-2-1-3 2-2 2-2 3-2 3 0 3 1 3 1 1 3 1 3 0 2M790 1351l-1-2-3-2-3-2-3 0-3 0-3 0-2 0-3 0-3 0-3 0-3-1-3-1-3 0-4 1-2 1 1 1 3 3 2 2 2 2 2 3 2 2 2 2 2 3 1 2-1 3-3 2-2 2-3 1-3 1-2 1M790 1361l-2 2-2 3-2 1-2-2-1-4 0-2 2 1 3 1 3 1 3 0 3-2 2-2M804 1382l-1-2-1-3 0-3 0-4 0-3-1-2-2 0-3 0-4 1-3 1-2 1-3 1-1 2-1 3-1 3-2 3-2 2-1 3 0 2 0 4 0 2-2 3-2 2-2 2-3 0-4 0-2 0M808 1391l-1-2-1-3-2-3-2-2-1-3-2-2-3-1-3-1-2-1-3-2-1-2-2-2-3-2-2-3-1-2-1-3 0-3 0-3-3 0-3 1-3-1-2-2-2-3-1-2M803 1392l1 2 3 2 2 2 3 1 3 0 3 0 2-2 2-3 0-3-1-3-2-3-1-2 2-2 3-2 3-1 2-1 3-2 2-2 0-2-1-3-1-3 0-3-1-4-1-2-3 1-3 2-2 1 0-3 0-3 0-3-3-1-3 1-3 1M819 1414l2-1 2-3 3-1 3 1 2 1 3 2 2 3 1 2 1 3 2 3 1 3 0 2-2 3-2 2-2 2-3 2-2 1-3 2-2 1-3 0-3 1-3 1-3 1-2 1M825 1411l1-2 2-3 2-2 3-2 2-2 3 0 1 2 1 3 0 3-2 2-3 2-2 2-1 3-1 3 0 3M830 1426l-1 3-2 3 0 2 2-1 2-2 3-2 3-1 3-1 2-2 1-2 0-4-1-3-1-2-3-3-2-1-2 1-3 3-1 2 1 3 3 2 3 1 3-1 2-2 3 0 3 1 3 1 2 2-1 2-3 2-3 2-2 3-2 2-2 2M838 1438l-2 0-3 1-3 1-3 2-2 2-2 2-3 1-3 1-2 1-3-1-3-1-3 0-3 1-2 2-2 2M819 1449l2-2 2-3 2-2 3 0 4 1 2 2-1 2-2 2-2 3-1 3 0 3 0 3-2 2-3 2-2 1M846 1468l3 0 3 1 2 1-1 2-3 2-3 2-2-1-3-1-3-1-3 1-2 2-3 1-3 0-3-1-3-1M854 1475l-3-1-3-2-3 0-1 2-2 3-1 2-3 2-3 1-2 1-3 1-3 1-2 2 0 2 1 4 0 2-2 2-3 1-3 1-3 0-3 0-3 0-1 3 0 3-1 3-2 2-2 1-3 2-1 3-1 3-1 2M829 1476l-2-2-2-2-2-2-2-2-3-2-1-3-1-2-1-3 0-3-2-3-2-3 0-2 1-2 3-2 2-2 3-2 2-2 3-1 2-1 3-1 3 0 3 1 3 1 3 1M841 1486l-2-1-3 0-3-1-3 0-3 1-3 0-3-1-3-1-2-1-3 1-3 1-3 0-3 0-3 0-3 0M850 1506l-2-3-2-2-2-2-2 2-2 2-2 3-1 3-1 3-1 2 0 3 0 3 0 3-1 3 0 3 0 3 2 1 3 2 3 1 2 3 2 2 1 2 1-2 1-4 0-3-2-1-4-1-3-1-2-2-3-2-1-2M858 1515l-2 2-3 2-3 2-2 0-3 0-3 1-3 1-4 1-2-1 0-2 1-3 0-3-2-3-2-2-2-2-2-3-2-3-1-2 1 2 2 4 1 2M858 1516l-2-1-4 0-3-1-2-1-3-2-3 0-3 1-2 1-3 2-3 1-4 1-1 0 1-1 3-2 3-1 3 2 2 3 1 2-1-2-2-3-2-2-2-3-2-2-2-2-3 0-3 1-3 0M875 1533l2-2 3-2 3-1 2 0 3 2 3 1 2 2 3 2 2 1 3 2 2 2 2 1M877 1557l2-2 3-1 3-2 2-1 3-1 3-1 3-1 3-1 2-2 1-2 1-3 0-3 0-3-1-3-2-2-3-3-3-1-1-1 1 1 4 2 2 2 0 3 0 3-1 3-2 2-2 2-2 2-2 3-2 3-1 2M888 1559l-1-1-3-2-3-2-3-1-2-1-3-1-2-2-3-3 0-2 2-2 3-2 3 0 1 3 0 3-1 3-3 0-3 0-3 0-2 2 0 4-1 2M863 1571l2 1 3 1 3 2 2 3 2 2 2 1 2-1 2-3 2-3 2-1 3-1 3-1 2-2 1-3 2-2 3-2 2-1 3-1 3 0 3 0 3 0 3-1 3 0 3 0 3 0 2 1 3 1 3 0 3 0 3 2 2 2 1 3 1 2M893 1571l-3 0-3 0-3 1-3 1-3 1-3 0-2-2-2-2-1-3-1-3-1-3-1-3-1-2-3-2-2-1-3 0-3 0-3 1-3 0-4 0-2 0M784 1519l-2-2-2-3-1-3 3-1 3-2 2-1-2-1-3 0-3-1-3-2-2-2-2-2-3-1-3 0-3-1-2-1-2-2-3-2-3 0-3 0-2-1-3-1-3-2-2-1M707 1565l-2 1-3 1-3 1-2 2-1 3-2 2-2 2-3 1-3 2-2 1-2 2-2 2-1 3 0 3 0 3 0 3 0 3 0 3 1 3 0 3 1 3M743 1506l3-1 3 0 3 0 2 2 1 3 0 4 0 2-1 3-1 3 0 3-1 4 0 2M700 1508l-2-2-2-2-2-2-3 1-2 3-2 2-3 2-2 2-2 2 1 2 2 3 2 2M784 1472l0 3-1 4 1 2 2 0 4-1 3 0 3 1 3 2 1 2-2 1-4 1-2 1 0 3 2 3 0 3-2 0-4 0-3 0-2 1-3 2-2 2-1 3-1 3-1 3M766 1494l1-3 1-3 0-3-1-3-1-2-2-3-2-2-2-3-2-1-3 1-2 3-2 2-1 3-1 3-2 2-3 1-3 0-3 0M722 1561l2 1 4 1 3 0 3 0 3-1 2-1 2-2 2-3 1-3 3-1 2-2 3-1 2-2 2-3 1-2 1-3 1-3 1-2 3-2 3 0 3 0 1 3 0 3-1 3-1 3 0 4-1 2M655 1567l-2 1-2 3-2 3 1 3 2 3 0 2-2-1-3-1-2-2-2-2-1-3-1-3-1-3-1-3 0-3M731 1399l2 2 3 2 2 2 1 3 1 3 0 3-1 2-2 3-1 2 2 2 3 1 2 2 1 3 1 3-1 2-2 2-4 1-2 0M654 1381l1-2 1-3 1-3 1-3 1-3 2-2 3 0 3 0 3 0 1-3 1-3 1-3 2-1 4-1 2 0M810 1207l0-3 0-3-1-3-2-1-4 0-2-2-1-2 0-3-1-3-2-2-3-1-3-2-1-2-2-3-2-2-2-2-3-1-3 0-3 0-3 0-3-1-1-2-1-3-1-3 0-3 0-3-1-3-1-3-2-2-1-2M768 1239l-2 2-2 2-3 1-3 2-3 0-2 2-1 3-1 3 1 3 1 2 3 2 2 1 3 0 3 0 3-1 3 0 3 1 3 1 3 1 2 2 2 1M810 1225l-1-2-1-3-2-2-1-3-2-2-3-2-2-2-2-2-2-2-2-2-1-3-1-3-1-2-1-3-1-3 1-3 1-2 1-3-2-2-3-2-2-2M795 1223l0-2-1-4-1-2-3 0-3 1-3 0-3-1-3-1-2-2 0-3 0-3 2-3 2-1 3-1 3-1 3 2 2 2 3 1 2-2 1-3 1-3 0-3-1-3-1-2-2-3-2-2-2-2-3 0-3 0-3 1M1767 1556l1 2 2 2 2 2 3 1 3 0 3-1 2-2 2-3 2-2 2-2 3-1 2-1 3-1 3 0 3 0 3 1 3 2 2 1 0 3 0 4 0 2 2 2 4 0 3 0 2-1 3-1 3-1 3-1 3 0 3-1M1713 1549l2-1 3-2 3-1 2 1 3 1 2 2 3 2 2 2 3 1 2 1 4 1 2 2 0 2 0 3 1 3 1 3 1 3 2 2 1 3 0 3 0 3-2 1-3 1-3 1-3 2-2 2-2 2-1 3 0 4-1 2M1750 1539l-2 1-2 3-1 3 1 2 3 2 3 1 3-1 3-1 3 0 3-1 3 1 2-1 2-2 2-3 1-3M1762 1542l3 1 3 1 3 0 2-2 2-2 2-3 3-2 2-1 2-1M1745 1537l0 2-1 3 0 3 0 3 1 3 1 3 2 1 3 1 3 2 1 2 1 3 1 3 3 0 3 0 3 0M1703 1568l0-3-1-3 0-3 3-1 3 1 3-1 2-2 2-3 1-2 3 0 4 1 2 0 0-3-1-3 0-3 0-3 1-4 0-2-3-1-4 1-2 0M1709 1552l3 0 3 1 3 0 3-2 2-2 3-1 2 1 3 1 3 1 3 1 2 2 3 1 3 0 4 0 2 0M1747 1599l1-2 1-4 1-3 3-2 2-2 1-2-2-3-2-2-2-2 2-2 3-3 2 0 1 2 1 3 1 3 2 1 4 1 2 1M1692 1554l-2-1-3-2-2-2-2-2-2-3-1-2 1-3 3-2 3-1 2 1 3 2 2 3 0 3 0 3 0 2 3 2 3 0 3 0 1-3-1-3 1-3 3-1 3-1 3-1 1-2 1-4 0-2M1786 1586l2-1 4-2 2-1 1 3 1 3 1 3 3 1 3 0 3 0 3 0 3 0 3 0 3 0 3-1 3 0 1 3 1 3 2 2 2 0 3-2 3-1 3-1 3-2 2 0M1720 1566l-1-2-2-2-2-3-3-1-3-1-2-2-2-2-1-3-2-2-2-3-1-2-3-2-2-1-3 0-3-1-3 0-3-1-3-1-3-1-3-2-1-1 1-1 4-1 3-1 2-2 2-2 2-2 3-2 3-2 2-1M1729 1561l-3 0-3-1-3 0-4 0-3 0-2 0 1-2 3-2 3-2 3-1 3-1 2 0M1799 1606l-3 0-3 0-3 0-2-2-1-3-2-3-1-3 0-3-2-2-3 0-3 0-3 1M1723 1605l-2-2-3-2-2-1-3 0-4 0-2 1-1 3-1 3-1 3-2 1-3 1-3 1 0 3 0 4 0 2M1844 1539l-2-1-3-2-3 0-3 1-2 1-3 2-3 1-4 0-1 1 0 2 2 3 2 3 2 2 3 2 2 1 3 1 3 1 2 1 2 3 1 3 2 1 3 0 3-1 3-1 0 3 1 3 0 3M1875 1590l1-1 2-3 2-3 1-2 1-3 1-3-1-3-1-2-2-3-1-2-1-3-2-3-2-1-3-1-3-1-3-1-4 0-2 0M1898 1564l2-2 3-2 2-1 3 0 3 0 3 2 1 2 1 3 2 3 2 2 3 2 1 2M1927 1552l1-3 0-4 1-2 2 1 3 2 2 3 2 2 2 2 3 1 2 0 3-2 3-1 3 1 3 1 2 1M1911 1538l-2-2-2-3-2-2-2-2-3-1-3 0-3 0-3 1-3 1M1894 1544l0 2 0 3 0 4 2 2 3 2 1 3-1 2-3 2-3 1-2 0-3-2-2-2-3-2-3-1-2-1M1845 1544l-1 2-2 3-1 3-1 3-2 2-2 2-3 1-3-1-2-1-1-3 1-3 0-3-3-2-3-1-2-1 0-3 2-3 1-3 2-2 1-3 2-2 0-3 0-3-1-3 0-3-2-3-1-2M1841 1540l1 2 3 2 2 2 2 2 3 2 2 1 3 2 3 1 2 1M1912 1551l-2 1-3 2-2 2-2 2-1 3-1 3 1 2 1 3 1 3-1 3-1 2-2 3-2 2-3 2-1 2-2 3 0 3 0 3 2 2 2 2 3 2 3 1 3 0 2 1 1 3 1 3 1 3 0 3 1 3 0 2M1862 1571l-2-2-3-1-3-1-1 2 0 4-1 3-2 0-3-2-3 0-3 1-2 1-3 2-1 3-2 3 0 2M1358 1440l-1 3-1 3-1 3-1 3-2 3-1 1-3 0-3-1-3 0-2 2-2 3-3 1-2-1-2-2-3-2-2 1-3 2-2 2-2 2 0 3-1 3-2 2-2 2-2 2-3 2-2 3-2 1M1330 1292l-1 3-2 3 0 3 2 2 2 2 3 1 3 0 3-1 2-2 0-3-1-3-1-3 0-3 0-3 0-2-1-4-2-2-2-2-1 2-2 4-1 2-1-2 0-4 0-3M1322 1467l2 3 2 2 2 2 3-1 2-2 2-2 0-3 0-3 0-3 2-2 3-1 2-1 3-2 2-2 2-2 0-3 0-3-1-3 0-3-1-3 1-3 2-1 3-1 3-2 0-2-1-3-2-3-1-3-3-3-1-1M1331 1304l0-2 0-3 0-4-1-2 0-3 0-3 1-3 2-3 1-2-2 0-3 0-4 0-3 0-3-1-2-1M1336 1581l0-3 0-3 1-3 1-2 3-2 2-2 3-2 3-1 2-1M1312 1456l1 3 1 3 1 3 3 1 4 1 2 0-2-1-3-2-2-2M1353 1593l-2 1-3 2-3 1-3 0-3-1-3 0-3-2-2-2-3-1-2-1-3 0-3 0-3 0-3 0-3-1-3-1-3-1-2-1-3 0-3 1-3 2-1 2 0 3 0 3-1 4-1 3-1 2M1344 1373l-1 2-2 3-2 2 0-2 0-4 1-3 1-3 1-3 1-2M1097 1329l-1-3-2-3 0-2 2-2 3 0 3-1 3 0 3 0 3 0 3 1 2 2 3 1 3 2 2 1 3 1 2-1 2-3 2-2 3 1 3 1 2 2M1056 1344l-2 2-2 2-2 3 0 2 2 3 1 3 1 3 0 3 2 3 2 1 3 0 3 2 1 2 0 4 0 2M1100 1303l1 2 2 2 2 3 1 2 2 3 1 3 1 3 0 2 1 3 2 3 1 3 1 2-2 3-3 2-2 2 0 3-1 3 0 2M1120 1576l2-2 2-3 2-2 1 2 0 4 1 3 2 2 3 1 2 2 2 2 2 2 2 3 1 3 1 3 1 2M1137 1502l2-1 3-1 3-1 3-1 3-1 2-2 1-3-1-3 0-2M1098 1558l0-2 1-4 1-2 3-1 3 1 3 1 2 2 3 2 2 2 2 3 1 2 1 3-2 2-3 1-2 2-1 4 0 3 1 2 3 0 3-3 2-1M1117 1565l2 2 3 3 0 2-2 0-4-1-2-1 0-3 2-3 1-3M1174 2048l1 2 2 3 2 2 3 1 3 1 2 1 3 2 3 2 2 1M1169 2050l2-2 3-2 1-2 0-3-2-3 0-3 2-2 3-1 2-1 1-3 0-4 0-2M1163 2053l0 2-1 3-1 4-1 2-1 3 0 3 0 3 1 4 2 1 1-1 3-3 1-3-1-2-2-3-1-3-2-2-1-3 0-3 0-3 2-3 0-2-2-2-4-2-2 0-1 3 1 3 1 3 2 2 3 2 3 1"/>
<path transform="scale(0.25)" stroke="#f00" stroke-width="4.4"  d="M452 1828l4 0 7-1 6-1 8-2 7-3 7-2 4-2 4-3 5-2 8-2 8-3 8-3 8-4 6-4 7-3 5-1 5 1 6-1 8-2 10-4 8-4 7-2 5-1 5-2 5-3 6-4 5-3 6-2 6-2 7-1 5-1 5 1 5 0 7-3 7-2 7-2 7 2 7 3 6 4 4 5 3 5 5 4 6 5 7 5 7 4 5 3 4 3 5 2 7 3 8 2 7 2 6 3 5 3 5 3 5 3 5 2 6 3 6 3 7 4 6 5 5 5 4 5 4 5 5 5 6 3 5 4 4 4 4 4 4 4 4 5 5 4 5 5 7 5 7 5 6 5 2 5 2 4 3 5 6 5 7 4 7 5 5 5 4 5 3 5 4 5 3 4 4 6 5 5 5 5 6 5 5 5 6 4 6 5 7 4 6 4 5 4 5 5 3 6 4 6 5 5 5 5 4 5 3 4 1 4 3 4 6 5 8 5 7 5 3 4 3 4 3 5 6 6 6 6 6 5 5 3 5 3 5 2 6 3 5 2 6 3 6 5 5 6 7 5 6 3 7 1 6 3 6 4 5 4 5 4 5 3 6 2 6 4 5 4 5 5 5 5 6 4 5 4 5 4 5 1 4 1 5-1 7-1 7-2 7-3 6-3 5-4 6-4 7-3 7-3 6-3 6-3 5-3 5-4 5-2 6-2 6-3 6-4 5-5 7-4 7 1 8 2 7 2 5 1 5 0 5 2 8 2 8 2 7 2 5 4 3 5 3 4 5 4 5 3 5 5 5 6 4 8 5 5 5 2 5 0 6 0 6-2 5-2 7-2 7-1 8-1 8-1 6-1 6 0 6-1 6-1 6-1 6-2 7-3 6-4 6-3 6-3 7-2 6-2 7 0 8 1 8 0 7 0 7-1 7 0 7 1 6 2 6 1 5-3 5-4 4-5 3-3 3-3 3-4 6-6 6-6 7-6 4-5 5-5 4-4 4-5 5-4 4-4 6-5 6-6 6-5 5-6 5-5 5-5 4-5 5-3 5-4 5-4 6-3 5-5 4-5 3-5 4-6 6-6 7-6 6-5 3-5 2-4 1-5 3-8 2-8 2-8 3-5 3-5 3-5 2-5 1-6 1-5 2-6 3-6 4-4 5 0 7 2 7 2 7 1 8 0 7 1 6 1 5 2 6 1 6 2 7 1 7 1 9 2 8 1 8 0 5-1 5-3 5-1 6 0 6 0 6 1 7 2 7 1 7 3 6 2 5 3 6 2 6 2 6 1 7 1 6 1 7 0 7 0 8 0 8-1 6 0M1268 2160l1 6 1 8 2 7 1 5 1 4 2 6 2 6 1 8 4 7 5 5 6 6 6 4 5 5 5 5 5 2 6-1 7-4 6-2 6 0 6 2 7 1 7 0 6 0 7 1 7 2 7 4 7 1 6-1 5-2 6-2 7 0 8 1 7 1 8 1 7 1 6 0 6 0 5-1 6-2 7-3 6-3 8-3 7-1 8 0 8-1 7-1 6-2 6-1 7 1 7 1 7 1 6 0 7-1 7 0 5 2 6 3 6 3 8 1 9 1 9 0 6 1 6 1 6 0 7 0 8-1 7 0 5-1 5-1 5-1 8-1 8-1 8-1 6-2 6-2 6-2 4-1 5-1 6-1 7-2 8-2 8-3 6-3 6-3 6-3 6-3 6-2 6-2 7 0 6 0 7 0 6-3 7-4 7-4 7-1 6 0 7-1 6 0 6 0 6 0 7-2 7-2 7-1 8 2 8 4 8 4 6 2 5 2 6 1 6 1 6 0 6 1 8 1 8 1 8 1 7-2 6-2 6-1 6 1 7 2 6 3 6 1 6 2 5 2 5 5 5 6 6 5 6 4 6 4 7 4 5 5 5 5 5 4 5 4 5 3 4 4 6 5 5 6 3 4M2268 1928l5 0 7 1 7 1 6 0 7 1 6 0 7 0 8 0 7 0 6 1 6 1 6 1 8 2 8 1 8 1 7 0 6-1 7-1 6 1 6 1 6 0 8-1 7-1 8-1 6 0 6 1 7 1 7-1 7-1 8 0 7 3 7 3 6 3 5 3 5 1 4 2 6 2 6 3 6 3 6 4 7 5 7 4 7 3 7 2 7 2 5 2 4 3 5 3 6 3 7 3 6 4 7 3 6 3 6 4 6 2 5 3 6 3 7 4 8 5 7 3 5 2 4 1 5 2 7 3 7 3 7 2 5 2 5 1 6 1 8 2 10 2 8 2 5 2 4 2 5 2 8 1 9 1 7 2 6 1 4 3 4 3 4 7 4 7 3 7 4 4 3 3 4 3 6 4 6 4 7 4 7 1 6 1 7 2 6 1 6 2 6 1 7-1 6-2 6-1 7 0 7 0 7 1 8 1 9 1 8 0 7 0 7-1 6 0 5 1 4 3 5 1 6 1 7-1 6 0 7 1 6 2 7 1 7 1 7 1 6 1 7 1 6 2 7 2 8 1 10 1 7 2 6 1 5 2 5 2 7 2 9 2 7 2 7 3 7 3 7 2 6-1 6-3 5-2 6-1 6 0 7-1 7-1 8-1 6-1M2156 1788l6-2 8-3 8-2 8 2 7 3 8 3 7 1 6 0 6 2 5 5 3 6 3 6 2 8 2 7-2 7-6 5-9 5-6 3M2140 1844l1-6 2-9 2-8 1-7 1-6 1-4M2000 1172l5 2 8 2 7 2 6 3 4 3 6 3 7 2 8 2 8 3 6 2 5 3 5 3 6 4 7 4 6 4 5 4 6 5 5 3 6 3 5 3 6 2 6 4 6 4 6 3 7 2 7 0 7 1 6 4 5 5 4 6 4 6 4 7 3 6 1 4 2 4 0 5-2 7-3 8-2 6M2244 1284l5-4 6-6 6-6 5-5 4-5 5-4 5-3 6-3 7-4 6-7 7-9 6-6 5-5 6-2 5-3 6-3 6-4 6-4 7-5 6-5 5-3M2584 1252l3 5 4 7 4 8 4 7 2 7 4 7 5 5 6 5 5 5 6 6 5 5 5 3 5 0 5-3 6-4 6-5 8-6 5-4M2688 1336l5 2 8 2 7 3 8 3 7 4 5 3 1 3-1 3-2 4-4 7-4 7-4 6-4 5-3 4 0 2 4 0 7-2 8-2 5-2 6-1 6-2 9-2 9-2 7-1M786 1059l-2 0-3 0-3 0-2-2-1-3-2-1-3 0-2 0-3 0-3 1-3 0-2 0M1085 1022l-1-2-1-3-1-3-2-2-2-2-1-2 0-2 2-2 3-2 2-1 3 0 3 0 2 1 2 2 1 2 0 3-1 3-2 2-2 1-3 1-2 1 0 3 1 3 0 2M1046 1021l1-3 1-2 2-2 2 0 3 1 2 2 0 2 0 3-1 3-2 1-3 2-2 1-2 2-2 2-3 1-2-1-3-1-2 0M758 1030l-1-3-1-3 1-2 2-2 2-1 3 0 3 0 3 1 2 1M832 1044l-2 1-3 1-3 1-2 1-3 1-2 1-1 3-1 3 0 2 1 3 3 2 1 1M1066 911l2 0 3 1 2 1 1 2 0 3 0 3 1 3 1 2 0 3-1 3-1 2-1 3 2 1 3 1 2 2 3 2 2 2 1 1M688 995l-2-1-3-1-3 0-2 2-1 2-2 2-3 1-3 0-2 0-3-1-2-1-3-1-2-2-2-3-1-1-2 2 0 3-1 3M1138 922l-2-1-3-2-2-2-2-2-1-2-1-2-2-3-2-2-2-1-3 0-2 1-3 2-1 2 0 3-1 2-1 3-2 3-1 2M903 1005l-2-1-3-2-2-1-3 1-2 1-2 2-2 2-2 2-2 2-2 1-3 1-2 0-3 0-2-1-3-1-3 0-2 0-3-1-2-1-3-1-2-1-3-2-2-1-2-2M825 953l2 0 3 0 3-1 3 0 3 0 1-1 1-2-1-3-2-2-3-1-3 1-2 0-1-3-1-3 0-2-1 2 0 3 0 3 1 3 1 2 0 3-2 2-2 3-1 1M905 1038l1 2 0 3 2 2 2 0 3-1 3 0 3 0 3 0 2 0 1 3-1 3 0 2 1 3 0 3 0 2-2 2-2 1-2 2-2 2-1 3 0 2 1 3 2 2 2 1M827 1021l1-2 1-3 0-3-1-2-2-2-3-1-2 1-3 1-2 2-2 2-2 2-2 1M1054 963l2 0 3 1 3 1 2 0 3 1 2 1 3 1 3 1 2 0 3 1 3 0 2 0 2 2 2 1 2 2 2 2 2 2 2 2 1 3 2 2 1 2M688 968l2 1 3 1 2 1 2 1 2 2 2 2 2 2 3 1 2 1 1 3 0 3 0 2M669 936l2-1 4-1 1-2-1-2-2-2-2-2 2-1 4-1 2-1 0-2-2-3-1-2-2-2-2-2-2-2 0-3-1-3 1-2 0-3 1-3 1-2 2-2 2-2 2-1M940 928l2-1 2-2 2-2 0-3-1-2 0-3 0-3 0-3 0-2 0-3-1-2-1-3-2-2-3-2-2-1M1025 1045l-2 0-3-1-2-1-3-1-2-2-1-2 1-2 3-1 3-1 2 1 3 2 2 2M787 1029l3 1 3 0 2-1 1-2 0-3 0-3 1-3 0-2 1-3 0-3 0-2-1-3 0-3-1-2-1-3-2-2-2-2-1-2 2-2 3-1 2-1M997 1068l1 2 2 2 2 2 1 2 1 3 2 2 2 2 2 2 2 2M1027 1041l2 0 3 0 3 0 2-1 3-2 2-1 1-3 1-2 1-3 1-2 2-2 1-3-1-2-2-2-2-2-2-2-2-2-1-2-1-2 0-3 0-3 0-3 0-3 0-2M717 1019l2 1 2 1 3 0 3 1 3 0 2 0 1-2 1-3 1-2 2-1 3 1 3 1 2 1 3 2 2 1 2 2 1 3 2 2M973 1013l-1-2-1-3-1-2 1-3 2-2 2-2 2-2 3-2 1-2-2 2-2 2-2 2-1 3-2 2-1 2-2 2-2 2-2 1-2-1-3-2-2-1M1036 1071l3 1 3 0 2 0 1-2 1-3 1-3 2-2 2-1 3 0 2 0 3 0 3 1 2-1 3-2 2 0 3 0 2 0 3 1 2 2 2 1 2 2 3 1 3 0 2 0M725 1005l2-1 3-1 3 0 3 1 2 1 2 0 1-2 0-3-1-3-1-3 0-3-2-1-2 0-2 1-3 2-1 2-2 2-2 2-2 2-3 1-2 1M781 889l-2 1-3 2-2 0-3-1-2-2-2-1-2 1-2 3-1 2 0 3-1 3 0 2-1 3-1 3-1 2M775 914l2 2 2 2 2 2 2 2 2 1 2 2 3 1 3 1 2 0 0-2 0-3-1-3 0-2-1-3-1-2-2-2-3-1-2-1 1-3 1-2 0-3-1-3-2-2-1-2M1155 1030l-2-1-2-2-2-1-2-3-1-2-1-3 0-3 0-3 0-2M1267 981l-2 1-1 3-2 2-1 3 0 3 0 2 2 2 3 2 2 0-1-1-2-3-2-2M1167 1055l0-2-1-3-1-3-2-2-2-1-2-2-3-1-2 0-3-2-2-2-2-2-1-1-2 1-1 3-2 3-2 1-3 0-2 1M1220 1100l-2 1-3 2-2 1-1 3 0 3 1 2 2 2 3 1 2 1 3 0 3 1 2 0M1242 1093l2-2 2-2 1-3 0-3-2-3-1-1-1 1 0 3-1 4 0 2 0 3 0 3-1 2-1 3-1 2 2 2 4 1 2 0M1194 1149l1-2 1-3 1-2 2-2 2-2 2-2 3 0 2-1 3-1 1-2 1-3 2-2 2 0 3 0 3-1 2-1 2-2 3-1 2-1 3-1 2 0M1316 1125l1 2 1 3 1 2 3 1 3 0 2-1 3-1 1-3 1-2-1-2-1-3-1-2 0-3 2-2 1-3 1-3 0-3 0-2-1 1-3 2-3 1-3 0-3-1-2-1M1247 932l-1 2-1 2-1 3-1 2-2 2-2 2-3 0-3-1-2 0-3-1-3-1-2 0-2 2-2 3-1 2M1178 1142l-2 1-3 1-2 1-3 1-2 2-3 0-3 0-2 0-3 0M1367 1040l2-1 2-2 3-1 3 0 3 1 2 1 1 2 0 4-1 2-2-1-3-1-2-1M1881 906l-2 1-2 1-3 1-2 0-3-1-3 0-2 1-2 1-2 2-3 0-3-1-2 1-3 1-1 2-2 3-1 2-2 2-1 2-2 3-1 3-1 1M1928 977l0 2 0 3 0 3 0 3 1 2 0 3 2 2 1 2 1 3 1 2 1 3-1 3-1 2-1 3-2 2M1934 941l-1-2-2-3-2-1-2 0-2 2-3 2-2 2-2 1-2 2 0 3 1 3-1 2-1 0-3-2-2-2-3-1-3-2-2 0M1904 969l1 2 1 3 1 3 1 2 2 2 1 2 3 1 3 1 2 0M1964 951l1 2 0 3 0 3-2 0-3 0-3 0-3 2-2 1-2 2-2 2-2 2-1 2-1 3 1 3 1 2 1-2 1-3 1-3M1942 915l0-2-1-3 0-3 0-3 1-2 0-3 1-3 0-3 1-2 2-1 3-2 2 0 3 1 3 2 1 1M1995 1151l-2 1-3 1-3 0-2-1-2-3-1-2 1-2 1-3 1-3 0-2 0-3 0-3 0-2 0-3-1-3-2-2-3-1-2-1 0 2 0 3 0 3 0 3 1 3 0 2M1985 1124l2 1 2 2 2 3 1 2 0 3 1 2 3 2 2 1 3 1 0-2 1-3 0-3 2-2 3-2 2-1 3 0 2 0 3 1 3-1 3 0 2 0M2055 1158l-2-1-3-1-2-2-1-3 0-3-1-2-2 0-3 0-3 1-2 1-3 2-2 1-2 2-1 2-2 2-3 2-2 1-2 2 1 2 2 3 2 1M1943 1139l2 1 3 2 3 0 3-1 3-1 1-1-1 0-3 2-3 1-3 1-3 1-2-1-2-2-1-3 0-2 1-2 2-2 2-2 1-3 1-3 0-2M1923 1127l1-2 1-3 1-2 2 0 3 2 2 1 3 0 3-2 2 0 1 2 1 3 0 3 1 3 0 3 1 2 2-1 4-1 2-1-1 2-1 3-1 3 1 2 3 3 1 1M2153 1282l-2-1-2-1-2-2 0-3 0-3 1-2 0-3 1-3 0-2-2-2-3-1-2-1-3 1-2 1-2 2-1 3-2 2-1 2-3 0-3 0-2 0-3 1-3 1-2 0M2164 1232l-2-2-2-3-2-1-1 1-2 3-2 2-3-1-2-1-2-2-2-1-2-2-2-2-2-2-2-2-3-1-2 0-3 2-2 1 1 3 1 2 2 2M2166 1235l2-1 2-3 1-2 1-3 0-2 0-3 1-2 2-2 2-2 2-2 1-3 1-2 1-3 0-3 1-2M2140 1275l2 2 2 1 3 2 1 2 2 2 2 2 2 2 1 2 2 2 2 2 2 2 3 0 2-1 3-1 2-2 2-2 2-2 1-2 1-3 1-3 0-2M2195 1315l1-2 1-3 1-3-1-2 0-3 0-2 0-3 2-2 0-3 1-3-1-3-1-2-2 0-3 0-3 0-2-1-1-3-1-2-1-3 0-3 0-2-3-1-3-1-2 0M2182 1224l-1 2-3 3-2 1-2-1-2-2-2-2-3-2-2-1-2 0M2673 1390l-2-2-2-2-1-3 0-2 1-3 1-2 2-3 2-2 2-1 0 2 0 4 0 2M2705 1241l-1-1-2-3-2-2-2-2-3-2-1-1 1-2 3-2 2-2 3 0 4-1 1 0-2 1-3 0-3 0-1-2-1-4 0-2M2671 1374l-1 2-2 3-1 2-3 1-2 1-3 1-3 0-2 0-3 1-1 2-1 3-2 2-2 0-3-1-2-1M2609 1337l2 0 3-1 3-1 3 0 3 0 2 0 3 1 2 1 3 1 2 2 1 3 2 1 3 0 3 0 2-1 1-2 1-3 1-3 1-2 1-3 2-2 2-2 2-2 2-1M2727 1384l2-1 3-1 2-1 3 1 2 1 2 2 1 2 0 3 0 3-1 3-1 2-1 3 2 1 3 2 2 2-1 2-1 3 0 2 0 3 2 3 1 2M2585 1266l2 2 2 2 1 2-1 2-3 1-3 1-2-2-2-2-2-2-2 1-3 1-2 2-1 2-1 3 0 2 1 3 2 2 2 2 0 3 0 2-1 3-1 3-1 2-1 2M2652 1299l2 2 2 2 1 2-1 2-3 1-3 2-2 1-2 2-2 1-3 1-3 1-2 1 1 2 2 3 2 1 2 0 3-1 2-2 2-2 1-3 1-2M2706 1297l0-2-1-3-1-3-1-2-2-2-2-2-1-2-1-3-2-2-2-1-3-1-2-1-2-2-2-2-1-2-1-3-1-2-1-3 0-3 0-3 0-2M2215 1760l-1-2-1-2-1-3-2-2-1-3-1-2 0-3 1-2 1-3 1-2 1-3 1-2 0-3 0-3-1-2-1-3-1-2-2-2-2-1-3 0-3-1-3 0-3-1-2 0M2155 1807l1 1 3 2 2 1 2 2 2 2 1 3 0 2-1 3 0 2 1 3 1 2 1 3 1 3 2 3 0 1-2-1-2-2-2-2M2254 1808l2 1 2 2 3 1 2-1 3-2 1-2 1-3 0-3-1-2M2195 1838l-2 0-3 0-3 1-3 0-3 1-2 1-1 2 0 3 1 3 1 1 3 0 3 0 3 1 3 0 2 0M2147 1797l-2 0-3 0-3 0-3-1-2-1-3 0-2 0-3 1-3 1-2 0-3 1-2 1-1 2-1 3 0 3 1 2 2 3 1 2M2975 804l-3 1-2 0-3 1-3 0-3 0-2 0-3 0-3 0-2-1-1-2 1-3 0-3 0-2-1-3-1-2 0-3 0-3 0-2 1-3 2-3 1-1M3072 789l2 0 3 0 3 0 3 0 2 1 3 0 3 0 2 0 3 0 3 1 3 0 2 0 2-2 2-2 1-3 3-1 2-2 2-1-1-2-3-2-3-1-2-2-2-2-2-1M2969 813l2 0 3-1 3 0 3 1 2 1 3 0 2 1 3 0 3-1 2 0 3-2 2-1 2-3 1-2 2-2 2 1 3 2 2 2 1 2 1 2 1 3 0 3 0 3 0 2M3002 857l1-2 1-3-1-3-2-1-3-2-1-1 1-2 3-1 2-2-2-2-3-1-1-2 0-3 0-3 2-2 2-1 3-2 2-1-1-2-3-2-2-2"/>
<g font-size="15.5" text-anchor="middle" stroke-width="0.7" font-family="Liberation Sans, sans-serif">
<rect x="199.5" y="193.0" width="42" height="19" stroke="#5555bb"/><text x="220.5" y="208.1" fill="#00008b" stroke="none">3000</text>
<rect x="391.0" y="207.0" width="42" height="19" stroke="#5555bb"/><text x="412.0" y="222.1" fill="#00008b" stroke="none">3000</text>
<rect x="648.0" y="279.0" width="42" height="19" stroke="#5555bb"/><text x="669.0" y="294.1" fill="#00008b" stroke="none">3000</text>
<rect x="389.0" y="412.0" width="42" height="19" stroke="#5555bb"/><text x="410.0" y="427.1" fill="#00008b" stroke="none">3000</text>
<rect x="578.0" y="444.0" width="42" height="19" stroke="#5555bb"/><text x="599.0" y="459.1" fill="#00008b" stroke="none">3120</text>
<rect x="264.0" y="163.0" width="28" height="19" stroke="#ff4040"/><text x="278.0" y="178.1" fill="#f00" stroke="none">-10</text>
<rect x="356.0" y="161.0" width="29" height="20" stroke="#ff4040"/><text x="370.5" y="176.6" fill="#f00" stroke="none">-10</text>
<rect x="550.0" y="173.0" width="30" height="20" stroke="#ff4040"/><text x="565.0" y="188.6" fill="#f00" stroke="none">-10</text>
<rect x="706.0" y="247.0" width="30" height="18" stroke="#ff4040"/><text x="721.0" y="261.6" fill="#f00" stroke="none">-10</text>
<rect x="190.0" y="356.0" width="17" height="19" stroke="#ff4040"/><text x="198.5" y="371.1" fill="#f00" stroke="none">0</text>
<rect x="259.0" y="455.0" width="16" height="18" stroke="#ff4040"/><text x="267.0" y="469.6" fill="#f00" stroke="none">0</text>
<rect x="301.0" y="454.5" width="14" height="17" stroke="#ff4040"/><text x="308.0" y="468.6" fill="#f00" stroke="none">0</text>
<rect x="365.0" y="502.5" width="16" height="15" stroke="#ff4040"/><text x="373.0" y="515.6" fill="#f00" stroke="none">0</text>
<rect x="424.0" y="451.0" width="14" height="14" stroke="#ff4040"/><text x="431.0" y="463.6" fill="#f00" stroke="none">0</text>
<rect x="558.0" y="389.0" width="14" height="18" stroke="#ff4040"/><text x="565.0" y="403.6" fill="#f00" stroke="none">0</text>
<rect x="683.0" y="395.0" width="14" height="18" stroke="#ff4040"/><text x="690.0" y="409.6" fill="#f00" stroke="none">0</text>
</g>
</g>
<g stroke="#000" stroke-width="1.1" fill="none">
<rect x="113" y="121.5" width="682.5" height="446"/>
<path d="M99.4 183.4H113M99.4 268.1H113M99.4 351.8H113M99.4 435.8H113M99.4 520.4H113M258.2 567.5V581M409.2 567.5V581M558.8 567.5V581M711.2 567.5V581"/>
</g>
</svg>
</body></html>
